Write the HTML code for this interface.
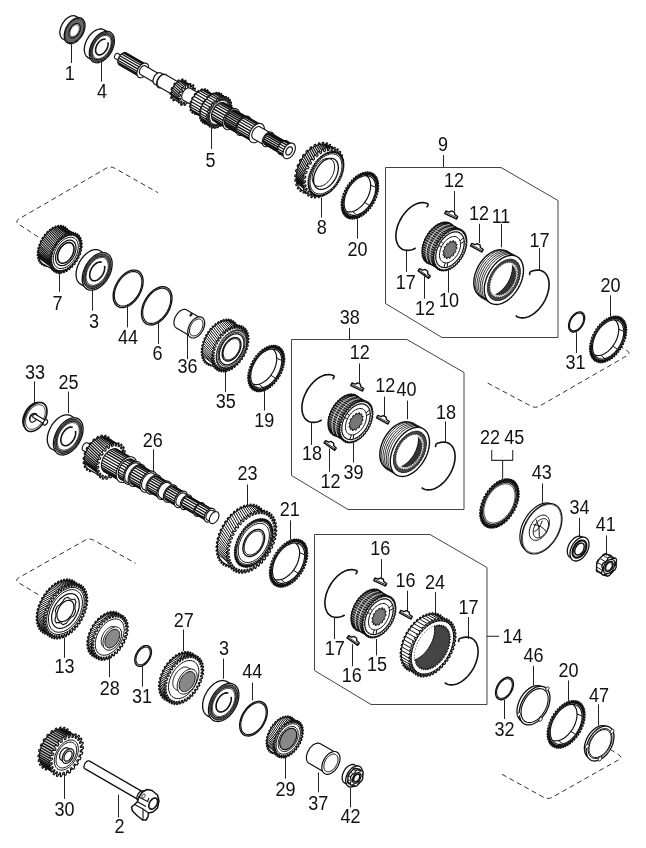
<!DOCTYPE html>
<html><head><meta charset="utf-8"><style>
html,body{margin:0;padding:0;background:#fff;}
svg{display:block;filter:grayscale(1);}
text{font-family:"Liberation Sans",sans-serif;fill:#111;}
</style></head><body>
<svg width="646" height="848" viewBox="0 0 646 848">
<rect width="646" height="848" fill="#fff"/>
<path d="M38.2 237.0L18.7 224.2Q14.5 221.5 18.8 219.0L106.1 168.3Q110.4 165.8 114.8 168.3L157.9 192.6" fill="none" stroke="#333" stroke-width="1.0" stroke-linejoin="round" stroke-dasharray="5 3.5"/>
<path d="M487.7 383.1L531.0 406.1Q535.4 408.5 539.7 406.0L627.0 355.7Q631.3 353.2 627.0 350.7L608.0 339.5" fill="none" stroke="#333" stroke-width="1.0" stroke-linejoin="round" stroke-dasharray="5 3.5"/>
<path d="M38.3 594.6L18.7 582.8Q14.4 580.2 18.8 577.7L84.9 540.3Q89.3 537.8 93.7 540.2L135.7 563.3" fill="none" stroke="#333" stroke-width="1.0" stroke-linejoin="round" stroke-dasharray="5 3.5"/>
<path d="M502.0 774.3L543.6 797.3Q548.0 799.7 552.4 797.2L618.5 759.9Q622.9 757.4 618.7 754.7L600.0 743.0" fill="none" stroke="#333" stroke-width="1.0" stroke-linejoin="round" stroke-dasharray="5 3.5"/>
<path d="M385.5 167.5 L501.0 167.5 L558.0 200.5 L558.0 337.5 L442.0 337.5 L385.5 303.5Z" fill="none" stroke="#444" stroke-width="1.0" stroke-linejoin="round" />
<path d="M415.7 248.1 L414.4 248.7 L413.2 249.3 L411.9 249.7 L410.7 250.0 L409.5 250.3 L408.3 250.4 L407.1 250.4 L406.0 250.3 L404.9 250.1 L403.8 249.8 L402.8 249.5 L401.9 249.0 L401.0 248.4 L400.2 247.7 L399.4 246.9 L398.7 246.0 L398.1 245.1 L397.6 244.0 L397.1 242.9 L396.7 241.8 L396.4 240.5 L396.1 239.2 L396.0 237.8 L395.9 236.4 L395.9 235.0 L396.0 233.5 L396.2 231.9 L396.5 230.4 L396.8 228.8 L397.2 227.3 L397.7 225.7 L398.3 224.1 L399.0 222.5 L399.7 221.0 L400.5 219.5 L401.3 218.0 L402.2 216.5 L403.2 215.1 L404.2 213.7 L405.3 212.4 L406.4 211.2 L407.5 210.0 L408.7 208.9 L409.9 207.9 L411.1 206.9 L412.3 206.1 L413.6 205.3 L414.9 204.6 L416.1 204.0 L417.4 203.5 L418.6 203.1 L419.8 202.9 L421.0 202.7 L422.2 202.6 L423.4 202.6 L424.5 202.7 L425.6 203.0 L426.6 203.3 L427.6 203.7 L428.5 204.3" fill="none" stroke="#111" stroke-width="1.6" stroke-linejoin="round" />
<path d="M529.7 272.2 L530.9 271.6 L532.2 271.1 L533.5 270.7 L534.7 270.4 L535.9 270.2 L537.1 270.1 L538.3 270.1 L539.4 270.2 L540.5 270.5 L541.6 270.8 L542.5 271.2 L543.5 271.8 L544.4 272.4 L545.2 273.2 L545.9 274.0 L546.6 274.9 L547.2 275.9 L547.7 277.0 L548.1 278.2 L548.5 279.4 L548.8 280.7 L548.9 282.1 L549.1 283.5 L549.1 284.9 L549.0 286.4 L548.9 288.0 L548.6 289.5 L548.3 291.1 L547.9 292.7 L547.4 294.3 L546.9 295.9 L546.2 297.5 L545.5 299.1 L544.8 300.6 L543.9 302.1 L543.0 303.6 L542.1 305.1 L541.0 306.4 L540.0 307.8 L538.9 309.1 L537.7 310.3 L536.5 311.4 L535.3 312.5 L534.1 313.4 L532.8 314.3 L531.6 315.1 L530.3 315.8 L529.0 316.4 L527.7 316.9 L526.5 317.3 L525.2 317.6 L524.0 317.8 L522.8 317.9 L521.6 317.9 L520.5 317.8 L519.4 317.5 L518.4 317.2 L517.4 316.7 L516.5 316.2 L515.6 315.6" fill="none" stroke="#111" stroke-width="1.6" stroke-linejoin="round" />
<path d="M428.5 204.3L426.7 207.3" fill="none" stroke="#111" stroke-width="1.6" stroke-linejoin="round" />
<path d="M529.7 272.2L529.7 275.1" fill="none" stroke="#111" stroke-width="1.6" stroke-linejoin="round" />
<g transform="translate(451.5 214.5) rotate(25) scale(1.0)"><path d="M-6.5 -0.8 L-3 -1.3 L-1.6 -3.3 L1.6 -3.3 L3 -1.3 L6.5 -0.8 L6.5 2 L-6.5 2Z" fill="#fff" stroke="#111" stroke-width="1.4" stroke-linejoin="round"/><path d="M-6.5 0.6L6.5 0.6" stroke="#111" stroke-width="0.8"/></g>
<g transform="translate(477.2 247.2) rotate(28) scale(1.0)"><path d="M-6.5 -0.8 L-3 -1.3 L-1.6 -3.3 L1.6 -3.3 L3 -1.3 L6.5 -0.8 L6.5 2 L-6.5 2Z" fill="#fff" stroke="#111" stroke-width="1.4" stroke-linejoin="round"/><path d="M-6.5 0.6L6.5 0.6" stroke="#111" stroke-width="0.8"/></g>
<g transform="translate(424.5 273.0) rotate(35) scale(1.0)"><path d="M-6.5 -0.8 L-3 -1.3 L-1.6 -3.3 L1.6 -3.3 L3 -1.3 L6.5 -0.8 L6.5 2 L-6.5 2Z" fill="#fff" stroke="#111" stroke-width="1.4" stroke-linejoin="round"/><path d="M-6.5 0.6L6.5 0.6" stroke="#111" stroke-width="0.8"/></g>
<path d="M449.6 224.4 L450.7 223.4 L451.2 223.7 L450.7 225.1 L451.1 225.5 L452.2 224.6 L452.6 225.0 L452.0 226.4 L452.4 226.9 L453.5 226.2 L453.8 226.7 L453.1 228.1 L453.4 228.6 L454.5 228.1 L454.8 228.7 L453.9 230.0 L454.1 230.6 L455.2 230.3 L455.4 231.0 L454.5 232.2 L454.6 232.8 L455.6 232.7 L455.7 233.5 L454.7 234.5 L454.7 235.3 L455.7 235.3 L455.7 236.1 L454.6 237.1 L454.6 237.9 L455.5 238.1 L455.4 238.9 L454.3 239.7 L454.1 240.5 L455.0 240.9 L454.8 241.8 L453.7 242.4 L453.4 243.3 L454.2 243.8 L453.9 244.7 L452.7 245.2 L452.4 246.0 L453.0 246.7 L452.6 247.6 L451.6 247.9 L451.2 248.6 L451.7 249.6 L451.2 250.4 L450.1 250.5 L449.7 251.2 L450.0 252.3 L449.5 253.0 L448.5 252.9 L448.0 253.6 L448.2 254.8 L447.6 255.5 L446.7 255.2 L446.1 255.9 L446.2 257.1 L445.5 257.8 L444.7 257.3 L444.1 257.9 L444.0 259.2 L443.4 259.8 L442.7 259.1 L442.0 259.6 L441.8 261.0 L441.1 261.4 L440.5 260.6 L439.9 261.0 L439.5 262.4 L438.8 262.8 L438.3 261.8 L437.7 262.1 L437.2 263.5 L436.5 263.7 L436.2 262.6 L435.5 262.8 L434.9 264.2 L434.2 264.3 L434.1 263.1 L433.4 263.2 L432.7 264.5 L432.0 264.5 L432.0 263.2 L431.4 263.2 L430.6 264.4 L430.0 264.3 L430.1 262.9 L429.6 262.8 L428.6 263.9 L428.1 263.7 L428.4 262.3 L427.9 262.0 L426.8 263.1 L426.4 262.7 L426.8 261.3 L426.4 260.9 L425.3 261.8 L424.9 261.4 L425.5 260.0 L425.1 259.5 L424.0 260.2 L423.7 259.7 L424.4 258.3 L424.1 257.8 L423.0 258.3 L422.8 257.7 L423.6 256.4 L423.4 255.8 L422.3 256.2 L422.1 255.4 L423.1 254.3 L423.0 253.6 L421.9 253.7 L421.8 253.0 L422.8 251.9 L422.8 251.1 L421.8 251.1 L421.8 250.3 L422.9 249.3 L422.9 248.6 L422.0 248.3 L422.1 247.5 L423.2 246.7 L423.4 245.9 L422.5 245.5 L422.7 244.6 L423.9 244.0 L424.1 243.2 L423.4 242.6 L423.7 241.7 L424.8 241.2 L425.1 240.4 L424.5 239.7 L424.9 238.8 L426.0 238.6 L426.4 237.8 L425.9 236.9 L426.3 236.0 L427.4 236.0 L427.8 235.2 L427.5 234.1 L428.0 233.4 L429.0 233.5 L429.5 232.8 L429.3 231.6 L429.9 230.9 L430.8 231.2 L431.4 230.5 L431.3 229.3 L432.0 228.6 L432.8 229.1 L433.4 228.6 L433.5 227.2 L434.2 226.7 L434.9 227.3 L435.5 226.8 L435.7 225.5 L436.4 225.0 L437.0 225.8 L437.6 225.4 L438.0 224.0 L438.7 223.7 L439.2 224.6 L439.8 224.3 L440.4 222.9 L441.0 222.7 L441.3 223.8 L442.0 223.6 L442.6 222.2 L443.3 222.1 L443.5 223.3 L444.1 223.2 L444.9 221.9 L445.5 221.9 L445.5 223.2 L446.1 223.2 L447.0 222.0 L447.6 222.1 L447.4 223.5 L447.9 223.6 L448.9 222.5 L449.5 222.7 L449.1 224.1Z" fill="#fff" stroke="#111" stroke-width="1.1" stroke-linejoin="round" />
<path d="M450.0 223.8 L448.9 223.2 L447.7 222.8 L446.5 222.6 L445.2 222.6 L443.8 222.6 L442.5 222.9 L441.0 223.3 L439.6 223.8 L438.2 224.5 L436.7 225.4 L435.3 226.4 L433.9 227.5 L432.6 228.7 L431.3 230.0 L430.0 231.4 L428.8 233.0 L427.7 234.6 L426.7 236.2 L425.8 238.0 L424.9 239.7 L424.2 241.5 L423.6 243.3 L423.1 245.1 L422.7 246.9 L422.4 248.7 L422.3 250.4 L422.3 252.0 L422.4 253.6 L422.6 255.1 L423.0 256.6 L423.5 257.9 L424.1 259.1 L424.8 260.2 L425.6 261.1 L426.5 262.0 L427.5 262.6 L438.8 269.1 L439.9 269.7 L441.1 270.1 L442.3 270.3 L443.6 270.4 L444.9 270.3 L446.3 270.0 L447.7 269.6 L449.2 269.1 L450.6 268.4 L452.0 267.5 L453.5 266.6 L454.8 265.5 L456.2 264.2 L457.5 262.9 L458.8 261.5 L459.9 259.9 L461.0 258.3 L462.1 256.7 L463.0 254.9 L463.8 253.2 L464.6 251.4 L465.2 249.6 L465.7 247.8 L466.1 246.0 L466.3 244.3 L466.5 242.5 L466.5 240.9 L466.4 239.3 L466.1 237.8 L465.8 236.3 L465.3 235.0 L464.7 233.8 L464.0 232.7 L463.2 231.8 L462.2 230.9 L461.2 230.3Z" fill="#999" stroke="#111" stroke-width="1.1" stroke-linejoin="round" />
<path d="M436.9 267.6L425.6 261.1M435.8 266.4L424.6 259.9M435.0 264.9L423.7 258.4M434.3 263.3L423.1 256.8M433.9 261.4L422.6 254.9M433.6 259.5L422.3 253.0M433.5 257.4L422.3 250.9M433.7 255.2L422.4 248.7M434.0 253.0L422.8 246.5M434.6 250.7L423.3 244.2M435.3 248.4L424.1 241.9M436.3 246.1L425.0 239.6M437.4 243.8L426.1 237.3M438.6 241.7L427.3 235.2M440.0 239.6L428.7 233.1M441.5 237.7L430.3 231.2M443.1 235.9L431.9 229.4M444.9 234.2L433.6 227.7M446.6 232.8L435.4 226.3M448.4 231.6L437.2 225.1M450.3 230.6L439.0 224.1M452.1 229.8L440.9 223.3M453.9 229.3L442.7 222.8M455.7 229.1L444.4 222.6M457.4 229.1L446.1 222.6M459.0 229.3L447.7 222.8" fill="none" stroke="#111" stroke-width="1.1" stroke-linejoin="round" />
<path d="M460.9 230.9 L461.9 229.9 L462.4 230.2 L462.0 231.6 L462.4 232.0 L463.5 231.1 L463.9 231.5 L463.3 232.9 L463.6 233.4 L464.8 232.7 L465.1 233.2 L464.4 234.6 L464.6 235.1 L465.8 234.6 L466.0 235.2 L465.2 236.5 L465.4 237.1 L466.5 236.8 L466.6 237.5 L465.7 238.7 L465.8 239.3 L466.9 239.2 L467.0 240.0 L466.0 241.0 L466.0 241.8 L467.0 241.8 L467.0 242.6 L465.9 243.6 L465.8 244.4 L466.8 244.6 L466.7 245.4 L465.6 246.2 L465.4 247.0 L466.2 247.4 L466.0 248.3 L464.9 248.9 L464.7 249.8 L465.4 250.3 L465.1 251.2 L464.0 251.7 L463.7 252.5 L464.3 253.2 L463.9 254.1 L462.8 254.4 L462.4 255.1 L462.9 256.1 L462.4 256.9 L461.4 257.0 L460.9 257.7 L461.3 258.8 L460.8 259.5 L459.8 259.4 L459.2 260.1 L459.4 261.3 L458.9 262.0 L458.0 261.7 L457.4 262.4 L457.4 263.6 L456.8 264.3 L456.0 263.8 L455.4 264.4 L455.3 265.7 L454.6 266.3 L453.9 265.6 L453.3 266.1 L453.0 267.5 L452.4 267.9 L451.8 267.1 L451.1 267.5 L450.7 268.9 L450.0 269.3 L449.6 268.3 L449.0 268.6 L448.4 270.0 L447.7 270.2 L447.4 269.1 L446.8 269.3 L446.1 270.7 L445.5 270.8 L445.3 269.6 L444.7 269.7 L443.9 271.0 L443.3 271.0 L443.3 269.7 L442.7 269.7 L441.8 270.9 L441.2 270.8 L441.4 269.4 L440.8 269.3 L439.9 270.4 L439.3 270.2 L439.6 268.8 L439.1 268.5 L438.1 269.6 L437.6 269.2 L438.1 267.8 L437.7 267.4 L436.6 268.3 L436.2 267.9 L436.7 266.5 L436.4 266.0 L435.3 266.7 L434.9 266.2 L435.7 264.8 L435.4 264.3 L434.3 264.8 L434.0 264.2 L434.8 262.9 L434.7 262.3 L433.5 262.7 L433.4 261.9 L434.3 260.8 L434.2 260.1 L433.1 260.2 L433.1 259.5 L434.1 258.4 L434.1 257.6 L433.0 257.6 L433.1 256.8 L434.1 255.8 L434.2 255.1 L433.3 254.8 L433.4 254.0 L434.5 253.2 L434.6 252.4 L433.8 252.0 L434.0 251.1 L435.1 250.5 L435.4 249.7 L434.6 249.1 L434.9 248.2 L436.0 247.7 L436.4 246.9 L435.7 246.2 L436.1 245.3 L437.2 245.1 L437.6 244.3 L437.1 243.4 L437.6 242.5 L438.6 242.5 L439.1 241.7 L438.7 240.6 L439.3 239.9 L440.3 240.0 L440.8 239.3 L440.6 238.1 L441.2 237.4 L442.1 237.7 L442.7 237.0 L442.6 235.8 L443.2 235.1 L444.0 235.6 L444.6 235.1 L444.7 233.7 L445.4 233.2 L446.1 233.8 L446.7 233.3 L447.0 232.0 L447.7 231.5 L448.3 232.3 L448.9 231.9 L449.3 230.5 L450.0 230.2 L450.4 231.1 L451.1 230.8 L451.6 229.4 L452.3 229.2 L452.6 230.3 L453.2 230.1 L453.9 228.7 L454.6 228.6 L454.7 229.8 L455.3 229.7 L456.1 228.4 L456.8 228.4 L456.8 229.7 L457.3 229.7 L458.2 228.5 L458.8 228.6 L458.7 230.0 L459.2 230.1 L460.2 229.0 L460.7 229.2 L460.4 230.6Z" fill="#fff" stroke="#111" stroke-width="1.1" stroke-linejoin="round" />
<path d="M459.7 232.9 L461.0 233.8 L462.1 235.0 L463.0 236.5 L463.7 238.1 L464.1 240.0 L464.3 242.1 L464.2 244.2 L463.9 246.5 L463.4 248.8 L462.6 251.2 L461.6 253.5 L460.5 255.7 L459.1 257.9 L457.6 259.9 L455.9 261.7 L454.2 263.3 L452.4 264.7 L450.5 265.9 L448.7 266.7 L446.8 267.3 L445.0 267.6 L443.3 267.5 L441.7 267.2 L440.3 266.5 L439.0 265.6 L437.9 264.4 L437.0 263.0 L436.4 261.3 L435.9 259.4 L435.8 257.4 L435.8 255.2 L436.1 252.9 L436.6 250.6 L437.4 248.2 L438.4 245.9 L439.6 243.7 L440.9 241.5 L442.4 239.5 L444.1 237.7 L445.8 236.1 L447.7 234.7 L449.5 233.5 L451.4 232.7 L453.2 232.1 L455.0 231.8 L456.7 231.9 L458.3 232.2 L459.7 232.9Z" fill="#fff" stroke="#111" stroke-width="1.2" stroke-linejoin="round" />
<path d="M457.2 237.3 L458.1 238.0 L458.9 238.8 L459.6 239.9 L460.1 241.2 L460.4 242.6 L460.5 244.1 L460.5 245.7 L460.3 247.3 L459.9 249.1 L459.3 250.8 L458.6 252.5 L457.7 254.2 L456.7 255.7 L455.6 257.2 L454.4 258.6 L453.1 259.8 L451.8 260.8 L450.4 261.6 L449.0 262.3 L447.7 262.7 L446.3 262.9 L445.1 262.9 L443.9 262.6 L442.8 262.1 L441.9 261.4 L441.1 260.6 L440.4 259.5 L439.9 258.2 L439.6 256.9 L439.5 255.3 L439.5 253.7 L439.8 252.1 L440.1 250.4 L440.7 248.6 L441.4 246.9 L442.3 245.3 L443.3 243.7 L444.4 242.2 L445.6 240.8 L446.9 239.6 L448.3 238.6 L449.6 237.8 L451.0 237.1 L452.4 236.7 L453.7 236.5 L455.0 236.5 L456.1 236.8 L457.2 237.3Z" fill="none" stroke="#111" stroke-width="1.0" stroke-linejoin="round" />
<path d="M454.1 242.6 L455.3 241.6 L455.9 242.2 L455.3 243.7 L455.6 244.4 L456.9 244.0 L457.1 245.0 L456.0 246.3 L456.0 247.3 L457.1 247.6 L456.8 248.8 L455.6 249.6 L455.2 250.6 L455.8 251.6 L455.2 252.7 L454.0 252.9 L453.4 253.8 L453.5 255.2 L452.6 256.1 L451.7 255.5 L450.9 256.1 L450.4 257.7 L449.5 258.2 L449.0 257.1 L448.2 257.2 L447.3 258.6 L446.4 258.6 L446.5 257.1 L445.9 256.8 L444.7 257.8 L444.1 257.2 L444.7 255.7 L444.4 255.0 L443.2 255.4 L443.0 254.4 L444.0 253.1 L444.0 252.2 L443.0 251.8 L443.2 250.6 L444.4 249.8 L444.8 248.8 L444.2 247.8 L444.8 246.7 L446.0 246.5 L446.6 245.6 L446.6 244.2 L447.4 243.3 L448.3 243.9 L449.1 243.3 L449.6 241.7 L450.6 241.2 L451.0 242.4 L451.8 242.2 L452.7 240.8 L453.6 240.8 L453.5 242.3Z" fill="#777" stroke="#111" stroke-width="1.0" stroke-linejoin="round" />
<path d="M432.0 264.1 L431.6 263.4 L431.2 262.7 L430.9 261.9 L430.6 261.1 L430.4 260.3 L430.2 259.4 L430.0 258.5 L429.9 257.5 L429.8 256.6 L429.8 255.6 L429.9 254.5 L429.9 253.5 L430.1 252.4 L430.2 251.4 L430.4 250.3 L430.7 249.2 L431.0 248.1 L431.3 247.0 L431.7 245.9 L432.2 244.8 L432.6 243.8 L433.1 242.7 L433.7 241.6 L434.2 240.6 L434.9 239.6 L435.5 238.6 L436.2 237.6 L436.9 236.7 L437.6 235.8 L438.4 234.9 L439.1 234.0 L439.9 233.2 L440.7 232.5 L441.6 231.7 L442.4 231.1 L443.3 230.4 L444.1 229.8 L445.0 229.3 L445.9 228.8 L446.7 228.4 L447.6 228.0 L448.5 227.7 L449.3 227.4 L450.2 227.2 L451.0 227.0 L451.9 226.9 L452.7 226.9 L453.5 226.9" fill="none" stroke="#fff" stroke-width="0.8" stroke-linejoin="round" />
<path d="M428.3 261.9 L427.9 261.3 L427.5 260.5 L427.2 259.8 L426.9 259.0 L426.7 258.1 L426.5 257.2 L426.3 256.3 L426.2 255.4 L426.1 254.4 L426.1 253.4 L426.1 252.4 L426.2 251.4 L426.3 250.3 L426.5 249.2 L426.7 248.1 L427.0 247.1 L427.3 246.0 L427.6 244.9 L428.0 243.8 L428.4 242.7 L428.9 241.6 L429.4 240.5 L430.0 239.5 L430.5 238.5 L431.1 237.4 L431.8 236.4 L432.5 235.5 L433.2 234.5 L433.9 233.6 L434.6 232.7 L435.4 231.9 L436.2 231.1 L437.0 230.3 L437.9 229.6 L438.7 228.9 L439.5 228.3 L440.4 227.7 L441.3 227.2 L442.1 226.7 L443.0 226.2 L443.9 225.9 L444.8 225.5 L445.6 225.3 L446.5 225.1 L447.3 224.9 L448.1 224.8 L449.0 224.8 L449.7 224.8" fill="none" stroke="#fff" stroke-width="0.8" stroke-linejoin="round" />
<path d="M463.6 237.8L460.0 240.9M464.2 241.5L460.5 243.6M447.1 267.2L447.8 262.7M443.7 267.6L445.4 262.9M438.5 245.6L441.6 246.7M441.0 241.4L443.4 243.6" fill="none" stroke="#111" stroke-width="1.0" stroke-linejoin="round" />
<path d="M505.4 251.2 L504.2 250.6 L502.9 250.1 L501.4 249.9 L500.0 249.8 L498.4 249.9 L496.8 250.2 L495.2 250.6 L493.6 251.3 L491.9 252.1 L490.3 253.0 L488.7 254.1 L487.1 255.4 L485.5 256.8 L484.1 258.3 L482.6 260.0 L481.3 261.7 L480.0 263.5 L478.8 265.4 L477.8 267.4 L476.8 269.4 L476.0 271.5 L475.3 273.5 L474.7 275.6 L474.3 277.6 L474.0 279.6 L473.8 281.6 L473.8 283.5 L473.9 285.3 L474.2 287.0 L474.6 288.7 L475.2 290.2 L475.8 291.5 L476.7 292.8 L477.6 293.9 L478.6 294.8 L479.8 295.6 L491.0 302.1 L492.3 302.7 L493.6 303.2 L495.0 303.4 L496.5 303.5 L498.1 303.4 L499.6 303.1 L501.3 302.7 L502.9 302.0 L504.5 301.2 L506.2 300.3 L507.8 299.1 L509.4 297.9 L510.9 296.5 L512.4 295.0 L513.9 293.3 L515.2 291.6 L516.5 289.7 L517.6 287.8 L518.7 285.9 L519.7 283.9 L520.5 281.8 L521.2 279.8 L521.8 277.7 L522.2 275.7 L522.5 273.7 L522.7 271.7 L522.7 269.8 L522.6 268.0 L522.3 266.2 L521.9 264.6 L521.3 263.1 L520.6 261.7 L519.8 260.5 L518.9 259.4 L517.9 258.4 L516.7 257.7Z" fill="#fff" stroke="#111" stroke-width="1.4" stroke-linejoin="round" />
<path d="M517.2 256.7 L519.0 258.0 L520.5 259.7 L521.7 261.7 L522.6 264.0 L523.2 266.6 L523.5 269.4 L523.4 272.4 L523.0 275.5 L522.3 278.7 L521.2 281.9 L519.9 285.1 L518.2 288.2 L516.4 291.1 L514.3 293.9 L512.0 296.4 L509.6 298.7 L507.1 300.6 L504.6 302.1 L502.0 303.3 L499.5 304.1 L497.0 304.5 L494.7 304.4 L492.5 303.9 L490.5 303.1 L488.7 301.8 L487.2 300.1 L486.0 298.1 L485.1 295.8 L484.5 293.2 L484.3 290.4 L484.3 287.4 L484.7 284.3 L485.5 281.1 L486.5 277.9 L487.9 274.7 L489.5 271.6 L491.4 268.6 L493.5 265.9 L495.7 263.4 L498.1 261.1 L500.6 259.2 L503.2 257.6 L505.7 256.5 L508.3 255.7 L510.7 255.3 L513.1 255.4 L515.3 255.8 L517.2 256.7Z" fill="#fff" stroke="#111" stroke-width="1.4" stroke-linejoin="round" />
<path d="M488.2 301.8 L487.3 301.2 L486.5 300.5 L485.7 299.7 L485.0 298.8 L484.3 297.9 L483.8 296.8 L483.3 295.7 L482.8 294.5 L482.5 293.2 L482.3 291.9 L482.1 290.5 L482.0 289.1 L482.0 287.6 L482.1 286.1 L482.2 284.6 L482.5 283.0 L482.8 281.4 L483.2 279.8 L483.7 278.2 L484.3 276.6 L484.9 275.0 L485.6 273.4 L486.4 271.8 L487.3 270.3 L488.2 268.8 L489.1 267.3 L490.1 265.9 L491.2 264.6 L492.3 263.3 L493.5 262.1 L494.7 260.9 L495.9 259.8 L497.1 258.8 L498.4 257.9 L499.6 257.1 L500.9 256.3 L502.2 255.7 L503.5 255.2 L504.8 254.7 L506.0 254.4 L507.3 254.1 L508.5 254.0 L509.7 254.0 L510.8 254.1 L511.9 254.2 L513.0 254.5 L514.0 254.9 L515.0 255.4" fill="none" stroke="#111" stroke-width="0.9" stroke-linejoin="round" />
<path d="M486.6 300.8 L485.6 300.2 L484.8 299.5 L484.0 298.7 L483.3 297.8 L482.6 296.9 L482.1 295.8 L481.6 294.7 L481.2 293.5 L480.8 292.3 L480.6 290.9 L480.4 289.6 L480.3 288.1 L480.3 286.7 L480.4 285.1 L480.6 283.6 L480.8 282.0 L481.1 280.4 L481.5 278.8 L482.0 277.2 L482.6 275.6 L483.2 274.0 L483.9 272.4 L484.7 270.9 L485.6 269.3 L486.5 267.8 L487.4 266.4 L488.4 265.0 L489.5 263.6 L490.6 262.3 L491.8 261.1 L493.0 259.9 L494.2 258.8 L495.4 257.8 L496.7 256.9 L497.9 256.1 L499.2 255.4 L500.5 254.7 L501.8 254.2 L503.1 253.7 L504.3 253.4 L505.6 253.2 L506.8 253.0 L508.0 253.0 L509.1 253.1 L510.2 253.3 L511.3 253.6 L512.3 253.9 L513.3 254.4" fill="none" stroke="#111" stroke-width="0.9" stroke-linejoin="round" />
<path d="M484.9 299.8 L484.0 299.2 L483.1 298.5 L482.3 297.7 L481.6 296.9 L481.0 295.9 L480.4 294.9 L479.9 293.8 L479.5 292.6 L479.1 291.3 L478.9 290.0 L478.7 288.6 L478.6 287.2 L478.6 285.7 L478.7 284.2 L478.9 282.6 L479.1 281.0 L479.4 279.4 L479.8 277.8 L480.3 276.2 L480.9 274.6 L481.5 273.0 L482.3 271.4 L483.0 269.9 L483.9 268.3 L484.8 266.8 L485.7 265.4 L486.8 264.0 L487.8 262.6 L488.9 261.3 L490.1 260.1 L491.3 258.9 L492.5 257.9 L493.7 256.9 L495.0 256.0 L496.3 255.1 L497.5 254.4 L498.8 253.7 L500.1 253.2 L501.4 252.8 L502.6 252.4 L503.9 252.2 L505.1 252.1 L506.3 252.0 L507.4 252.1 L508.6 252.3 L509.6 252.6 L510.7 253.0 L511.6 253.5" fill="none" stroke="#111" stroke-width="0.9" stroke-linejoin="round" />
<path d="M483.2 298.8 L482.3 298.2 L481.4 297.6 L480.6 296.8 L479.9 295.9 L479.3 294.9 L478.7 293.9 L478.2 292.8 L477.8 291.6 L477.4 290.3 L477.2 289.0 L477.0 287.6 L476.9 286.2 L476.9 284.7 L477.0 283.2 L477.2 281.6 L477.4 280.1 L477.7 278.5 L478.2 276.9 L478.6 275.3 L479.2 273.6 L479.9 272.0 L480.6 270.5 L481.3 268.9 L482.2 267.4 L483.1 265.9 L484.1 264.4 L485.1 263.0 L486.1 261.7 L487.2 260.4 L488.4 259.1 L489.6 258.0 L490.8 256.9 L492.0 255.9 L493.3 255.0 L494.6 254.1 L495.9 253.4 L497.1 252.8 L498.4 252.2 L499.7 251.8 L501.0 251.4 L502.2 251.2 L503.4 251.1 L504.6 251.1 L505.8 251.1 L506.9 251.3 L507.9 251.6 L509.0 252.0 L509.9 252.5" fill="none" stroke="#111" stroke-width="0.9" stroke-linejoin="round" />
<path d="M481.5 297.9 L480.6 297.3 L479.7 296.6 L478.9 295.8 L478.2 294.9 L477.6 294.0 L477.0 292.9 L476.5 291.8 L476.1 290.6 L475.8 289.3 L475.5 288.0 L475.3 286.6 L475.2 285.2 L475.2 283.7 L475.3 282.2 L475.5 280.7 L475.7 279.1 L476.1 277.5 L476.5 275.9 L477.0 274.3 L477.5 272.7 L478.2 271.1 L478.9 269.5 L479.7 267.9 L480.5 266.4 L481.4 264.9 L482.4 263.4 L483.4 262.0 L484.4 260.7 L485.6 259.4 L486.7 258.2 L487.9 257.0 L489.1 255.9 L490.4 254.9 L491.6 254.0 L492.9 253.2 L494.2 252.4 L495.4 251.8 L496.7 251.3 L498.0 250.8 L499.3 250.5 L500.5 250.2 L501.7 250.1 L502.9 250.1 L504.1 250.2 L505.2 250.3 L506.3 250.6 L507.3 251.0 L508.2 251.5" fill="none" stroke="#111" stroke-width="0.9" stroke-linejoin="round" />
<clipPath id="c1"><path d="M515.1 260.4 L516.6 261.5 L517.8 262.9 L518.9 264.6 L519.6 266.5 L520.1 268.7 L520.4 271.1 L520.3 273.6 L519.9 276.2 L519.3 278.9 L518.4 281.6 L517.3 284.3 L515.9 286.9 L514.4 289.3 L512.6 291.7 L510.7 293.8 L508.7 295.7 L506.6 297.3 L504.5 298.6 L502.3 299.6 L500.2 300.2 L498.1 300.5 L496.1 300.5 L494.3 300.1 L492.6 299.4 L491.2 298.3 L489.9 296.9 L488.9 295.2 L488.1 293.3 L487.6 291.1 L487.4 288.7 L487.5 286.2 L487.8 283.6 L488.4 280.9 L489.3 278.2 L490.4 275.5 L491.8 272.9 L493.4 270.4 L495.1 268.1 L497.0 266.0 L499.0 264.1 L501.1 262.5 L503.3 261.2 L505.4 260.2 L507.6 259.5 L509.6 259.2 L511.6 259.3 L513.4 259.7 L515.1 260.4Z"/></clipPath>
<path d="M514.2 262.0 L515.4 260.6 L515.9 261.0 L515.3 262.7 L515.7 263.1 L517.0 261.9 L517.4 262.3 L516.6 264.0 L516.9 264.5 L518.3 263.5 L518.6 264.1 L517.6 265.7 L517.9 266.3 L519.3 265.5 L519.5 266.1 L518.4 267.7 L518.6 268.3 L520.0 267.8 L520.1 268.5 L518.9 269.9 L519.0 270.6 L520.3 270.3 L520.4 271.1 L519.0 272.3 L519.0 273.0 L520.3 273.0 L520.3 273.8 L518.9 274.8 L518.8 275.6 L520.0 275.8 L519.8 276.7 L518.5 277.5 L518.3 278.3 L519.4 278.7 L519.1 279.6 L517.7 280.2 L517.4 281.0 L518.4 281.7 L518.1 282.6 L516.7 282.9 L516.3 283.7 L517.1 284.6 L516.7 285.4 L515.4 285.5 L515.0 286.3 L515.6 287.4 L515.1 288.2 L513.9 288.1 L513.4 288.8 L513.8 290.1 L513.3 290.8 L512.2 290.4 L511.6 291.1 L511.9 292.5 L511.3 293.2 L510.3 292.6 L509.7 293.2 L509.7 294.7 L509.1 295.3 L508.2 294.5 L507.6 295.0 L507.5 296.6 L506.8 297.1 L506.1 296.0 L505.5 296.5 L505.2 298.2 L504.5 298.6 L504.0 297.3 L503.3 297.6 L502.8 299.4 L502.1 299.6 L501.8 298.2 L501.2 298.4 L500.5 300.2 L499.8 300.3 L499.7 298.8 L499.1 298.8 L498.2 300.5 L497.6 300.6 L497.7 298.9 L497.1 298.9 L496.1 300.5 L495.5 300.4 L495.8 298.7 L495.2 298.5 L494.1 300.0 L493.5 299.8 L494.0 298.1 L493.5 297.8 L492.3 299.1 L491.8 298.8 L492.5 297.1 L492.1 296.7 L490.7 297.9 L490.3 297.4 L491.2 295.7 L490.8 295.3 L489.5 296.2 L489.1 295.7 L490.1 294.1 L489.9 293.5 L488.5 294.3 L488.2 293.6 L489.3 292.1 L489.2 291.5 L487.8 292.0 L487.6 291.3 L488.9 289.9 L488.8 289.2 L487.4 289.5 L487.4 288.7 L488.7 287.5 L488.7 286.8 L487.4 286.8 L487.5 286.0 L488.8 285.0 L488.9 284.2 L487.7 284.0 L487.9 283.1 L489.3 282.3 L489.5 281.5 L488.4 281.0 L488.6 280.2 L490.0 279.6 L490.3 278.8 L489.3 278.1 L489.7 277.2 L491.1 276.9 L491.4 276.1 L490.6 275.2 L491.0 274.3 L492.3 274.3 L492.8 273.5 L492.1 272.4 L492.6 271.5 L493.9 271.7 L494.4 271.0 L493.9 269.7 L494.5 268.9 L495.6 269.4 L496.1 268.7 L495.9 267.2 L496.5 266.6 L497.5 267.2 L498.1 266.6 L498.0 265.0 L498.7 264.4 L499.5 265.3 L500.1 264.8 L500.3 263.1 L500.9 262.6 L501.6 263.7 L502.3 263.3 L502.6 261.6 L503.3 261.2 L503.8 262.5 L504.4 262.2 L504.9 260.4 L505.6 260.1 L505.9 261.6 L506.6 261.4 L507.3 259.6 L508.0 259.5 L508.0 261.0 L508.7 260.9 L509.5 259.2 L510.2 259.2 L510.1 260.9 L510.7 260.9 L511.7 259.3 L512.3 259.4 L512.0 261.1 L512.5 261.3 L513.7 259.8 L514.2 260.0 L513.7 261.7Z" fill="#333" stroke="#111" stroke-width="1.0" stroke-linejoin="round" />
<g clip-path="url(#c1)">
<path d="M507.2 255.9 L508.7 256.9 L510.0 258.3 L511.0 260.0 L511.8 262.0 L512.3 264.1 L512.5 266.5 L512.4 269.0 L512.1 271.6 L511.4 274.3 L510.6 277.0 L509.4 279.7 L508.1 282.3 L506.5 284.8 L504.7 287.1 L502.8 289.2 L500.8 291.1 L498.7 292.7 L496.6 294.0 L494.4 295.0 L492.3 295.7 L490.2 296.0 L488.3 295.9 L486.4 295.5 L484.8 294.8 L483.3 293.7 L482.0 292.3 L481.0 290.7 L480.2 288.7 L479.7 286.5 L479.5 284.2 L479.6 281.7 L479.9 279.0 L480.5 276.3 L481.4 273.6 L482.6 271.0 L483.9 268.4 L485.5 265.9 L487.2 263.6 L489.1 261.5 L491.2 259.6 L493.3 258.0 L495.4 256.6 L497.6 255.7 L499.7 255.0 L501.8 254.7 L503.7 254.7 L505.6 255.1 L507.2 255.9Z" fill="#fff" stroke="#111" stroke-width="1.0" stroke-linejoin="round" />
</g>
<path d="M515.1 260.4 L516.6 261.5 L517.8 262.9 L518.9 264.6 L519.6 266.5 L520.1 268.7 L520.4 271.1 L520.3 273.6 L519.9 276.2 L519.3 278.9 L518.4 281.6 L517.3 284.3 L515.9 286.9 L514.4 289.3 L512.6 291.7 L510.7 293.8 L508.7 295.7 L506.6 297.3 L504.5 298.6 L502.3 299.6 L500.2 300.2 L498.1 300.5 L496.1 300.5 L494.3 300.1 L492.6 299.4 L491.2 298.3 L489.9 296.9 L488.9 295.2 L488.1 293.3 L487.6 291.1 L487.4 288.7 L487.5 286.2 L487.8 283.6 L488.4 280.9 L489.3 278.2 L490.4 275.5 L491.8 272.9 L493.4 270.4 L495.1 268.1 L497.0 266.0 L499.0 264.1 L501.1 262.5 L503.3 261.2 L505.4 260.2 L507.6 259.5 L509.6 259.2 L511.6 259.3 L513.4 259.7 L515.1 260.4ZM513.2 263.7 L514.5 264.6 L515.5 265.7 L516.4 267.1 L517.0 268.7 L517.4 270.6 L517.6 272.5 L517.6 274.6 L517.3 276.8 L516.7 279.0 L516.0 281.3 L515.1 283.5 L513.9 285.7 L512.6 287.8 L511.2 289.7 L509.6 291.5 L507.9 293.0 L506.1 294.4 L504.4 295.5 L502.6 296.3 L500.8 296.8 L499.1 297.1 L497.4 297.1 L495.9 296.7 L494.5 296.1 L493.3 295.2 L492.2 294.1 L491.4 292.7 L490.7 291.0 L490.3 289.2 L490.1 287.3 L490.2 285.2 L490.5 283.0 L491.0 280.7 L491.7 278.5 L492.7 276.2 L493.8 274.1 L495.1 272.0 L496.6 270.1 L498.2 268.3 L499.8 266.7 L501.6 265.4 L503.4 264.3 L505.2 263.5 L507.0 262.9 L508.7 262.7 L510.3 262.7 L511.8 263.0 L513.2 263.7Z" fill="#444" stroke="#111" stroke-width="0.6" stroke-linejoin="round" fill-rule="evenodd"/>
<path d="M512.3 265.2 L513.5 263.9 L514.0 264.2 L513.3 265.9 L513.7 266.2 L515.0 265.0 L515.3 265.5 L514.4 267.1 L514.7 267.6 L516.1 266.6 L516.4 267.1 L515.3 268.7 L515.5 269.2 L516.9 268.5 L517.1 269.1 L515.9 270.5 L516.1 271.1 L517.4 270.6 L517.5 271.3 L516.2 272.6 L516.3 273.2 L517.6 273.0 L517.6 273.8 L516.3 274.8 L516.2 275.5 L517.5 275.6 L517.3 276.4 L516.0 277.2 L515.8 277.9 L517.0 278.2 L516.7 279.0 L515.4 279.6 L515.1 280.3 L516.1 280.9 L515.8 281.7 L514.5 282.1 L514.2 282.8 L515.0 283.6 L514.6 284.4 L513.3 284.4 L513.0 285.1 L513.6 286.2 L513.2 286.9 L512.0 286.7 L511.5 287.4 L512.0 288.6 L511.5 289.3 L510.4 288.8 L509.9 289.4 L510.2 290.8 L509.6 291.5 L508.7 290.7 L508.1 291.2 L508.2 292.8 L507.6 293.3 L506.8 292.3 L506.2 292.8 L506.1 294.4 L505.4 294.8 L504.9 293.6 L504.3 294.0 L503.9 295.7 L503.3 296.0 L502.9 294.6 L502.4 294.8 L501.8 296.6 L501.1 296.8 L501.0 295.2 L500.5 295.3 L499.7 297.0 L499.1 297.1 L499.2 295.5 L498.6 295.5 L497.7 297.1 L497.1 297.0 L497.4 295.3 L496.9 295.2 L495.8 296.7 L495.3 296.5 L495.8 294.8 L495.4 294.6 L494.2 295.9 L493.7 295.6 L494.5 293.9 L494.1 293.5 L492.8 294.7 L492.4 294.3 L493.3 292.6 L493.0 292.2 L491.7 293.2 L491.4 292.7 L492.4 291.1 L492.2 290.6 L490.8 291.3 L490.6 290.7 L491.8 289.3 L491.7 288.7 L490.3 289.1 L490.2 288.5 L491.5 287.2 L491.5 286.5 L490.1 286.8 L490.1 286.0 L491.5 285.0 L491.5 284.3 L490.3 284.2 L490.4 283.4 L491.8 282.6 L491.9 281.9 L490.8 281.5 L491.0 280.7 L492.4 280.2 L492.6 279.4 L491.6 278.8 L491.9 278.0 L493.3 277.7 L493.6 277.0 L492.7 276.2 L493.1 275.4 L494.4 275.3 L494.8 274.6 L494.1 273.6 L494.6 272.8 L495.8 273.1 L496.2 272.4 L495.7 271.1 L496.3 270.5 L497.3 271.0 L497.8 270.4 L497.6 268.9 L498.2 268.3 L499.1 269.1 L499.6 268.6 L499.6 267.0 L500.2 266.5 L500.9 267.5 L501.5 267.0 L501.7 265.4 L502.3 264.9 L502.8 266.1 L503.4 265.8 L503.8 264.1 L504.5 263.8 L504.8 265.2 L505.4 264.9 L506.0 263.2 L506.6 263.0 L506.7 264.6 L507.3 264.4 L508.1 262.7 L508.7 262.7 L508.6 264.3 L509.1 264.3 L510.1 262.7 L510.6 262.8 L510.3 264.5 L510.8 264.6 L511.9 263.1 L512.4 263.3 L511.9 265.0Z" fill="none" stroke="#fff" stroke-width="0.9" stroke-linejoin="round" />
<path d="M291.5 339.5 L407.0 339.5 L464.0 372.5 L464.0 509.5 L348.0 509.5 L291.5 475.5Z" fill="none" stroke="#444" stroke-width="1.0" stroke-linejoin="round" />
<path d="M321.7 420.1 L320.4 420.7 L319.2 421.3 L317.9 421.7 L316.7 422.0 L315.5 422.3 L314.3 422.4 L313.1 422.4 L312.0 422.3 L310.9 422.1 L309.8 421.8 L308.8 421.5 L307.9 421.0 L307.0 420.4 L306.2 419.7 L305.4 418.9 L304.7 418.0 L304.1 417.1 L303.6 416.0 L303.1 414.9 L302.7 413.8 L302.4 412.5 L302.1 411.2 L302.0 409.8 L301.9 408.4 L301.9 407.0 L302.0 405.5 L302.2 403.9 L302.5 402.4 L302.8 400.8 L303.2 399.3 L303.7 397.7 L304.3 396.1 L305.0 394.5 L305.7 393.0 L306.5 391.5 L307.3 390.0 L308.2 388.5 L309.2 387.1 L310.2 385.7 L311.3 384.4 L312.4 383.2 L313.5 382.0 L314.7 380.9 L315.9 379.9 L317.1 378.9 L318.3 378.1 L319.6 377.3 L320.9 376.6 L322.1 376.0 L323.4 375.5 L324.6 375.1 L325.8 374.9 L327.0 374.7 L328.2 374.6 L329.4 374.6 L330.5 374.7 L331.6 375.0 L332.6 375.3 L333.6 375.7 L334.5 376.3" fill="none" stroke="#111" stroke-width="1.6" stroke-linejoin="round" />
<path d="M435.7 444.2 L436.9 443.6 L438.2 443.1 L439.5 442.7 L440.7 442.4 L441.9 442.2 L443.1 442.1 L444.3 442.1 L445.4 442.2 L446.5 442.5 L447.6 442.8 L448.5 443.2 L449.5 443.8 L450.4 444.4 L451.2 445.2 L451.9 446.0 L452.6 446.9 L453.2 447.9 L453.7 449.0 L454.1 450.2 L454.5 451.4 L454.8 452.7 L454.9 454.1 L455.1 455.5 L455.1 456.9 L455.0 458.4 L454.9 460.0 L454.6 461.5 L454.3 463.1 L453.9 464.7 L453.4 466.3 L452.9 467.9 L452.2 469.5 L451.5 471.1 L450.8 472.6 L449.9 474.1 L449.0 475.6 L448.1 477.1 L447.0 478.4 L446.0 479.8 L444.9 481.1 L443.7 482.3 L442.5 483.4 L441.3 484.5 L440.1 485.4 L438.8 486.3 L437.6 487.1 L436.3 487.8 L435.0 488.4 L433.7 488.9 L432.5 489.3 L431.2 489.6 L430.0 489.8 L428.8 489.9 L427.6 489.9 L426.5 489.8 L425.4 489.5 L424.4 489.2 L423.4 488.7 L422.5 488.2 L421.6 487.6" fill="none" stroke="#111" stroke-width="1.6" stroke-linejoin="round" />
<path d="M334.5 376.3L332.7 379.3" fill="none" stroke="#111" stroke-width="1.6" stroke-linejoin="round" />
<path d="M435.7 444.2L435.7 447.1" fill="none" stroke="#111" stroke-width="1.6" stroke-linejoin="round" />
<g transform="translate(357.5 386.5) rotate(25) scale(1.0)"><path d="M-6.5 -0.8 L-3 -1.3 L-1.6 -3.3 L1.6 -3.3 L3 -1.3 L6.5 -0.8 L6.5 2 L-6.5 2Z" fill="#fff" stroke="#111" stroke-width="1.4" stroke-linejoin="round"/><path d="M-6.5 0.6L6.5 0.6" stroke="#111" stroke-width="0.8"/></g>
<g transform="translate(383.2 419.2) rotate(28) scale(1.0)"><path d="M-6.5 -0.8 L-3 -1.3 L-1.6 -3.3 L1.6 -3.3 L3 -1.3 L6.5 -0.8 L6.5 2 L-6.5 2Z" fill="#fff" stroke="#111" stroke-width="1.4" stroke-linejoin="round"/><path d="M-6.5 0.6L6.5 0.6" stroke="#111" stroke-width="0.8"/></g>
<g transform="translate(330.5 445.0) rotate(35) scale(1.0)"><path d="M-6.5 -0.8 L-3 -1.3 L-1.6 -3.3 L1.6 -3.3 L3 -1.3 L6.5 -0.8 L6.5 2 L-6.5 2Z" fill="#fff" stroke="#111" stroke-width="1.4" stroke-linejoin="round"/><path d="M-6.5 0.6L6.5 0.6" stroke="#111" stroke-width="0.8"/></g>
<path d="M355.6 396.4 L356.7 395.4 L357.2 395.7 L356.7 397.1 L357.1 397.5 L358.2 396.6 L358.6 397.0 L358.0 398.4 L358.4 398.9 L359.5 398.2 L359.8 398.7 L359.1 400.1 L359.4 400.6 L360.5 400.1 L360.8 400.7 L359.9 402.0 L360.1 402.6 L361.2 402.3 L361.4 403.0 L360.5 404.2 L360.6 404.8 L361.6 404.7 L361.7 405.5 L360.7 406.5 L360.7 407.3 L361.7 407.3 L361.7 408.1 L360.6 409.1 L360.6 409.9 L361.5 410.1 L361.4 410.9 L360.3 411.7 L360.1 412.5 L361.0 412.9 L360.8 413.8 L359.7 414.4 L359.4 415.3 L360.2 415.8 L359.9 416.7 L358.7 417.2 L358.4 418.0 L359.0 418.7 L358.6 419.6 L357.6 419.9 L357.2 420.6 L357.7 421.6 L357.2 422.4 L356.1 422.5 L355.7 423.2 L356.0 424.3 L355.5 425.0 L354.5 424.9 L354.0 425.6 L354.2 426.8 L353.6 427.5 L352.7 427.2 L352.1 427.9 L352.2 429.1 L351.5 429.8 L350.7 429.3 L350.1 429.9 L350.0 431.2 L349.4 431.8 L348.7 431.1 L348.0 431.6 L347.8 433.0 L347.1 433.4 L346.5 432.6 L345.9 433.0 L345.5 434.4 L344.8 434.8 L344.3 433.8 L343.7 434.1 L343.2 435.5 L342.5 435.7 L342.2 434.6 L341.5 434.8 L340.9 436.2 L340.2 436.3 L340.1 435.1 L339.4 435.2 L338.7 436.5 L338.0 436.5 L338.0 435.2 L337.4 435.2 L336.6 436.4 L336.0 436.3 L336.1 434.9 L335.6 434.8 L334.6 435.9 L334.1 435.7 L334.4 434.3 L333.9 434.0 L332.8 435.1 L332.4 434.7 L332.8 433.3 L332.4 432.9 L331.3 433.8 L330.9 433.4 L331.5 432.0 L331.1 431.5 L330.0 432.2 L329.7 431.7 L330.4 430.3 L330.1 429.8 L329.0 430.3 L328.8 429.7 L329.6 428.4 L329.4 427.8 L328.3 428.2 L328.1 427.4 L329.1 426.3 L329.0 425.6 L327.9 425.7 L327.8 425.0 L328.8 423.9 L328.8 423.1 L327.8 423.1 L327.8 422.3 L328.9 421.3 L328.9 420.6 L328.0 420.3 L328.1 419.5 L329.2 418.7 L329.4 417.9 L328.5 417.5 L328.7 416.6 L329.9 416.0 L330.1 415.2 L329.4 414.6 L329.7 413.7 L330.8 413.2 L331.1 412.4 L330.5 411.7 L330.9 410.8 L332.0 410.6 L332.4 409.8 L331.9 408.9 L332.3 408.0 L333.4 408.0 L333.8 407.2 L333.5 406.1 L334.0 405.4 L335.0 405.5 L335.5 404.8 L335.3 403.6 L335.9 402.9 L336.8 403.2 L337.4 402.5 L337.3 401.3 L338.0 400.6 L338.8 401.1 L339.4 400.6 L339.5 399.2 L340.2 398.7 L340.9 399.3 L341.5 398.8 L341.7 397.5 L342.4 397.0 L343.0 397.8 L343.6 397.4 L344.0 396.0 L344.7 395.7 L345.2 396.6 L345.8 396.3 L346.4 394.9 L347.0 394.7 L347.3 395.8 L348.0 395.6 L348.6 394.2 L349.3 394.1 L349.5 395.3 L350.1 395.2 L350.9 393.9 L351.5 393.9 L351.5 395.2 L352.1 395.2 L353.0 394.0 L353.6 394.1 L353.4 395.5 L353.9 395.6 L354.9 394.5 L355.5 394.7 L355.1 396.1Z" fill="#fff" stroke="#111" stroke-width="1.1" stroke-linejoin="round" />
<path d="M356.0 395.8 L354.9 395.2 L353.7 394.8 L352.5 394.6 L351.2 394.6 L349.8 394.6 L348.5 394.9 L347.0 395.3 L345.6 395.8 L344.2 396.5 L342.7 397.4 L341.3 398.4 L339.9 399.5 L338.6 400.7 L337.3 402.0 L336.0 403.4 L334.8 405.0 L333.7 406.6 L332.7 408.2 L331.8 410.0 L330.9 411.7 L330.2 413.5 L329.6 415.3 L329.1 417.1 L328.7 418.9 L328.4 420.7 L328.3 422.4 L328.3 424.0 L328.4 425.6 L328.6 427.1 L329.0 428.6 L329.5 429.9 L330.1 431.1 L330.8 432.2 L331.6 433.1 L332.5 434.0 L333.5 434.6 L344.8 441.1 L345.9 441.7 L347.1 442.1 L348.3 442.3 L349.6 442.4 L350.9 442.3 L352.3 442.0 L353.7 441.6 L355.2 441.1 L356.6 440.4 L358.0 439.5 L359.5 438.6 L360.8 437.5 L362.2 436.2 L363.5 434.9 L364.8 433.5 L365.9 431.9 L367.0 430.3 L368.1 428.7 L369.0 426.9 L369.8 425.2 L370.6 423.4 L371.2 421.6 L371.7 419.8 L372.1 418.0 L372.3 416.3 L372.5 414.5 L372.5 412.9 L372.4 411.3 L372.1 409.8 L371.8 408.3 L371.3 407.0 L370.7 405.8 L370.0 404.7 L369.2 403.8 L368.2 402.9 L367.2 402.3Z" fill="#999" stroke="#111" stroke-width="1.1" stroke-linejoin="round" />
<path d="M342.9 439.6L331.6 433.1M341.8 438.4L330.6 431.9M341.0 436.9L329.7 430.4M340.3 435.3L329.1 428.8M339.9 433.4L328.6 426.9M339.6 431.5L328.3 425.0M339.5 429.4L328.3 422.9M339.7 427.2L328.4 420.7M340.0 425.0L328.8 418.5M340.6 422.7L329.3 416.2M341.3 420.4L330.1 413.9M342.3 418.1L331.0 411.6M343.4 415.8L332.1 409.3M344.6 413.7L333.3 407.2M346.0 411.6L334.7 405.1M347.5 409.7L336.3 403.2M349.1 407.9L337.9 401.4M350.9 406.2L339.6 399.7M352.6 404.8L341.4 398.3M354.4 403.6L343.2 397.1M356.3 402.6L345.0 396.1M358.1 401.8L346.9 395.3M359.9 401.3L348.7 394.8M361.7 401.1L350.4 394.6M363.4 401.1L352.1 394.6M365.0 401.3L353.7 394.8" fill="none" stroke="#111" stroke-width="1.1" stroke-linejoin="round" />
<path d="M366.9 402.9 L367.9 401.9 L368.4 402.2 L368.0 403.6 L368.4 404.0 L369.5 403.1 L369.9 403.5 L369.3 404.9 L369.6 405.4 L370.8 404.7 L371.1 405.2 L370.4 406.6 L370.6 407.1 L371.8 406.6 L372.0 407.2 L371.2 408.5 L371.4 409.1 L372.5 408.8 L372.6 409.5 L371.7 410.7 L371.8 411.3 L372.9 411.2 L373.0 412.0 L372.0 413.0 L372.0 413.8 L373.0 413.8 L373.0 414.6 L371.9 415.6 L371.8 416.4 L372.8 416.6 L372.7 417.4 L371.6 418.2 L371.4 419.0 L372.2 419.4 L372.0 420.3 L370.9 420.9 L370.7 421.8 L371.4 422.3 L371.1 423.2 L370.0 423.7 L369.7 424.5 L370.3 425.2 L369.9 426.1 L368.8 426.4 L368.4 427.1 L368.9 428.1 L368.4 428.9 L367.4 429.0 L366.9 429.7 L367.3 430.8 L366.8 431.5 L365.8 431.4 L365.2 432.1 L365.4 433.3 L364.9 434.0 L364.0 433.7 L363.4 434.4 L363.4 435.6 L362.8 436.3 L362.0 435.8 L361.4 436.4 L361.3 437.7 L360.6 438.3 L359.9 437.6 L359.3 438.1 L359.0 439.5 L358.4 439.9 L357.8 439.1 L357.1 439.5 L356.7 440.9 L356.0 441.3 L355.6 440.3 L355.0 440.6 L354.4 442.0 L353.7 442.2 L353.4 441.1 L352.8 441.3 L352.1 442.7 L351.5 442.8 L351.3 441.6 L350.7 441.7 L349.9 443.0 L349.3 443.0 L349.3 441.7 L348.7 441.7 L347.8 442.9 L347.2 442.8 L347.4 441.4 L346.8 441.3 L345.9 442.4 L345.3 442.2 L345.6 440.8 L345.1 440.5 L344.1 441.6 L343.6 441.2 L344.1 439.8 L343.7 439.4 L342.6 440.3 L342.2 439.9 L342.7 438.5 L342.4 438.0 L341.3 438.7 L340.9 438.2 L341.7 436.8 L341.4 436.3 L340.3 436.8 L340.0 436.2 L340.8 434.9 L340.7 434.3 L339.5 434.7 L339.4 433.9 L340.3 432.8 L340.2 432.1 L339.1 432.2 L339.1 431.5 L340.1 430.4 L340.1 429.6 L339.0 429.6 L339.1 428.8 L340.1 427.8 L340.2 427.1 L339.3 426.8 L339.4 426.0 L340.5 425.2 L340.6 424.4 L339.8 424.0 L340.0 423.1 L341.1 422.5 L341.4 421.7 L340.6 421.1 L340.9 420.2 L342.0 419.7 L342.4 418.9 L341.7 418.2 L342.1 417.3 L343.2 417.1 L343.6 416.3 L343.1 415.4 L343.6 414.5 L344.6 414.5 L345.1 413.7 L344.7 412.6 L345.3 411.9 L346.3 412.0 L346.8 411.3 L346.6 410.1 L347.2 409.4 L348.1 409.7 L348.7 409.0 L348.6 407.8 L349.2 407.1 L350.0 407.6 L350.6 407.1 L350.7 405.7 L351.4 405.2 L352.1 405.8 L352.7 405.3 L353.0 404.0 L353.7 403.5 L354.3 404.3 L354.9 403.9 L355.3 402.5 L356.0 402.2 L356.4 403.1 L357.1 402.8 L357.6 401.4 L358.3 401.2 L358.6 402.3 L359.2 402.1 L359.9 400.7 L360.6 400.6 L360.7 401.8 L361.3 401.7 L362.1 400.4 L362.8 400.4 L362.8 401.7 L363.3 401.7 L364.2 400.5 L364.8 400.6 L364.7 402.0 L365.2 402.1 L366.2 401.0 L366.7 401.2 L366.4 402.6Z" fill="#fff" stroke="#111" stroke-width="1.1" stroke-linejoin="round" />
<path d="M365.7 404.9 L367.0 405.8 L368.1 407.0 L369.0 408.5 L369.7 410.1 L370.1 412.0 L370.3 414.1 L370.2 416.2 L369.9 418.5 L369.4 420.8 L368.6 423.2 L367.6 425.5 L366.5 427.7 L365.1 429.9 L363.6 431.9 L361.9 433.7 L360.2 435.3 L358.4 436.7 L356.5 437.9 L354.7 438.7 L352.8 439.3 L351.0 439.6 L349.3 439.5 L347.7 439.2 L346.3 438.5 L345.0 437.6 L343.9 436.4 L343.0 435.0 L342.4 433.3 L341.9 431.4 L341.8 429.4 L341.8 427.2 L342.1 424.9 L342.6 422.6 L343.4 420.2 L344.4 417.9 L345.6 415.7 L346.9 413.5 L348.4 411.5 L350.1 409.7 L351.8 408.1 L353.7 406.7 L355.5 405.5 L357.4 404.7 L359.2 404.1 L361.0 403.8 L362.7 403.9 L364.3 404.2 L365.7 404.9Z" fill="#fff" stroke="#111" stroke-width="1.2" stroke-linejoin="round" />
<path d="M363.2 409.3 L364.1 410.0 L364.9 410.8 L365.6 411.9 L366.1 413.2 L366.4 414.6 L366.5 416.1 L366.5 417.7 L366.3 419.3 L365.9 421.1 L365.3 422.8 L364.6 424.5 L363.7 426.2 L362.7 427.7 L361.6 429.2 L360.4 430.6 L359.1 431.8 L357.8 432.8 L356.4 433.6 L355.0 434.3 L353.7 434.7 L352.3 434.9 L351.1 434.9 L349.9 434.6 L348.8 434.1 L347.9 433.4 L347.1 432.6 L346.4 431.5 L345.9 430.2 L345.6 428.9 L345.5 427.3 L345.5 425.7 L345.8 424.1 L346.1 422.4 L346.7 420.6 L347.4 418.9 L348.3 417.3 L349.3 415.7 L350.4 414.2 L351.6 412.8 L352.9 411.6 L354.3 410.6 L355.6 409.8 L357.0 409.1 L358.4 408.7 L359.7 408.5 L361.0 408.5 L362.1 408.8 L363.2 409.3Z" fill="none" stroke="#111" stroke-width="1.0" stroke-linejoin="round" />
<path d="M360.1 414.6 L361.3 413.6 L361.9 414.2 L361.3 415.7 L361.6 416.4 L362.9 416.0 L363.1 417.0 L362.0 418.3 L362.0 419.3 L363.1 419.6 L362.8 420.8 L361.6 421.6 L361.2 422.6 L361.8 423.6 L361.2 424.7 L360.0 424.9 L359.4 425.8 L359.5 427.2 L358.6 428.1 L357.7 427.5 L356.9 428.1 L356.4 429.7 L355.5 430.2 L355.0 429.1 L354.2 429.2 L353.3 430.6 L352.4 430.6 L352.5 429.1 L351.9 428.8 L350.7 429.8 L350.1 429.2 L350.7 427.7 L350.4 427.0 L349.2 427.4 L349.0 426.4 L350.0 425.1 L350.0 424.2 L349.0 423.8 L349.2 422.6 L350.4 421.8 L350.8 420.8 L350.2 419.8 L350.8 418.7 L352.0 418.5 L352.6 417.6 L352.6 416.2 L353.4 415.3 L354.3 415.9 L355.1 415.3 L355.6 413.7 L356.6 413.2 L357.0 414.4 L357.8 414.2 L358.7 412.8 L359.6 412.8 L359.5 414.3Z" fill="#777" stroke="#111" stroke-width="1.0" stroke-linejoin="round" />
<path d="M338.0 436.1 L337.6 435.4 L337.2 434.7 L336.9 433.9 L336.6 433.1 L336.4 432.3 L336.2 431.4 L336.0 430.5 L335.9 429.5 L335.8 428.6 L335.8 427.6 L335.9 426.5 L335.9 425.5 L336.1 424.4 L336.2 423.4 L336.4 422.3 L336.7 421.2 L337.0 420.1 L337.3 419.0 L337.7 417.9 L338.2 416.8 L338.6 415.8 L339.1 414.7 L339.7 413.6 L340.2 412.6 L340.9 411.6 L341.5 410.6 L342.2 409.6 L342.9 408.7 L343.6 407.8 L344.4 406.9 L345.1 406.0 L345.9 405.2 L346.7 404.5 L347.6 403.7 L348.4 403.1 L349.3 402.4 L350.1 401.8 L351.0 401.3 L351.9 400.8 L352.7 400.4 L353.6 400.0 L354.5 399.7 L355.3 399.4 L356.2 399.2 L357.0 399.0 L357.9 398.9 L358.7 398.9 L359.5 398.9" fill="none" stroke="#fff" stroke-width="0.8" stroke-linejoin="round" />
<path d="M334.3 433.9 L333.9 433.3 L333.5 432.5 L333.2 431.8 L332.9 431.0 L332.7 430.1 L332.5 429.2 L332.3 428.3 L332.2 427.4 L332.1 426.4 L332.1 425.4 L332.1 424.4 L332.2 423.4 L332.3 422.3 L332.5 421.2 L332.7 420.1 L333.0 419.1 L333.3 418.0 L333.6 416.9 L334.0 415.8 L334.4 414.7 L334.9 413.6 L335.4 412.5 L336.0 411.5 L336.5 410.5 L337.1 409.4 L337.8 408.4 L338.5 407.5 L339.2 406.5 L339.9 405.6 L340.6 404.7 L341.4 403.9 L342.2 403.1 L343.0 402.3 L343.9 401.6 L344.7 400.9 L345.5 400.3 L346.4 399.7 L347.3 399.2 L348.1 398.7 L349.0 398.2 L349.9 397.9 L350.8 397.5 L351.6 397.3 L352.5 397.1 L353.3 396.9 L354.1 396.8 L355.0 396.8 L355.7 396.8" fill="none" stroke="#fff" stroke-width="0.8" stroke-linejoin="round" />
<path d="M369.6 409.8L366.0 412.9M370.2 413.5L366.5 415.6M353.1 439.2L353.8 434.7M349.7 439.6L351.4 434.9M344.5 417.6L347.6 418.7M347.0 413.4L349.4 415.6" fill="none" stroke="#111" stroke-width="1.0" stroke-linejoin="round" />
<path d="M411.4 423.2 L410.2 422.6 L408.9 422.1 L407.4 421.9 L406.0 421.8 L404.4 421.9 L402.8 422.2 L401.2 422.6 L399.6 423.3 L397.9 424.1 L396.3 425.0 L394.7 426.1 L393.1 427.4 L391.5 428.8 L390.1 430.3 L388.6 432.0 L387.3 433.7 L386.0 435.5 L384.8 437.4 L383.8 439.4 L382.8 441.4 L382.0 443.5 L381.3 445.5 L380.7 447.6 L380.3 449.6 L380.0 451.6 L379.8 453.6 L379.8 455.5 L379.9 457.3 L380.2 459.0 L380.6 460.7 L381.2 462.2 L381.8 463.5 L382.7 464.8 L383.6 465.9 L384.6 466.8 L385.8 467.6 L397.0 474.1 L398.3 474.7 L399.6 475.2 L401.0 475.4 L402.5 475.5 L404.1 475.4 L405.6 475.1 L407.3 474.7 L408.9 474.0 L410.5 473.2 L412.2 472.3 L413.8 471.1 L415.4 469.9 L416.9 468.5 L418.4 467.0 L419.9 465.3 L421.2 463.6 L422.5 461.7 L423.6 459.8 L424.7 457.9 L425.7 455.9 L426.5 453.8 L427.2 451.8 L427.8 449.7 L428.2 447.7 L428.5 445.7 L428.7 443.7 L428.7 441.8 L428.6 440.0 L428.3 438.2 L427.9 436.6 L427.3 435.1 L426.6 433.7 L425.8 432.5 L424.9 431.4 L423.9 430.4 L422.7 429.7Z" fill="#fff" stroke="#111" stroke-width="1.4" stroke-linejoin="round" />
<path d="M423.2 428.7 L425.0 430.0 L426.5 431.7 L427.7 433.7 L428.6 436.0 L429.2 438.6 L429.5 441.4 L429.4 444.4 L429.0 447.5 L428.3 450.7 L427.2 453.9 L425.9 457.1 L424.2 460.2 L422.4 463.1 L420.3 465.9 L418.0 468.4 L415.6 470.7 L413.1 472.6 L410.6 474.1 L408.0 475.3 L405.5 476.1 L403.0 476.5 L400.7 476.4 L398.5 475.9 L396.5 475.1 L394.7 473.8 L393.2 472.1 L392.0 470.1 L391.1 467.8 L390.5 465.2 L390.3 462.4 L390.3 459.4 L390.7 456.3 L391.5 453.1 L392.5 449.9 L393.9 446.7 L395.5 443.6 L397.4 440.6 L399.5 437.9 L401.7 435.4 L404.1 433.1 L406.6 431.2 L409.2 429.6 L411.7 428.5 L414.3 427.7 L416.7 427.3 L419.1 427.4 L421.3 427.8 L423.2 428.7Z" fill="#fff" stroke="#111" stroke-width="1.4" stroke-linejoin="round" />
<path d="M394.2 473.8 L393.3 473.2 L392.5 472.5 L391.7 471.7 L391.0 470.8 L390.3 469.9 L389.8 468.8 L389.3 467.7 L388.8 466.5 L388.5 465.2 L388.3 463.9 L388.1 462.5 L388.0 461.1 L388.0 459.6 L388.1 458.1 L388.2 456.6 L388.5 455.0 L388.8 453.4 L389.2 451.8 L389.7 450.2 L390.3 448.6 L390.9 447.0 L391.6 445.4 L392.4 443.8 L393.3 442.3 L394.2 440.8 L395.1 439.3 L396.1 437.9 L397.2 436.6 L398.3 435.3 L399.5 434.1 L400.7 432.9 L401.9 431.8 L403.1 430.8 L404.4 429.9 L405.6 429.1 L406.9 428.3 L408.2 427.7 L409.5 427.2 L410.8 426.7 L412.0 426.4 L413.3 426.1 L414.5 426.0 L415.7 426.0 L416.8 426.1 L417.9 426.2 L419.0 426.5 L420.0 426.9 L421.0 427.4" fill="none" stroke="#111" stroke-width="0.9" stroke-linejoin="round" />
<path d="M392.6 472.8 L391.6 472.2 L390.8 471.5 L390.0 470.7 L389.3 469.8 L388.6 468.9 L388.1 467.8 L387.6 466.7 L387.2 465.5 L386.8 464.3 L386.6 462.9 L386.4 461.6 L386.3 460.1 L386.3 458.7 L386.4 457.1 L386.6 455.6 L386.8 454.0 L387.1 452.4 L387.5 450.8 L388.0 449.2 L388.6 447.6 L389.2 446.0 L389.9 444.4 L390.7 442.9 L391.6 441.3 L392.5 439.8 L393.4 438.4 L394.4 437.0 L395.5 435.6 L396.6 434.3 L397.8 433.1 L399.0 431.9 L400.2 430.8 L401.4 429.8 L402.7 428.9 L403.9 428.1 L405.2 427.4 L406.5 426.7 L407.8 426.2 L409.1 425.7 L410.3 425.4 L411.6 425.2 L412.8 425.0 L414.0 425.0 L415.1 425.1 L416.2 425.3 L417.3 425.6 L418.3 425.9 L419.3 426.4" fill="none" stroke="#111" stroke-width="0.9" stroke-linejoin="round" />
<path d="M390.9 471.8 L390.0 471.2 L389.1 470.5 L388.3 469.7 L387.6 468.9 L387.0 467.9 L386.4 466.9 L385.9 465.8 L385.5 464.6 L385.1 463.3 L384.9 462.0 L384.7 460.6 L384.6 459.2 L384.6 457.7 L384.7 456.2 L384.9 454.6 L385.1 453.0 L385.4 451.4 L385.8 449.8 L386.3 448.2 L386.9 446.6 L387.5 445.0 L388.3 443.4 L389.0 441.9 L389.9 440.3 L390.8 438.8 L391.7 437.4 L392.8 436.0 L393.8 434.6 L394.9 433.3 L396.1 432.1 L397.3 430.9 L398.5 429.9 L399.7 428.9 L401.0 428.0 L402.3 427.1 L403.5 426.4 L404.8 425.7 L406.1 425.2 L407.4 424.8 L408.6 424.4 L409.9 424.2 L411.1 424.1 L412.3 424.0 L413.4 424.1 L414.6 424.3 L415.6 424.6 L416.7 425.0 L417.6 425.5" fill="none" stroke="#111" stroke-width="0.9" stroke-linejoin="round" />
<path d="M389.2 470.8 L388.3 470.2 L387.4 469.6 L386.6 468.8 L385.9 467.9 L385.3 466.9 L384.7 465.9 L384.2 464.8 L383.8 463.6 L383.4 462.3 L383.2 461.0 L383.0 459.6 L382.9 458.2 L382.9 456.7 L383.0 455.2 L383.2 453.6 L383.4 452.1 L383.7 450.5 L384.2 448.9 L384.6 447.3 L385.2 445.6 L385.9 444.0 L386.6 442.5 L387.3 440.9 L388.2 439.4 L389.1 437.9 L390.1 436.4 L391.1 435.0 L392.1 433.7 L393.2 432.4 L394.4 431.1 L395.6 430.0 L396.8 428.9 L398.0 427.9 L399.3 427.0 L400.6 426.1 L401.9 425.4 L403.1 424.8 L404.4 424.2 L405.7 423.8 L407.0 423.4 L408.2 423.2 L409.4 423.1 L410.6 423.1 L411.8 423.1 L412.9 423.3 L413.9 423.6 L415.0 424.0 L415.9 424.5" fill="none" stroke="#111" stroke-width="0.9" stroke-linejoin="round" />
<path d="M387.5 469.9 L386.6 469.3 L385.7 468.6 L384.9 467.8 L384.2 466.9 L383.6 466.0 L383.0 464.9 L382.5 463.8 L382.1 462.6 L381.8 461.3 L381.5 460.0 L381.3 458.6 L381.2 457.2 L381.2 455.7 L381.3 454.2 L381.5 452.7 L381.7 451.1 L382.1 449.5 L382.5 447.9 L383.0 446.3 L383.5 444.7 L384.2 443.1 L384.9 441.5 L385.7 439.9 L386.5 438.4 L387.4 436.9 L388.4 435.4 L389.4 434.0 L390.4 432.7 L391.6 431.4 L392.7 430.2 L393.9 429.0 L395.1 427.9 L396.4 426.9 L397.6 426.0 L398.9 425.2 L400.2 424.4 L401.4 423.8 L402.7 423.3 L404.0 422.8 L405.3 422.5 L406.5 422.2 L407.7 422.1 L408.9 422.1 L410.1 422.2 L411.2 422.3 L412.3 422.6 L413.3 423.0 L414.2 423.5" fill="none" stroke="#111" stroke-width="0.9" stroke-linejoin="round" />
<clipPath id="c2"><path d="M421.1 432.4 L422.6 433.5 L423.8 434.9 L424.9 436.6 L425.6 438.5 L426.1 440.7 L426.4 443.1 L426.3 445.6 L425.9 448.2 L425.3 450.9 L424.4 453.6 L423.3 456.3 L421.9 458.9 L420.4 461.3 L418.6 463.7 L416.7 465.8 L414.7 467.7 L412.6 469.3 L410.5 470.6 L408.3 471.6 L406.2 472.2 L404.1 472.5 L402.1 472.5 L400.3 472.1 L398.6 471.4 L397.2 470.3 L395.9 468.9 L394.9 467.2 L394.1 465.3 L393.6 463.1 L393.4 460.7 L393.5 458.2 L393.8 455.6 L394.4 452.9 L395.3 450.2 L396.4 447.5 L397.8 444.9 L399.4 442.4 L401.1 440.1 L403.0 438.0 L405.0 436.1 L407.1 434.5 L409.3 433.2 L411.4 432.2 L413.6 431.5 L415.6 431.2 L417.6 431.3 L419.4 431.7 L421.1 432.4Z"/></clipPath>
<path d="M420.2 434.0 L421.4 432.6 L421.9 433.0 L421.3 434.7 L421.7 435.1 L423.0 433.9 L423.4 434.3 L422.6 436.0 L422.9 436.5 L424.3 435.5 L424.6 436.1 L423.6 437.7 L423.9 438.3 L425.3 437.5 L425.5 438.1 L424.4 439.7 L424.6 440.3 L426.0 439.8 L426.1 440.5 L424.9 441.9 L425.0 442.6 L426.3 442.3 L426.4 443.1 L425.0 444.3 L425.0 445.0 L426.3 445.0 L426.3 445.8 L424.9 446.8 L424.8 447.6 L426.0 447.8 L425.8 448.7 L424.5 449.5 L424.3 450.3 L425.4 450.7 L425.1 451.6 L423.7 452.2 L423.4 453.0 L424.4 453.7 L424.1 454.6 L422.7 454.9 L422.3 455.7 L423.1 456.6 L422.7 457.4 L421.4 457.5 L421.0 458.3 L421.6 459.4 L421.1 460.2 L419.9 460.1 L419.4 460.8 L419.8 462.1 L419.3 462.8 L418.2 462.4 L417.6 463.1 L417.9 464.5 L417.3 465.2 L416.3 464.6 L415.7 465.2 L415.7 466.7 L415.1 467.3 L414.2 466.5 L413.6 467.0 L413.5 468.6 L412.8 469.1 L412.1 468.0 L411.5 468.5 L411.2 470.2 L410.5 470.6 L410.0 469.3 L409.3 469.6 L408.8 471.4 L408.1 471.6 L407.8 470.2 L407.2 470.4 L406.5 472.2 L405.8 472.3 L405.7 470.8 L405.1 470.8 L404.2 472.5 L403.6 472.6 L403.7 470.9 L403.1 470.9 L402.1 472.5 L401.5 472.4 L401.8 470.7 L401.2 470.5 L400.1 472.0 L399.5 471.8 L400.0 470.1 L399.5 469.8 L398.3 471.1 L397.8 470.8 L398.5 469.1 L398.1 468.7 L396.7 469.9 L396.3 469.4 L397.2 467.7 L396.8 467.3 L395.5 468.2 L395.1 467.7 L396.1 466.1 L395.9 465.5 L394.5 466.3 L394.2 465.6 L395.3 464.1 L395.2 463.5 L393.8 464.0 L393.6 463.3 L394.9 461.9 L394.8 461.2 L393.4 461.5 L393.4 460.7 L394.7 459.5 L394.7 458.8 L393.4 458.8 L393.5 458.0 L394.8 457.0 L394.9 456.2 L393.7 456.0 L393.9 455.1 L395.3 454.3 L395.5 453.5 L394.4 453.0 L394.6 452.2 L396.0 451.6 L396.3 450.8 L395.3 450.1 L395.7 449.2 L397.1 448.9 L397.4 448.1 L396.6 447.2 L397.0 446.3 L398.3 446.3 L398.8 445.5 L398.1 444.4 L398.6 443.5 L399.9 443.7 L400.4 443.0 L399.9 441.7 L400.5 440.9 L401.6 441.4 L402.1 440.7 L401.9 439.2 L402.5 438.6 L403.5 439.2 L404.1 438.6 L404.0 437.0 L404.7 436.4 L405.5 437.3 L406.1 436.8 L406.3 435.1 L406.9 434.6 L407.6 435.7 L408.3 435.3 L408.6 433.6 L409.3 433.2 L409.8 434.5 L410.4 434.2 L410.9 432.4 L411.6 432.1 L411.9 433.6 L412.6 433.4 L413.3 431.6 L414.0 431.5 L414.0 433.0 L414.7 432.9 L415.5 431.2 L416.2 431.2 L416.1 432.9 L416.7 432.9 L417.7 431.3 L418.3 431.4 L418.0 433.1 L418.5 433.3 L419.7 431.8 L420.2 432.0 L419.7 433.7Z" fill="#333" stroke="#111" stroke-width="1.0" stroke-linejoin="round" />
<g clip-path="url(#c2)">
<path d="M413.2 427.9 L414.7 428.9 L416.0 430.3 L417.0 432.0 L417.8 434.0 L418.3 436.1 L418.5 438.5 L418.4 441.0 L418.1 443.6 L417.4 446.3 L416.6 449.0 L415.4 451.7 L414.1 454.3 L412.5 456.8 L410.7 459.1 L408.8 461.2 L406.8 463.1 L404.7 464.7 L402.6 466.0 L400.4 467.0 L398.3 467.7 L396.2 468.0 L394.3 467.9 L392.4 467.5 L390.8 466.8 L389.3 465.7 L388.0 464.3 L387.0 462.7 L386.2 460.7 L385.7 458.5 L385.5 456.2 L385.6 453.7 L385.9 451.0 L386.5 448.3 L387.4 445.6 L388.6 443.0 L389.9 440.4 L391.5 437.9 L393.2 435.6 L395.1 433.5 L397.2 431.6 L399.3 430.0 L401.4 428.6 L403.6 427.7 L405.7 427.0 L407.8 426.7 L409.7 426.7 L411.6 427.1 L413.2 427.9Z" fill="#fff" stroke="#111" stroke-width="1.0" stroke-linejoin="round" />
</g>
<path d="M421.1 432.4 L422.6 433.5 L423.8 434.9 L424.9 436.6 L425.6 438.5 L426.1 440.7 L426.4 443.1 L426.3 445.6 L425.9 448.2 L425.3 450.9 L424.4 453.6 L423.3 456.3 L421.9 458.9 L420.4 461.3 L418.6 463.7 L416.7 465.8 L414.7 467.7 L412.6 469.3 L410.5 470.6 L408.3 471.6 L406.2 472.2 L404.1 472.5 L402.1 472.5 L400.3 472.1 L398.6 471.4 L397.2 470.3 L395.9 468.9 L394.9 467.2 L394.1 465.3 L393.6 463.1 L393.4 460.7 L393.5 458.2 L393.8 455.6 L394.4 452.9 L395.3 450.2 L396.4 447.5 L397.8 444.9 L399.4 442.4 L401.1 440.1 L403.0 438.0 L405.0 436.1 L407.1 434.5 L409.3 433.2 L411.4 432.2 L413.6 431.5 L415.6 431.2 L417.6 431.3 L419.4 431.7 L421.1 432.4ZM419.2 435.7 L420.5 436.6 L421.5 437.7 L422.4 439.1 L423.0 440.7 L423.4 442.6 L423.6 444.5 L423.6 446.6 L423.3 448.8 L422.7 451.0 L422.0 453.3 L421.1 455.5 L419.9 457.7 L418.6 459.8 L417.2 461.7 L415.6 463.5 L413.9 465.0 L412.1 466.4 L410.4 467.5 L408.6 468.3 L406.8 468.8 L405.1 469.1 L403.4 469.1 L401.9 468.7 L400.5 468.1 L399.3 467.2 L398.2 466.1 L397.4 464.7 L396.7 463.0 L396.3 461.2 L396.1 459.3 L396.2 457.2 L396.5 455.0 L397.0 452.7 L397.7 450.5 L398.7 448.2 L399.8 446.1 L401.1 444.0 L402.6 442.1 L404.2 440.3 L405.8 438.7 L407.6 437.4 L409.4 436.3 L411.2 435.5 L413.0 434.9 L414.7 434.7 L416.3 434.7 L417.8 435.0 L419.2 435.7Z" fill="#444" stroke="#111" stroke-width="0.6" stroke-linejoin="round" fill-rule="evenodd"/>
<path d="M418.3 437.2 L419.5 435.9 L420.0 436.2 L419.3 437.9 L419.7 438.2 L421.0 437.0 L421.3 437.5 L420.4 439.1 L420.7 439.6 L422.1 438.6 L422.4 439.1 L421.3 440.7 L421.5 441.2 L422.9 440.5 L423.1 441.1 L421.9 442.5 L422.1 443.1 L423.4 442.6 L423.5 443.3 L422.2 444.6 L422.3 445.2 L423.6 445.0 L423.6 445.8 L422.3 446.8 L422.2 447.5 L423.5 447.6 L423.3 448.4 L422.0 449.2 L421.8 449.9 L423.0 450.2 L422.7 451.0 L421.4 451.6 L421.1 452.3 L422.1 452.9 L421.8 453.7 L420.5 454.1 L420.2 454.8 L421.0 455.6 L420.6 456.4 L419.3 456.4 L419.0 457.1 L419.6 458.2 L419.2 458.9 L418.0 458.7 L417.5 459.4 L418.0 460.6 L417.5 461.3 L416.4 460.8 L415.9 461.4 L416.2 462.8 L415.6 463.5 L414.7 462.7 L414.1 463.2 L414.2 464.8 L413.6 465.3 L412.8 464.3 L412.2 464.8 L412.1 466.4 L411.4 466.8 L410.9 465.6 L410.3 466.0 L409.9 467.7 L409.3 468.0 L408.9 466.6 L408.4 466.8 L407.8 468.6 L407.1 468.8 L407.0 467.2 L406.5 467.3 L405.7 469.0 L405.1 469.1 L405.2 467.5 L404.6 467.5 L403.7 469.1 L403.1 469.0 L403.4 467.3 L402.9 467.2 L401.8 468.7 L401.3 468.5 L401.8 466.8 L401.4 466.6 L400.2 467.9 L399.7 467.6 L400.5 465.9 L400.1 465.5 L398.8 466.7 L398.4 466.3 L399.3 464.6 L399.0 464.2 L397.7 465.2 L397.4 464.7 L398.4 463.1 L398.2 462.6 L396.8 463.3 L396.6 462.7 L397.8 461.3 L397.7 460.7 L396.3 461.1 L396.2 460.5 L397.5 459.2 L397.5 458.5 L396.1 458.8 L396.1 458.0 L397.5 457.0 L397.5 456.3 L396.3 456.2 L396.4 455.4 L397.8 454.6 L397.9 453.9 L396.8 453.5 L397.0 452.7 L398.4 452.2 L398.6 451.4 L397.6 450.8 L397.9 450.0 L399.3 449.7 L399.6 449.0 L398.7 448.2 L399.1 447.4 L400.4 447.3 L400.8 446.6 L400.1 445.6 L400.6 444.8 L401.8 445.1 L402.2 444.4 L401.7 443.1 L402.3 442.5 L403.3 443.0 L403.8 442.4 L403.6 440.9 L404.2 440.3 L405.1 441.1 L405.6 440.6 L405.6 439.0 L406.2 438.5 L406.9 439.5 L407.5 439.0 L407.7 437.4 L408.3 436.9 L408.8 438.1 L409.4 437.8 L409.8 436.1 L410.5 435.8 L410.8 437.2 L411.4 436.9 L412.0 435.2 L412.6 435.0 L412.7 436.6 L413.3 436.4 L414.1 434.7 L414.7 434.7 L414.6 436.3 L415.1 436.3 L416.1 434.7 L416.6 434.8 L416.3 436.5 L416.8 436.6 L417.9 435.1 L418.4 435.3 L417.9 437.0Z" fill="none" stroke="#fff" stroke-width="0.9" stroke-linejoin="round" />
<path d="M314.5 534.5 L430.0 534.5 L487.0 567.5 L487.0 704.5 L371.0 704.5 L314.5 670.5Z" fill="none" stroke="#444" stroke-width="1.0" stroke-linejoin="round" />
<path d="M344.7 615.1 L343.4 615.7 L342.2 616.3 L340.9 616.7 L339.7 617.0 L338.5 617.3 L337.3 617.4 L336.1 617.4 L335.0 617.3 L333.9 617.1 L332.8 616.8 L331.8 616.5 L330.9 616.0 L330.0 615.4 L329.2 614.7 L328.4 613.9 L327.7 613.0 L327.1 612.1 L326.6 611.0 L326.1 609.9 L325.7 608.8 L325.4 607.5 L325.1 606.2 L325.0 604.8 L324.9 603.4 L324.9 602.0 L325.0 600.5 L325.2 598.9 L325.5 597.4 L325.8 595.8 L326.2 594.3 L326.7 592.7 L327.3 591.1 L328.0 589.5 L328.7 588.0 L329.5 586.5 L330.3 585.0 L331.2 583.5 L332.2 582.1 L333.2 580.7 L334.3 579.4 L335.4 578.2 L336.5 577.0 L337.7 575.9 L338.9 574.9 L340.1 573.9 L341.3 573.1 L342.6 572.3 L343.9 571.6 L345.1 571.0 L346.4 570.5 L347.6 570.1 L348.8 569.9 L350.0 569.7 L351.2 569.6 L352.4 569.6 L353.5 569.7 L354.6 570.0 L355.6 570.3 L356.6 570.7 L357.5 571.3" fill="none" stroke="#111" stroke-width="1.6" stroke-linejoin="round" />
<path d="M458.7 639.2 L459.9 638.6 L461.2 638.1 L462.5 637.7 L463.7 637.4 L464.9 637.2 L466.1 637.1 L467.3 637.1 L468.4 637.2 L469.5 637.5 L470.6 637.8 L471.5 638.2 L472.5 638.8 L473.4 639.4 L474.2 640.2 L474.9 641.0 L475.6 641.9 L476.2 642.9 L476.7 644.0 L477.1 645.2 L477.5 646.4 L477.8 647.7 L477.9 649.1 L478.1 650.5 L478.1 651.9 L478.0 653.4 L477.9 655.0 L477.6 656.5 L477.3 658.1 L476.9 659.7 L476.4 661.3 L475.9 662.9 L475.2 664.5 L474.5 666.1 L473.8 667.6 L472.9 669.1 L472.0 670.6 L471.1 672.1 L470.0 673.4 L469.0 674.8 L467.9 676.1 L466.7 677.3 L465.5 678.4 L464.3 679.5 L463.1 680.4 L461.8 681.3 L460.6 682.1 L459.3 682.8 L458.0 683.4 L456.7 683.9 L455.5 684.3 L454.2 684.6 L453.0 684.8 L451.8 684.9 L450.6 684.9 L449.5 684.8 L448.4 684.5 L447.4 684.2 L446.4 683.7 L445.5 683.2 L444.6 682.6" fill="none" stroke="#111" stroke-width="1.6" stroke-linejoin="round" />
<path d="M357.5 571.3L355.7 574.3" fill="none" stroke="#111" stroke-width="1.6" stroke-linejoin="round" />
<path d="M458.7 639.2L458.7 642.1" fill="none" stroke="#111" stroke-width="1.6" stroke-linejoin="round" />
<g transform="translate(380.5 581.5) rotate(25) scale(1.0)"><path d="M-6.5 -0.8 L-3 -1.3 L-1.6 -3.3 L1.6 -3.3 L3 -1.3 L6.5 -0.8 L6.5 2 L-6.5 2Z" fill="#fff" stroke="#111" stroke-width="1.4" stroke-linejoin="round"/><path d="M-6.5 0.6L6.5 0.6" stroke="#111" stroke-width="0.8"/></g>
<g transform="translate(406.2 614.2) rotate(28) scale(1.0)"><path d="M-6.5 -0.8 L-3 -1.3 L-1.6 -3.3 L1.6 -3.3 L3 -1.3 L6.5 -0.8 L6.5 2 L-6.5 2Z" fill="#fff" stroke="#111" stroke-width="1.4" stroke-linejoin="round"/><path d="M-6.5 0.6L6.5 0.6" stroke="#111" stroke-width="0.8"/></g>
<g transform="translate(353.5 640.0) rotate(35) scale(1.0)"><path d="M-6.5 -0.8 L-3 -1.3 L-1.6 -3.3 L1.6 -3.3 L3 -1.3 L6.5 -0.8 L6.5 2 L-6.5 2Z" fill="#fff" stroke="#111" stroke-width="1.4" stroke-linejoin="round"/><path d="M-6.5 0.6L6.5 0.6" stroke="#111" stroke-width="0.8"/></g>
<path d="M378.6 591.4 L379.7 590.4 L380.2 590.7 L379.7 592.1 L380.1 592.5 L381.2 591.6 L381.6 592.0 L381.0 593.4 L381.4 593.9 L382.5 593.2 L382.8 593.7 L382.1 595.1 L382.4 595.6 L383.5 595.1 L383.8 595.7 L382.9 597.0 L383.1 597.6 L384.2 597.3 L384.4 598.0 L383.5 599.2 L383.6 599.8 L384.6 599.7 L384.7 600.5 L383.7 601.5 L383.7 602.3 L384.7 602.3 L384.7 603.1 L383.6 604.1 L383.6 604.9 L384.5 605.1 L384.4 605.9 L383.3 606.7 L383.1 607.5 L384.0 607.9 L383.8 608.8 L382.7 609.4 L382.4 610.3 L383.2 610.8 L382.9 611.7 L381.7 612.2 L381.4 613.0 L382.0 613.7 L381.6 614.6 L380.6 614.9 L380.2 615.6 L380.7 616.6 L380.2 617.4 L379.1 617.5 L378.7 618.2 L379.0 619.3 L378.5 620.0 L377.5 619.9 L377.0 620.6 L377.2 621.8 L376.6 622.5 L375.7 622.2 L375.1 622.9 L375.2 624.1 L374.5 624.8 L373.7 624.3 L373.1 624.9 L373.0 626.2 L372.4 626.8 L371.7 626.1 L371.0 626.6 L370.8 628.0 L370.1 628.4 L369.5 627.6 L368.9 628.0 L368.5 629.4 L367.8 629.8 L367.3 628.8 L366.7 629.1 L366.2 630.5 L365.5 630.7 L365.2 629.6 L364.5 629.8 L363.9 631.2 L363.2 631.3 L363.1 630.1 L362.4 630.2 L361.7 631.5 L361.0 631.5 L361.0 630.2 L360.4 630.2 L359.6 631.4 L359.0 631.3 L359.1 629.9 L358.6 629.8 L357.6 630.9 L357.1 630.7 L357.4 629.3 L356.9 629.0 L355.8 630.1 L355.4 629.7 L355.8 628.3 L355.4 627.9 L354.3 628.8 L353.9 628.4 L354.5 627.0 L354.1 626.5 L353.0 627.2 L352.7 626.7 L353.4 625.3 L353.1 624.8 L352.0 625.3 L351.8 624.7 L352.6 623.4 L352.4 622.8 L351.3 623.2 L351.1 622.4 L352.1 621.3 L352.0 620.6 L350.9 620.7 L350.8 620.0 L351.8 618.9 L351.8 618.1 L350.8 618.1 L350.8 617.3 L351.9 616.3 L351.9 615.6 L351.0 615.3 L351.1 614.5 L352.2 613.7 L352.4 612.9 L351.5 612.5 L351.7 611.6 L352.9 611.0 L353.1 610.2 L352.4 609.6 L352.7 608.7 L353.8 608.2 L354.1 607.4 L353.5 606.7 L353.9 605.8 L355.0 605.6 L355.4 604.8 L354.9 603.9 L355.3 603.0 L356.4 603.0 L356.8 602.2 L356.5 601.1 L357.0 600.4 L358.0 600.5 L358.5 599.8 L358.3 598.6 L358.9 597.9 L359.8 598.2 L360.4 597.5 L360.3 596.3 L361.0 595.6 L361.8 596.1 L362.4 595.6 L362.5 594.2 L363.2 593.7 L363.9 594.3 L364.5 593.8 L364.7 592.5 L365.4 592.0 L366.0 592.8 L366.6 592.4 L367.0 591.0 L367.7 590.7 L368.2 591.6 L368.8 591.3 L369.4 589.9 L370.0 589.7 L370.3 590.8 L371.0 590.6 L371.6 589.2 L372.3 589.1 L372.5 590.3 L373.1 590.2 L373.9 588.9 L374.5 588.9 L374.5 590.2 L375.1 590.2 L376.0 589.0 L376.6 589.1 L376.4 590.5 L376.9 590.6 L377.9 589.5 L378.5 589.7 L378.1 591.1Z" fill="#fff" stroke="#111" stroke-width="1.1" stroke-linejoin="round" />
<path d="M379.0 590.8 L377.9 590.2 L376.7 589.8 L375.5 589.6 L374.2 589.6 L372.8 589.6 L371.5 589.9 L370.0 590.3 L368.6 590.8 L367.2 591.5 L365.7 592.4 L364.3 593.4 L362.9 594.5 L361.6 595.7 L360.3 597.0 L359.0 598.4 L357.8 600.0 L356.7 601.6 L355.7 603.2 L354.8 605.0 L353.9 606.7 L353.2 608.5 L352.6 610.3 L352.1 612.1 L351.7 613.9 L351.4 615.7 L351.3 617.4 L351.3 619.0 L351.4 620.6 L351.6 622.1 L352.0 623.6 L352.5 624.9 L353.1 626.1 L353.8 627.2 L354.6 628.1 L355.5 629.0 L356.5 629.6 L367.8 636.1 L368.9 636.7 L370.1 637.1 L371.3 637.3 L372.6 637.4 L373.9 637.3 L375.3 637.0 L376.7 636.6 L378.2 636.1 L379.6 635.4 L381.0 634.5 L382.5 633.6 L383.8 632.5 L385.2 631.2 L386.5 629.9 L387.8 628.5 L388.9 626.9 L390.0 625.3 L391.1 623.7 L392.0 621.9 L392.8 620.2 L393.6 618.4 L394.2 616.6 L394.7 614.8 L395.1 613.0 L395.3 611.3 L395.5 609.5 L395.5 607.9 L395.4 606.3 L395.1 604.8 L394.8 603.3 L394.3 602.0 L393.7 600.8 L393.0 599.7 L392.2 598.8 L391.2 597.9 L390.2 597.3Z" fill="#999" stroke="#111" stroke-width="1.1" stroke-linejoin="round" />
<path d="M365.9 634.6L354.6 628.1M364.8 633.4L353.6 626.9M364.0 631.9L352.7 625.4M363.3 630.3L352.1 623.8M362.9 628.4L351.6 621.9M362.6 626.5L351.3 620.0M362.5 624.4L351.3 617.9M362.7 622.2L351.4 615.7M363.0 620.0L351.8 613.5M363.6 617.7L352.3 611.2M364.3 615.4L353.1 608.9M365.3 613.1L354.0 606.6M366.4 610.8L355.1 604.3M367.6 608.7L356.3 602.2M369.0 606.6L357.7 600.1M370.5 604.7L359.3 598.2M372.1 602.9L360.9 596.4M373.9 601.2L362.6 594.7M375.6 599.8L364.4 593.3M377.4 598.6L366.2 592.1M379.3 597.6L368.0 591.1M381.1 596.8L369.9 590.3M382.9 596.3L371.7 589.8M384.7 596.1L373.4 589.6M386.4 596.1L375.1 589.6M388.0 596.3L376.7 589.8" fill="none" stroke="#111" stroke-width="1.1" stroke-linejoin="round" />
<path d="M389.9 597.9 L390.9 596.9 L391.4 597.2 L391.0 598.6 L391.4 599.0 L392.5 598.1 L392.9 598.5 L392.3 599.9 L392.6 600.4 L393.8 599.7 L394.1 600.2 L393.4 601.6 L393.6 602.1 L394.8 601.6 L395.0 602.2 L394.2 603.5 L394.4 604.1 L395.5 603.8 L395.6 604.5 L394.7 605.7 L394.8 606.3 L395.9 606.2 L396.0 607.0 L395.0 608.0 L395.0 608.8 L396.0 608.8 L396.0 609.6 L394.9 610.6 L394.8 611.4 L395.8 611.6 L395.7 612.4 L394.6 613.2 L394.4 614.0 L395.2 614.4 L395.0 615.3 L393.9 615.9 L393.7 616.8 L394.4 617.3 L394.1 618.2 L393.0 618.7 L392.7 619.5 L393.3 620.2 L392.9 621.1 L391.8 621.4 L391.4 622.1 L391.9 623.1 L391.4 623.9 L390.4 624.0 L389.9 624.7 L390.3 625.8 L389.8 626.5 L388.8 626.4 L388.2 627.1 L388.4 628.3 L387.9 629.0 L387.0 628.7 L386.4 629.4 L386.4 630.6 L385.8 631.3 L385.0 630.8 L384.4 631.4 L384.3 632.7 L383.6 633.3 L382.9 632.6 L382.3 633.1 L382.0 634.5 L381.4 634.9 L380.8 634.1 L380.1 634.5 L379.7 635.9 L379.0 636.3 L378.6 635.3 L378.0 635.6 L377.4 637.0 L376.7 637.2 L376.4 636.1 L375.8 636.3 L375.1 637.7 L374.5 637.8 L374.3 636.6 L373.7 636.7 L372.9 638.0 L372.3 638.0 L372.3 636.7 L371.7 636.7 L370.8 637.9 L370.2 637.8 L370.4 636.4 L369.8 636.3 L368.9 637.4 L368.3 637.2 L368.6 635.8 L368.1 635.5 L367.1 636.6 L366.6 636.2 L367.1 634.8 L366.7 634.4 L365.6 635.3 L365.2 634.9 L365.7 633.5 L365.4 633.0 L364.3 633.7 L363.9 633.2 L364.7 631.8 L364.4 631.3 L363.3 631.8 L363.0 631.2 L363.8 629.9 L363.7 629.3 L362.5 629.7 L362.4 628.9 L363.3 627.8 L363.2 627.1 L362.1 627.2 L362.1 626.5 L363.1 625.4 L363.1 624.6 L362.0 624.6 L362.1 623.8 L363.1 622.8 L363.2 622.1 L362.3 621.8 L362.4 621.0 L363.5 620.2 L363.6 619.4 L362.8 619.0 L363.0 618.1 L364.1 617.5 L364.4 616.7 L363.6 616.1 L363.9 615.2 L365.0 614.7 L365.4 613.9 L364.7 613.2 L365.1 612.3 L366.2 612.1 L366.6 611.3 L366.1 610.4 L366.6 609.5 L367.6 609.5 L368.1 608.7 L367.7 607.6 L368.3 606.9 L369.3 607.0 L369.8 606.3 L369.6 605.1 L370.2 604.4 L371.1 604.7 L371.7 604.0 L371.6 602.8 L372.2 602.1 L373.0 602.6 L373.6 602.1 L373.7 600.7 L374.4 600.2 L375.1 600.8 L375.7 600.3 L376.0 599.0 L376.7 598.5 L377.3 599.3 L377.9 598.9 L378.3 597.5 L379.0 597.2 L379.4 598.1 L380.1 597.8 L380.6 596.4 L381.3 596.2 L381.6 597.3 L382.2 597.1 L382.9 595.7 L383.6 595.6 L383.7 596.8 L384.3 596.7 L385.1 595.4 L385.8 595.4 L385.8 596.7 L386.3 596.7 L387.2 595.5 L387.8 595.6 L387.7 597.0 L388.2 597.1 L389.2 596.0 L389.7 596.2 L389.4 597.6Z" fill="#fff" stroke="#111" stroke-width="1.1" stroke-linejoin="round" />
<path d="M388.7 599.9 L390.0 600.8 L391.1 602.0 L392.0 603.5 L392.7 605.1 L393.1 607.0 L393.3 609.1 L393.2 611.2 L392.9 613.5 L392.4 615.8 L391.6 618.2 L390.6 620.5 L389.5 622.7 L388.1 624.9 L386.6 626.9 L384.9 628.7 L383.2 630.3 L381.4 631.7 L379.5 632.9 L377.7 633.7 L375.8 634.3 L374.0 634.6 L372.3 634.5 L370.7 634.2 L369.3 633.5 L368.0 632.6 L366.9 631.4 L366.0 630.0 L365.4 628.3 L364.9 626.4 L364.8 624.4 L364.8 622.2 L365.1 619.9 L365.6 617.6 L366.4 615.2 L367.4 612.9 L368.6 610.7 L369.9 608.5 L371.4 606.5 L373.1 604.7 L374.8 603.1 L376.7 601.7 L378.5 600.5 L380.4 599.7 L382.2 599.1 L384.0 598.8 L385.7 598.9 L387.3 599.2 L388.7 599.9Z" fill="#fff" stroke="#111" stroke-width="1.2" stroke-linejoin="round" />
<path d="M386.2 604.3 L387.1 605.0 L387.9 605.8 L388.6 606.9 L389.1 608.2 L389.4 609.6 L389.5 611.1 L389.5 612.7 L389.3 614.3 L388.9 616.1 L388.3 617.8 L387.6 619.5 L386.7 621.2 L385.7 622.7 L384.6 624.2 L383.4 625.6 L382.1 626.8 L380.8 627.8 L379.4 628.6 L378.0 629.3 L376.7 629.7 L375.3 629.9 L374.1 629.9 L372.9 629.6 L371.8 629.1 L370.9 628.4 L370.1 627.6 L369.4 626.5 L368.9 625.2 L368.6 623.9 L368.5 622.3 L368.5 620.7 L368.8 619.1 L369.1 617.4 L369.7 615.6 L370.4 613.9 L371.3 612.3 L372.3 610.7 L373.4 609.2 L374.6 607.8 L375.9 606.6 L377.3 605.6 L378.6 604.8 L380.0 604.1 L381.4 603.7 L382.7 603.5 L384.0 603.5 L385.1 603.8 L386.2 604.3Z" fill="none" stroke="#111" stroke-width="1.0" stroke-linejoin="round" />
<path d="M383.1 609.6 L384.3 608.6 L384.9 609.2 L384.3 610.7 L384.6 611.4 L385.9 611.0 L386.1 612.0 L385.0 613.3 L385.0 614.3 L386.1 614.6 L385.8 615.8 L384.6 616.6 L384.2 617.6 L384.8 618.6 L384.2 619.7 L383.0 619.9 L382.4 620.8 L382.5 622.2 L381.6 623.1 L380.7 622.5 L379.9 623.1 L379.4 624.7 L378.5 625.2 L378.0 624.1 L377.2 624.2 L376.3 625.6 L375.4 625.6 L375.5 624.1 L374.9 623.8 L373.7 624.8 L373.1 624.2 L373.7 622.7 L373.4 622.0 L372.2 622.4 L372.0 621.4 L373.0 620.1 L373.0 619.2 L372.0 618.8 L372.2 617.6 L373.4 616.8 L373.8 615.8 L373.2 614.8 L373.8 613.7 L375.0 613.5 L375.6 612.6 L375.6 611.2 L376.4 610.3 L377.3 610.9 L378.1 610.3 L378.6 608.7 L379.6 608.2 L380.0 609.4 L380.8 609.2 L381.7 607.8 L382.6 607.8 L382.5 609.3Z" fill="#777" stroke="#111" stroke-width="1.0" stroke-linejoin="round" />
<path d="M361.0 631.1 L360.6 630.4 L360.2 629.7 L359.9 628.9 L359.6 628.1 L359.4 627.3 L359.2 626.4 L359.0 625.5 L358.9 624.5 L358.8 623.6 L358.8 622.6 L358.9 621.5 L358.9 620.5 L359.1 619.4 L359.2 618.4 L359.4 617.3 L359.7 616.2 L360.0 615.1 L360.3 614.0 L360.7 612.9 L361.2 611.8 L361.6 610.8 L362.1 609.7 L362.7 608.6 L363.2 607.6 L363.9 606.6 L364.5 605.6 L365.2 604.6 L365.9 603.7 L366.6 602.8 L367.4 601.9 L368.1 601.0 L368.9 600.2 L369.7 599.5 L370.6 598.7 L371.4 598.1 L372.3 597.4 L373.1 596.8 L374.0 596.3 L374.9 595.8 L375.7 595.4 L376.6 595.0 L377.5 594.7 L378.3 594.4 L379.2 594.2 L380.0 594.0 L380.9 593.9 L381.7 593.9 L382.5 593.9" fill="none" stroke="#fff" stroke-width="0.8" stroke-linejoin="round" />
<path d="M357.3 628.9 L356.9 628.3 L356.5 627.5 L356.2 626.8 L355.9 626.0 L355.7 625.1 L355.5 624.2 L355.3 623.3 L355.2 622.4 L355.1 621.4 L355.1 620.4 L355.1 619.4 L355.2 618.4 L355.3 617.3 L355.5 616.2 L355.7 615.1 L356.0 614.1 L356.3 613.0 L356.6 611.9 L357.0 610.8 L357.4 609.7 L357.9 608.6 L358.4 607.5 L359.0 606.5 L359.5 605.5 L360.1 604.4 L360.8 603.4 L361.5 602.5 L362.2 601.5 L362.9 600.6 L363.6 599.7 L364.4 598.9 L365.2 598.1 L366.0 597.3 L366.9 596.6 L367.7 595.9 L368.5 595.3 L369.4 594.7 L370.3 594.2 L371.1 593.7 L372.0 593.2 L372.9 592.9 L373.8 592.5 L374.6 592.3 L375.5 592.1 L376.3 591.9 L377.1 591.8 L378.0 591.8 L378.7 591.8" fill="none" stroke="#fff" stroke-width="0.8" stroke-linejoin="round" />
<path d="M392.6 604.8L389.0 607.9M393.2 608.5L389.5 610.6M376.1 634.2L376.8 629.7M372.7 634.6L374.4 629.9M367.5 612.6L370.6 613.7M370.0 608.4L372.4 610.6" fill="none" stroke="#111" stroke-width="1.0" stroke-linejoin="round" />
<path d="M438.3 617.2 L440.3 614.8 L441.0 615.3 L439.8 618.1 L440.3 618.6 L442.4 616.6 L443.0 617.2 L441.5 619.9 L442.0 620.5 L444.2 618.8 L444.7 619.5 L443.0 622.1 L443.4 622.8 L445.6 621.4 L446.0 622.3 L444.1 624.7 L444.3 625.5 L446.6 624.4 L446.8 625.4 L444.8 627.6 L444.9 628.5 L447.2 627.8 L447.3 628.9 L445.1 630.8 L445.1 631.8 L447.3 631.4 L447.3 632.6 L445.0 634.2 L444.9 635.2 L447.0 635.3 L446.9 636.5 L444.6 637.7 L444.4 638.8 L446.3 639.3 L446.0 640.5 L443.7 641.4 L443.4 642.5 L445.1 643.3 L444.7 644.5 L442.5 645.0 L442.0 646.1 L443.6 647.3 L443.0 648.5 L440.9 648.6 L440.4 649.7 L441.7 651.2 L441.0 652.4 L439.0 652.1 L438.4 653.2 L439.4 655.0 L438.7 656.1 L436.8 655.5 L436.1 656.4 L436.8 658.5 L436.0 659.5 L434.4 658.5 L433.6 659.4 L434.1 661.8 L433.2 662.7 L431.8 661.3 L430.9 662.1 L431.1 664.6 L430.1 665.4 L429.0 663.7 L428.1 664.4 L427.9 667.1 L427.0 667.7 L426.1 665.7 L425.2 666.3 L424.7 669.1 L423.8 669.6 L423.2 667.3 L422.3 667.7 L421.5 670.6 L420.6 670.9 L420.3 668.4 L419.4 668.7 L418.3 671.5 L417.4 671.7 L417.4 669.1 L416.6 669.2 L415.3 672.0 L414.4 672.0 L414.7 669.2 L413.9 669.2 L412.3 671.9 L411.5 671.7 L412.2 668.9 L411.4 668.7 L409.6 671.2 L408.9 670.9 L409.8 668.0 L409.2 667.7 L407.2 670.0 L406.5 669.5 L407.7 666.7 L407.2 666.2 L405.1 668.3 L404.5 667.7 L405.9 664.9 L405.5 664.3 L403.3 666.1 L402.8 665.3 L404.5 662.7 L404.1 662.0 L401.9 663.4 L401.5 662.6 L403.4 660.1 L403.1 659.3 L400.9 660.4 L400.6 659.4 L402.7 657.2 L402.5 656.3 L400.3 657.0 L400.2 656.0 L402.4 654.0 L402.3 653.0 L400.1 653.4 L400.2 652.3 L402.4 650.6 L402.5 649.6 L400.5 649.5 L400.6 648.4 L402.9 647.1 L403.1 646.0 L401.2 645.6 L401.5 644.4 L403.8 643.5 L404.1 642.4 L402.3 641.5 L402.8 640.3 L405.0 639.8 L405.4 638.7 L403.9 637.5 L404.4 636.3 L406.6 636.2 L407.1 635.1 L405.8 633.6 L406.5 632.4 L408.5 632.7 L409.1 631.7 L408.1 629.8 L408.8 628.7 L410.7 629.4 L411.4 628.4 L410.6 626.3 L411.4 625.3 L413.1 626.3 L413.9 625.4 L413.4 623.1 L414.3 622.2 L415.7 623.5 L416.5 622.8 L416.4 620.2 L417.3 619.4 L418.5 621.1 L419.4 620.5 L419.5 617.7 L420.5 617.1 L421.4 619.1 L422.3 618.6 L422.7 615.7 L423.7 615.2 L424.3 617.5 L425.2 617.1 L426.0 614.3 L426.9 613.9 L427.2 616.4 L428.1 616.1 L429.1 613.3 L430.1 613.1 L430.0 615.7 L430.9 615.6 L432.2 612.8 L433.1 612.8 L432.8 615.6 L433.6 615.6 L435.1 613.0 L436.0 613.1 L435.3 616.0 L436.1 616.2 L437.8 613.6 L438.6 613.9 L437.7 616.8Z" fill="#fff" stroke="#111" stroke-width="1.1" stroke-linejoin="round" />
<path d="M439.1 615.9 L437.6 615.1 L436.0 614.6 L434.3 614.3 L432.5 614.2 L430.7 614.3 L428.8 614.7 L426.9 615.2 L424.9 616.0 L422.9 616.9 L421.0 618.1 L419.0 619.4 L417.1 620.9 L415.3 622.6 L413.5 624.4 L411.8 626.4 L410.2 628.4 L408.7 630.6 L407.3 632.9 L406.0 635.3 L404.9 637.7 L403.9 640.1 L403.0 642.6 L402.3 645.0 L401.8 647.5 L401.5 649.9 L401.3 652.2 L401.3 654.5 L401.4 656.6 L401.7 658.7 L402.2 660.7 L402.9 662.5 L403.7 664.1 L404.7 665.6 L405.8 666.9 L407.0 668.0 L408.4 669.0 L417.1 674.0 L418.6 674.7 L420.2 675.2 L421.9 675.5 L423.6 675.6 L425.5 675.5 L427.4 675.2 L429.3 674.6 L431.2 673.9 L433.2 672.9 L435.2 671.8 L437.1 670.4 L439.0 668.9 L440.8 667.3 L442.6 665.4 L444.3 663.5 L446.0 661.4 L447.5 659.2 L448.9 656.9 L450.1 654.6 L451.3 652.2 L452.3 649.7 L453.1 647.3 L453.8 644.8 L454.3 642.4 L454.7 640.0 L454.9 637.6 L454.9 635.4 L454.7 633.2 L454.4 631.1 L453.9 629.2 L453.3 627.4 L452.4 625.7 L451.5 624.2 L450.4 622.9 L449.1 621.8 L447.7 620.9Z" fill="#fff" stroke="#111" stroke-width="1.1" stroke-linejoin="round" />
<path d="M414.3 671.8L405.7 666.8M412.8 669.8L404.1 664.8M411.6 667.5L402.9 662.5M410.7 664.8L402.0 659.8M410.1 661.9L401.4 656.9M409.9 658.7L401.2 653.7M410.1 655.4L401.4 650.4M410.6 651.9L401.9 646.9M411.4 648.4L402.8 643.4M412.6 644.8L404.0 639.8M414.1 641.3L405.5 636.3M415.9 637.9L407.3 632.9M418.0 634.6L409.3 629.6M420.3 631.6L411.6 626.6M422.8 628.8L414.1 623.8M425.4 626.2L416.7 621.2M428.1 624.1L419.5 619.1M431.0 622.3L422.3 617.3M433.8 620.9L425.1 615.9M436.6 619.9L428.0 614.9M439.4 619.3L430.7 614.3M442.0 619.2L433.3 614.2M444.5 619.6L435.8 614.6" fill="none" stroke="#111" stroke-width="1.0" stroke-linejoin="round" />
<path d="M447.0 622.2 L449.0 619.8 L449.6 620.3 L448.4 623.1 L449.0 623.6 L451.1 621.6 L451.7 622.2 L450.2 624.9 L450.7 625.5 L452.9 623.8 L453.3 624.5 L451.7 627.1 L452.0 627.8 L454.3 626.4 L454.6 627.3 L452.7 629.7 L453.0 630.5 L455.3 629.4 L455.5 630.4 L453.5 632.6 L453.6 633.5 L455.9 632.8 L455.9 633.9 L453.8 635.8 L453.8 636.8 L456.0 636.4 L456.0 637.6 L453.7 639.2 L453.6 640.2 L455.7 640.3 L455.5 641.5 L453.2 642.7 L453.0 643.8 L455.0 644.3 L454.7 645.5 L452.4 646.4 L452.0 647.5 L453.8 648.3 L453.4 649.5 L451.1 650.0 L450.7 651.1 L452.2 652.3 L451.7 653.5 L449.6 653.6 L449.0 654.7 L450.3 656.2 L449.7 657.4 L447.7 657.1 L447.0 658.2 L448.1 660.0 L447.3 661.1 L445.5 660.5 L444.8 661.4 L445.5 663.5 L444.7 664.5 L443.0 663.5 L442.3 664.4 L442.7 666.8 L441.8 667.7 L440.4 666.3 L439.6 667.1 L439.7 669.6 L438.8 670.4 L437.6 668.7 L436.8 669.4 L436.6 672.1 L435.6 672.7 L434.8 670.7 L433.9 671.3 L433.4 674.1 L432.4 674.6 L431.8 672.3 L431.0 672.7 L430.2 675.6 L429.2 675.9 L428.9 673.4 L428.1 673.7 L427.0 676.5 L426.1 676.7 L426.1 674.1 L425.3 674.2 L423.9 677.0 L423.0 677.0 L423.4 674.2 L422.6 674.2 L421.0 676.9 L420.2 676.7 L420.8 673.9 L420.1 673.7 L418.3 676.2 L417.5 675.9 L418.5 673.0 L417.8 672.7 L415.9 675.0 L415.2 674.5 L416.4 671.7 L415.8 671.2 L413.7 673.3 L413.1 672.7 L414.6 669.9 L414.1 669.3 L411.9 671.1 L411.5 670.3 L413.2 667.7 L412.8 667.0 L410.5 668.4 L410.2 667.6 L412.1 665.1 L411.8 664.3 L409.5 665.4 L409.3 664.4 L411.3 662.2 L411.2 661.3 L408.9 662.0 L408.9 661.0 L411.0 659.0 L411.0 658.0 L408.8 658.4 L408.9 657.3 L411.1 655.6 L411.2 654.6 L409.1 654.5 L409.3 653.4 L411.6 652.1 L411.8 651.0 L409.8 650.6 L410.2 649.4 L412.4 648.5 L412.8 647.4 L411.0 646.5 L411.4 645.3 L413.7 644.8 L414.1 643.7 L412.6 642.5 L413.1 641.3 L415.2 641.2 L415.8 640.1 L414.5 638.6 L415.1 637.4 L417.1 637.7 L417.8 636.7 L416.7 634.8 L417.5 633.7 L419.3 634.4 L420.0 633.4 L419.3 631.3 L420.1 630.3 L421.8 631.3 L422.5 630.4 L422.1 628.1 L423.0 627.2 L424.4 628.5 L425.2 627.8 L425.1 625.2 L426.0 624.4 L427.2 626.1 L428.0 625.5 L428.2 622.7 L429.2 622.1 L430.0 624.1 L430.9 623.6 L431.4 620.7 L432.4 620.2 L433.0 622.5 L433.8 622.1 L434.6 619.3 L435.6 618.9 L435.9 621.4 L436.7 621.1 L437.8 618.3 L438.7 618.1 L438.7 620.7 L439.5 620.6 L440.9 617.8 L441.8 617.8 L441.4 620.6 L442.2 620.6 L443.8 618.0 L444.6 618.1 L444.0 621.0 L444.7 621.2 L446.5 618.6 L447.3 618.9 L446.3 621.8Z" fill="#fff" stroke="#111" stroke-width="1.1" stroke-linejoin="round" />
<path d="M446.9 622.3 L448.8 623.7 L450.4 625.5 L451.7 627.7 L452.7 630.2 L453.3 633.0 L453.6 636.0 L453.5 639.3 L453.1 642.6 L452.3 646.1 L451.2 649.6 L449.7 653.0 L447.9 656.4 L445.9 659.6 L443.7 662.6 L441.2 665.3 L438.6 667.7 L435.9 669.8 L433.2 671.5 L430.4 672.8 L427.6 673.6 L425.0 674.0 L422.4 674.0 L420.1 673.4 L417.9 672.5 L416.0 671.1 L414.4 669.3 L413.1 667.1 L412.1 664.6 L411.5 661.8 L411.2 658.8 L411.3 655.6 L411.7 652.2 L412.5 648.7 L413.6 645.2 L415.1 641.8 L416.9 638.4 L418.9 635.2 L421.1 632.3 L423.6 629.5 L426.2 627.1 L428.9 625.0 L431.6 623.3 L434.4 622.1 L437.2 621.2 L439.8 620.8 L442.4 620.9 L444.7 621.4 L446.9 622.3Z" fill="none" stroke="#111" stroke-width="1.0" stroke-linejoin="round" />
<clipPath id="c3"><path d="M444.6 626.2 L446.2 627.4 L447.6 628.9 L448.7 630.8 L449.6 632.9 L450.1 635.2 L450.3 637.8 L450.3 640.5 L449.9 643.4 L449.2 646.3 L448.2 649.3 L447.0 652.2 L445.5 655.0 L443.8 657.7 L441.9 660.2 L439.9 662.5 L437.7 664.6 L435.4 666.3 L433.0 667.7 L430.7 668.8 L428.4 669.5 L426.1 669.9 L424.0 669.8 L422.0 669.4 L420.2 668.6 L418.6 667.4 L417.2 665.9 L416.1 664.1 L415.3 662.0 L414.7 659.6 L414.5 657.0 L414.5 654.3 L414.9 651.4 L415.6 648.5 L416.6 645.6 L417.8 642.7 L419.3 639.8 L421.0 637.1 L422.9 634.6 L425.0 632.3 L427.1 630.3 L429.4 628.5 L431.8 627.1 L434.1 626.0 L436.4 625.3 L438.7 625.0 L440.8 625.0 L442.8 625.4 L444.6 626.2Z"/></clipPath>
<path d="M443.8 627.6 L445.0 626.5 L445.5 626.8 L444.9 628.4 L445.4 628.8 L446.6 627.8 L447.0 628.2 L446.3 629.8 L446.7 630.3 L448.0 629.4 L448.3 630.0 L447.5 631.5 L447.8 632.1 L449.0 631.4 L449.3 632.1 L448.3 633.5 L448.5 634.2 L449.8 633.7 L450.0 634.5 L448.9 635.8 L449.0 636.5 L450.2 636.3 L450.3 637.1 L449.1 638.3 L449.2 639.1 L450.3 639.1 L450.3 639.9 L449.1 641.0 L449.0 641.8 L450.1 642.0 L450.0 642.9 L448.7 643.7 L448.5 644.6 L449.5 645.0 L449.3 645.9 L448.0 646.6 L447.8 647.5 L448.7 648.1 L448.3 649.0 L447.1 649.5 L446.7 650.3 L447.5 651.1 L447.1 652.0 L445.8 652.3 L445.4 653.1 L446.0 654.1 L445.5 655.0 L444.4 655.0 L443.9 655.8 L444.3 657.0 L443.7 657.8 L442.6 657.6 L442.1 658.4 L442.4 659.7 L441.7 660.4 L440.7 660.0 L440.1 660.7 L440.2 662.1 L439.6 662.8 L438.7 662.2 L438.0 662.8 L438.0 664.3 L437.3 664.9 L436.5 664.1 L435.8 664.6 L435.6 666.2 L434.9 666.7 L434.3 665.7 L433.6 666.1 L433.2 667.7 L432.4 668.1 L432.0 666.9 L431.3 667.2 L430.7 668.8 L430.0 669.1 L429.7 667.8 L429.0 668.0 L428.3 669.6 L427.6 669.7 L427.5 668.3 L426.8 668.4 L426.0 669.9 L425.3 669.9 L425.3 668.4 L424.7 668.4 L423.7 669.8 L423.1 669.7 L423.3 668.1 L422.8 668.0 L421.7 669.3 L421.1 669.1 L421.5 667.5 L421.0 667.2 L419.8 668.4 L419.3 668.0 L419.9 666.4 L419.4 666.0 L418.2 667.1 L417.8 666.6 L418.5 665.0 L418.1 664.6 L416.8 665.4 L416.5 664.8 L417.3 663.3 L417.0 662.7 L415.8 663.4 L415.5 662.7 L416.5 661.3 L416.3 660.6 L415.0 661.1 L414.8 660.3 L415.9 659.0 L415.8 658.3 L414.6 658.5 L414.5 657.7 L415.7 656.5 L415.6 655.7 L414.5 655.8 L414.5 654.9 L415.7 653.9 L415.8 653.0 L414.7 652.8 L414.8 651.9 L416.1 651.1 L416.3 650.2 L415.3 649.8 L415.5 648.9 L416.8 648.2 L417.0 647.4 L416.1 646.7 L416.5 645.8 L417.7 645.4 L418.1 644.5 L417.3 643.7 L417.7 642.8 L419.0 642.5 L419.4 641.7 L418.8 640.7 L419.3 639.8 L420.5 639.8 L420.9 639.0 L420.5 637.8 L421.1 637.0 L422.2 637.2 L422.7 636.5 L422.4 635.2 L423.1 634.4 L424.1 634.8 L424.7 634.1 L424.6 632.7 L425.2 632.0 L426.1 632.6 L426.8 632.0 L426.8 630.5 L427.5 629.9 L428.3 630.7 L429.0 630.2 L429.2 628.7 L429.9 628.2 L430.5 629.1 L431.2 628.7 L431.6 627.1 L432.4 626.8 L432.8 627.9 L433.5 627.6 L434.1 626.0 L434.8 625.7 L435.1 627.0 L435.8 626.8 L436.5 625.3 L437.2 625.1 L437.3 626.5 L438.0 626.4 L438.8 624.9 L439.5 624.9 L439.5 626.4 L440.1 626.4 L441.1 625.0 L441.7 625.1 L441.5 626.7 L442.0 626.8 L443.1 625.5 L443.7 625.8 L443.3 627.4Z" fill="#444" stroke="#111" stroke-width="1.0" stroke-linejoin="round" />
<g clip-path="url(#c3)">
<path d="M429.0 617.2 L430.6 618.4 L432.0 619.9 L433.1 621.8 L434.0 623.9 L434.5 626.2 L434.7 628.8 L434.7 631.5 L434.3 634.4 L433.6 637.3 L432.7 640.3 L431.4 643.2 L429.9 646.0 L428.2 648.7 L426.3 651.2 L424.3 653.5 L422.1 655.6 L419.8 657.3 L417.5 658.7 L415.1 659.8 L412.8 660.5 L410.5 660.9 L408.4 660.8 L406.4 660.4 L404.6 659.6 L403.0 658.4 L401.6 656.9 L400.5 655.1 L399.7 653.0 L399.1 650.6 L398.9 648.0 L399.0 645.3 L399.3 642.4 L400.0 639.5 L401.0 636.6 L402.2 633.7 L403.7 630.8 L405.4 628.1 L407.3 625.6 L409.4 623.3 L411.6 621.3 L413.8 619.5 L416.2 618.1 L418.5 617.0 L420.8 616.3 L423.1 616.0 L425.2 616.0 L427.2 616.4 L429.0 617.2Z" fill="#fff" stroke="#111" stroke-width="1.0" stroke-linejoin="round" />
</g>
<path d="M76.0 16.4 L75.4 16.1 L74.7 15.9 L74.0 15.7 L73.2 15.7 L72.5 15.8 L71.6 15.9 L70.8 16.1 L70.0 16.5 L69.2 16.9 L68.3 17.3 L67.5 17.9 L66.7 18.6 L65.9 19.3 L65.1 20.0 L64.4 20.9 L63.7 21.8 L63.1 22.7 L62.5 23.7 L61.9 24.7 L61.5 25.7 L61.0 26.7 L60.7 27.8 L60.4 28.8 L60.2 29.9 L60.0 30.9 L59.9 31.9 L59.9 32.9 L60.0 33.8 L60.1 34.7 L60.3 35.5 L60.6 36.3 L61.0 37.0 L61.4 37.6 L61.8 38.2 L62.4 38.6 L63.0 39.0 L68.1 42.0 L68.7 42.3 L69.4 42.5 L70.1 42.6 L70.9 42.7 L71.7 42.6 L72.5 42.5 L73.3 42.3 L74.1 41.9 L74.9 41.5 L75.8 41.0 L76.6 40.5 L77.4 39.8 L78.2 39.1 L79.0 38.3 L79.7 37.5 L80.4 36.6 L81.0 35.7 L81.6 34.7 L82.2 33.7 L82.7 32.7 L83.1 31.7 L83.4 30.6 L83.7 29.6 L84.0 28.5 L84.1 27.5 L84.2 26.5 L84.2 25.5 L84.1 24.6 L84.0 23.7 L83.8 22.9 L83.5 22.1 L83.1 21.4 L82.7 20.8 L82.3 20.2 L81.7 19.8 L81.1 19.4Z" fill="#fff" stroke="#111" stroke-width="1.3" stroke-linejoin="round" />
<path d="M81.7 18.4 L82.6 19.1 L83.4 20.0 L84.1 21.0 L84.5 22.2 L84.9 23.6 L85.0 25.1 L85.0 26.7 L84.7 28.3 L84.3 30.0 L83.8 31.7 L83.1 33.4 L82.2 35.1 L81.2 36.6 L80.1 38.1 L78.9 39.4 L77.7 40.6 L76.3 41.6 L75.0 42.5 L73.6 43.1 L72.3 43.5 L71.0 43.7 L69.7 43.7 L68.6 43.4 L67.5 42.9 L66.6 42.3 L65.8 41.4 L65.2 40.3 L64.7 39.1 L64.4 37.7 L64.2 36.2 L64.3 34.7 L64.5 33.0 L64.9 31.3 L65.4 29.6 L66.1 27.9 L67.0 26.3 L68.0 24.7 L69.1 23.3 L70.3 21.9 L71.6 20.7 L72.9 19.7 L74.2 18.9 L75.6 18.3 L76.9 17.9 L78.2 17.7 L79.5 17.7 L80.6 17.9 L81.7 18.4Z" fill="#fff" stroke="#111" stroke-width="1.3" stroke-linejoin="round" />
<path d="M81.1 19.4 L82.0 20.0 L82.7 20.8 L83.3 21.8 L83.8 22.9 L84.0 24.2 L84.2 25.5 L84.1 27.0 L83.9 28.5 L83.6 30.1 L83.1 31.7 L82.4 33.2 L81.6 34.7 L80.7 36.1 L79.7 37.5 L78.6 38.7 L77.4 39.8 L76.2 40.7 L74.9 41.5 L73.7 42.1 L72.5 42.5 L71.3 42.6 L70.1 42.6 L69.1 42.4 L68.1 42.0 L67.2 41.3 L66.5 40.5 L65.9 39.6 L65.5 38.4 L65.2 37.2 L65.1 35.8 L65.1 34.3 L65.3 32.8 L65.7 31.3 L66.2 29.7 L66.8 28.1 L67.6 26.6 L68.5 25.2 L69.5 23.8 L70.6 22.6 L71.8 21.5 L73.0 20.6 L74.3 19.8 L75.5 19.3 L76.8 18.9 L78.0 18.7 L79.1 18.7 L80.2 19.0 L81.1 19.4Z" fill="#666" stroke="#111" stroke-width="1.0" stroke-linejoin="round" />
<path d="M78.5 23.9 L79.0 24.3 L79.5 24.8 L79.8 25.4 L80.1 26.0 L80.2 26.8 L80.3 27.6 L80.3 28.5 L80.2 29.4 L80.0 30.3 L79.7 31.3 L79.3 32.2 L78.8 33.1 L78.2 33.9 L77.6 34.8 L77.0 35.5 L76.3 36.1 L75.6 36.7 L74.8 37.1 L74.1 37.5 L73.3 37.7 L72.6 37.8 L71.9 37.8 L71.3 37.7 L70.7 37.4 L70.2 37.0 L69.8 36.6 L69.4 36.0 L69.1 35.3 L69.0 34.6 L68.9 33.7 L68.9 32.9 L69.0 32.0 L69.3 31.0 L69.6 30.1 L70.0 29.2 L70.4 28.3 L71.0 27.4 L71.6 26.6 L72.2 25.9 L72.9 25.2 L73.7 24.6 L74.4 24.2 L75.2 23.8 L75.9 23.6 L76.6 23.5 L77.3 23.5 L77.9 23.7 L78.5 23.9Z" fill="#fff" stroke="#111" stroke-width="1.2" stroke-linejoin="round" />
<path d="M77.8 25.2 L78.2 25.5 L78.6 25.9 L78.9 26.3 L79.1 26.9 L79.2 27.5 L79.3 28.2 L79.3 28.9 L79.2 29.6 L79.0 30.4 L78.7 31.2 L78.4 31.9 L78.0 32.6 L77.6 33.4 L77.1 34.0 L76.6 34.6 L76.0 35.1 L75.4 35.6 L74.8 36.0 L74.2 36.3 L73.6 36.4 L73.0 36.5 L72.4 36.5 L71.9 36.4 L71.4 36.2 L71.0 35.9 L70.6 35.5 L70.4 35.0 L70.1 34.5 L70.0 33.8 L69.9 33.2 L70.0 32.5 L70.1 31.7 L70.2 31.0 L70.5 30.2 L70.8 29.4 L71.2 28.7 L71.6 28.0 L72.1 27.3 L72.7 26.7 L73.2 26.2 L73.8 25.7 L74.4 25.4 L75.1 25.1 L75.7 24.9 L76.2 24.8 L76.8 24.8 L77.3 24.9 L77.8 25.2Z" fill="none" stroke="#111" stroke-width="0.8" stroke-linejoin="round" />
<path d="M104.1 29.9 L103.3 29.5 L102.4 29.2 L101.6 29.0 L100.6 29.0 L99.7 29.1 L98.7 29.2 L97.7 29.5 L96.7 29.9 L95.6 30.4 L94.6 31.0 L93.6 31.7 L92.6 32.5 L91.6 33.4 L90.7 34.3 L89.8 35.3 L89.0 36.4 L88.2 37.6 L87.5 38.8 L86.8 40.0 L86.2 41.2 L85.7 42.5 L85.2 43.8 L84.9 45.1 L84.6 46.3 L84.4 47.6 L84.3 48.8 L84.3 50.0 L84.4 51.1 L84.6 52.2 L84.8 53.2 L85.2 54.2 L85.6 55.0 L86.1 55.8 L86.7 56.5 L87.3 57.1 L88.0 57.6 L93.8 60.9 L94.6 61.3 L95.5 61.6 L96.3 61.7 L97.3 61.8 L98.2 61.7 L99.2 61.6 L100.2 61.3 L101.2 60.9 L102.3 60.4 L103.3 59.8 L104.3 59.1 L105.3 58.3 L106.3 57.4 L107.2 56.5 L108.1 55.4 L108.9 54.4 L109.7 53.2 L110.4 52.0 L111.1 50.8 L111.7 49.5 L112.2 48.3 L112.7 47.0 L113.0 45.7 L113.3 44.4 L113.5 43.2 L113.6 42.0 L113.6 40.8 L113.5 39.6 L113.3 38.6 L113.1 37.5 L112.7 36.6 L112.3 35.7 L111.8 35.0 L111.2 34.3 L110.6 33.7 L109.9 33.2Z" fill="#fff" stroke="#111" stroke-width="1.3" stroke-linejoin="round" />
<path d="M110.4 32.2 L111.5 33.1 L112.5 34.1 L113.3 35.4 L113.9 36.9 L114.2 38.5 L114.4 40.3 L114.3 42.3 L114.1 44.3 L113.6 46.3 L112.9 48.4 L112.1 50.4 L111.0 52.4 L109.8 54.3 L108.5 56.0 L107.1 57.6 L105.5 59.1 L103.9 60.3 L102.3 61.3 L100.7 62.0 L99.0 62.5 L97.5 62.8 L96.0 62.7 L94.6 62.4 L93.3 61.9 L92.2 61.1 L91.2 60.0 L90.4 58.7 L89.8 57.2 L89.5 55.6 L89.3 53.8 L89.4 51.9 L89.6 49.9 L90.1 47.8 L90.8 45.8 L91.6 43.7 L92.7 41.8 L93.9 39.9 L95.2 38.1 L96.6 36.5 L98.2 35.1 L99.8 33.8 L101.4 32.8 L103.0 32.1 L104.7 31.6 L106.2 31.3 L107.7 31.4 L109.1 31.7 L110.4 32.2Z" fill="#fff" stroke="#111" stroke-width="1.3" stroke-linejoin="round" />
<path d="M109.7 33.4 L110.8 34.2 L111.6 35.2 L112.4 36.3 L112.9 37.7 L113.2 39.2 L113.4 40.9 L113.3 42.6 L113.1 44.5 L112.7 46.4 L112.0 48.2 L111.3 50.1 L110.3 51.9 L109.2 53.7 L108.0 55.3 L106.6 56.8 L105.2 58.1 L103.8 59.2 L102.3 60.2 L100.8 60.8 L99.3 61.3 L97.8 61.5 L96.4 61.5 L95.2 61.2 L94.0 60.7 L92.9 59.9 L92.1 59.0 L91.3 57.8 L90.8 56.4 L90.5 54.9 L90.3 53.3 L90.4 51.5 L90.6 49.7 L91.0 47.8 L91.7 45.9 L92.4 44.0 L93.4 42.2 L94.5 40.4 L95.7 38.8 L97.1 37.3 L98.5 36.0 L99.9 34.9 L101.4 34.0 L102.9 33.3 L104.4 32.8 L105.9 32.6 L107.3 32.6 L108.5 32.9 L109.7 33.4ZM108.7 35.2 L109.6 35.9 L110.4 36.7 L111.0 37.7 L111.5 38.9 L111.8 40.2 L111.9 41.7 L111.8 43.2 L111.6 44.8 L111.3 46.4 L110.7 48.1 L110.0 49.7 L109.2 51.3 L108.2 52.8 L107.2 54.2 L106.0 55.5 L104.8 56.7 L103.5 57.6 L102.2 58.4 L100.9 59.1 L99.6 59.5 L98.3 59.6 L97.1 59.6 L96.0 59.4 L95.0 58.9 L94.1 58.3 L93.3 57.4 L92.7 56.4 L92.3 55.2 L91.9 53.9 L91.8 52.4 L91.9 50.9 L92.1 49.3 L92.4 47.7 L93.0 46.0 L93.7 44.4 L94.5 42.8 L95.5 41.3 L96.5 39.9 L97.7 38.6 L98.9 37.5 L100.2 36.5 L101.5 35.7 L102.8 35.1 L104.1 34.7 L105.4 34.5 L106.6 34.5 L107.7 34.8 L108.7 35.2Z" fill="#555" stroke="#111" stroke-width="1.0" stroke-linejoin="round" fill-rule="evenodd"/>
<path d="M108.2 36.1 L109.0 36.7 L109.7 37.5 L110.3 38.4 L110.7 39.5 L111.0 40.8 L111.1 42.1 L111.1 43.5 L110.9 45.0 L110.6 46.5 L110.1 48.0 L109.4 49.5 L108.6 51.0 L107.8 52.4 L106.8 53.7 L105.7 54.9 L104.6 55.9 L103.4 56.9 L102.2 57.6 L101.0 58.2 L99.8 58.5 L98.6 58.7 L97.5 58.7 L96.5 58.4 L95.5 58.0 L94.7 57.4 L94.0 56.6 L93.4 55.7 L93.0 54.6 L92.7 53.4 L92.6 52.0 L92.6 50.6 L92.8 49.1 L93.1 47.6 L93.6 46.1 L94.3 44.6 L95.1 43.1 L95.9 41.7 L96.9 40.4 L98.0 39.2 L99.1 38.2 L100.3 37.3 L101.5 36.5 L102.7 36.0 L103.9 35.6 L105.1 35.4 L106.2 35.5 L107.2 35.7 L108.2 36.1Z" fill="none" stroke="#111" stroke-width="0.8" stroke-linejoin="round" />
<path d="M108.0 42.4 L108.1 43.2 L108.1 44.0 L108.1 44.9 L107.9 45.8 L107.7 46.7 L107.4 47.6 L107.1 48.5 L106.6 49.4 L106.1 50.3 L105.5 51.1 L104.9 51.8 L104.3 52.5 L103.6 53.2 L102.9 53.7 L102.1 54.1 L101.4 54.5 L100.7 54.7 L100.0 54.9 L99.3 54.9 L98.7 54.9 L98.0 54.7 L97.5 54.4 L97.0 54.1 L96.6 53.6 L96.2 53.0 L95.9 52.4 L95.7 51.7 L95.6 50.9 L95.6 50.1 L95.6 49.2 L95.8 48.3 L96.0 47.4 L96.3 46.5 L96.6 45.6 L97.1 44.7 L97.6 43.9 L98.2 43.1 L98.8 42.3 L99.4 41.6 L100.1 41.0 L100.8 40.4 L101.5 40.0 L102.3 39.6 L103.0 39.4 L103.7 39.2 L104.4 39.2 L105.0 39.3 L105.6 39.4" fill="none" stroke="#111" stroke-width="1.6" stroke-linejoin="round" />
<path d="M118.0 53.4 L117.9 53.3 L117.7 53.2 L117.6 53.2 L117.4 53.2 L117.2 53.2 L117.0 53.2 L116.9 53.3 L116.7 53.4 L116.5 53.5 L116.3 53.6 L116.1 53.7 L115.9 53.8 L115.8 54.0 L115.6 54.2 L115.4 54.4 L115.3 54.6 L115.1 54.8 L115.0 55.0 L114.9 55.2 L114.8 55.4 L114.7 55.7 L114.6 55.9 L114.5 56.1 L114.5 56.3 L114.5 56.6 L114.4 56.8 L114.4 57.0 L114.5 57.2 L114.5 57.4 L114.5 57.6 L114.6 57.8 L114.7 57.9 L114.8 58.1 L114.9 58.2 L115.0 58.3 L115.1 58.4 L121.2 61.9 L121.3 62.0 L121.5 62.0 L121.6 62.0 L121.8 62.0 L122.0 62.0 L122.2 62.0 L122.3 61.9 L122.5 61.9 L122.7 61.8 L122.9 61.7 L123.1 61.5 L123.3 61.4 L123.4 61.2 L123.6 61.1 L123.8 60.9 L123.9 60.7 L124.1 60.5 L124.2 60.3 L124.3 60.0 L124.4 59.8 L124.5 59.6 L124.6 59.4 L124.7 59.1 L124.7 58.9 L124.7 58.7 L124.8 58.4 L124.8 58.2 L124.7 58.0 L124.7 57.8 L124.7 57.6 L124.6 57.5 L124.5 57.3 L124.4 57.2 L124.3 57.1 L124.2 56.9 L124.1 56.9Z" fill="#fff" stroke="#111" stroke-width="1.1" stroke-linejoin="round" />
<path d="M124.6 55.9 L124.9 56.1 L125.1 56.3 L125.3 56.6 L125.4 57.0 L125.5 57.4 L125.6 57.8 L125.6 58.2 L125.5 58.7 L125.4 59.2 L125.2 59.7 L125.0 60.1 L124.8 60.6 L124.5 61.1 L124.2 61.5 L123.9 61.8 L123.5 62.2 L123.1 62.5 L122.7 62.7 L122.4 62.9 L122.0 63.0 L121.6 63.0 L121.3 63.0 L120.9 63.0 L120.6 62.8 L120.4 62.6 L120.1 62.4 L120.0 62.1 L119.8 61.8 L119.7 61.4 L119.7 60.9 L119.7 60.5 L119.8 60.0 L119.9 59.6 L120.0 59.1 L120.2 58.6 L120.5 58.1 L120.8 57.7 L121.1 57.3 L121.4 56.9 L121.8 56.6 L122.1 56.3 L122.5 56.0 L122.9 55.9 L123.3 55.8 L123.7 55.7 L124.0 55.7 L124.3 55.8 L124.6 55.9Z" fill="#fff" stroke="#111" stroke-width="1.1" stroke-linejoin="round" />
<path d="M126.3 53.0 L126.0 52.8 L125.6 52.7 L125.2 52.6 L124.8 52.6 L124.4 52.6 L124.0 52.7 L123.6 52.8 L123.1 53.0 L122.7 53.2 L122.3 53.5 L121.8 53.8 L121.4 54.1 L121.0 54.5 L120.6 54.9 L120.2 55.3 L119.8 55.8 L119.5 56.3 L119.2 56.8 L118.9 57.3 L118.6 57.9 L118.4 58.4 L118.2 59.0 L118.1 59.5 L117.9 60.1 L117.9 60.6 L117.8 61.2 L117.8 61.7 L117.8 62.2 L117.9 62.6 L118.0 63.1 L118.2 63.5 L118.4 63.8 L118.6 64.2 L118.8 64.5 L119.1 64.7 L119.4 64.9 L139.3 76.4 L139.7 76.6 L140.0 76.7 L140.4 76.8 L140.8 76.8 L141.2 76.8 L141.7 76.7 L142.1 76.6 L142.5 76.4 L143.0 76.2 L143.4 75.9 L143.8 75.6 L144.3 75.3 L144.7 74.9 L145.1 74.5 L145.5 74.1 L145.8 73.6 L146.2 73.1 L146.5 72.6 L146.8 72.1 L147.0 71.5 L147.3 71.0 L147.5 70.4 L147.6 69.9 L147.7 69.3 L147.8 68.8 L147.8 68.3 L147.8 67.7 L147.8 67.2 L147.7 66.8 L147.6 66.3 L147.5 65.9 L147.3 65.6 L147.1 65.2 L146.8 64.9 L146.5 64.7 L146.2 64.5Z" fill="#fff" stroke="#111" stroke-width="1.1" stroke-linejoin="round" />
<path d="M138.4 75.5L118.5 64.0M137.8 73.8L117.9 62.3M137.8 71.7L117.9 60.2M138.5 69.4L118.6 57.9M139.8 67.3L119.8 55.8M141.4 65.5L121.5 54.0M143.2 64.4L123.3 52.9M145.0 64.1L125.1 52.6" fill="none" stroke="#111" stroke-width="1.3" stroke-linejoin="round" />
<path d="M146.8 63.5 L147.3 63.9 L147.8 64.4 L148.1 65.0 L148.4 65.7 L148.6 66.5 L148.7 67.3 L148.6 68.2 L148.5 69.1 L148.3 70.1 L148.0 71.1 L147.6 72.0 L147.1 72.9 L146.5 73.8 L145.9 74.6 L145.2 75.4 L144.5 76.1 L143.8 76.6 L143.0 77.1 L142.2 77.5 L141.5 77.7 L140.7 77.8 L140.0 77.8 L139.4 77.6 L138.8 77.4 L138.3 77.0 L137.8 76.5 L137.4 75.9 L137.2 75.2 L137.0 74.4 L136.9 73.6 L136.9 72.7 L137.1 71.8 L137.3 70.8 L137.6 69.9 L138.0 68.9 L138.5 68.0 L139.1 67.1 L139.7 66.3 L140.4 65.5 L141.1 64.8 L141.8 64.3 L142.6 63.8 L143.3 63.4 L144.1 63.2 L144.8 63.1 L145.5 63.1 L146.2 63.3 L146.8 63.5Z" fill="#fff" stroke="#111" stroke-width="1.1" stroke-linejoin="round" />
<path d="M145.4 65.9 L145.2 65.8 L144.9 65.7 L144.6 65.7 L144.4 65.6 L144.1 65.7 L143.8 65.7 L143.5 65.8 L143.1 65.9 L142.8 66.1 L142.5 66.3 L142.2 66.5 L141.9 66.7 L141.6 67.0 L141.3 67.3 L141.1 67.6 L140.8 67.9 L140.6 68.3 L140.3 68.6 L140.1 69.0 L139.9 69.4 L139.8 69.8 L139.7 70.2 L139.5 70.6 L139.5 70.9 L139.4 71.3 L139.4 71.7 L139.4 72.1 L139.4 72.4 L139.4 72.7 L139.5 73.1 L139.6 73.3 L139.8 73.6 L139.9 73.8 L140.1 74.1 L140.3 74.2 L140.5 74.4 L155.2 82.9 L155.5 83.0 L155.7 83.1 L156.0 83.1 L156.3 83.1 L156.6 83.1 L156.9 83.1 L157.2 83.0 L157.5 82.9 L157.8 82.7 L158.1 82.5 L158.4 82.3 L158.7 82.1 L159.0 81.8 L159.3 81.5 L159.6 81.2 L159.9 80.9 L160.1 80.5 L160.3 80.2 L160.5 79.8 L160.7 79.4 L160.9 79.0 L161.0 78.6 L161.1 78.2 L161.2 77.8 L161.2 77.5 L161.3 77.1 L161.3 76.7 L161.3 76.4 L161.2 76.0 L161.1 75.7 L161.0 75.4 L160.9 75.2 L160.7 74.9 L160.6 74.7 L160.4 74.5 L160.1 74.4Z" fill="#fff" stroke="#111" stroke-width="1.1" stroke-linejoin="round" />
<path d="M160.7 73.4 L161.1 73.7 L161.4 74.1 L161.7 74.6 L161.9 75.1 L162.0 75.7 L162.1 76.3 L162.1 77.0 L162.0 77.7 L161.8 78.4 L161.6 79.1 L161.3 79.8 L160.9 80.5 L160.5 81.2 L160.0 81.8 L159.5 82.3 L159.0 82.9 L158.4 83.3 L157.8 83.6 L157.3 83.9 L156.7 84.1 L156.1 84.2 L155.6 84.1 L155.1 84.0 L154.7 83.8 L154.3 83.6 L154.0 83.2 L153.7 82.7 L153.5 82.2 L153.3 81.6 L153.3 81.0 L153.3 80.3 L153.4 79.6 L153.6 78.9 L153.8 78.2 L154.1 77.5 L154.5 76.8 L154.9 76.1 L155.4 75.5 L155.9 74.9 L156.4 74.4 L157.0 74.0 L157.5 73.7 L158.1 73.4 L158.7 73.2 L159.2 73.1 L159.8 73.1 L160.2 73.2 L160.7 73.4Z" fill="#fff" stroke="#111" stroke-width="1.1" stroke-linejoin="round" />
<path d="M160.9 73.0 L160.6 72.9 L160.3 72.7 L159.9 72.7 L159.6 72.7 L159.2 72.7 L158.8 72.8 L158.4 72.9 L158.0 73.0 L157.6 73.2 L157.2 73.5 L156.8 73.7 L156.4 74.1 L156.0 74.4 L155.6 74.8 L155.2 75.2 L154.9 75.6 L154.6 76.1 L154.3 76.6 L154.0 77.1 L153.8 77.6 L153.6 78.1 L153.4 78.6 L153.3 79.1 L153.2 79.6 L153.1 80.1 L153.0 80.6 L153.0 81.1 L153.1 81.5 L153.1 82.0 L153.2 82.4 L153.4 82.7 L153.6 83.1 L153.8 83.4 L154.0 83.7 L154.3 83.9 L154.5 84.1 L158.9 86.6 L159.2 86.7 L159.5 86.9 L159.9 86.9 L160.2 86.9 L160.6 86.9 L161.0 86.8 L161.4 86.7 L161.8 86.6 L162.2 86.4 L162.6 86.1 L163.0 85.9 L163.4 85.5 L163.8 85.2 L164.2 84.8 L164.6 84.4 L164.9 84.0 L165.2 83.5 L165.5 83.0 L165.8 82.5 L166.0 82.0 L166.2 81.5 L166.4 81.0 L166.5 80.5 L166.6 80.0 L166.7 79.5 L166.8 79.0 L166.8 78.5 L166.7 78.1 L166.7 77.6 L166.6 77.2 L166.4 76.9 L166.3 76.5 L166.0 76.2 L165.8 75.9 L165.6 75.7 L165.3 75.5Z" fill="#fff" stroke="#111" stroke-width="1.1" stroke-linejoin="round" />
<path d="M165.8 74.6 L166.3 74.9 L166.7 75.4 L167.1 75.9 L167.3 76.6 L167.5 77.3 L167.6 78.1 L167.5 78.9 L167.4 79.8 L167.2 80.7 L166.9 81.6 L166.5 82.5 L166.1 83.4 L165.6 84.2 L165.0 85.0 L164.4 85.7 L163.7 86.3 L163.0 86.8 L162.3 87.3 L161.5 87.6 L160.8 87.8 L160.1 87.9 L159.5 87.9 L158.9 87.8 L158.3 87.5 L157.8 87.2 L157.4 86.7 L157.1 86.2 L156.8 85.5 L156.6 84.8 L156.6 84.0 L156.6 83.2 L156.7 82.3 L156.9 81.4 L157.2 80.5 L157.6 79.6 L158.0 78.7 L158.6 77.9 L159.1 77.1 L159.8 76.4 L160.5 75.8 L161.2 75.3 L161.9 74.8 L162.6 74.5 L163.3 74.3 L164.0 74.2 L164.6 74.2 L165.3 74.3 L165.8 74.6Z" fill="#fff" stroke="#111" stroke-width="1.1" stroke-linejoin="round" />
<path d="M165.7 74.7 L165.4 74.6 L165.0 74.4 L164.6 74.4 L164.2 74.4 L163.8 74.4 L163.4 74.5 L163.0 74.6 L162.5 74.8 L162.1 75.0 L161.6 75.2 L161.2 75.5 L160.8 75.9 L160.4 76.2 L160.0 76.7 L159.6 77.1 L159.2 77.6 L158.9 78.1 L158.6 78.6 L158.3 79.1 L158.0 79.6 L157.8 80.2 L157.6 80.7 L157.4 81.3 L157.3 81.8 L157.2 82.4 L157.2 82.9 L157.2 83.4 L157.2 83.9 L157.3 84.4 L157.4 84.8 L157.6 85.2 L157.8 85.6 L158.0 85.9 L158.2 86.2 L158.5 86.5 L158.8 86.7 L175.3 96.2 L175.6 96.3 L176.0 96.5 L176.3 96.5 L176.7 96.6 L177.2 96.5 L177.6 96.4 L178.0 96.3 L178.5 96.2 L178.9 95.9 L179.3 95.7 L179.8 95.4 L180.2 95.0 L180.6 94.7 L181.0 94.3 L181.4 93.8 L181.8 93.3 L182.1 92.9 L182.4 92.3 L182.7 91.8 L183.0 91.3 L183.2 90.7 L183.4 90.2 L183.5 89.6 L183.7 89.1 L183.7 88.5 L183.8 88.0 L183.8 87.5 L183.7 87.0 L183.7 86.5 L183.6 86.1 L183.4 85.7 L183.2 85.3 L183.0 85.0 L182.8 84.7 L182.5 84.4 L182.2 84.2Z" fill="#fff" stroke="#111" stroke-width="1.1" stroke-linejoin="round" />
<path d="M182.7 83.3 L183.2 83.7 L183.7 84.2 L184.1 84.8 L184.3 85.4 L184.5 86.2 L184.6 87.1 L184.6 88.0 L184.4 88.9 L184.2 89.8 L183.9 90.8 L183.5 91.8 L183.0 92.7 L182.5 93.6 L181.8 94.4 L181.2 95.1 L180.4 95.8 L179.7 96.4 L178.9 96.9 L178.2 97.2 L177.4 97.4 L176.7 97.6 L176.0 97.5 L175.3 97.4 L174.7 97.1 L174.2 96.7 L173.7 96.3 L173.4 95.7 L173.1 95.0 L172.9 94.2 L172.9 93.3 L172.9 92.5 L173.0 91.5 L173.2 90.6 L173.5 89.6 L173.9 88.7 L174.4 87.7 L175.0 86.8 L175.6 86.0 L176.3 85.3 L177.0 84.6 L177.7 84.0 L178.5 83.6 L179.3 83.2 L180.0 83.0 L180.8 82.9 L181.5 82.9 L182.1 83.0 L182.7 83.3Z" fill="#fff" stroke="#111" stroke-width="1.1" stroke-linejoin="round" />
<path d="M183.0 82.8 L185.4 80.1 L186.2 80.8 L184.3 84.0 L184.6 84.8 L187.4 83.4 L187.6 84.7 L185.0 87.0 L184.9 88.1 L187.4 88.2 L187.0 89.8 L184.3 90.6 L183.8 91.7 L185.4 93.5 L184.5 95.0 L182.3 94.2 L181.5 95.1 L181.9 98.0 L180.7 99.0 L179.5 96.7 L178.7 97.2 L177.7 100.6 L176.5 101.0 L176.6 97.8 L175.8 97.7 L173.8 100.9 L172.8 100.4 L174.2 97.0 L173.7 96.5 L171.0 98.6 L170.5 97.5 L172.8 94.7 L172.7 93.8 L170.0 94.4 L170.1 92.9 L172.8 91.3 L173.1 90.2 L171.0 89.2 L171.7 87.6 L174.2 87.6 L174.8 86.6 L173.8 84.2 L174.9 82.9 L176.6 84.5 L177.5 83.8 L177.8 80.5 L179.0 79.8 L179.6 82.6 L180.4 82.4 L181.9 79.0 L183.1 79.1 L182.3 82.5Z" fill="#fff" stroke="#111" stroke-width="1.1" stroke-linejoin="round" />
<path d="M183.9 81.2 L183.4 81.0 L182.9 80.8 L182.3 80.7 L181.7 80.7 L181.1 80.7 L180.5 80.8 L179.8 81.0 L179.2 81.2 L178.5 81.6 L177.9 81.9 L177.2 82.4 L176.6 82.9 L176.0 83.4 L175.4 84.0 L174.8 84.7 L174.3 85.4 L173.8 86.1 L173.3 86.9 L172.9 87.7 L172.5 88.5 L172.2 89.3 L171.9 90.1 L171.7 90.9 L171.5 91.7 L171.4 92.5 L171.3 93.3 L171.3 94.1 L171.4 94.8 L171.5 95.5 L171.7 96.1 L171.9 96.7 L172.1 97.3 L172.5 97.8 L172.8 98.2 L173.3 98.6 L173.7 98.9 L181.5 103.4 L182.0 103.6 L182.5 103.8 L183.1 103.9 L183.7 103.9 L184.3 103.9 L184.9 103.8 L185.6 103.6 L186.2 103.3 L186.9 103.0 L187.5 102.6 L188.2 102.2 L188.8 101.7 L189.4 101.1 L190.0 100.5 L190.6 99.9 L191.1 99.2 L191.6 98.5 L192.1 97.7 L192.5 96.9 L192.9 96.1 L193.2 95.3 L193.5 94.5 L193.7 93.7 L193.9 92.9 L194.0 92.1 L194.1 91.3 L194.1 90.5 L194.0 89.8 L193.9 89.1 L193.8 88.5 L193.5 87.9 L193.3 87.3 L192.9 86.8 L192.6 86.4 L192.2 86.0 L191.7 85.7Z" fill="#fff" stroke="#111" stroke-width="1.1" stroke-linejoin="round" />
<path d="M179.7 101.3L171.5 95.4M179.3 99.8L171.3 93.7M179.1 98.1L171.5 91.8M179.3 96.2L172.0 89.8M179.8 94.3L172.8 87.9M180.6 92.3L173.8 86.1M181.7 90.5L175.1 84.4M182.9 88.9L176.5 83.0M184.4 87.4L178.0 81.9M185.9 86.3L179.6 81.1M187.4 85.6L181.1 80.7M188.9 85.2L182.5 80.7M190.4 85.2L183.8 81.1" fill="none" stroke="#111" stroke-width="1.2" stroke-linejoin="round" />
<path d="M190.8 87.3 L193.2 84.6 L194.0 85.3 L192.1 88.5 L192.4 89.3 L195.2 87.9 L195.4 89.2 L192.8 91.5 L192.7 92.6 L195.2 92.7 L194.8 94.3 L192.1 95.1 L191.6 96.2 L193.2 98.0 L192.3 99.5 L190.1 98.7 L189.3 99.6 L189.7 102.5 L188.5 103.5 L187.3 101.2 L186.5 101.7 L185.5 105.1 L184.3 105.5 L184.4 102.3 L183.6 102.2 L181.6 105.4 L180.6 104.9 L182.0 101.5 L181.4 101.0 L178.8 103.1 L178.3 102.0 L180.6 99.2 L180.5 98.3 L177.8 98.9 L177.9 97.4 L180.6 95.8 L180.9 94.7 L178.8 93.7 L179.5 92.1 L182.0 92.1 L182.6 91.1 L181.6 88.7 L182.7 87.4 L184.4 89.0 L185.3 88.3 L185.5 85.0 L186.8 84.3 L187.4 87.1 L188.2 86.9 L189.7 83.5 L190.9 83.6 L190.1 87.0Z" fill="#fff" stroke="#111" stroke-width="1.1" stroke-linejoin="round" />
<path d="M190.2 88.3 L189.9 88.1 L189.5 88.0 L189.1 87.9 L188.7 87.9 L188.3 87.9 L187.9 88.0 L187.5 88.1 L187.0 88.3 L186.6 88.5 L186.1 88.8 L185.7 89.1 L185.3 89.4 L184.9 89.8 L184.5 90.2 L184.1 90.7 L183.7 91.1 L183.4 91.6 L183.1 92.1 L182.8 92.7 L182.5 93.2 L182.3 93.7 L182.1 94.3 L181.9 94.9 L181.8 95.4 L181.7 95.9 L181.7 96.5 L181.7 97.0 L181.7 97.5 L181.8 97.9 L181.9 98.4 L182.1 98.8 L182.2 99.2 L182.5 99.5 L182.7 99.8 L183.0 100.0 L183.3 100.2 L196.3 107.7 L196.6 107.9 L197.0 108.0 L197.4 108.1 L197.8 108.1 L198.2 108.1 L198.6 108.0 L199.0 107.9 L199.5 107.7 L199.9 107.5 L200.4 107.2 L200.8 106.9 L201.2 106.6 L201.6 106.2 L202.1 105.8 L202.4 105.4 L202.8 104.9 L203.1 104.4 L203.5 103.9 L203.7 103.4 L204.0 102.8 L204.2 102.3 L204.4 101.7 L204.6 101.2 L204.7 100.6 L204.8 100.1 L204.8 99.6 L204.8 99.1 L204.8 98.6 L204.7 98.1 L204.6 97.7 L204.4 97.3 L204.3 96.9 L204.0 96.5 L203.8 96.3 L203.5 96.0 L203.2 95.8Z" fill="#fff" stroke="#111" stroke-width="1.1" stroke-linejoin="round" />
<path d="M203.7 94.8 L204.3 95.2 L204.7 95.7 L205.1 96.3 L205.4 97.0 L205.5 97.8 L205.6 98.6 L205.6 99.5 L205.5 100.5 L205.2 101.4 L204.9 102.4 L204.5 103.3 L204.0 104.2 L203.5 105.1 L202.9 106.0 L202.2 106.7 L201.5 107.4 L200.7 108.0 L200.0 108.4 L199.2 108.8 L198.4 109.0 L197.7 109.1 L197.0 109.1 L196.3 109.0 L195.7 108.7 L195.2 108.3 L194.8 107.8 L194.4 107.2 L194.1 106.5 L194.0 105.8 L193.9 104.9 L193.9 104.0 L194.0 103.1 L194.2 102.1 L194.6 101.2 L195.0 100.2 L195.5 99.3 L196.0 98.4 L196.6 97.6 L197.3 96.8 L198.0 96.2 L198.8 95.6 L199.5 95.1 L200.3 94.8 L201.1 94.5 L201.8 94.4 L202.5 94.4 L203.2 94.6 L203.7 94.8Z" fill="#fff" stroke="#111" stroke-width="1.1" stroke-linejoin="round" />
<path d="M205.5 91.8 L207.4 89.7 L208.1 90.3 L206.8 92.9 L207.2 93.6 L209.3 92.2 L209.7 93.2 L207.9 95.4 L208.0 96.3 L210.2 95.8 L210.2 97.0 L208.0 98.6 L207.9 99.7 L209.7 100.1 L209.4 101.4 L207.2 102.2 L206.8 103.2 L208.1 104.6 L207.4 105.9 L205.5 105.7 L204.8 106.6 L205.5 108.7 L204.6 109.7 L203.1 108.6 L202.3 109.4 L202.2 111.9 L201.2 112.6 L200.3 110.7 L199.5 111.2 L198.6 113.9 L197.6 114.2 L197.5 111.8 L196.7 111.8 L195.2 114.4 L194.3 114.2 L195.0 111.5 L194.3 111.2 L192.4 113.3 L191.7 112.7 L193.0 110.1 L192.6 109.4 L190.4 110.8 L190.1 109.8 L191.9 107.6 L191.7 106.7 L189.6 107.2 L189.6 106.0 L191.7 104.4 L191.9 103.4 L190.1 102.9 L190.4 101.6 L192.6 100.8 L193.0 99.8 L191.7 98.5 L192.4 97.2 L194.3 97.4 L194.9 96.4 L194.3 94.4 L195.2 93.3 L196.7 94.4 L197.5 93.7 L197.6 91.1 L198.6 90.4 L199.5 92.3 L200.3 91.8 L201.1 89.2 L202.2 88.8 L202.3 91.3 L203.1 91.2 L204.5 88.7 L205.5 88.8 L204.8 91.5Z" fill="#fff" stroke="#111" stroke-width="1.1" stroke-linejoin="round" />
<path d="M206.2 90.6 L205.6 90.3 L204.9 90.1 L204.2 90.0 L203.5 89.9 L202.7 90.0 L202.0 90.1 L201.2 90.3 L200.4 90.6 L199.6 91.0 L198.8 91.5 L198.0 92.1 L197.2 92.7 L196.4 93.4 L195.7 94.1 L195.0 94.9 L194.3 95.8 L193.7 96.7 L193.1 97.6 L192.6 98.6 L192.1 99.6 L191.7 100.6 L191.4 101.6 L191.1 102.6 L190.9 103.6 L190.7 104.6 L190.7 105.5 L190.7 106.5 L190.7 107.4 L190.9 108.2 L191.1 109.0 L191.3 109.7 L191.7 110.4 L192.1 111.0 L192.5 111.6 L193.0 112.0 L193.6 112.4 L205.7 119.4 L206.3 119.7 L207.0 119.9 L207.7 120.1 L208.4 120.1 L209.2 120.1 L209.9 119.9 L210.7 119.7 L211.5 119.4 L212.3 119.0 L213.2 118.5 L213.9 118.0 L214.7 117.3 L215.5 116.7 L216.2 115.9 L216.9 115.1 L217.6 114.3 L218.2 113.4 L218.8 112.4 L219.3 111.5 L219.8 110.5 L220.2 109.5 L220.5 108.4 L220.8 107.4 L221.0 106.4 L221.2 105.5 L221.2 104.5 L221.3 103.6 L221.2 102.7 L221.1 101.8 L220.9 101.0 L220.6 100.3 L220.3 99.6 L219.9 99.0 L219.4 98.4 L218.9 98.0 L218.3 97.6Z" fill="#fff" stroke="#111" stroke-width="1.1" stroke-linejoin="round" />
<path d="M204.3 118.2L192.2 111.2M203.3 116.4L191.2 109.4M202.8 114.1L190.7 107.1M202.9 111.5L190.7 104.5M203.5 108.7L191.3 101.7M204.5 105.9L192.4 98.9M206.1 103.3L193.9 96.3M207.9 101.0L195.8 94.0M210.0 99.1L197.9 92.1M212.3 97.8L200.1 90.8M214.5 97.0L202.3 90.0M216.5 97.0L204.4 90.0" fill="none" stroke="#111" stroke-width="1.1" stroke-linejoin="round" />
<path d="M217.6 98.8 L219.5 96.7 L220.2 97.3 L218.9 99.9 L219.3 100.6 L221.5 99.2 L221.8 100.2 L220.0 102.4 L220.2 103.3 L222.3 102.8 L222.3 104.0 L220.2 105.6 L220.0 106.7 L221.8 107.1 L221.5 108.4 L219.3 109.2 L218.9 110.2 L220.2 111.6 L219.5 112.9 L217.6 112.7 L217.0 113.6 L217.6 115.7 L216.7 116.7 L215.2 115.6 L214.4 116.4 L214.3 118.9 L213.3 119.6 L212.5 117.7 L211.6 118.2 L210.8 120.9 L209.7 121.2 L209.6 118.8 L208.8 118.8 L207.4 121.4 L206.4 121.2 L207.1 118.5 L206.4 118.2 L204.5 120.3 L203.8 119.7 L205.1 117.1 L204.7 116.4 L202.6 117.8 L202.2 116.8 L204.0 114.6 L203.9 113.7 L201.8 114.2 L201.8 113.0 L203.9 111.4 L204.0 110.4 L202.2 109.9 L202.6 108.6 L204.7 107.8 L205.1 106.8 L203.8 105.5 L204.5 104.2 L206.4 104.4 L207.1 103.4 L206.4 101.4 L207.3 100.3 L208.8 101.4 L209.6 100.7 L209.7 98.1 L210.8 97.4 L211.6 99.3 L212.4 98.8 L213.3 96.2 L214.3 95.8 L214.4 98.3 L215.2 98.2 L216.7 95.7 L217.6 95.8 L217.0 98.5Z" fill="#fff" stroke="#111" stroke-width="1.1" stroke-linejoin="round" />
<path d="M219.6 95.3 L221.3 93.5 L221.9 94.0 L220.9 96.3 L221.4 96.8 L223.2 95.4 L223.6 96.1 L222.3 98.2 L222.6 99.0 L224.4 98.1 L224.6 99.0 L223.0 100.8 L223.1 101.7 L224.9 101.3 L224.9 102.4 L223.1 103.8 L223.1 104.8 L224.7 105.0 L224.5 106.1 L222.6 107.1 L222.4 108.1 L223.7 108.8 L223.3 110.0 L221.5 110.4 L221.1 111.4 L222.1 112.7 L221.5 113.8 L219.8 113.7 L219.2 114.6 L219.9 116.3 L219.1 117.3 L217.7 116.6 L217.0 117.4 L217.2 119.4 L216.4 120.2 L215.3 119.0 L214.5 119.6 L214.3 121.9 L213.3 122.5 L212.6 120.8 L211.8 121.3 L211.2 123.6 L210.2 123.9 L210.0 121.9 L209.2 122.1 L208.1 124.4 L207.3 124.5 L207.4 122.2 L206.7 122.2 L205.3 124.3 L204.5 124.1 L205.2 121.7 L204.5 121.4 L202.9 123.2 L202.3 122.8 L203.3 120.5 L202.8 119.9 L201.0 121.3 L200.6 120.6 L201.9 118.5 L201.6 117.8 L199.8 118.7 L199.6 117.8 L201.2 115.9 L201.1 115.0 L199.3 115.4 L199.3 114.4 L201.1 112.9 L201.1 111.9 L199.5 111.8 L199.7 110.6 L201.6 109.6 L201.8 108.6 L200.5 107.9 L200.9 106.7 L202.7 106.3 L203.1 105.3 L202.1 104.1 L202.7 102.9 L204.4 103.1 L205.0 102.1 L204.3 100.5 L205.1 99.5 L206.5 100.1 L207.2 99.4 L207.0 97.3 L207.8 96.5 L208.9 97.7 L209.7 97.1 L209.9 94.9 L210.9 94.3 L211.6 95.9 L212.4 95.5 L213.0 93.2 L214.0 92.8 L214.2 94.8 L215.0 94.6 L216.1 92.3 L216.9 92.3 L216.8 94.5 L217.5 94.5 L218.9 92.4 L219.7 92.7 L219.0 95.0Z" fill="#fff" stroke="#111" stroke-width="1.1" stroke-linejoin="round" />
<path d="M220.2 94.2 L219.5 93.9 L218.6 93.6 L217.7 93.4 L216.8 93.4 L215.8 93.4 L214.8 93.6 L213.8 93.9 L212.7 94.3 L211.7 94.8 L210.6 95.4 L209.6 96.1 L208.6 96.9 L207.6 97.8 L206.7 98.8 L205.8 99.8 L204.9 100.9 L204.1 102.1 L203.3 103.3 L202.7 104.6 L202.1 105.8 L201.5 107.1 L201.1 108.4 L200.7 109.8 L200.4 111.0 L200.3 112.3 L200.2 113.6 L200.1 114.8 L200.2 115.9 L200.4 117.0 L200.7 118.1 L201.0 119.0 L201.4 119.9 L202.0 120.7 L202.6 121.4 L203.2 122.0 L203.9 122.5 L210.9 126.5 L211.7 126.9 L212.5 127.1 L213.4 127.3 L214.4 127.4 L215.3 127.3 L216.3 127.1 L217.4 126.8 L218.4 126.4 L219.5 125.9 L220.5 125.3 L221.5 124.6 L222.5 123.8 L223.5 122.9 L224.5 121.9 L225.4 120.9 L226.2 119.8 L227.0 118.6 L227.8 117.4 L228.5 116.2 L229.1 114.9 L229.6 113.6 L230.0 112.3 L230.4 111.0 L230.7 109.7 L230.9 108.4 L231.0 107.2 L231.0 106.0 L230.9 104.8 L230.7 103.7 L230.5 102.7 L230.1 101.7 L229.7 100.8 L229.2 100.0 L228.6 99.3 L227.9 98.7 L227.2 98.2Z" fill="#fff" stroke="#111" stroke-width="1.1" stroke-linejoin="round" />
<path d="M209.3 125.2L202.3 121.2M208.2 123.6L201.3 119.6M207.5 121.8L200.6 117.8M207.1 119.7L200.2 115.7M207.1 117.4L200.2 113.4M207.4 114.9L200.5 110.9M208.1 112.3L201.1 108.3M209.0 109.8L202.1 105.8M210.3 107.3L203.3 103.3M211.8 105.0L204.9 101.0M213.5 102.9L206.6 98.9M215.4 101.0L208.5 97.0M217.4 99.5L210.5 95.5M219.4 98.4L212.5 94.4M221.4 97.7L214.5 93.7M223.4 97.4L216.5 93.4M225.2 97.5L218.3 93.5" fill="none" stroke="#111" stroke-width="1.1" stroke-linejoin="round" />
<path d="M226.6 99.3 L228.2 97.5 L228.8 98.0 L227.8 100.3 L228.3 100.8 L230.1 99.4 L230.5 100.1 L229.2 102.2 L229.5 103.0 L231.3 102.1 L231.6 103.0 L229.9 104.8 L230.1 105.7 L231.9 105.3 L231.9 106.4 L230.1 107.8 L230.0 108.8 L231.6 109.0 L231.4 110.1 L229.6 111.1 L229.3 112.1 L230.7 112.8 L230.2 114.0 L228.4 114.4 L228.0 115.4 L229.0 116.7 L228.4 117.8 L226.8 117.7 L226.2 118.6 L226.8 120.3 L226.1 121.3 L224.6 120.6 L223.9 121.4 L224.1 123.4 L223.3 124.2 L222.2 123.0 L221.4 123.6 L221.2 125.9 L220.3 126.5 L219.6 124.8 L218.8 125.3 L218.1 127.6 L217.2 127.9 L216.9 125.9 L216.1 126.1 L215.1 128.4 L214.2 128.5 L214.4 126.2 L213.6 126.2 L212.2 128.3 L211.5 128.1 L212.1 125.7 L211.5 125.4 L209.8 127.2 L209.2 126.8 L210.2 124.5 L209.8 123.9 L208.0 125.3 L207.5 124.6 L208.9 122.5 L208.6 121.8 L206.7 122.7 L206.5 121.8 L208.1 119.9 L208.0 119.0 L206.2 119.4 L206.2 118.4 L208.0 116.9 L208.1 115.9 L206.4 115.8 L206.6 114.6 L208.5 113.6 L208.8 112.6 L207.4 111.9 L207.8 110.7 L209.6 110.3 L210.1 109.3 L209.0 108.1 L209.6 106.9 L211.3 107.1 L211.9 106.1 L211.2 104.5 L212.0 103.5 L213.4 104.1 L214.1 103.4 L213.9 101.3 L214.8 100.5 L215.9 101.7 L216.6 101.1 L216.9 98.9 L217.8 98.3 L218.5 99.9 L219.3 99.5 L220.0 97.2 L220.9 96.8 L221.2 98.8 L221.9 98.6 L223.0 96.3 L223.9 96.3 L223.7 98.5 L224.4 98.5 L225.8 96.4 L226.6 96.7 L226.0 99.0Z" fill="#fff" stroke="#111" stroke-width="1.1" stroke-linejoin="round" />
<path d="M225.8 100.7 L226.8 99.5 L227.1 99.7 L226.4 101.2 L226.7 101.4 L227.8 100.3 L228.1 100.6 L227.3 102.1 L227.5 102.4 L228.7 101.4 L228.9 101.8 L228.0 103.1 L228.1 103.5 L229.3 102.7 L229.5 103.2 L228.5 104.4 L228.6 104.8 L229.8 104.2 L229.9 104.7 L228.8 105.8 L228.8 106.3 L230.0 105.9 L230.1 106.4 L228.9 107.4 L228.9 107.9 L230.0 107.7 L230.0 108.3 L228.8 109.1 L228.7 109.6 L229.8 109.6 L229.7 110.2 L228.5 110.8 L228.4 111.3 L229.4 111.6 L229.2 112.2 L228.0 112.6 L227.9 113.1 L228.8 113.6 L228.5 114.2 L227.4 114.3 L227.1 114.8 L227.9 115.5 L227.6 116.1 L226.5 116.0 L226.2 116.5 L226.9 117.4 L226.6 117.9 L225.5 117.7 L225.2 118.1 L225.7 119.2 L225.3 119.7 L224.4 119.2 L224.1 119.6 L224.4 120.8 L224.0 121.3 L223.2 120.6 L222.8 121.0 L223.0 122.3 L222.5 122.7 L221.9 121.8 L221.5 122.2 L221.5 123.6 L221.0 123.9 L220.5 122.9 L220.1 123.1 L219.9 124.6 L219.4 124.9 L219.1 123.7 L218.7 123.9 L218.3 125.4 L217.8 125.6 L217.7 124.3 L217.3 124.4 L216.8 125.9 L216.3 126.0 L216.3 124.6 L215.9 124.7 L215.2 126.2 L214.8 126.2 L215.0 124.7 L214.6 124.7 L213.8 126.2 L213.4 126.1 L213.8 124.6 L213.4 124.5 L212.5 125.8 L212.1 125.7 L212.6 124.2 L212.3 124.0 L211.3 125.3 L210.9 125.0 L211.6 123.5 L211.3 123.3 L210.2 124.4 L210.0 124.1 L210.8 122.7 L210.5 122.4 L209.4 123.3 L209.2 122.9 L210.1 121.6 L209.9 121.2 L208.7 122.0 L208.6 121.6 L209.6 120.3 L209.5 119.9 L208.3 120.5 L208.2 120.0 L209.3 118.9 L209.2 118.4 L208.0 118.8 L208.0 118.3 L209.2 117.3 L209.2 116.8 L208.0 117.0 L208.0 116.4 L209.3 115.7 L209.3 115.2 L208.2 115.1 L208.3 114.5 L209.5 113.9 L209.7 113.4 L208.7 113.1 L208.8 112.5 L210.0 112.2 L210.2 111.6 L209.3 111.2 L209.5 110.6 L210.7 110.4 L210.9 109.9 L210.1 109.2 L210.4 108.6 L211.5 108.7 L211.8 108.2 L211.2 107.3 L211.5 106.8 L212.5 107.1 L212.8 106.6 L212.3 105.5 L212.7 105.0 L213.6 105.5 L214.0 105.1 L213.7 103.9 L214.1 103.4 L214.9 104.1 L215.3 103.7 L215.1 102.4 L215.5 102.0 L216.2 102.9 L216.6 102.6 L216.6 101.2 L217.1 100.8 L217.6 101.9 L218.0 101.6 L218.2 100.1 L218.6 99.8 L219.0 101.0 L219.4 100.8 L219.7 99.3 L220.2 99.1 L220.4 100.4 L220.8 100.3 L221.3 98.8 L221.8 98.7 L221.7 100.1 L222.1 100.0 L222.8 98.5 L223.3 98.5 L223.1 100.0 L223.4 100.0 L224.3 98.6 L224.7 98.6 L224.3 100.1 L224.7 100.2 L225.6 98.9 L226.0 99.0 L225.4 100.5Z" fill="#fff" stroke="#111" stroke-width="1.0" stroke-linejoin="round" />
<path d="M225.5 101.2 L226.4 101.8 L227.1 102.6 L227.7 103.5 L228.1 104.7 L228.4 105.9 L228.5 107.3 L228.5 108.7 L228.3 110.2 L227.9 111.8 L227.4 113.3 L226.8 114.9 L226.0 116.4 L225.1 117.8 L224.1 119.1 L223.0 120.4 L221.8 121.4 L220.6 122.4 L219.4 123.1 L218.1 123.7 L216.9 124.1 L215.7 124.3 L214.6 124.2 L213.5 124.0 L212.6 123.6 L211.7 123.0 L211.0 122.2 L210.4 121.2 L209.9 120.1 L209.7 118.8 L209.5 117.5 L209.6 116.0 L209.8 114.5 L210.1 112.9 L210.6 111.4 L211.3 109.8 L212.1 108.4 L213.0 106.9 L214.0 105.6 L215.1 104.4 L216.2 103.3 L217.5 102.4 L218.7 101.6 L219.9 101.0 L221.2 100.6 L222.3 100.5 L223.5 100.5 L224.5 100.7 L225.5 101.2Z" fill="#fff" stroke="#111" stroke-width="1.0" stroke-linejoin="round" />
<path d="M224.4 103.1 L223.9 102.9 L223.3 102.7 L222.7 102.6 L222.1 102.5 L221.5 102.6 L220.9 102.7 L220.2 102.9 L219.6 103.1 L218.9 103.5 L218.2 103.9 L217.6 104.3 L216.9 104.8 L216.3 105.4 L215.7 106.0 L215.1 106.7 L214.6 107.4 L214.1 108.1 L213.6 108.9 L213.2 109.7 L212.8 110.5 L212.4 111.3 L212.1 112.2 L211.9 113.0 L211.7 113.8 L211.6 114.6 L211.6 115.4 L211.5 116.2 L211.6 116.9 L211.7 117.6 L211.9 118.3 L212.1 118.9 L212.4 119.5 L212.7 120.0 L213.1 120.4 L213.5 120.8 L214.0 121.1 L226.1 128.1 L226.6 128.4 L227.1 128.5 L227.7 128.6 L228.3 128.7 L228.9 128.6 L229.6 128.5 L230.2 128.3 L230.9 128.1 L231.6 127.8 L232.2 127.4 L232.9 126.9 L233.5 126.4 L234.2 125.8 L234.8 125.2 L235.3 124.6 L235.9 123.8 L236.4 123.1 L236.9 122.3 L237.3 121.5 L237.7 120.7 L238.0 119.9 L238.3 119.1 L238.6 118.2 L238.7 117.4 L238.9 116.6 L238.9 115.8 L238.9 115.0 L238.9 114.3 L238.8 113.6 L238.6 112.9 L238.4 112.3 L238.1 111.7 L237.8 111.2 L237.4 110.8 L237.0 110.4 L236.5 110.1Z" fill="#fff" stroke="#111" stroke-width="1.1" stroke-linejoin="round" />
<path d="M224.9 127.0L212.7 120.0M224.0 125.4L211.9 118.4M223.7 123.3L211.5 116.3M223.9 120.9L211.7 113.9M224.5 118.3L212.4 111.3M225.7 115.9L213.6 108.9M227.3 113.6L215.1 106.6M229.1 111.8L217.0 104.8M231.1 110.4L218.9 103.4M233.1 109.7L220.9 102.7M234.9 109.6L222.8 102.6" fill="none" stroke="#111" stroke-width="1.3" stroke-linejoin="round" />
<path d="M237.0 109.2 L237.8 109.7 L238.4 110.4 L239.0 111.3 L239.4 112.3 L239.6 113.4 L239.7 114.6 L239.7 115.9 L239.5 117.2 L239.2 118.6 L238.7 120.0 L238.2 121.3 L237.5 122.7 L236.7 123.9 L235.8 125.1 L234.8 126.2 L233.8 127.2 L232.7 128.0 L231.6 128.7 L230.5 129.2 L229.4 129.5 L228.3 129.7 L227.3 129.7 L226.4 129.4 L225.5 129.1 L224.8 128.5 L224.1 127.8 L223.6 126.9 L223.2 126.0 L223.0 124.8 L222.9 123.6 L222.9 122.3 L223.1 121.0 L223.4 119.6 L223.8 118.2 L224.4 116.9 L225.1 115.5 L225.9 114.3 L226.8 113.1 L227.8 112.0 L228.8 111.0 L229.9 110.2 L231.0 109.5 L232.1 109.0 L233.2 108.7 L234.2 108.5 L235.3 108.6 L236.2 108.8 L237.0 109.2Z" fill="#fff" stroke="#111" stroke-width="1.1" stroke-linejoin="round" />
<path d="M236.1 110.7 L235.7 110.5 L235.2 110.3 L234.7 110.2 L234.1 110.2 L233.6 110.2 L233.0 110.3 L232.4 110.5 L231.8 110.7 L231.2 111.0 L230.6 111.4 L230.0 111.8 L229.4 112.3 L228.9 112.8 L228.3 113.3 L227.8 113.9 L227.3 114.6 L226.8 115.2 L226.4 115.9 L226.0 116.7 L225.7 117.4 L225.3 118.1 L225.1 118.9 L224.9 119.7 L224.7 120.4 L224.6 121.1 L224.6 121.9 L224.5 122.6 L224.6 123.2 L224.7 123.9 L224.8 124.4 L225.0 125.0 L225.3 125.5 L225.6 126.0 L225.9 126.4 L226.3 126.7 L226.7 127.0 L238.9 134.0 L239.3 134.2 L239.8 134.4 L240.3 134.5 L240.9 134.5 L241.4 134.5 L242.0 134.4 L242.6 134.2 L243.2 134.0 L243.8 133.7 L244.4 133.3 L245.0 132.9 L245.6 132.4 L246.2 131.9 L246.7 131.4 L247.2 130.8 L247.7 130.1 L248.2 129.5 L248.6 128.8 L249.0 128.0 L249.4 127.3 L249.7 126.6 L249.9 125.8 L250.1 125.1 L250.3 124.3 L250.4 123.6 L250.5 122.9 L250.5 122.2 L250.4 121.5 L250.3 120.9 L250.2 120.3 L250.0 119.7 L249.7 119.2 L249.4 118.7 L249.1 118.3 L248.7 118.0 L248.3 117.7Z" fill="#fff" stroke="#111" stroke-width="1.2" stroke-linejoin="round" />
<path d="M237.8 133.1L225.7 126.1M237.1 131.9L225.0 124.9M236.7 130.4L224.6 123.4M236.7 128.6L224.6 121.6M237.0 126.7L224.9 119.7M237.6 124.8L225.5 117.8M238.5 122.9L226.4 115.9M239.7 121.2L227.6 114.2M241.0 119.7L228.9 112.7M242.5 118.5L230.4 111.5M244.1 117.7L231.9 110.7M245.6 117.3L233.4 110.3M247.0 117.3L234.9 110.3" fill="none" stroke="#111" stroke-width="1.4" stroke-linejoin="round" />
<path d="M248.8 116.8 L249.5 117.3 L250.1 117.9 L250.6 118.7 L250.9 119.6 L251.2 120.6 L251.3 121.7 L251.2 122.9 L251.1 124.1 L250.8 125.4 L250.4 126.6 L249.8 127.9 L249.2 129.1 L248.5 130.3 L247.7 131.4 L246.8 132.3 L245.8 133.2 L244.8 134.0 L243.8 134.6 L242.8 135.0 L241.8 135.4 L240.9 135.5 L240.0 135.5 L239.1 135.3 L238.3 134.9 L237.6 134.4 L237.0 133.8 L236.6 133.0 L236.2 132.1 L236.0 131.1 L235.9 130.0 L235.9 128.8 L236.1 127.6 L236.3 126.3 L236.8 125.1 L237.3 123.8 L237.9 122.6 L238.7 121.4 L239.5 120.4 L240.4 119.4 L241.3 118.5 L242.3 117.7 L243.3 117.1 L244.3 116.7 L245.3 116.4 L246.3 116.2 L247.2 116.2 L248.0 116.4 L248.8 116.8Z" fill="#fff" stroke="#111" stroke-width="1.2" stroke-linejoin="round" />
<path d="M248.4 117.4 L248.0 117.2 L247.5 117.1 L247.0 117.0 L246.4 116.9 L245.8 117.0 L245.3 117.1 L244.7 117.2 L244.1 117.5 L243.5 117.8 L242.9 118.1 L242.3 118.5 L241.7 119.0 L241.1 119.5 L240.6 120.1 L240.1 120.7 L239.6 121.3 L239.1 122.0 L238.7 122.7 L238.3 123.4 L237.9 124.1 L237.6 124.9 L237.4 125.6 L237.2 126.4 L237.0 127.1 L236.9 127.9 L236.8 128.6 L236.8 129.3 L236.9 129.9 L237.0 130.6 L237.1 131.2 L237.3 131.7 L237.6 132.2 L237.9 132.7 L238.2 133.1 L238.6 133.4 L239.0 133.7 L252.0 141.2 L252.5 141.4 L253.0 141.6 L253.5 141.7 L254.0 141.7 L254.6 141.7 L255.2 141.6 L255.8 141.4 L256.4 141.2 L257.0 140.9 L257.6 140.5 L258.1 140.1 L258.7 139.7 L259.3 139.2 L259.8 138.6 L260.4 138.0 L260.9 137.4 L261.3 136.7 L261.8 136.0 L262.1 135.3 L262.5 134.5 L262.8 133.8 L263.1 133.0 L263.3 132.3 L263.4 131.5 L263.5 130.8 L263.6 130.1 L263.6 129.4 L263.6 128.7 L263.5 128.1 L263.3 127.5 L263.1 126.9 L262.9 126.4 L262.6 126.0 L262.2 125.6 L261.8 125.2 L261.4 124.9Z" fill="#fff" stroke="#111" stroke-width="1.1" stroke-linejoin="round" />
<path d="M250.9 140.2L237.9 132.7M250.1 138.5L237.1 131.0M249.8 136.3L236.8 128.8M250.2 133.9L237.2 126.4M251.0 131.4L238.0 123.9M252.4 129.0L239.4 121.5M254.1 127.0L241.1 119.5M256.1 125.5L243.1 118.0M258.0 124.6L245.1 117.1M259.9 124.5L246.9 117.0" fill="none" stroke="#111" stroke-width="1.3" stroke-linejoin="round" />
<path d="M262.0 124.0 L262.7 124.5 L263.2 125.1 L263.7 125.9 L264.1 126.8 L264.3 127.8 L264.4 129.0 L264.4 130.1 L264.2 131.4 L263.9 132.6 L263.5 133.9 L263.0 135.1 L262.3 136.3 L261.6 137.5 L260.8 138.6 L259.9 139.6 L259.0 140.4 L258.0 141.2 L257.0 141.8 L256.0 142.3 L255.0 142.6 L254.0 142.7 L253.1 142.7 L252.2 142.5 L251.5 142.2 L250.8 141.7 L250.2 141.0 L249.7 140.2 L249.3 139.3 L249.1 138.3 L249.0 137.2 L249.0 136.0 L249.2 134.8 L249.5 133.6 L249.9 132.3 L250.4 131.0 L251.1 129.8 L251.8 128.7 L252.6 127.6 L253.5 126.6 L254.5 125.7 L255.4 125.0 L256.4 124.3 L257.4 123.9 L258.4 123.6 L259.4 123.4 L260.3 123.5 L261.2 123.6 L262.0 124.0Z" fill="#fff" stroke="#111" stroke-width="1.1" stroke-linejoin="round" />
<path d="M260.3 126.9 L260.0 126.7 L259.6 126.6 L259.2 126.5 L258.8 126.5 L258.4 126.5 L258.0 126.6 L257.5 126.7 L257.1 126.9 L256.7 127.1 L256.2 127.4 L255.8 127.7 L255.4 128.0 L254.9 128.4 L254.5 128.8 L254.2 129.2 L253.8 129.7 L253.5 130.2 L253.1 130.7 L252.9 131.2 L252.6 131.8 L252.4 132.3 L252.2 132.9 L252.0 133.4 L251.9 134.0 L251.8 134.5 L251.8 135.0 L251.8 135.6 L251.8 136.0 L251.9 136.5 L252.0 136.9 L252.2 137.4 L252.3 137.7 L252.6 138.1 L252.8 138.4 L253.1 138.6 L253.4 138.8 L264.7 145.3 L265.0 145.5 L265.3 145.6 L265.7 145.7 L266.1 145.7 L266.5 145.7 L267.0 145.6 L267.4 145.5 L267.8 145.3 L268.3 145.1 L268.7 144.8 L269.2 144.5 L269.6 144.2 L270.0 143.8 L270.4 143.4 L270.8 143.0 L271.2 142.5 L271.5 142.0 L271.8 141.5 L272.1 141.0 L272.3 140.4 L272.6 139.9 L272.8 139.3 L272.9 138.8 L273.0 138.2 L273.1 137.7 L273.2 137.1 L273.2 136.6 L273.1 136.1 L273.1 135.7 L272.9 135.2 L272.8 134.8 L272.6 134.5 L272.4 134.1 L272.1 133.8 L271.9 133.6 L271.6 133.4Z" fill="#fff" stroke="#111" stroke-width="1.1" stroke-linejoin="round" />
<path d="M272.1 132.4 L272.6 132.8 L273.1 133.3 L273.4 133.9 L273.7 134.6 L273.9 135.4 L274.0 136.2 L273.9 137.1 L273.8 138.0 L273.6 139.0 L273.3 139.9 L272.9 140.9 L272.4 141.8 L271.8 142.7 L271.2 143.5 L270.5 144.3 L269.8 145.0 L269.1 145.5 L268.3 146.0 L267.5 146.3 L266.8 146.6 L266.0 146.7 L265.3 146.7 L264.7 146.5 L264.1 146.3 L263.6 145.9 L263.1 145.4 L262.8 144.8 L262.5 144.1 L262.3 143.3 L262.2 142.5 L262.3 141.6 L262.4 140.7 L262.6 139.7 L262.9 138.7 L263.3 137.8 L263.8 136.9 L264.4 136.0 L265.0 135.2 L265.7 134.4 L266.4 133.7 L267.1 133.2 L267.9 132.7 L268.7 132.3 L269.4 132.1 L270.2 132.0 L270.9 132.0 L271.5 132.2 L272.1 132.4Z" fill="#fff" stroke="#111" stroke-width="1.1" stroke-linejoin="round" />
<path d="M271.5 133.5 L271.2 133.3 L270.8 133.2 L270.5 133.2 L270.1 133.1 L269.7 133.2 L269.3 133.2 L268.9 133.4 L268.5 133.5 L268.1 133.7 L267.7 134.0 L267.3 134.2 L266.9 134.5 L266.5 134.9 L266.1 135.3 L265.8 135.7 L265.4 136.1 L265.1 136.6 L264.8 137.0 L264.6 137.5 L264.3 138.0 L264.1 138.6 L264.0 139.1 L263.8 139.6 L263.7 140.1 L263.6 140.6 L263.6 141.1 L263.6 141.5 L263.6 142.0 L263.7 142.4 L263.8 142.8 L263.9 143.2 L264.1 143.6 L264.3 143.9 L264.5 144.1 L264.8 144.4 L265.1 144.6 L279.8 153.1 L280.1 153.2 L280.4 153.3 L280.8 153.4 L281.2 153.4 L281.6 153.4 L281.9 153.3 L282.3 153.2 L282.8 153.1 L283.2 152.9 L283.6 152.6 L284.0 152.3 L284.4 152.0 L284.8 151.7 L285.1 151.3 L285.5 150.9 L285.8 150.4 L286.1 150.0 L286.4 149.5 L286.7 149.0 L286.9 148.5 L287.1 148.0 L287.3 147.5 L287.5 147.0 L287.6 146.5 L287.6 146.0 L287.7 145.5 L287.7 145.0 L287.7 144.6 L287.6 144.1 L287.5 143.7 L287.4 143.3 L287.2 143.0 L287.0 142.7 L286.7 142.4 L286.5 142.2 L286.2 142.0Z" fill="#fff" stroke="#111" stroke-width="1.2" stroke-linejoin="round" />
<path d="M279.0 152.3L264.2 143.8M278.4 151.0L263.7 142.5M278.3 149.3L263.6 140.8M278.7 147.4L264.0 138.9M279.6 145.5L264.8 137.0M280.8 143.9L266.0 135.4M282.2 142.6L267.5 134.1M283.7 141.8L269.0 133.3M285.1 141.7L270.4 133.2" fill="none" stroke="#111" stroke-width="1.4" stroke-linejoin="round" />
<path d="M286.7 141.0 L287.2 141.4 L287.7 141.9 L288.0 142.4 L288.3 143.1 L288.4 143.8 L288.5 144.6 L288.5 145.4 L288.4 146.3 L288.2 147.2 L287.9 148.1 L287.5 149.0 L287.0 149.9 L286.5 150.7 L285.9 151.5 L285.3 152.2 L284.6 152.8 L283.9 153.3 L283.2 153.8 L282.5 154.1 L281.8 154.3 L281.1 154.4 L280.4 154.4 L279.8 154.3 L279.2 154.0 L278.8 153.7 L278.3 153.2 L278.0 152.6 L277.7 152.0 L277.6 151.3 L277.5 150.5 L277.5 149.6 L277.6 148.8 L277.8 147.9 L278.1 147.0 L278.5 146.1 L279.0 145.2 L279.5 144.4 L280.1 143.6 L280.7 142.9 L281.4 142.3 L282.1 141.7 L282.8 141.3 L283.5 141.0 L284.2 140.7 L284.9 140.6 L285.6 140.7 L286.2 140.8 L286.7 141.0Z" fill="#fff" stroke="#111" stroke-width="1.2" stroke-linejoin="round" />
<path d="M286.8 141.0 L286.4 140.8 L286.0 140.7 L285.6 140.6 L285.2 140.6 L284.7 140.6 L284.3 140.7 L283.8 140.8 L283.4 141.0 L282.9 141.3 L282.4 141.5 L281.9 141.9 L281.5 142.2 L281.0 142.6 L280.6 143.1 L280.2 143.5 L279.8 144.0 L279.4 144.6 L279.1 145.1 L278.8 145.7 L278.5 146.3 L278.3 146.8 L278.1 147.4 L277.9 148.0 L277.8 148.6 L277.7 149.2 L277.6 149.8 L277.6 150.3 L277.7 150.8 L277.8 151.3 L277.9 151.8 L278.0 152.2 L278.2 152.6 L278.5 153.0 L278.7 153.3 L279.0 153.6 L279.4 153.8 L285.4 157.3 L285.8 157.5 L286.2 157.6 L286.6 157.7 L287.0 157.7 L287.5 157.7 L287.9 157.6 L288.4 157.5 L288.9 157.3 L289.3 157.1 L289.8 156.8 L290.3 156.5 L290.7 156.1 L291.2 155.7 L291.6 155.3 L292.0 154.8 L292.4 154.3 L292.8 153.7 L293.1 153.2 L293.4 152.6 L293.7 152.1 L293.9 151.5 L294.1 150.9 L294.3 150.3 L294.4 149.7 L294.5 149.1 L294.6 148.5 L294.6 148.0 L294.5 147.5 L294.4 147.0 L294.3 146.5 L294.2 146.1 L294.0 145.7 L293.7 145.3 L293.5 145.0 L293.2 144.7 L292.8 144.5Z" fill="#fff" stroke="#111" stroke-width="1.1" stroke-linejoin="round" />
<path d="M284.4 156.3L278.4 152.8M283.8 154.5L277.7 151.0M283.8 152.3L277.8 148.8M284.6 149.8L278.5 146.3M285.9 147.5L279.8 144.0M287.6 145.6L281.6 142.1M289.6 144.4L283.5 140.9M291.5 144.1L285.4 140.6" fill="none" stroke="#111" stroke-width="1.3" stroke-linejoin="round" />
<path d="M293.4 143.5 L293.9 144.0 L294.4 144.5 L294.8 145.1 L295.1 145.8 L295.3 146.7 L295.4 147.6 L295.3 148.5 L295.2 149.5 L295.0 150.5 L294.6 151.5 L294.2 152.6 L293.7 153.5 L293.1 154.5 L292.4 155.4 L291.7 156.2 L291.0 156.9 L290.2 157.5 L289.4 158.0 L288.5 158.3 L287.7 158.6 L287.0 158.7 L286.2 158.7 L285.5 158.5 L284.9 158.3 L284.3 157.9 L283.8 157.3 L283.5 156.7 L283.2 156.0 L283.0 155.1 L282.9 154.2 L282.9 153.3 L283.1 152.3 L283.3 151.3 L283.6 150.3 L284.1 149.3 L284.6 148.3 L285.2 147.3 L285.8 146.5 L286.5 145.7 L287.3 144.9 L288.1 144.3 L288.9 143.8 L289.7 143.5 L290.5 143.2 L291.3 143.1 L292.1 143.1 L292.8 143.3 L293.4 143.5Z" fill="#fff" stroke="#111" stroke-width="1.1" stroke-linejoin="round" />
<path d="M291.4 147.0 L291.7 147.2 L291.9 147.5 L292.1 147.8 L292.3 148.2 L292.4 148.7 L292.4 149.1 L292.4 149.6 L292.3 150.2 L292.2 150.7 L292.0 151.2 L291.8 151.8 L291.5 152.3 L291.2 152.8 L290.9 153.3 L290.5 153.7 L290.1 154.1 L289.7 154.4 L289.2 154.6 L288.8 154.8 L288.4 155.0 L288.0 155.0 L287.6 155.0 L287.2 155.0 L286.9 154.8 L286.6 154.6 L286.3 154.3 L286.1 154.0 L286.0 153.6 L285.9 153.1 L285.8 152.7 L285.8 152.2 L285.9 151.6 L286.0 151.1 L286.2 150.6 L286.4 150.0 L286.7 149.5 L287.0 149.0 L287.4 148.5 L287.8 148.1 L288.2 147.7 L288.6 147.4 L289.0 147.2 L289.4 147.0 L289.9 146.8 L290.3 146.8 L290.7 146.8 L291.0 146.9 L291.4 147.0Z" fill="none" stroke="#111" stroke-width="1.2" stroke-linejoin="round" />
<path d="M327.1 147.3 L329.7 144.2 L330.6 144.8 L328.8 148.6 L329.5 149.2 L332.4 146.7 L333.0 147.6 L330.8 151.1 L331.3 152.0 L334.3 150.1 L334.7 151.3 L332.1 154.4 L332.4 155.5 L335.4 154.4 L335.5 155.8 L332.7 158.3 L332.7 159.6 L335.6 159.2 L335.5 160.7 L332.4 162.6 L332.2 164.0 L334.9 164.4 L334.5 166.0 L331.5 167.2 L331.0 168.5 L333.3 169.7 L332.7 171.3 L329.8 171.7 L329.2 173.1 L331.0 175.0 L330.1 176.5 L327.5 176.1 L326.7 177.4 L327.9 180.0 L326.9 181.4 L324.6 180.2 L323.7 181.3 L324.3 184.4 L323.2 185.6 L321.3 183.7 L320.3 184.6 L320.3 188.1 L319.1 189.0 L317.8 186.5 L316.7 187.2 L316.1 190.9 L314.8 191.6 L314.2 188.5 L313.1 188.9 L311.9 192.8 L310.6 193.1 L310.6 189.6 L309.5 189.8 L307.7 193.5 L306.6 193.5 L307.1 189.8 L306.2 189.6 L304.0 193.1 L302.9 192.8 L304.1 189.0 L303.3 188.5 L300.7 191.6 L299.8 191.0 L301.5 187.2 L300.9 186.6 L298.0 189.1 L297.3 188.2 L299.6 184.7 L299.1 183.8 L296.1 185.7 L295.7 184.5 L298.3 181.4 L298.0 180.3 L295.0 181.4 L294.8 180.0 L297.7 177.5 L297.7 176.2 L294.8 176.6 L294.9 175.1 L297.9 173.2 L298.1 171.8 L295.5 171.4 L295.9 169.8 L298.9 168.6 L299.3 167.2 L297.0 166.1 L297.7 164.5 L300.6 164.1 L301.2 162.7 L299.4 160.8 L300.2 159.3 L302.9 159.6 L303.7 158.4 L302.4 155.8 L303.5 154.4 L305.8 155.6 L306.7 154.5 L306.0 151.4 L307.2 150.2 L309.0 152.1 L310.1 151.2 L310.0 147.7 L311.3 146.7 L312.6 149.3 L313.6 148.6 L314.2 144.9 L315.5 144.2 L316.2 147.3 L317.3 146.9 L318.5 143.0 L319.8 142.7 L319.8 146.2 L320.9 146.0 L322.6 142.3 L323.8 142.3 L323.2 146.0 L324.2 146.2 L326.4 142.7 L327.5 143.0 L326.3 146.8Z" fill="#fff" stroke="#111" stroke-width="1.1" stroke-linejoin="round" />
<path d="M328.1 145.5 L326.8 144.9 L325.5 144.5 L324.1 144.2 L322.6 144.1 L321.0 144.2 L319.4 144.5 L317.8 145.0 L316.2 145.6 L314.5 146.4 L312.9 147.4 L311.2 148.5 L309.6 149.8 L308.1 151.2 L306.6 152.7 L305.1 154.4 L303.8 156.1 L302.5 158.0 L301.3 159.9 L300.2 161.9 L299.3 163.9 L298.4 166.0 L297.7 168.0 L297.2 170.1 L296.7 172.1 L296.4 174.2 L296.3 176.1 L296.2 178.1 L296.4 179.9 L296.6 181.6 L297.1 183.3 L297.6 184.8 L298.3 186.2 L299.1 187.4 L300.1 188.5 L301.1 189.5 L302.3 190.3 L310.1 194.8 L311.3 195.4 L312.7 195.8 L314.1 196.1 L315.6 196.2 L317.1 196.1 L318.7 195.8 L320.4 195.3 L322.0 194.7 L323.7 193.9 L325.3 192.9 L326.9 191.8 L328.5 190.5 L330.1 189.1 L331.6 187.6 L333.0 185.9 L334.4 184.2 L335.7 182.3 L336.9 180.4 L337.9 178.4 L338.9 176.4 L339.7 174.3 L340.4 172.3 L341.0 170.2 L341.5 168.1 L341.8 166.1 L341.9 164.1 L341.9 162.2 L341.8 160.4 L341.5 158.7 L341.1 157.0 L340.6 155.5 L339.9 154.1 L339.0 152.9 L338.1 151.8 L337.1 150.8 L335.9 150.0Z" fill="#fff" stroke="#111" stroke-width="1.1" stroke-linejoin="round" />
<path d="M306.0 190.4L296.8 182.5M305.3 189.0L296.5 180.8M304.7 187.4L296.3 178.9M304.3 185.7L296.2 177.0M304.1 183.8L296.3 175.0M304.0 181.9L296.6 172.9M304.1 179.9L297.0 170.8M304.3 177.9L297.5 168.6M304.7 175.8L298.2 166.5M305.2 173.6L299.1 164.4M305.9 171.5L300.0 162.3M306.7 169.3L301.1 160.2M307.6 167.2L302.3 158.2M308.7 165.2L303.6 156.3M309.8 163.2L305.0 154.5M311.1 161.2L306.5 152.8M312.5 159.4L308.0 151.2M314.0 157.7L309.7 149.7M315.5 156.0L311.3 148.4M317.1 154.6L313.0 147.3M318.7 153.2L314.7 146.3M320.4 152.0L316.4 145.5M322.1 151.0L318.1 144.9M323.8 150.2L319.8 144.4M325.5 149.5L321.4 144.2M327.2 149.0L323.0 144.1M328.8 148.7L324.5 144.3M330.4 148.6L326.0 144.6M332.0 148.7L327.3 145.1M333.4 149.0L328.6 145.8" fill="none" stroke="#111" stroke-width="1.2" stroke-linejoin="round" />
<path d="M334.9 151.8 L337.5 148.7 L338.4 149.3 L336.6 153.1 L337.3 153.7 L340.2 151.2 L340.8 152.1 L338.6 155.6 L339.1 156.5 L342.1 154.6 L342.5 155.8 L339.9 158.9 L340.1 160.0 L343.2 158.9 L343.3 160.3 L340.4 162.8 L340.5 164.1 L343.4 163.7 L343.3 165.2 L340.2 167.1 L340.0 168.5 L342.7 168.9 L342.3 170.5 L339.3 171.7 L338.8 173.0 L341.1 174.2 L340.5 175.8 L337.6 176.2 L337.0 177.6 L338.8 179.5 L337.9 181.0 L335.3 180.6 L334.5 181.9 L335.7 184.5 L334.7 185.9 L332.4 184.7 L331.5 185.8 L332.1 188.9 L331.0 190.1 L329.1 188.2 L328.1 189.1 L328.1 192.6 L326.9 193.5 L325.6 191.0 L324.5 191.7 L323.9 195.4 L322.6 196.1 L322.0 193.0 L320.9 193.4 L319.7 197.3 L318.4 197.6 L318.3 194.1 L317.3 194.3 L315.5 198.0 L314.4 198.0 L314.9 194.3 L314.0 194.1 L311.7 197.6 L310.7 197.3 L311.9 193.5 L311.1 193.0 L308.4 196.1 L307.6 195.5 L309.3 191.7 L308.7 191.1 L305.8 193.6 L305.1 192.7 L307.3 189.2 L306.9 188.3 L303.9 190.2 L303.5 189.0 L306.1 185.9 L305.8 184.8 L302.8 185.9 L302.6 184.5 L305.5 182.0 L305.5 180.7 L302.6 181.1 L302.7 179.6 L305.7 177.7 L305.9 176.3 L303.3 175.9 L303.7 174.3 L306.7 173.1 L307.1 171.7 L304.8 170.6 L305.5 169.0 L308.4 168.6 L309.0 167.2 L307.2 165.3 L308.0 163.8 L310.7 164.1 L311.5 162.9 L310.2 160.3 L311.3 158.9 L313.5 160.1 L314.5 159.0 L313.8 155.9 L315.0 154.7 L316.8 156.6 L317.9 155.7 L317.8 152.2 L319.1 151.2 L320.4 153.8 L321.4 153.1 L322.0 149.4 L323.3 148.7 L324.0 151.8 L325.1 151.4 L326.3 147.5 L327.6 147.2 L327.6 150.7 L328.7 150.5 L330.4 146.8 L331.6 146.8 L331.0 150.5 L332.0 150.7 L334.2 147.2 L335.3 147.5 L334.1 151.3Z" fill="#fff" stroke="#111" stroke-width="1.1" stroke-linejoin="round" />
<path d="M337.6 153.8 L338.5 152.8 L338.9 153.0 L338.4 154.4 L338.7 154.6 L339.7 153.7 L340.1 154.0 L339.5 155.3 L339.8 155.6 L340.8 154.8 L341.1 155.1 L340.4 156.4 L340.7 156.8 L341.7 156.0 L342.0 156.4 L341.2 157.7 L341.4 158.1 L342.5 157.5 L342.7 157.9 L341.9 159.1 L342.1 159.6 L343.1 159.1 L343.3 159.6 L342.4 160.7 L342.5 161.2 L343.6 160.8 L343.7 161.3 L342.7 162.4 L342.8 162.9 L343.9 162.7 L343.9 163.2 L342.9 164.2 L343.0 164.8 L344.0 164.6 L344.0 165.3 L343.0 166.1 L342.9 166.7 L343.9 166.7 L343.9 167.3 L342.8 168.1 L342.8 168.7 L343.7 168.8 L343.6 169.5 L342.5 170.2 L342.4 170.8 L343.3 171.0 L343.2 171.7 L342.1 172.2 L341.9 172.9 L342.7 173.2 L342.5 173.9 L341.5 174.3 L341.2 174.9 L342.0 175.5 L341.8 176.1 L340.7 176.4 L340.4 177.0 L341.1 177.7 L340.8 178.3 L339.8 178.5 L339.5 179.1 L340.1 179.8 L339.8 180.5 L338.8 180.5 L338.4 181.1 L338.9 181.9 L338.5 182.5 L337.6 182.4 L337.2 183.0 L337.6 184.0 L337.2 184.5 L336.3 184.3 L335.9 184.9 L336.2 185.9 L335.8 186.5 L334.9 186.1 L334.5 186.6 L334.7 187.7 L334.3 188.2 L333.5 187.7 L333.0 188.2 L333.1 189.4 L332.6 189.9 L332.0 189.3 L331.5 189.7 L331.5 190.9 L331.0 191.4 L330.4 190.6 L329.9 191.0 L329.8 192.3 L329.3 192.7 L328.7 191.8 L328.2 192.2 L328.0 193.5 L327.5 193.8 L327.1 192.9 L326.6 193.2 L326.3 194.5 L325.7 194.8 L325.4 193.7 L324.9 194.0 L324.5 195.3 L324.0 195.5 L323.8 194.4 L323.3 194.6 L322.7 195.9 L322.2 196.1 L322.1 194.9 L321.6 195.0 L321.0 196.3 L320.5 196.4 L320.5 195.1 L320.0 195.2 L319.3 196.5 L318.9 196.5 L319.0 195.2 L318.5 195.2 L317.7 196.4 L317.3 196.4 L317.5 195.1 L317.0 195.0 L316.2 196.2 L315.8 196.1 L316.1 194.7 L315.7 194.6 L314.8 195.7 L314.4 195.5 L314.8 194.2 L314.4 194.0 L313.4 195.0 L313.1 194.8 L313.6 193.4 L313.2 193.2 L312.2 194.1 L311.9 193.8 L312.5 192.5 L312.2 192.2 L311.2 193.0 L310.9 192.7 L311.5 191.4 L311.3 191.0 L310.2 191.8 L310.0 191.4 L310.7 190.1 L310.5 189.7 L309.4 190.3 L309.2 189.9 L310.1 188.7 L309.9 188.2 L308.8 188.7 L308.7 188.2 L309.6 187.1 L309.4 186.6 L308.4 187.0 L308.3 186.4 L309.2 185.4 L309.1 184.8 L308.1 185.1 L308.0 184.5 L309.0 183.6 L309.0 183.0 L308.0 183.2 L308.0 182.5 L309.0 181.7 L309.0 181.1 L308.0 181.1 L308.1 180.5 L309.1 179.7 L309.2 179.1 L308.2 179.0 L308.4 178.3 L309.4 177.6 L309.6 177.0 L308.7 176.8 L308.8 176.1 L309.9 175.6 L310.1 174.9 L309.2 174.6 L309.4 173.9 L310.5 173.5 L310.7 172.8 L310.0 172.3 L310.2 171.7 L311.3 171.4 L311.5 170.8 L310.8 170.1 L311.1 169.5 L312.2 169.3 L312.5 168.7 L311.9 168.0 L312.2 167.3 L313.2 167.3 L313.5 166.7 L313.0 165.9 L313.4 165.2 L314.4 165.4 L314.7 164.8 L314.3 163.8 L314.7 163.2 L315.6 163.5 L316.0 162.9 L315.7 161.9 L316.2 161.3 L317.0 161.7 L317.4 161.2 L317.2 160.1 L317.7 159.6 L318.5 160.1 L318.9 159.6 L318.8 158.4 L319.3 157.9 L320.0 158.5 L320.5 158.1 L320.5 156.9 L321.0 156.4 L321.6 157.2 L322.1 156.8 L322.2 155.5 L322.7 155.1 L323.2 156.0 L323.7 155.6 L323.9 154.3 L324.5 154.0 L324.9 154.9 L325.4 154.6 L325.7 153.3 L326.2 153.0 L326.5 154.1 L327.0 153.8 L327.5 152.5 L328.0 152.3 L328.2 153.4 L328.7 153.2 L329.2 151.9 L329.7 151.7 L329.8 152.9 L330.3 152.8 L330.9 151.5 L331.4 151.4 L331.4 152.7 L331.9 152.6 L332.6 151.3 L333.1 151.3 L333.0 152.6 L333.5 152.6 L334.2 151.4 L334.7 151.4 L334.5 152.7 L334.9 152.8 L335.8 151.6 L336.2 151.7 L335.9 153.1 L336.3 153.2 L337.2 152.1 L337.6 152.3 L337.2 153.6Z" fill="#fff" stroke="#111" stroke-width="1.1" stroke-linejoin="round" />
<path d="M336.9 155.0 L338.3 156.0 L339.6 157.4 L340.6 159.0 L341.3 160.9 L341.8 163.0 L342.0 165.3 L341.9 167.8 L341.6 170.3 L341.0 172.9 L340.1 175.5 L339.0 178.1 L337.7 180.7 L336.2 183.1 L334.5 185.3 L332.6 187.4 L330.7 189.2 L328.6 190.8 L326.5 192.1 L324.5 193.0 L322.4 193.7 L320.4 194.0 L318.5 193.9 L316.7 193.5 L315.1 192.8 L313.6 191.8 L312.4 190.4 L311.4 188.8 L310.7 186.9 L310.2 184.8 L310.0 182.5 L310.0 180.0 L310.4 177.5 L311.0 174.9 L311.8 172.3 L312.9 169.7 L314.3 167.1 L315.8 164.7 L317.5 162.5 L319.3 160.4 L321.3 158.6 L323.3 157.0 L325.4 155.7 L327.5 154.8 L329.6 154.1 L331.6 153.8 L333.5 153.9 L335.3 154.3 L336.9 155.0Z" fill="none" stroke="#111" stroke-width="1.0" stroke-linejoin="round" />
<path d="M334.4 159.2 L335.6 160.1 L336.5 161.1 L337.3 162.4 L337.8 163.8 L338.2 165.5 L338.4 167.2 L338.3 169.1 L338.1 171.1 L337.6 173.1 L336.9 175.2 L336.1 177.2 L335.1 179.1 L333.9 181.0 L332.6 182.8 L331.1 184.4 L329.6 185.8 L328.0 187.0 L326.4 188.0 L324.8 188.7 L323.2 189.2 L321.6 189.4 L320.2 189.4 L318.8 189.1 L317.5 188.6 L316.4 187.7 L315.5 186.7 L314.7 185.4 L314.1 184.0 L313.7 182.3 L313.6 180.5 L313.6 178.7 L313.9 176.7 L314.3 174.7 L315.0 172.6 L315.9 170.6 L316.9 168.7 L318.1 166.8 L319.4 165.0 L320.8 163.4 L322.3 162.0 L323.9 160.8 L325.5 159.8 L327.2 159.1 L328.8 158.6 L330.3 158.4 L331.8 158.4 L333.2 158.7 L334.4 159.2Z" fill="none" stroke="#111" stroke-width="1.3" stroke-linejoin="round" />
<path d="M331.0 159.2 L332.0 159.9 L332.9 160.8 L333.6 162.0 L334.1 163.3 L334.4 164.8 L334.6 166.4 L334.5 168.1 L334.3 169.9 L333.9 171.7 L333.3 173.5 L332.5 175.4 L331.6 177.1 L330.5 178.8 L329.3 180.4 L328.0 181.8 L326.7 183.1 L325.2 184.2 L323.8 185.1 L322.3 185.8 L320.9 186.2 L319.5 186.4 L318.1 186.4 L316.9 186.1 L315.7 185.6 L314.7 184.9 L313.9 184.0 L313.2 182.8 L312.7 181.5 L312.3 180.0 L312.2 178.4 L312.2 176.7 L312.5 174.9 L312.9 173.1 L313.5 171.2 L314.2 169.4 L315.2 167.7 L316.2 166.0 L317.4 164.4 L318.7 163.0 L320.1 161.7 L321.5 160.6 L323.0 159.7 L324.4 159.0 L325.9 158.6 L327.3 158.4 L328.6 158.4 L329.9 158.7 L331.0 159.2Z" fill="none" stroke="#111" stroke-width="1.0" stroke-linejoin="round" />
<path d="M371.4 175.6 L373.1 173.5 L373.6 173.8 L372.5 176.3 L372.9 176.7 L374.7 174.7 L375.1 175.2 L373.8 177.6 L374.1 178.0 L376.1 176.3 L376.4 176.8 L374.9 179.1 L375.2 179.6 L377.2 178.2 L377.4 178.8 L375.7 180.9 L376.0 181.5 L378.0 180.3 L378.2 181.0 L376.4 183.0 L376.5 183.6 L378.5 182.7 L378.6 183.5 L376.7 185.2 L376.8 185.9 L378.8 185.3 L378.8 186.1 L376.8 187.6 L376.8 188.3 L378.7 188.0 L378.6 188.9 L376.6 190.1 L376.5 190.9 L378.4 190.9 L378.2 191.8 L376.2 192.7 L376.0 193.5 L377.7 193.8 L377.5 194.7 L375.5 195.3 L375.2 196.1 L376.8 196.8 L376.5 197.7 L374.5 198.0 L374.2 198.8 L375.6 199.7 L375.2 200.6 L373.4 200.6 L373.0 201.4 L374.2 202.6 L373.7 203.5 L372.0 203.1 L371.5 203.9 L372.5 205.4 L372.0 206.2 L370.4 205.5 L369.9 206.2 L370.7 208.0 L370.1 208.7 L368.7 207.8 L368.1 208.4 L368.7 210.4 L368.0 211.1 L366.8 209.8 L366.2 210.4 L366.5 212.6 L365.8 213.2 L364.8 211.7 L364.2 212.2 L364.2 214.5 L363.6 215.0 L362.8 213.3 L362.1 213.7 L361.9 216.1 L361.2 216.5 L360.7 214.6 L360.0 214.9 L359.6 217.4 L358.8 217.7 L358.5 215.6 L357.9 215.8 L357.2 218.3 L356.5 218.5 L356.4 216.2 L355.8 216.4 L354.9 218.9 L354.2 219.0 L354.4 216.6 L353.8 216.6 L352.6 219.1 L352.0 219.1 L352.5 216.6 L351.9 216.6 L350.5 219.0 L349.9 218.8 L350.6 216.3 L350.1 216.1 L348.6 218.4 L348.0 218.2 L348.9 215.7 L348.5 215.4 L346.8 217.5 L346.3 217.2 L347.4 214.7 L347.0 214.4 L345.2 216.3 L344.8 215.9 L346.1 213.4 L345.8 213.0 L343.8 214.7 L343.5 214.2 L345.0 211.9 L344.7 211.4 L342.7 212.9 L342.5 212.2 L344.1 210.1 L343.9 209.5 L341.9 210.7 L341.7 210.0 L343.5 208.1 L343.4 207.4 L341.4 208.3 L341.3 207.6 L343.2 205.8 L343.1 205.1 L341.1 205.7 L341.1 204.9 L343.1 203.4 L343.1 202.7 L341.2 203.0 L341.2 202.1 L343.3 200.9 L343.4 200.2 L341.5 200.1 L341.7 199.2 L343.7 198.3 L343.9 197.5 L342.2 197.2 L342.4 196.3 L344.4 195.7 L344.7 194.9 L343.1 194.2 L343.4 193.3 L345.3 193.0 L345.7 192.2 L344.3 191.3 L344.7 190.4 L346.5 190.4 L346.9 189.7 L345.7 188.4 L346.2 187.6 L347.9 187.9 L348.4 187.2 L347.3 185.6 L347.9 184.8 L349.5 185.5 L350.0 184.8 L349.2 183.0 L349.8 182.3 L351.2 183.2 L351.8 182.6 L351.2 180.6 L351.9 179.9 L353.1 181.2 L353.7 180.6 L353.4 178.4 L354.1 177.8 L355.1 179.3 L355.7 178.8 L355.6 176.5 L356.3 176.0 L357.1 177.8 L357.8 177.3 L358.0 174.9 L358.7 174.5 L359.2 176.5 L359.9 176.1 L360.3 173.6 L361.0 173.3 L361.4 175.5 L362.0 175.2 L362.7 172.7 L363.4 172.5 L363.5 174.8 L364.1 174.6 L365.0 172.1 L365.7 172.0 L365.5 174.4 L366.1 174.4 L367.2 171.9 L367.9 171.9 L367.4 174.4 L368.0 174.5 L369.4 172.1 L370.0 172.2 L369.3 174.7 L369.8 174.9 L371.3 172.6 L371.9 172.8 L371.0 175.4Z" fill="#fff" stroke="#111" stroke-width="1.2" stroke-linejoin="round" />
<path d="M371.5 175.5 L373.0 176.6 L374.3 178.0 L375.4 179.8 L376.2 181.8 L376.7 184.0 L376.9 186.4 L376.8 189.0 L376.5 191.7 L375.8 194.5 L374.9 197.2 L373.8 200.0 L372.4 202.7 L370.7 205.2 L368.9 207.6 L367.0 209.8 L364.9 211.7 L362.8 213.4 L360.5 214.7 L358.3 215.7 L356.1 216.4 L354.0 216.7 L352.0 216.7 L350.1 216.3 L348.4 215.5 L346.9 214.4 L345.6 213.0 L344.5 211.3 L343.7 209.3 L343.2 207.0 L343.0 204.6 L343.1 202.0 L343.4 199.3 L344.1 196.5 L345.0 193.8 L346.1 191.0 L347.5 188.3 L349.2 185.8 L351.0 183.4 L352.9 181.2 L355.0 179.3 L357.1 177.6 L359.3 176.3 L361.6 175.3 L363.7 174.6 L365.9 174.3 L367.9 174.3 L369.8 174.7 L371.5 175.5Z" fill="none" stroke="#111" stroke-width="1.0" stroke-linejoin="round" />
<clipPath id="c4"><path d="M370.7 176.8 L372.1 177.9 L373.4 179.2 L374.3 180.8 L375.1 182.7 L375.5 184.8 L375.8 187.0 L375.7 189.4 L375.4 192.0 L374.8 194.5 L373.9 197.1 L372.8 199.7 L371.5 202.2 L370.0 204.6 L368.3 206.8 L366.5 208.8 L364.6 210.6 L362.6 212.2 L360.5 213.4 L358.4 214.4 L356.4 215.0 L354.4 215.3 L352.5 215.3 L350.8 214.9 L349.2 214.2 L347.7 213.2 L346.5 211.8 L345.6 210.2 L344.8 208.3 L344.3 206.3 L344.1 204.0 L344.2 201.6 L344.5 199.1 L345.1 196.5 L346.0 193.9 L347.1 191.3 L348.4 188.8 L349.9 186.4 L351.6 184.2 L353.4 182.2 L355.3 180.4 L357.3 178.8 L359.4 177.6 L361.5 176.6 L363.5 176.0 L365.5 175.7 L367.4 175.7 L369.1 176.1 L370.7 176.8Z"/></clipPath>
<path d="M370.7 176.8 L372.1 177.9 L373.4 179.2 L374.3 180.8 L375.1 182.7 L375.5 184.8 L375.8 187.0 L375.7 189.4 L375.4 192.0 L374.8 194.5 L373.9 197.1 L372.8 199.7 L371.5 202.2 L370.0 204.6 L368.3 206.8 L366.5 208.8 L364.6 210.6 L362.6 212.2 L360.5 213.4 L358.4 214.4 L356.4 215.0 L354.4 215.3 L352.5 215.3 L350.8 214.9 L349.2 214.2 L347.7 213.2 L346.5 211.8 L345.6 210.2 L344.8 208.3 L344.3 206.3 L344.1 204.0 L344.2 201.6 L344.5 199.1 L345.1 196.5 L346.0 193.9 L347.1 191.3 L348.4 188.8 L349.9 186.4 L351.6 184.2 L353.4 182.2 L355.3 180.4 L357.3 178.8 L359.4 177.6 L361.5 176.6 L363.5 176.0 L365.5 175.7 L367.4 175.7 L369.1 176.1 L370.7 176.8Z" fill="none" stroke="#111" stroke-width="1.2" stroke-linejoin="round" />
<g clip-path="url(#c4)">
<path d="M365.9 175.2 L367.2 176.2 L368.4 177.5 L369.3 179.0 L370.0 180.8 L370.5 182.8 L370.7 184.9 L370.6 187.2 L370.3 189.6 L369.7 192.1 L368.9 194.6 L367.9 197.0 L366.6 199.4 L365.2 201.6 L363.6 203.8 L361.9 205.7 L360.0 207.4 L358.1 208.9 L356.2 210.1 L354.2 211.0 L352.2 211.6 L350.3 211.9 L348.6 211.8 L346.9 211.5 L345.3 210.8 L344.0 209.8 L342.8 208.5 L341.9 207.0 L341.2 205.2 L340.8 203.2 L340.6 201.1 L340.6 198.8 L340.9 196.4 L341.5 193.9 L342.3 191.5 L343.3 189.0 L344.6 186.6 L346.0 184.4 L347.6 182.3 L349.4 180.3 L351.2 178.6 L353.1 177.1 L355.1 175.9 L357.0 175.0 L359.0 174.4 L360.9 174.1 L362.7 174.2 L364.4 174.5 L365.9 175.2Z" fill="none" stroke="#111" stroke-width="1.2" stroke-linejoin="round" />
<path d="M375.8 187.3L370.7 185.2M369.4 205.4L364.6 202.4M356.7 215.0L352.5 211.5" fill="none" stroke="#111" stroke-width="1.0" stroke-linejoin="round" />
</g>
<path d="M582.0 312.5 L582.8 313.0 L583.4 313.7 L583.9 314.5 L584.2 315.5 L584.5 316.5 L584.6 317.7 L584.6 318.9 L584.4 320.2 L584.1 321.5 L583.7 322.8 L583.1 324.1 L582.5 325.3 L581.7 326.5 L580.8 327.7 L579.9 328.7 L578.9 329.6 L577.9 330.4 L576.9 331.0 L575.8 331.5 L574.8 331.8 L573.8 332.0 L572.8 332.0 L571.9 331.8 L571.1 331.4 L570.4 330.9 L569.8 330.2 L569.3 329.4 L568.9 328.5 L568.7 327.4 L568.6 326.2 L568.6 325.0 L568.8 323.8 L569.1 322.4 L569.5 321.1 L570.1 319.8 L570.7 318.6 L571.5 317.4 L572.3 316.2 L573.3 315.2 L574.2 314.3 L575.3 313.5 L576.3 312.9 L577.4 312.4 L578.4 312.1 L579.4 311.9 L580.3 311.9 L581.2 312.1 L582.0 312.5Z" fill="none" stroke="#111" stroke-width="1.4" stroke-linejoin="round" />
<path d="M581.4 313.6 L582.0 314.1 L582.6 314.7 L583.0 315.4 L583.3 316.2 L583.5 317.2 L583.6 318.2 L583.6 319.3 L583.5 320.4 L583.2 321.5 L582.8 322.7 L582.3 323.8 L581.7 324.9 L581.1 326.0 L580.3 327.0 L579.5 327.9 L578.7 328.7 L577.8 329.4 L576.8 329.9 L575.9 330.4 L575.0 330.7 L574.1 330.8 L573.3 330.8 L572.5 330.6 L571.8 330.3 L571.2 329.8 L570.6 329.2 L570.2 328.5 L569.8 327.7 L569.6 326.7 L569.5 325.7 L569.6 324.7 L569.7 323.5 L570.0 322.4 L570.4 321.2 L570.8 320.1 L571.4 319.0 L572.1 317.9 L572.8 316.9 L573.7 316.0 L574.5 315.2 L575.4 314.5 L576.3 314.0 L577.3 313.5 L578.2 313.3 L579.1 313.1 L579.9 313.1 L580.7 313.3 L581.4 313.6Z" fill="none" stroke="#111" stroke-width="1.1199999999999999" stroke-linejoin="round" />
<path d="M619.5 319.7 L621.2 317.6 L621.7 317.9 L620.5 320.4 L620.9 320.8 L622.8 318.8 L623.2 319.3 L621.8 321.7 L622.2 322.1 L624.1 320.4 L624.4 320.9 L622.9 323.2 L623.2 323.7 L625.2 322.2 L625.4 322.9 L623.8 325.0 L624.0 325.6 L626.0 324.4 L626.2 325.0 L624.4 327.0 L624.5 327.6 L626.5 326.7 L626.6 327.5 L624.7 329.2 L624.8 329.9 L626.8 329.3 L626.8 330.1 L624.8 331.6 L624.8 332.3 L626.7 332.0 L626.6 332.8 L624.6 334.0 L624.5 334.8 L626.4 334.8 L626.2 335.7 L624.2 336.6 L624.0 337.4 L625.7 337.7 L625.5 338.6 L623.5 339.2 L623.2 340.0 L624.8 340.7 L624.5 341.5 L622.6 341.8 L622.2 342.6 L623.7 343.6 L623.3 344.4 L621.4 344.4 L621.0 345.2 L622.3 346.4 L621.8 347.3 L620.1 346.9 L619.6 347.6 L620.6 349.2 L620.1 349.9 L618.5 349.3 L618.0 350.0 L618.8 351.7 L618.2 352.5 L616.8 351.5 L616.2 352.1 L616.8 354.1 L616.2 354.8 L614.9 353.5 L614.4 354.1 L614.7 356.3 L614.0 356.9 L613.0 355.3 L612.4 355.8 L612.4 358.2 L611.7 358.7 L610.9 356.9 L610.3 357.3 L610.1 359.7 L609.4 360.2 L608.9 358.2 L608.2 358.5 L607.8 361.0 L607.1 361.3 L606.8 359.2 L606.1 359.4 L605.4 361.9 L604.8 362.2 L604.7 359.8 L604.1 360.0 L603.2 362.5 L602.5 362.6 L602.7 360.2 L602.1 360.2 L601.0 362.7 L600.3 362.7 L600.8 360.2 L600.2 360.2 L598.9 362.6 L598.3 362.4 L599.0 359.9 L598.4 359.7 L596.9 362.0 L596.4 361.8 L597.3 359.3 L596.8 359.0 L595.1 361.2 L594.6 360.8 L595.8 358.3 L595.4 358.0 L593.6 359.9 L593.2 359.5 L594.5 357.1 L594.2 356.7 L592.2 358.4 L591.9 357.9 L593.4 355.6 L593.1 355.1 L591.2 356.5 L590.9 355.9 L592.6 353.8 L592.4 353.2 L590.3 354.4 L590.2 353.7 L592.0 351.8 L591.8 351.1 L589.8 352.1 L589.7 351.3 L591.6 349.6 L591.6 348.9 L589.6 349.5 L589.5 348.7 L591.5 347.2 L591.6 346.5 L589.6 346.8 L589.7 345.9 L591.7 344.7 L591.8 344.0 L590.0 343.9 L590.1 343.1 L592.1 342.2 L592.3 341.4 L590.6 341.0 L590.8 340.2 L592.8 339.6 L593.1 338.8 L591.5 338.1 L591.8 337.2 L593.8 336.9 L594.1 336.2 L592.7 335.2 L593.1 334.3 L594.9 334.4 L595.3 333.6 L594.1 332.4 L594.5 331.5 L596.3 331.9 L596.7 331.1 L595.7 329.6 L596.2 328.8 L597.8 329.5 L598.3 328.8 L597.5 327.0 L598.1 326.3 L599.5 327.3 L600.1 326.6 L599.5 324.7 L600.2 324.0 L601.4 325.2 L602.0 324.7 L601.7 322.5 L602.3 321.9 L603.4 323.4 L604.0 322.9 L603.9 320.6 L604.6 320.1 L605.4 321.9 L606.0 321.5 L606.2 319.0 L606.9 318.6 L607.5 320.6 L608.1 320.3 L608.6 317.8 L609.3 317.4 L609.6 319.6 L610.2 319.4 L610.9 316.8 L611.6 316.6 L611.6 318.9 L612.2 318.8 L613.2 316.3 L613.8 316.2 L613.6 318.6 L614.2 318.5 L615.4 316.0 L616.0 316.1 L615.6 318.6 L616.1 318.6 L617.5 316.2 L618.1 316.3 L617.4 318.9 L617.9 319.0 L619.4 316.7 L620.0 317.0 L619.0 319.5Z" fill="#fff" stroke="#111" stroke-width="1.2" stroke-linejoin="round" />
<path d="M619.6 319.6 L621.1 320.7 L622.4 322.1 L623.4 323.8 L624.2 325.8 L624.7 328.0 L624.9 330.4 L624.8 333.0 L624.5 335.6 L623.9 338.4 L623.0 341.1 L621.8 343.8 L620.4 346.5 L618.8 349.0 L617.1 351.3 L615.1 353.5 L613.1 355.4 L610.9 357.0 L608.8 358.4 L606.6 359.4 L604.4 360.1 L602.3 360.4 L600.3 360.3 L598.4 359.9 L596.7 359.2 L595.2 358.1 L594.0 356.7 L592.9 354.9 L592.1 353.0 L591.6 350.8 L591.4 348.4 L591.5 345.8 L591.8 343.1 L592.5 340.4 L593.4 337.7 L594.5 334.9 L595.9 332.3 L597.5 329.8 L599.3 327.4 L601.2 325.3 L603.3 323.4 L605.4 321.7 L607.6 320.4 L609.8 319.4 L611.9 318.7 L614.0 318.4 L616.0 318.4 L617.9 318.9 L619.6 319.6Z" fill="none" stroke="#111" stroke-width="1.0" stroke-linejoin="round" />
<clipPath id="c5"><path d="M618.8 320.9 L620.2 321.9 L621.4 323.3 L622.4 324.9 L623.1 326.7 L623.6 328.8 L623.8 331.0 L623.7 333.4 L623.4 335.9 L622.8 338.4 L622.0 341.0 L620.9 343.5 L619.6 346.0 L618.1 348.3 L616.5 350.5 L614.7 352.6 L612.7 354.3 L610.8 355.9 L608.7 357.1 L606.7 358.1 L604.7 358.7 L602.7 359.0 L600.8 358.9 L599.1 358.5 L597.5 357.8 L596.1 356.8 L594.9 355.5 L593.9 353.9 L593.2 352.1 L592.7 350.0 L592.5 347.8 L592.6 345.4 L592.9 342.9 L593.5 340.3 L594.4 337.8 L595.4 335.2 L596.7 332.8 L598.2 330.4 L599.9 328.2 L601.7 326.2 L603.6 324.4 L605.6 322.9 L607.6 321.7 L609.7 320.7 L611.7 320.1 L613.6 319.8 L615.5 319.8 L617.2 320.2 L618.8 320.9Z"/></clipPath>
<path d="M618.8 320.9 L620.2 321.9 L621.4 323.3 L622.4 324.9 L623.1 326.7 L623.6 328.8 L623.8 331.0 L623.7 333.4 L623.4 335.9 L622.8 338.4 L622.0 341.0 L620.9 343.5 L619.6 346.0 L618.1 348.3 L616.5 350.5 L614.7 352.6 L612.7 354.3 L610.8 355.9 L608.7 357.1 L606.7 358.1 L604.7 358.7 L602.7 359.0 L600.8 358.9 L599.1 358.5 L597.5 357.8 L596.1 356.8 L594.9 355.5 L593.9 353.9 L593.2 352.1 L592.7 350.0 L592.5 347.8 L592.6 345.4 L592.9 342.9 L593.5 340.3 L594.4 337.8 L595.4 335.2 L596.7 332.8 L598.2 330.4 L599.9 328.2 L601.7 326.2 L603.6 324.4 L605.6 322.9 L607.6 321.7 L609.7 320.7 L611.7 320.1 L613.6 319.8 L615.5 319.8 L617.2 320.2 L618.8 320.9Z" fill="none" stroke="#111" stroke-width="1.2" stroke-linejoin="round" />
<g clip-path="url(#c5)">
<path d="M614.0 319.3 L615.3 320.3 L616.5 321.5 L617.4 323.1 L618.1 324.8 L618.5 326.8 L618.7 328.9 L618.7 331.2 L618.3 333.5 L617.8 336.0 L617.0 338.4 L616.0 340.8 L614.7 343.2 L613.3 345.4 L611.7 347.5 L610.0 349.4 L608.2 351.1 L606.3 352.6 L604.4 353.8 L602.4 354.7 L600.5 355.3 L598.6 355.5 L596.9 355.5 L595.2 355.1 L593.7 354.5 L592.4 353.5 L591.2 352.2 L590.3 350.7 L589.6 349.0 L589.1 347.0 L589.0 344.9 L589.0 342.6 L589.3 340.2 L589.9 337.8 L590.7 335.4 L591.7 332.9 L592.9 330.6 L594.4 328.4 L595.9 326.3 L597.6 324.3 L599.5 322.6 L601.4 321.2 L603.3 320.0 L605.3 319.1 L607.2 318.5 L609.0 318.2 L610.8 318.3 L612.5 318.6 L614.0 319.3Z" fill="none" stroke="#111" stroke-width="1.2" stroke-linejoin="round" />
<path d="M623.8 331.3L618.7 329.2M617.5 349.2L612.8 346.2M604.9 358.6L600.8 355.2" fill="none" stroke="#111" stroke-width="1.0" stroke-linejoin="round" />
</g>
<path d="M63.3 229.1 L65.3 226.8 L65.8 227.2 L64.5 230.0 L65.0 230.4 L67.1 228.4 L67.6 229.0 L66.0 231.6 L66.3 232.2 L68.5 230.5 L68.9 231.3 L67.0 233.7 L67.3 234.4 L69.5 233.1 L69.7 234.0 L67.7 236.1 L67.8 236.9 L70.0 236.1 L70.1 237.1 L67.9 238.8 L67.9 239.7 L70.0 239.4 L69.9 240.5 L67.7 241.8 L67.5 242.7 L69.5 242.9 L69.3 244.0 L67.0 244.9 L66.7 245.8 L68.5 246.5 L68.2 247.6 L66.0 248.0 L65.6 248.9 L67.1 250.1 L66.6 251.1 L64.6 251.0 L64.1 251.9 L65.3 253.5 L64.6 254.5 L62.8 253.9 L62.2 254.7 L63.1 256.7 L62.4 257.6 L60.8 256.6 L60.1 257.3 L60.6 259.6 L59.8 260.4 L58.5 258.9 L57.8 259.5 L57.9 262.1 L57.1 262.7 L56.1 260.8 L55.4 261.3 L55.1 264.0 L54.2 264.5 L53.7 262.3 L52.9 262.6 L52.2 265.5 L51.4 265.8 L51.2 263.3 L50.5 263.5 L49.4 266.3 L48.6 266.4 L48.8 263.7 L48.1 263.7 L46.7 266.5 L45.9 266.4 L46.5 263.6 L45.9 263.5 L44.2 266.1 L43.5 265.8 L44.5 263.0 L43.9 262.7 L42.0 265.0 L41.4 264.6 L42.8 261.8 L42.3 261.4 L40.2 263.4 L39.7 262.8 L41.3 260.2 L41.0 259.6 L38.8 261.3 L38.4 260.5 L40.3 258.1 L40.0 257.4 L37.8 258.7 L37.6 257.8 L39.6 255.7 L39.5 254.9 L37.3 255.7 L37.2 254.7 L39.4 253.0 L39.4 252.1 L37.3 252.4 L37.4 251.3 L39.6 250.0 L39.8 249.1 L37.8 248.9 L38.0 247.8 L40.3 246.9 L40.5 246.0 L38.8 245.3 L39.1 244.2 L41.3 243.8 L41.7 242.9 L40.2 241.7 L40.7 240.7 L42.7 240.8 L43.2 239.9 L42.0 238.3 L42.6 237.3 L44.5 237.9 L45.1 237.1 L44.2 235.1 L44.9 234.2 L46.5 235.2 L47.2 234.5 L46.7 232.2 L47.5 231.4 L48.8 232.9 L49.5 232.3 L49.4 229.7 L50.2 229.1 L51.2 231.0 L51.9 230.5 L52.2 227.8 L53.1 227.3 L53.6 229.5 L54.4 229.2 L55.1 226.3 L55.9 226.0 L56.1 228.5 L56.8 228.3 L57.9 225.5 L58.7 225.4 L58.5 228.1 L59.2 228.1 L60.6 225.3 L61.4 225.4 L60.8 228.2 L61.4 228.3 L63.1 225.7 L63.8 226.0 L62.8 228.8Z" fill="#fff" stroke="#111" stroke-width="1.1" stroke-linejoin="round" />
<path d="M64.1 227.8 L63.1 227.3 L62.0 227.0 L60.8 226.7 L59.6 226.7 L58.4 226.8 L57.1 227.0 L55.8 227.4 L54.4 227.9 L53.1 228.5 L51.8 229.3 L50.4 230.2 L49.2 231.2 L47.9 232.4 L46.7 233.6 L45.5 235.0 L44.4 236.4 L43.4 237.9 L42.4 239.4 L41.6 241.0 L40.8 242.7 L40.1 244.3 L39.5 246.0 L39.1 247.7 L38.7 249.3 L38.5 251.0 L38.3 252.6 L38.3 254.1 L38.4 255.6 L38.7 257.0 L39.0 258.3 L39.4 259.6 L40.0 260.7 L40.7 261.7 L41.4 262.6 L42.3 263.4 L43.2 264.0 L55.3 271.0 L56.3 271.5 L57.4 271.8 L58.6 272.1 L59.8 272.1 L61.0 272.0 L62.3 271.8 L63.6 271.4 L65.0 270.9 L66.3 270.3 L67.7 269.5 L69.0 268.6 L70.3 267.6 L71.5 266.4 L72.7 265.2 L73.9 263.8 L75.0 262.4 L76.0 260.9 L77.0 259.4 L77.9 257.8 L78.6 256.1 L79.3 254.5 L79.9 252.8 L80.4 251.1 L80.7 249.5 L81.0 247.8 L81.1 246.2 L81.1 244.7 L81.0 243.2 L80.8 241.8 L80.4 240.5 L80.0 239.2 L79.4 238.1 L78.8 237.1 L78.0 236.2 L77.2 235.4 L76.2 234.8Z" fill="#fff" stroke="#111" stroke-width="1.1" stroke-linejoin="round" />
<path d="M52.0 267.5L38.8 257.7M51.5 266.3L38.5 256.3M51.0 265.0L38.4 254.8M50.7 263.6L38.3 253.2M50.5 262.1L38.4 251.6M50.4 260.6L38.6 249.9M50.5 259.0L38.9 248.2M50.7 257.3L39.4 246.5M51.0 255.6L39.9 244.8M51.4 253.9L40.6 243.1M51.9 252.2L41.4 241.4M52.6 250.4L42.3 239.7M53.3 248.7L43.2 238.1M54.2 247.1L44.3 236.5M55.1 245.4L45.4 235.1M56.2 243.9L46.6 233.7M57.3 242.4L47.9 232.4M58.5 241.0L49.2 231.2M59.7 239.7L50.5 230.2M61.0 238.5L51.9 229.2M62.3 237.4L53.3 228.4M63.7 236.4L54.6 227.8M65.1 235.6L56.0 227.3M66.5 234.9L57.4 226.9M67.8 234.4L58.7 226.7M69.2 234.0L60.0 226.7M70.5 233.8L61.2 226.8M71.8 233.7L62.4 227.1M73.0 233.8L63.5 227.5M74.2 234.0L64.5 228.0" fill="none" stroke="#111" stroke-width="1.1" stroke-linejoin="round" />
<path d="M75.5 236.1 L77.4 233.8 L78.0 234.2 L76.7 237.0 L77.1 237.4 L79.2 235.4 L79.7 236.0 L78.1 238.6 L78.4 239.2 L80.7 237.5 L81.0 238.3 L79.1 240.7 L79.4 241.4 L81.6 240.1 L81.8 241.0 L79.8 243.1 L79.9 243.9 L82.1 243.1 L82.2 244.1 L80.0 245.8 L80.0 246.7 L82.1 246.4 L82.0 247.5 L79.8 248.8 L79.6 249.7 L81.6 249.9 L81.4 251.0 L79.1 251.9 L78.9 252.8 L80.7 253.5 L80.3 254.6 L78.1 255.0 L77.7 255.9 L79.2 257.1 L78.7 258.1 L76.7 258.0 L76.2 258.9 L77.4 260.5 L76.8 261.5 L74.9 260.9 L74.3 261.7 L75.2 263.7 L74.5 264.6 L72.9 263.6 L72.2 264.3 L72.7 266.6 L71.9 267.4 L70.6 265.9 L69.9 266.5 L70.0 269.1 L69.2 269.7 L68.3 267.8 L67.5 268.3 L67.2 271.0 L66.4 271.5 L65.8 269.3 L65.0 269.6 L64.4 272.5 L63.5 272.8 L63.3 270.3 L62.6 270.5 L61.5 273.3 L60.7 273.4 L60.9 270.7 L60.2 270.7 L58.8 273.5 L58.1 273.4 L58.7 270.6 L58.0 270.5 L56.4 273.1 L55.7 272.8 L56.6 270.0 L56.1 269.7 L54.2 272.0 L53.6 271.6 L54.9 268.8 L54.4 268.4 L52.3 270.4 L51.8 269.8 L53.5 267.2 L53.1 266.6 L50.9 268.3 L50.5 267.5 L52.4 265.1 L52.2 264.4 L49.9 265.7 L49.7 264.8 L51.8 262.7 L51.6 261.9 L49.4 262.7 L49.4 261.7 L51.5 260.0 L51.6 259.1 L49.4 259.4 L49.5 258.3 L51.8 257.0 L51.9 256.1 L49.9 255.9 L50.1 254.8 L52.4 253.9 L52.7 253.0 L50.9 252.3 L51.3 251.2 L53.4 250.8 L53.8 249.9 L52.3 248.7 L52.8 247.7 L54.9 247.8 L55.4 246.9 L54.1 245.3 L54.8 244.3 L56.6 244.9 L57.2 244.1 L56.3 242.1 L57.1 241.2 L58.6 242.2 L59.3 241.5 L58.8 239.2 L59.6 238.4 L60.9 239.9 L61.6 239.3 L61.5 236.7 L62.3 236.1 L63.3 238.0 L64.0 237.5 L64.3 234.8 L65.2 234.3 L65.8 236.5 L66.5 236.2 L67.2 233.3 L68.0 233.0 L68.2 235.5 L69.0 235.3 L70.0 232.5 L70.8 232.4 L70.6 235.1 L71.3 235.1 L72.7 232.3 L73.5 232.4 L72.9 235.2 L73.5 235.3 L75.2 232.7 L75.9 233.0 L74.9 235.8Z" fill="#fff" stroke="#111" stroke-width="1.1" stroke-linejoin="round" />
<path d="M75.3 236.4 L76.4 235.2 L76.8 235.6 L76.3 237.0 L76.7 237.4 L77.8 236.4 L78.2 236.8 L77.5 238.3 L77.8 238.7 L79.0 237.9 L79.3 238.4 L78.5 239.8 L78.7 240.3 L79.9 239.7 L80.1 240.3 L79.2 241.6 L79.4 242.2 L80.5 241.8 L80.6 242.4 L79.6 243.6 L79.7 244.3 L80.8 244.1 L80.9 244.8 L79.8 245.8 L79.8 246.5 L80.9 246.6 L80.8 247.3 L79.7 248.2 L79.6 248.9 L80.6 249.2 L80.4 250.0 L79.2 250.7 L79.1 251.4 L80.0 251.8 L79.7 252.7 L78.6 253.2 L78.3 253.9 L79.1 254.5 L78.8 255.3 L77.6 255.7 L77.3 256.4 L77.9 257.2 L77.5 258.0 L76.4 258.1 L76.0 258.8 L76.5 259.8 L76.1 260.5 L75.0 260.4 L74.6 261.1 L74.9 262.2 L74.4 262.9 L73.4 262.6 L72.9 263.2 L73.1 264.5 L72.5 265.1 L71.7 264.6 L71.1 265.2 L71.2 266.5 L70.5 267.1 L69.8 266.4 L69.2 266.8 L69.1 268.2 L68.5 268.7 L67.9 267.8 L67.3 268.2 L67.0 269.7 L66.3 270.0 L65.9 269.0 L65.3 269.3 L64.8 270.8 L64.2 271.0 L63.9 269.8 L63.3 270.0 L62.7 271.5 L62.0 271.6 L61.9 270.3 L61.3 270.4 L60.6 271.8 L60.0 271.9 L60.0 270.5 L59.5 270.4 L58.6 271.8 L58.1 271.7 L58.3 270.3 L57.8 270.1 L56.8 271.4 L56.3 271.2 L56.7 269.7 L56.2 269.4 L55.2 270.6 L54.7 270.2 L55.2 268.8 L54.9 268.4 L53.7 269.4 L53.4 269.0 L54.0 267.5 L53.7 267.1 L52.6 267.9 L52.3 267.4 L53.1 266.0 L52.8 265.5 L51.6 266.1 L51.4 265.5 L52.4 264.2 L52.2 263.6 L51.0 264.0 L50.9 263.4 L51.9 262.2 L51.8 261.5 L50.7 261.7 L50.7 261.0 L51.8 260.0 L51.8 259.3 L50.7 259.3 L50.7 258.5 L51.9 257.6 L52.0 256.9 L51.0 256.6 L51.1 255.8 L52.3 255.1 L52.5 254.4 L51.6 254.0 L51.8 253.2 L53.0 252.6 L53.2 251.9 L52.5 251.3 L52.8 250.5 L53.9 250.1 L54.3 249.4 L53.6 248.6 L54.0 247.8 L55.1 247.7 L55.5 247.0 L55.0 246.0 L55.5 245.3 L56.5 245.4 L57.0 244.7 L56.6 243.6 L57.2 242.9 L58.1 243.2 L58.6 242.6 L58.4 241.3 L59.0 240.7 L59.9 241.2 L60.4 240.6 L60.4 239.3 L61.0 238.7 L61.7 239.4 L62.3 239.0 L62.5 237.6 L63.1 237.1 L63.7 238.0 L64.3 237.6 L64.6 236.1 L65.2 235.8 L65.7 236.8 L66.3 236.5 L66.7 235.0 L67.4 234.8 L67.7 236.0 L68.3 235.8 L68.9 234.3 L69.5 234.2 L69.6 235.5 L70.2 235.4 L71.0 234.0 L71.6 234.0 L71.5 235.3 L72.0 235.4 L72.9 234.0 L73.5 234.1 L73.3 235.5 L73.8 235.7 L74.7 234.4 L75.3 234.6 L74.9 236.1Z" fill="none" stroke="#111" stroke-width="1.0" stroke-linejoin="round" />
<path d="M74.3 238.2 L75.4 239.0 L76.4 240.0 L77.1 241.3 L77.7 242.8 L78.1 244.4 L78.3 246.2 L78.2 248.1 L77.9 250.1 L77.5 252.1 L76.8 254.2 L75.9 256.2 L74.9 258.2 L73.7 260.1 L72.4 261.8 L71.0 263.4 L69.4 264.8 L67.8 266.1 L66.2 267.1 L64.6 267.8 L63.0 268.3 L61.4 268.5 L59.9 268.5 L58.5 268.2 L57.3 267.6 L56.1 266.8 L55.2 265.8 L54.4 264.5 L53.8 263.0 L53.5 261.4 L53.3 259.6 L53.3 257.7 L53.6 255.7 L54.1 253.7 L54.7 251.6 L55.6 249.6 L56.6 247.6 L57.8 245.7 L59.1 244.0 L60.6 242.4 L62.1 241.0 L63.7 239.7 L65.3 238.7 L67.0 238.0 L68.6 237.5 L70.1 237.3 L71.6 237.3 L73.0 237.6 L74.3 238.2Z" fill="none" stroke="#111" stroke-width="1.0" stroke-linejoin="round" />
<path d="M72.7 240.9 L73.6 241.5 L74.4 242.4 L75.0 243.4 L75.5 244.6 L75.8 246.0 L76.0 247.4 L75.9 249.0 L75.7 250.6 L75.3 252.3 L74.8 253.9 L74.1 255.6 L73.2 257.2 L72.3 258.7 L71.2 260.2 L70.0 261.5 L68.8 262.6 L67.5 263.6 L66.1 264.4 L64.8 265.1 L63.5 265.5 L62.2 265.7 L61.0 265.6 L59.9 265.4 L58.8 264.9 L57.9 264.3 L57.1 263.4 L56.5 262.4 L56.0 261.2 L55.7 259.8 L55.6 258.4 L55.6 256.8 L55.8 255.2 L56.2 253.5 L56.8 251.9 L57.5 250.2 L58.3 248.6 L59.3 247.1 L60.4 245.6 L61.5 244.3 L62.8 243.2 L64.1 242.2 L65.4 241.4 L66.7 240.7 L68.1 240.3 L69.3 240.1 L70.5 240.2 L71.7 240.4 L72.7 240.9Z" fill="none" stroke="#111" stroke-width="1.2" stroke-linejoin="round" />
<path d="M71.4 243.2 L72.1 243.7 L72.7 244.4 L73.2 245.3 L73.6 246.2 L73.9 247.3 L74.0 248.5 L73.9 249.8 L73.8 251.1 L73.5 252.4 L73.0 253.7 L72.5 255.1 L71.8 256.4 L71.0 257.6 L70.1 258.8 L69.2 259.8 L68.2 260.8 L67.1 261.6 L66.1 262.2 L65.0 262.7 L63.9 263.0 L62.9 263.2 L61.9 263.2 L61.0 263.0 L60.2 262.6 L59.4 262.1 L58.8 261.4 L58.3 260.5 L57.9 259.6 L57.7 258.5 L57.6 257.3 L57.6 256.1 L57.8 254.7 L58.1 253.4 L58.5 252.1 L59.1 250.7 L59.8 249.4 L60.5 248.2 L61.4 247.0 L62.4 246.0 L63.4 245.0 L64.4 244.2 L65.5 243.6 L66.6 243.1 L67.6 242.8 L68.6 242.6 L69.6 242.6 L70.5 242.8 L71.4 243.2Z" fill="#fff" stroke="#111" stroke-width="1.6" stroke-linejoin="round" />
<path d="M99.9 250.7 L99.0 250.2 L98.0 249.9 L96.9 249.7 L95.8 249.6 L94.7 249.7 L93.5 249.9 L92.2 250.2 L91.0 250.7 L89.8 251.3 L88.5 252.0 L87.3 252.9 L86.1 253.8 L85.0 254.9 L83.8 256.0 L82.7 257.3 L81.7 258.6 L80.8 260.0 L79.9 261.4 L79.1 262.9 L78.4 264.4 L77.7 265.9 L77.2 267.5 L76.8 269.0 L76.4 270.6 L76.2 272.1 L76.1 273.6 L76.1 275.0 L76.2 276.4 L76.4 277.7 L76.7 278.9 L77.1 280.0 L77.6 281.1 L78.2 282.0 L79.0 282.9 L79.7 283.6 L80.6 284.1 L87.5 288.1 L88.5 288.6 L89.5 288.9 L90.6 289.1 L91.7 289.2 L92.8 289.1 L94.0 288.9 L95.2 288.6 L96.5 288.1 L97.7 287.5 L98.9 286.8 L100.2 285.9 L101.4 285.0 L102.5 283.9 L103.7 282.8 L104.7 281.5 L105.8 280.2 L106.7 278.8 L107.6 277.4 L108.4 275.9 L109.1 274.4 L109.7 272.9 L110.3 271.3 L110.7 269.8 L111.0 268.2 L111.3 266.7 L111.4 265.2 L111.4 263.8 L111.3 262.4 L111.1 261.1 L110.8 259.9 L110.4 258.8 L109.8 257.7 L109.2 256.8 L108.5 255.9 L107.7 255.2 L106.9 254.7Z" fill="#fff" stroke="#111" stroke-width="1.3" stroke-linejoin="round" />
<path d="M107.4 253.7 L108.8 254.7 L109.9 255.9 L110.8 257.5 L111.5 259.2 L112.0 261.2 L112.2 263.4 L112.1 265.7 L111.8 268.0 L111.3 270.5 L110.5 272.9 L109.4 275.4 L108.2 277.7 L106.8 280.0 L105.2 282.1 L103.4 284.0 L101.6 285.7 L99.7 287.2 L97.7 288.4 L95.8 289.3 L93.8 289.9 L92.0 290.2 L90.2 290.1 L88.5 289.8 L87.0 289.1 L85.6 288.1 L84.5 286.9 L83.6 285.3 L82.9 283.6 L82.4 281.6 L82.2 279.4 L82.3 277.1 L82.6 274.8 L83.2 272.3 L84.0 269.9 L85.0 267.4 L86.2 265.1 L87.7 262.8 L89.2 260.7 L91.0 258.8 L92.8 257.1 L94.7 255.6 L96.7 254.4 L98.6 253.5 L100.6 252.9 L102.4 252.6 L104.2 252.7 L105.9 253.0 L107.4 253.7Z" fill="#fff" stroke="#111" stroke-width="1.3" stroke-linejoin="round" />
<path d="M106.6 255.1 L107.8 256.0 L108.9 257.2 L109.8 258.6 L110.4 260.2 L110.8 262.0 L111.0 264.0 L110.9 266.1 L110.7 268.3 L110.1 270.6 L109.4 272.8 L108.4 275.1 L107.3 277.2 L106.0 279.3 L104.5 281.2 L102.9 283.0 L101.2 284.6 L99.5 285.9 L97.7 287.0 L95.9 287.9 L94.1 288.4 L92.4 288.7 L90.7 288.6 L89.2 288.3 L87.8 287.7 L86.6 286.8 L85.5 285.6 L84.7 284.2 L84.0 282.6 L83.6 280.8 L83.4 278.8 L83.5 276.7 L83.8 274.5 L84.3 272.2 L85.0 270.0 L86.0 267.7 L87.1 265.6 L88.4 263.5 L89.9 261.6 L91.5 259.8 L93.2 258.2 L94.9 256.9 L96.7 255.8 L98.5 254.9 L100.3 254.4 L102.0 254.1 L103.7 254.2 L105.2 254.5 L106.6 255.1ZM105.4 257.2 L106.5 258.0 L107.4 259.0 L108.1 260.3 L108.7 261.7 L109.0 263.3 L109.2 265.0 L109.1 266.8 L108.9 268.7 L108.4 270.7 L107.8 272.6 L107.0 274.6 L106.0 276.5 L104.8 278.3 L103.6 280.0 L102.2 281.5 L100.7 282.9 L99.2 284.0 L97.6 285.0 L96.1 285.7 L94.5 286.2 L93.0 286.4 L91.6 286.4 L90.2 286.1 L89.0 285.6 L88.0 284.8 L87.0 283.8 L86.3 282.5 L85.7 281.1 L85.4 279.5 L85.2 277.8 L85.3 276.0 L85.5 274.1 L86.0 272.1 L86.6 270.2 L87.4 268.2 L88.4 266.3 L89.6 264.5 L90.8 262.8 L92.2 261.3 L93.7 259.9 L95.2 258.8 L96.8 257.8 L98.3 257.1 L99.9 256.6 L101.4 256.4 L102.8 256.4 L104.2 256.7 L105.4 257.2Z" fill="#555" stroke="#111" stroke-width="1.0" stroke-linejoin="round" fill-rule="evenodd"/>
<path d="M104.8 258.3 L105.8 259.0 L106.6 260.0 L107.3 261.1 L107.8 262.4 L108.1 263.9 L108.3 265.5 L108.3 267.1 L108.0 268.9 L107.6 270.7 L107.0 272.5 L106.2 274.3 L105.3 276.1 L104.3 277.8 L103.1 279.3 L101.8 280.7 L100.5 282.0 L99.0 283.1 L97.6 284.0 L96.1 284.6 L94.7 285.1 L93.3 285.3 L92.0 285.3 L90.8 285.0 L89.6 284.5 L88.6 283.8 L87.8 282.8 L87.1 281.7 L86.6 280.4 L86.3 278.9 L86.1 277.3 L86.2 275.7 L86.4 273.9 L86.8 272.1 L87.4 270.3 L88.2 268.5 L89.1 266.7 L90.1 265.0 L91.3 263.5 L92.6 262.1 L94.0 260.8 L95.4 259.7 L96.8 258.8 L98.3 258.2 L99.7 257.7 L101.1 257.5 L102.4 257.5 L103.6 257.8 L104.8 258.3Z" fill="none" stroke="#111" stroke-width="0.8" stroke-linejoin="round" />
<path d="M104.5 265.9 L104.7 266.8 L104.7 267.8 L104.6 268.8 L104.5 269.9 L104.2 271.0 L103.9 272.1 L103.4 273.1 L102.9 274.2 L102.3 275.2 L101.6 276.2 L100.9 277.1 L100.1 277.9 L99.3 278.7 L98.4 279.3 L97.6 279.9 L96.7 280.3 L95.8 280.6 L95.0 280.7 L94.2 280.8 L93.4 280.7 L92.7 280.5 L92.0 280.2 L91.4 279.7 L90.9 279.2 L90.5 278.5 L90.1 277.8 L89.9 276.9 L89.7 276.0 L89.7 275.0 L89.8 274.0 L89.9 272.9 L90.2 271.8 L90.5 270.7 L91.0 269.7 L91.5 268.6 L92.1 267.6 L92.8 266.6 L93.5 265.7 L94.3 264.9 L95.1 264.1 L96.0 263.5 L96.8 263.0 L97.7 262.5 L98.6 262.2 L99.4 262.1 L100.2 262.0 L101.0 262.1 L101.7 262.3" fill="none" stroke="#111" stroke-width="1.6" stroke-linejoin="round" />
<path d="M138.3 271.1 L139.7 272.1 L140.8 273.4 L141.7 274.9 L142.4 276.7 L142.9 278.6 L143.1 280.8 L143.0 283.1 L142.7 285.5 L142.2 287.9 L141.4 290.4 L140.3 292.8 L139.1 295.2 L137.7 297.4 L136.1 299.5 L134.3 301.4 L132.5 303.1 L130.6 304.6 L128.7 305.8 L126.7 306.7 L124.8 307.3 L122.9 307.6 L121.1 307.5 L119.4 307.2 L117.9 306.5 L116.6 305.5 L115.4 304.3 L114.5 302.7 L113.8 301.0 L113.4 299.0 L113.2 296.8 L113.2 294.6 L113.5 292.2 L114.1 289.7 L114.9 287.3 L115.9 284.9 L117.2 282.5 L118.6 280.2 L120.2 278.1 L121.9 276.2 L123.7 274.5 L125.6 273.0 L127.6 271.8 L129.5 270.9 L131.5 270.3 L133.4 270.1 L135.1 270.1 L136.8 270.5 L138.3 271.1Z" fill="none" stroke="#111" stroke-width="1.4" stroke-linejoin="round" />
<path d="M137.5 272.6 L138.8 273.5 L139.8 274.6 L140.7 276.0 L141.3 277.6 L141.7 279.5 L141.9 281.4 L141.8 283.5 L141.6 285.7 L141.0 288.0 L140.3 290.2 L139.3 292.5 L138.2 294.6 L136.9 296.7 L135.4 298.7 L133.8 300.4 L132.2 302.0 L130.4 303.3 L128.6 304.4 L126.8 305.3 L125.0 305.8 L123.3 306.1 L121.7 306.0 L120.1 305.7 L118.7 305.1 L117.5 304.2 L116.4 303.0 L115.6 301.6 L114.9 300.0 L114.5 298.2 L114.4 296.2 L114.4 294.1 L114.7 291.9 L115.2 289.7 L116.0 287.4 L116.9 285.2 L118.0 283.0 L119.4 280.9 L120.8 279.0 L122.4 277.2 L124.1 275.6 L125.8 274.3 L127.6 273.2 L129.4 272.4 L131.2 271.8 L132.9 271.6 L134.6 271.6 L136.1 271.9 L137.5 272.6Z" fill="none" stroke="#111" stroke-width="1.1199999999999999" stroke-linejoin="round" />
<path d="M167.1 287.8 L168.5 288.8 L169.7 290.1 L170.6 291.7 L171.3 293.5 L171.8 295.5 L172.0 297.7 L171.9 300.0 L171.6 302.4 L171.0 304.9 L170.2 307.4 L169.2 309.9 L167.9 312.3 L166.5 314.6 L164.8 316.8 L163.1 318.7 L161.2 320.5 L159.3 321.9 L157.3 323.2 L155.3 324.1 L153.3 324.7 L151.4 325.0 L149.6 324.9 L147.9 324.6 L146.3 323.9 L145.0 322.9 L143.8 321.6 L142.8 320.0 L142.1 318.2 L141.7 316.2 L141.5 314.0 L141.5 311.7 L141.9 309.3 L142.4 306.8 L143.2 304.3 L144.3 301.8 L145.6 299.4 L147.0 297.1 L148.6 295.0 L150.4 293.0 L152.3 291.3 L154.2 289.8 L156.2 288.6 L158.2 287.6 L160.2 287.0 L162.1 286.7 L163.9 286.8 L165.6 287.1 L167.1 287.8Z" fill="none" stroke="#111" stroke-width="1.4" stroke-linejoin="round" />
<path d="M166.3 289.3 L167.6 290.2 L168.6 291.4 L169.5 292.8 L170.2 294.5 L170.6 296.3 L170.8 298.3 L170.7 300.5 L170.4 302.7 L169.9 305.0 L169.1 307.3 L168.2 309.6 L167.0 311.8 L165.7 313.9 L164.2 315.9 L162.6 317.7 L160.8 319.3 L159.1 320.7 L157.2 321.8 L155.4 322.6 L153.6 323.2 L151.8 323.4 L150.1 323.4 L148.6 323.1 L147.2 322.4 L145.9 321.5 L144.8 320.3 L144.0 318.9 L143.3 317.2 L142.9 315.4 L142.7 313.4 L142.7 311.2 L143.0 309.0 L143.6 306.7 L144.3 304.4 L145.3 302.1 L146.5 299.9 L147.8 297.8 L149.3 295.8 L150.9 294.0 L152.6 292.4 L154.4 291.1 L156.2 289.9 L158.1 289.1 L159.9 288.5 L161.6 288.3 L163.3 288.3 L164.9 288.6 L166.3 289.3Z" fill="none" stroke="#111" stroke-width="1.1199999999999999" stroke-linejoin="round" />
<path d="M186.7 309.9 L186.2 309.7 L185.7 309.5 L185.1 309.4 L184.5 309.4 L183.9 309.4 L183.3 309.5 L182.6 309.7 L181.9 310.0 L181.3 310.3 L180.6 310.7 L180.0 311.1 L179.3 311.6 L178.7 312.2 L178.1 312.8 L177.5 313.5 L177.0 314.2 L176.4 314.9 L176.0 315.7 L175.5 316.5 L175.1 317.3 L174.8 318.1 L174.5 319.0 L174.3 319.8 L174.1 320.6 L174.0 321.5 L173.9 322.2 L173.9 323.0 L174.0 323.8 L174.1 324.5 L174.3 325.1 L174.5 325.7 L174.8 326.3 L175.1 326.8 L175.5 327.2 L175.9 327.6 L176.3 327.9 L191.1 336.4 L191.6 336.7 L192.1 336.9 L192.7 337.0 L193.3 337.0 L193.9 336.9 L194.6 336.8 L195.2 336.6 L195.9 336.4 L196.5 336.1 L197.2 335.7 L197.9 335.2 L198.5 334.7 L199.1 334.2 L199.7 333.5 L200.3 332.9 L200.9 332.2 L201.4 331.4 L201.8 330.6 L202.3 329.9 L202.7 329.0 L203.0 328.2 L203.3 327.4 L203.5 326.5 L203.7 325.7 L203.8 324.9 L203.9 324.1 L203.9 323.3 L203.8 322.6 L203.7 321.9 L203.6 321.2 L203.3 320.6 L203.1 320.1 L202.7 319.6 L202.4 319.1 L201.9 318.7 L201.5 318.4Z" fill="#fff" stroke="#111" stroke-width="1.2" stroke-linejoin="round" />
<path d="M202.0 317.5 L202.8 318.0 L203.4 318.7 L203.9 319.6 L204.3 320.6 L204.6 321.7 L204.7 322.9 L204.7 324.2 L204.5 325.5 L204.2 326.9 L203.7 328.3 L203.1 329.7 L202.4 331.0 L201.6 332.3 L200.7 333.4 L199.8 334.5 L198.7 335.5 L197.7 336.3 L196.6 337.0 L195.5 337.5 L194.4 337.8 L193.3 338.0 L192.3 338.0 L191.4 337.8 L190.5 337.4 L189.8 336.8 L189.1 336.1 L188.6 335.3 L188.2 334.3 L188.0 333.2 L187.8 331.9 L187.9 330.7 L188.0 329.3 L188.4 327.9 L188.8 326.6 L189.4 325.2 L190.1 323.9 L190.9 322.6 L191.8 321.4 L192.8 320.3 L193.8 319.4 L194.9 318.5 L196.0 317.9 L197.1 317.4 L198.2 317.0 L199.2 316.9 L200.2 316.9 L201.2 317.1 L202.0 317.5Z" fill="#fff" stroke="#111" stroke-width="1.2" stroke-linejoin="round" />
<path d="M200.9 319.5 L201.5 319.9 L202.0 320.5 L202.4 321.2 L202.7 322.0 L202.9 322.8 L203.0 323.8 L203.0 324.8 L202.8 325.9 L202.6 327.0 L202.2 328.1 L201.8 329.2 L201.2 330.3 L200.6 331.3 L199.8 332.2 L199.1 333.1 L198.2 333.9 L197.4 334.5 L196.5 335.1 L195.6 335.5 L194.8 335.7 L193.9 335.9 L193.1 335.9 L192.4 335.7 L191.7 335.4 L191.1 335.0 L190.5 334.4 L190.1 333.7 L189.8 332.9 L189.6 332.0 L189.5 331.0 L189.6 330.0 L189.7 328.9 L189.9 327.8 L190.3 326.7 L190.8 325.6 L191.3 324.6 L192.0 323.6 L192.7 322.6 L193.5 321.7 L194.3 321.0 L195.1 320.3 L196.0 319.8 L196.9 319.4 L197.8 319.1 L198.6 319.0 L199.4 319.0 L200.2 319.2 L200.9 319.5Z" fill="none" stroke="#111" stroke-width="1.0" stroke-linejoin="round" />
<path d="M191.8 313.5 L191.8 313.6 L191.9 313.7 L192.0 313.8 L192.1 313.9 L192.1 314.1 L192.1 314.2 L192.1 314.4 L192.1 314.6 L192.0 314.7 L192.0 314.9 L191.9 315.1 L191.8 315.3 L191.7 315.4 L191.6 315.6 L191.5 315.7 L191.3 315.9 L191.2 316.0 L191.0 316.0 L190.9 316.1 L190.8 316.2 L190.6 316.2 L190.5 316.2 L190.4 316.1 L190.2 316.1 L190.2 316.0 L190.1 315.9 L190.0 315.8 L189.9 315.7 L189.9 315.5 L189.9 315.4 L189.9 315.2 L189.9 315.0 L190.0 314.9 L190.0 314.7 L190.1 314.5 L190.2 314.3 L190.3 314.2 L190.4 314.0 L190.5 313.9 L190.7 313.7 L190.8 313.6 L191.0 313.6 L191.1 313.5 L191.2 313.4 L191.4 313.4 L191.5 313.4 L191.6 313.5 L191.8 313.5Z" fill="#222" stroke="#111" stroke-width="1.0" stroke-linejoin="round" />
<path d="M230.9 323.4 L233.1 320.7 L233.6 321.1 L232.1 324.2 L232.6 324.6 L234.9 322.2 L235.4 322.7 L233.6 325.7 L234.0 326.2 L236.4 324.2 L236.8 324.8 L234.7 327.6 L235.0 328.2 L237.5 326.6 L237.8 327.3 L235.5 329.8 L235.7 330.6 L238.3 329.3 L238.4 330.2 L236.0 332.3 L236.1 333.1 L238.6 332.3 L238.6 333.3 L236.1 335.1 L236.1 335.9 L238.5 335.6 L238.4 336.6 L235.8 338.0 L235.7 338.9 L238.0 339.0 L237.8 340.1 L235.2 341.0 L235.0 341.9 L237.1 342.5 L236.7 343.6 L234.3 344.0 L233.9 344.9 L235.8 346.0 L235.3 347.1 L233.0 347.0 L232.6 347.9 L234.1 349.4 L233.6 350.4 L231.4 350.0 L230.9 350.8 L232.2 352.7 L231.5 353.6 L229.6 352.7 L229.0 353.5 L229.9 355.7 L229.2 356.6 L227.6 355.2 L226.9 355.9 L227.5 358.5 L226.7 359.2 L225.3 357.4 L224.6 358.0 L224.8 360.9 L224.0 361.5 L223.0 359.3 L222.3 359.8 L222.1 362.9 L221.3 363.4 L220.6 360.9 L219.9 361.2 L219.3 364.4 L218.5 364.7 L218.2 362.0 L217.4 362.2 L216.5 365.4 L215.7 365.6 L215.8 362.6 L215.1 362.8 L213.8 365.9 L213.0 366.0 L213.5 362.9 L212.8 362.9 L211.2 365.9 L210.5 365.8 L211.3 362.6 L210.7 362.5 L208.9 365.4 L208.2 365.2 L209.4 362.0 L208.8 361.7 L206.7 364.4 L206.1 364.0 L207.6 360.9 L207.2 360.4 L204.9 362.9 L204.4 362.3 L206.2 359.3 L205.8 358.8 L203.4 360.9 L203.0 360.2 L205.0 357.4 L204.8 356.8 L202.2 358.5 L202.0 357.7 L204.2 355.2 L204.1 354.5 L201.5 355.8 L201.4 354.9 L203.8 352.7 L203.7 351.9 L201.2 352.7 L201.2 351.8 L203.7 350.0 L203.7 349.1 L201.3 349.5 L201.4 348.4 L203.9 347.1 L204.1 346.2 L201.8 346.0 L202.0 345.0 L204.5 344.1 L204.8 343.1 L202.7 342.5 L203.0 341.5 L205.5 341.0 L205.8 340.1 L204.0 339.0 L204.4 338.0 L206.8 338.0 L207.2 337.1 L205.6 335.6 L206.2 334.6 L208.3 335.1 L208.9 334.3 L207.6 332.3 L208.2 331.4 L210.2 332.4 L210.8 331.6 L209.8 329.3 L210.6 328.4 L212.2 329.8 L212.9 329.1 L212.3 326.6 L213.1 325.8 L214.4 327.6 L215.1 327.0 L214.9 324.2 L215.8 323.5 L216.8 325.7 L217.5 325.2 L217.7 322.2 L218.5 321.7 L219.2 324.2 L219.9 323.8 L220.5 320.7 L221.3 320.3 L221.6 323.1 L222.3 322.8 L223.3 319.6 L224.1 319.4 L224.0 322.4 L224.7 322.3 L226.0 319.1 L226.8 319.1 L226.3 322.2 L227.0 322.2 L228.5 319.1 L229.3 319.2 L228.4 322.4 L229.1 322.6 L230.9 319.6 L231.6 319.9 L230.4 323.1Z" fill="#fff" stroke="#111" stroke-width="1.1" stroke-linejoin="round" />
<path d="M231.8 321.9 L230.6 321.3 L229.4 320.9 L228.1 320.7 L226.7 320.6 L225.3 320.7 L223.8 321.0 L222.3 321.4 L220.8 322.0 L219.3 322.7 L217.7 323.6 L216.2 324.6 L214.8 325.8 L213.3 327.1 L211.9 328.5 L210.6 330.1 L209.4 331.7 L208.2 333.4 L207.1 335.1 L206.1 337.0 L205.2 338.8 L204.4 340.7 L203.8 342.6 L203.3 344.6 L202.9 346.4 L202.6 348.3 L202.4 350.1 L202.4 351.9 L202.5 353.6 L202.8 355.2 L203.2 356.7 L203.7 358.1 L204.3 359.4 L205.1 360.5 L205.9 361.6 L206.9 362.4 L208.0 363.2 L218.4 369.2 L219.5 369.7 L220.8 370.1 L222.1 370.4 L223.5 370.4 L224.9 370.3 L226.4 370.1 L227.9 369.7 L229.4 369.1 L230.9 368.3 L232.4 367.4 L233.9 366.4 L235.4 365.2 L236.8 363.9 L238.2 362.5 L239.5 361.0 L240.8 359.4 L242.0 357.7 L243.1 355.9 L244.1 354.1 L244.9 352.2 L245.7 350.3 L246.4 348.4 L246.9 346.5 L247.3 344.6 L247.6 342.7 L247.7 340.9 L247.7 339.2 L247.6 337.5 L247.4 335.9 L247.0 334.4 L246.5 332.9 L245.8 331.7 L245.1 330.5 L244.2 329.5 L243.3 328.6 L242.2 327.9Z" fill="#fff" stroke="#111" stroke-width="1.1" stroke-linejoin="round" />
<path d="M214.6 365.2L203.0 356.0M214.0 363.8L202.6 354.4M213.5 362.3L202.5 352.7M213.1 360.8L202.4 350.9M212.9 359.1L202.5 349.0M212.8 357.3L202.7 347.1M212.9 355.5L203.1 345.2M213.1 353.6L203.6 343.2M213.4 351.6L204.3 341.2M213.9 349.7L205.0 339.3M214.5 347.7L205.9 337.3M215.2 345.7L206.9 335.5M216.1 343.8L208.0 333.6M217.1 341.9L209.2 331.9M218.2 340.0L210.5 330.2M219.3 338.2L211.9 328.6M220.6 336.5L213.3 327.1M222.0 334.9L214.8 325.8M223.4 333.4L216.3 324.6M224.8 332.1L217.9 323.5M226.4 330.8L219.4 322.6M227.9 329.8L221.0 321.9M229.5 328.8L222.6 321.3M231.1 328.0L224.1 320.9M232.6 327.4L225.6 320.7M234.2 327.0L227.1 320.6M235.7 326.7L228.5 320.7M237.2 326.6L229.8 321.0M238.6 326.7L231.1 321.5M239.9 327.0L232.2 322.2" fill="none" stroke="#111" stroke-width="1.0" stroke-linejoin="round" />
<path d="M241.3 329.4 L243.4 326.7 L244.0 327.1 L242.5 330.2 L243.0 330.6 L245.3 328.2 L245.8 328.7 L244.0 331.7 L244.3 332.2 L246.8 330.2 L247.2 330.8 L245.1 333.6 L245.4 334.2 L247.9 332.6 L248.2 333.3 L245.9 335.8 L246.1 336.6 L248.7 335.3 L248.8 336.2 L246.4 338.3 L246.5 339.1 L249.0 338.3 L249.0 339.3 L246.5 341.1 L246.5 341.9 L248.9 341.6 L248.8 342.6 L246.2 344.0 L246.1 344.9 L248.4 345.0 L248.2 346.1 L245.6 347.0 L245.4 347.9 L247.5 348.5 L247.1 349.6 L244.7 350.0 L244.3 350.9 L246.2 352.0 L245.7 353.1 L243.4 353.0 L242.9 353.9 L244.5 355.4 L244.0 356.4 L241.8 356.0 L241.3 356.8 L242.6 358.7 L241.9 359.6 L240.0 358.7 L239.4 359.5 L240.3 361.7 L239.6 362.6 L237.9 361.2 L237.3 361.9 L237.9 364.5 L237.1 365.2 L235.7 363.4 L235.0 364.0 L235.2 366.9 L234.4 367.5 L233.4 365.3 L232.7 365.8 L232.5 368.9 L231.6 369.4 L231.0 366.9 L230.2 367.2 L229.7 370.4 L228.8 370.7 L228.6 368.0 L227.8 368.2 L226.9 371.4 L226.1 371.6 L226.2 368.6 L225.5 368.8 L224.2 371.9 L223.4 372.0 L223.9 368.9 L223.2 368.9 L221.6 371.9 L220.9 371.8 L221.7 368.6 L221.1 368.5 L219.2 371.4 L218.6 371.2 L219.8 368.0 L219.2 367.7 L217.1 370.4 L216.5 370.0 L218.0 366.9 L217.6 366.4 L215.3 368.9 L214.8 368.3 L216.6 365.3 L216.2 364.8 L213.8 366.9 L213.4 366.2 L215.4 363.4 L215.2 362.8 L212.6 364.5 L212.4 363.7 L214.6 361.2 L214.4 360.5 L211.9 361.8 L211.8 360.9 L214.2 358.7 L214.1 357.9 L211.6 358.7 L211.6 357.8 L214.1 356.0 L214.1 355.1 L211.7 355.5 L211.8 354.4 L214.3 353.1 L214.5 352.2 L212.2 352.0 L212.4 351.0 L214.9 350.1 L215.2 349.1 L213.1 348.5 L213.4 347.5 L215.9 347.0 L216.2 346.1 L214.4 345.0 L214.8 344.0 L217.2 344.0 L217.6 343.1 L216.0 341.6 L216.6 340.6 L218.7 341.1 L219.3 340.3 L218.0 338.3 L218.6 337.4 L220.6 338.4 L221.2 337.6 L220.2 335.3 L220.9 334.4 L222.6 335.8 L223.3 335.1 L222.7 332.6 L223.5 331.8 L224.8 333.6 L225.5 333.0 L225.3 330.2 L226.1 329.5 L227.2 331.7 L227.9 331.2 L228.1 328.2 L228.9 327.7 L229.6 330.2 L230.3 329.8 L230.9 326.7 L231.7 326.3 L232.0 329.1 L232.7 328.8 L233.7 325.6 L234.5 325.4 L234.4 328.4 L235.1 328.3 L236.4 325.1 L237.1 325.1 L236.7 328.2 L237.3 328.2 L238.9 325.1 L239.7 325.2 L238.8 328.4 L239.4 328.6 L241.3 325.6 L242.0 325.9 L240.8 329.1Z" fill="#fff" stroke="#111" stroke-width="1.1" stroke-linejoin="round" />
<path d="M241.5 332.1 L242.5 330.9 L242.9 331.1 L242.3 332.6 L242.6 332.9 L243.7 331.7 L244.0 332.0 L243.3 333.5 L243.6 333.8 L244.7 332.8 L245.0 333.2 L244.1 334.6 L244.4 335.0 L245.6 334.1 L245.8 334.5 L244.9 335.9 L245.1 336.3 L246.3 335.5 L246.4 336.0 L245.4 337.3 L245.6 337.7 L246.8 337.1 L246.9 337.6 L245.8 338.8 L245.9 339.3 L247.1 338.9 L247.2 339.4 L246.1 340.5 L246.1 341.0 L247.3 340.7 L247.3 341.3 L246.1 342.3 L246.1 342.8 L247.3 342.7 L247.2 343.3 L246.0 344.2 L246.0 344.7 L247.1 344.8 L247.0 345.4 L245.7 346.1 L245.6 346.7 L246.7 346.9 L246.5 347.5 L245.3 348.0 L245.1 348.6 L246.1 349.0 L245.9 349.6 L244.7 350.0 L244.5 350.6 L245.4 351.1 L245.1 351.8 L243.9 352.0 L243.7 352.6 L244.5 353.2 L244.2 353.9 L243.0 353.9 L242.7 354.5 L243.4 355.3 L243.1 355.9 L242.0 355.8 L241.7 356.3 L242.2 357.3 L241.9 357.9 L240.9 357.6 L240.5 358.1 L240.9 359.2 L240.5 359.8 L239.6 359.3 L239.2 359.8 L239.5 361.0 L239.1 361.5 L238.2 360.9 L237.8 361.3 L238.0 362.6 L237.5 363.1 L236.8 362.3 L236.3 362.8 L236.4 364.1 L235.9 364.5 L235.3 363.6 L234.8 364.0 L234.8 365.4 L234.3 365.8 L233.7 364.8 L233.3 365.1 L233.1 366.6 L232.6 366.9 L232.2 365.7 L231.7 366.0 L231.4 367.5 L230.9 367.7 L230.6 366.5 L230.1 366.7 L229.7 368.2 L229.2 368.4 L229.0 367.0 L228.6 367.2 L228.0 368.7 L227.5 368.8 L227.5 367.4 L227.0 367.4 L226.4 368.9 L225.9 369.0 L226.0 367.5 L225.6 367.5 L224.8 369.0 L224.3 368.9 L224.6 367.4 L224.2 367.4 L223.3 368.8 L222.9 368.7 L223.3 367.1 L222.9 367.0 L221.9 368.3 L221.5 368.2 L222.0 366.6 L221.7 366.5 L220.6 367.7 L220.2 367.5 L220.9 365.9 L220.6 365.7 L219.5 366.8 L219.1 366.5 L219.9 365.0 L219.6 364.7 L218.4 365.7 L218.2 365.4 L219.0 364.0 L218.8 363.6 L217.6 364.5 L217.4 364.1 L218.3 362.7 L218.1 362.3 L216.9 363.0 L216.7 362.6 L217.7 361.3 L217.6 360.8 L216.4 361.4 L216.2 360.9 L217.3 359.7 L217.2 359.2 L216.0 359.7 L216.0 359.1 L217.1 358.0 L217.0 357.5 L215.9 357.8 L215.8 357.2 L217.0 356.3 L217.0 355.7 L215.9 355.8 L215.9 355.2 L217.1 354.4 L217.2 353.8 L216.1 353.8 L216.2 353.2 L217.4 352.5 L217.5 351.9 L216.5 351.7 L216.6 351.0 L217.8 350.5 L218.0 349.9 L217.0 349.5 L217.2 348.9 L218.4 348.5 L218.7 347.9 L217.8 347.4 L218.0 346.8 L219.2 346.6 L219.5 346.0 L218.7 345.3 L219.0 344.7 L220.1 344.6 L220.4 344.1 L219.7 343.2 L220.1 342.6 L221.1 342.8 L221.5 342.2 L220.9 341.2 L221.3 340.7 L222.3 340.9 L222.7 340.4 L222.2 339.3 L222.6 338.8 L223.6 339.2 L224.0 338.8 L223.6 337.6 L224.1 337.0 L224.9 337.7 L225.4 337.2 L225.2 335.9 L225.6 335.4 L226.4 336.2 L226.8 335.8 L226.8 334.4 L227.2 334.0 L227.9 334.9 L228.3 334.5 L228.4 333.1 L228.9 332.7 L229.4 333.8 L229.9 333.5 L230.1 332.0 L230.6 331.7 L231.0 332.8 L231.5 332.6 L231.8 331.1 L232.3 330.8 L232.6 332.1 L233.0 331.9 L233.5 330.3 L234.0 330.2 L234.1 331.5 L234.6 331.4 L235.2 329.9 L235.7 329.8 L235.7 331.2 L236.1 331.1 L236.8 329.6 L237.3 329.6 L237.1 331.0 L237.6 331.0 L238.4 329.6 L238.8 329.6 L238.6 331.1 L239.0 331.2 L239.9 329.8 L240.3 329.9 L239.9 331.4 L240.3 331.5 L241.3 330.2 L241.7 330.4 L241.1 331.9Z" fill="#fff" stroke="#111" stroke-width="1.0" stroke-linejoin="round" />
<path d="M240.8 333.4 L242.0 334.2 L243.0 335.4 L243.8 336.8 L244.5 338.3 L244.9 340.1 L245.0 342.1 L245.0 344.1 L244.7 346.3 L244.2 348.4 L243.5 350.7 L242.6 352.8 L241.4 355.0 L240.2 357.0 L238.7 358.9 L237.2 360.6 L235.5 362.2 L233.8 363.5 L232.1 364.6 L230.3 365.4 L228.6 365.9 L226.9 366.2 L225.3 366.1 L223.8 365.8 L222.4 365.2 L221.2 364.3 L220.1 363.2 L219.3 361.8 L218.7 360.2 L218.3 358.4 L218.1 356.5 L218.2 354.4 L218.4 352.3 L218.9 350.1 L219.7 347.9 L220.6 345.7 L221.7 343.6 L223.0 341.6 L224.4 339.7 L226.0 337.9 L227.6 336.4 L229.3 335.1 L231.1 334.0 L232.9 333.2 L234.6 332.6 L236.3 332.4 L237.9 332.4 L239.4 332.8 L240.8 333.4Z" fill="none" stroke="#111" stroke-width="1.0" stroke-linejoin="round" />
<path d="M240.0 334.7 L241.1 335.5 L242.1 336.5 L242.8 337.8 L243.4 339.3 L243.8 340.9 L243.9 342.7 L243.9 344.5 L243.6 346.5 L243.2 348.5 L242.5 350.5 L241.6 352.5 L240.6 354.5 L239.4 356.4 L238.1 358.1 L236.7 359.7 L235.2 361.1 L233.6 362.3 L232.0 363.3 L230.4 364.0 L228.8 364.5 L227.3 364.8 L225.8 364.7 L224.4 364.4 L223.2 363.9 L222.0 363.1 L221.1 362.0 L220.3 360.8 L219.8 359.3 L219.4 357.7 L219.2 355.9 L219.3 354.0 L219.5 352.0 L220.0 350.0 L220.7 348.0 L221.5 346.0 L222.5 344.1 L223.7 342.2 L225.0 340.5 L226.4 338.9 L228.0 337.5 L229.5 336.3 L231.1 335.3 L232.8 334.5 L234.3 334.0 L235.9 333.8 L237.4 333.8 L238.7 334.1 L240.0 334.7Z" fill="none" stroke="#111" stroke-width="1.2" stroke-linejoin="round" />
<path d="M238.0 338.2 L238.8 338.8 L239.5 339.6 L240.1 340.6 L240.5 341.7 L240.8 342.9 L240.9 344.3 L240.9 345.7 L240.7 347.2 L240.3 348.7 L239.8 350.2 L239.2 351.8 L238.4 353.2 L237.5 354.6 L236.5 356.0 L235.5 357.2 L234.3 358.2 L233.1 359.1 L231.9 359.9 L230.7 360.5 L229.5 360.8 L228.3 361.0 L227.2 361.0 L226.1 360.7 L225.2 360.3 L224.4 359.7 L223.6 358.9 L223.1 358.0 L222.6 356.9 L222.3 355.6 L222.2 354.3 L222.3 352.9 L222.5 351.4 L222.8 349.8 L223.3 348.3 L224.0 346.8 L224.7 345.3 L225.6 343.9 L226.6 342.6 L227.7 341.4 L228.8 340.3 L230.0 339.4 L231.2 338.7 L232.5 338.1 L233.7 337.7 L234.8 337.6 L236.0 337.6 L237.0 337.8 L238.0 338.2Z" fill="none" stroke="#111" stroke-width="1.4" stroke-linejoin="round" />
<path d="M237.3 339.3 L238.1 339.9 L238.7 340.6 L239.2 341.4 L239.6 342.4 L239.9 343.6 L240.0 344.8 L240.0 346.0 L239.8 347.4 L239.5 348.8 L239.0 350.1 L238.4 351.5 L237.7 352.8 L236.9 354.1 L236.0 355.3 L235.1 356.4 L234.0 357.3 L233.0 358.2 L231.9 358.8 L230.8 359.3 L229.7 359.7 L228.6 359.8 L227.6 359.8 L226.7 359.6 L225.8 359.2 L225.1 358.7 L224.4 358.0 L223.9 357.1 L223.5 356.1 L223.3 355.0 L223.2 353.8 L223.2 352.5 L223.4 351.2 L223.7 349.8 L224.1 348.4 L224.7 347.0 L225.4 345.7 L226.2 344.4 L227.1 343.3 L228.1 342.2 L229.1 341.2 L230.2 340.4 L231.3 339.7 L232.4 339.2 L233.5 338.9 L234.5 338.7 L235.5 338.7 L236.5 338.9 L237.3 339.3Z" fill="none" stroke="#111" stroke-width="1.0" stroke-linejoin="round" />
<path d="M277.5 349.0 L279.2 346.8 L279.7 347.2 L278.6 349.7 L279.0 350.0 L280.8 348.1 L281.2 348.5 L279.8 350.9 L280.2 351.3 L282.1 349.6 L282.5 350.1 L280.9 352.4 L281.2 352.9 L283.2 351.4 L283.5 352.0 L281.8 354.2 L282.0 354.8 L284.0 353.5 L284.2 354.2 L282.4 356.2 L282.5 356.8 L284.5 355.9 L284.6 356.6 L282.7 358.4 L282.8 359.0 L284.8 358.4 L284.8 359.2 L282.8 360.7 L282.8 361.4 L284.7 361.1 L284.6 362.0 L282.6 363.2 L282.5 363.9 L284.4 364.0 L284.2 364.8 L282.2 365.7 L282.0 366.5 L283.8 366.9 L283.5 367.7 L281.5 368.3 L281.3 369.1 L282.9 369.8 L282.5 370.6 L280.6 370.9 L280.3 371.7 L281.7 372.7 L281.3 373.5 L279.4 373.5 L279.0 374.2 L280.3 375.5 L279.8 376.3 L278.1 376.0 L277.6 376.7 L278.7 378.2 L278.1 379.0 L276.5 378.3 L276.0 379.0 L276.8 380.8 L276.2 381.5 L274.8 380.6 L274.3 381.2 L274.8 383.2 L274.2 383.8 L273.0 382.6 L272.4 383.1 L272.7 385.3 L272.1 385.9 L271.0 384.4 L270.4 384.9 L270.5 387.2 L269.8 387.7 L269.0 385.9 L268.4 386.3 L268.2 388.8 L267.5 389.2 L266.9 387.2 L266.3 387.5 L265.9 390.0 L265.2 390.3 L264.9 388.2 L264.3 388.4 L263.5 390.9 L262.9 391.2 L262.8 388.8 L262.2 389.0 L261.3 391.5 L260.6 391.6 L260.8 389.2 L260.2 389.2 L259.1 391.7 L258.4 391.7 L258.9 389.2 L258.3 389.2 L257.0 391.6 L256.4 391.4 L257.1 388.9 L256.6 388.8 L255.1 391.0 L254.5 390.8 L255.4 388.3 L255.0 388.0 L253.3 390.2 L252.8 389.8 L254.0 387.3 L253.6 387.0 L251.7 388.9 L251.3 388.5 L252.7 386.1 L252.3 385.7 L250.4 387.4 L250.1 386.9 L251.6 384.6 L251.3 384.1 L249.3 385.6 L249.1 385.0 L250.7 382.8 L250.5 382.2 L248.5 383.4 L248.3 382.8 L250.1 380.8 L250.0 380.2 L248.0 381.1 L247.9 380.4 L249.8 378.6 L249.7 377.9 L247.7 378.6 L247.7 377.8 L249.7 376.3 L249.7 375.6 L247.8 375.9 L247.9 375.0 L249.9 373.8 L250.0 373.1 L248.1 373.0 L248.3 372.2 L250.3 371.3 L250.5 370.5 L248.8 370.1 L249.0 369.3 L251.0 368.7 L251.3 367.9 L249.7 367.2 L250.0 366.4 L251.9 366.1 L252.2 365.3 L250.8 364.3 L251.2 363.5 L253.1 363.5 L253.5 362.7 L252.2 361.5 L252.7 360.7 L254.4 361.0 L254.9 360.3 L253.9 358.8 L254.4 358.0 L256.0 358.7 L256.5 358.0 L255.7 356.2 L256.3 355.5 L257.7 356.4 L258.2 355.8 L257.7 353.8 L258.3 353.2 L259.5 354.4 L260.1 353.9 L259.8 351.7 L260.5 351.1 L261.5 352.6 L262.1 352.1 L262.0 349.8 L262.7 349.3 L263.5 351.1 L264.1 350.7 L264.3 348.2 L265.0 347.8 L265.6 349.8 L266.2 349.5 L266.6 347.0 L267.3 346.7 L267.6 348.8 L268.3 348.6 L269.0 346.0 L269.7 345.8 L269.7 348.2 L270.3 348.0 L271.2 345.5 L271.9 345.4 L271.7 347.8 L272.3 347.8 L273.4 345.3 L274.1 345.3 L273.6 347.8 L274.2 347.8 L275.5 345.4 L276.1 345.6 L275.4 348.1 L275.9 348.2 L277.5 346.0 L278.0 346.2 L277.1 348.7Z" fill="#fff" stroke="#111" stroke-width="1.2" stroke-linejoin="round" />
<path d="M277.6 348.8 L279.1 349.9 L280.4 351.3 L281.4 353.0 L282.2 355.0 L282.7 357.2 L282.9 359.6 L282.9 362.1 L282.5 364.8 L281.9 367.5 L281.0 370.2 L279.8 372.9 L278.5 375.5 L276.9 378.1 L275.1 380.4 L273.2 382.5 L271.1 384.4 L269.0 386.1 L266.8 387.4 L264.7 388.4 L262.5 389.1 L260.4 389.4 L258.4 389.3 L256.6 388.9 L254.9 388.2 L253.4 387.1 L252.1 385.7 L251.1 384.0 L250.3 382.0 L249.8 379.8 L249.6 377.4 L249.7 374.9 L250.0 372.2 L250.6 369.5 L251.5 366.8 L252.7 364.1 L254.1 361.5 L255.6 358.9 L257.4 356.6 L259.3 354.5 L261.4 352.6 L263.5 350.9 L265.7 349.6 L267.8 348.6 L270.0 347.9 L272.1 347.6 L274.1 347.7 L275.9 348.1 L277.6 348.8Z" fill="none" stroke="#111" stroke-width="1.0" stroke-linejoin="round" />
<clipPath id="c6"><path d="M276.9 350.1 L278.3 351.1 L279.4 352.5 L280.4 354.0 L281.1 355.9 L281.6 357.9 L281.8 360.2 L281.7 362.5 L281.4 365.0 L280.8 367.5 L280.0 370.1 L278.9 372.6 L277.6 375.1 L276.2 377.4 L274.5 379.6 L272.7 381.6 L270.8 383.4 L268.8 384.9 L266.8 386.1 L264.8 387.1 L262.8 387.7 L260.8 388.0 L259.0 387.9 L257.2 387.6 L255.7 386.9 L254.3 385.9 L253.1 384.5 L252.1 383.0 L251.4 381.1 L250.9 379.1 L250.7 376.8 L250.8 374.5 L251.1 372.0 L251.7 369.5 L252.5 366.9 L253.6 364.4 L254.9 361.9 L256.3 359.6 L258.0 357.4 L259.8 355.4 L261.7 353.6 L263.7 352.1 L265.7 350.9 L267.7 349.9 L269.7 349.3 L271.7 349.0 L273.6 349.1 L275.3 349.4 L276.9 350.1Z"/></clipPath>
<path d="M276.9 350.1 L278.3 351.1 L279.4 352.5 L280.4 354.0 L281.1 355.9 L281.6 357.9 L281.8 360.2 L281.7 362.5 L281.4 365.0 L280.8 367.5 L280.0 370.1 L278.9 372.6 L277.6 375.1 L276.2 377.4 L274.5 379.6 L272.7 381.6 L270.8 383.4 L268.8 384.9 L266.8 386.1 L264.8 387.1 L262.8 387.7 L260.8 388.0 L259.0 387.9 L257.2 387.6 L255.7 386.9 L254.3 385.9 L253.1 384.5 L252.1 383.0 L251.4 381.1 L250.9 379.1 L250.7 376.8 L250.8 374.5 L251.1 372.0 L251.7 369.5 L252.5 366.9 L253.6 364.4 L254.9 361.9 L256.3 359.6 L258.0 357.4 L259.8 355.4 L261.7 353.6 L263.7 352.1 L265.7 350.9 L267.7 349.9 L269.7 349.3 L271.7 349.0 L273.6 349.1 L275.3 349.4 L276.9 350.1Z" fill="none" stroke="#111" stroke-width="1.2" stroke-linejoin="round" />
<g clip-path="url(#c6)">
<path d="M272.0 348.5 L273.4 349.5 L274.5 350.7 L275.4 352.2 L276.1 354.0 L276.5 355.9 L276.7 358.1 L276.7 360.3 L276.4 362.7 L275.8 365.1 L275.0 367.5 L274.0 369.9 L272.8 372.3 L271.4 374.5 L269.8 376.6 L268.1 378.5 L266.3 380.2 L264.4 381.6 L262.5 382.8 L260.5 383.7 L258.6 384.3 L256.7 384.6 L255.0 384.5 L253.3 384.2 L251.8 383.5 L250.5 382.5 L249.4 381.3 L248.4 379.8 L247.8 378.0 L247.3 376.1 L247.1 373.9 L247.2 371.7 L247.5 369.3 L248.0 366.9 L248.8 364.5 L249.9 362.1 L251.1 359.7 L252.5 357.5 L254.1 355.4 L255.8 353.5 L257.6 351.8 L259.5 350.4 L261.4 349.2 L263.3 348.3 L265.2 347.7 L267.1 347.4 L268.9 347.5 L270.5 347.8 L272.0 348.5Z" fill="none" stroke="#111" stroke-width="1.2" stroke-linejoin="round" />
<path d="M281.8 360.4L276.7 358.3M275.6 378.2L270.8 375.3M263.0 387.6L258.9 384.2" fill="none" stroke="#111" stroke-width="1.0" stroke-linejoin="round" />
</g>
<path d="M41.0 403.3 L40.3 402.9 L39.6 402.7 L38.7 402.5 L37.9 402.5 L37.0 402.5 L36.1 402.7 L35.2 403.0 L34.2 403.3 L33.3 403.8 L32.4 404.3 L31.4 405.0 L30.5 405.7 L29.6 406.5 L28.8 407.4 L28.0 408.3 L27.2 409.3 L26.5 410.3 L25.8 411.4 L25.2 412.6 L24.6 413.7 L24.2 414.9 L23.8 416.1 L23.4 417.2 L23.2 418.4 L23.0 419.5 L22.9 420.7 L22.9 421.8 L23.0 422.8 L23.2 423.8 L23.4 424.7 L23.7 425.6 L24.1 426.4 L24.6 427.1 L25.1 427.7 L25.7 428.3 L26.3 428.7 L28.1 429.7 L28.8 430.0 L29.6 430.3 L30.4 430.4 L31.2 430.5 L32.1 430.4 L33.0 430.3 L33.9 430.0 L34.9 429.6 L35.8 429.2 L36.7 428.6 L37.7 428.0 L38.6 427.3 L39.5 426.5 L40.3 425.6 L41.1 424.7 L41.9 423.7 L42.6 422.6 L43.3 421.5 L43.9 420.4 L44.5 419.3 L44.9 418.1 L45.3 416.9 L45.7 415.7 L45.9 414.6 L46.1 413.4 L46.2 412.3 L46.2 411.2 L46.1 410.2 L46.0 409.2 L45.7 408.2 L45.4 407.4 L45.0 406.6 L44.6 405.9 L44.0 405.2 L43.4 404.7 L42.8 404.3Z" fill="#fff" stroke="#111" stroke-width="1.6" stroke-linejoin="round" />
<path d="M43.3 403.3 L44.4 404.1 L45.2 405.0 L46.0 406.2 L46.5 407.6 L46.8 409.1 L47.0 410.8 L46.9 412.5 L46.7 414.4 L46.3 416.3 L45.6 418.2 L44.9 420.0 L43.9 421.9 L42.8 423.6 L41.6 425.2 L40.2 426.7 L38.8 428.1 L37.3 429.2 L35.8 430.1 L34.3 430.8 L32.8 431.3 L31.4 431.5 L30.0 431.5 L28.7 431.2 L27.5 430.7 L26.5 429.9 L25.6 428.9 L24.9 427.7 L24.3 426.4 L24.0 424.8 L23.8 423.2 L23.9 421.4 L24.1 419.6 L24.6 417.7 L25.2 415.8 L26.0 413.9 L26.9 412.1 L28.0 410.3 L29.3 408.7 L30.6 407.2 L32.0 405.9 L33.5 404.8 L35.0 403.9 L36.5 403.2 L38.0 402.7 L39.5 402.5 L40.9 402.5 L42.1 402.8 L43.3 403.3Z" fill="#fff" stroke="#111" stroke-width="1.6" stroke-linejoin="round" />
<path d="M42.1 405.4 L43.0 406.0 L43.8 406.8 L44.4 407.8 L44.8 409.0 L45.1 410.3 L45.3 411.7 L45.2 413.2 L45.0 414.8 L44.6 416.4 L44.1 418.0 L43.4 419.6 L42.6 421.1 L41.7 422.6 L40.6 424.0 L39.5 425.3 L38.3 426.4 L37.1 427.4 L35.8 428.1 L34.5 428.7 L33.2 429.1 L32.0 429.3 L30.8 429.3 L29.7 429.0 L28.7 428.6 L27.8 428.0 L27.1 427.1 L26.5 426.1 L26.0 425.0 L25.7 423.7 L25.6 422.3 L25.6 420.8 L25.8 419.2 L26.2 417.6 L26.7 416.0 L27.4 414.4 L28.2 412.8 L29.2 411.3 L30.2 410.0 L31.3 408.7 L32.5 407.6 L33.8 406.6 L35.1 405.8 L36.4 405.2 L37.6 404.8 L38.9 404.7 L40.0 404.7 L41.1 404.9 L42.1 405.4Z" fill="none" stroke="#111" stroke-width="0.8" stroke-linejoin="round" />
<path d="M34.1 413.8 L33.9 413.8 L33.7 413.7 L33.5 413.7 L33.3 413.6 L33.0 413.7 L32.8 413.7 L32.6 413.8 L32.3 413.9 L32.1 414.0 L31.9 414.1 L31.6 414.3 L31.4 414.5 L31.2 414.7 L31.0 414.9 L30.8 415.1 L30.6 415.4 L30.4 415.6 L30.2 415.9 L30.1 416.2 L29.9 416.5 L29.8 416.8 L29.7 417.1 L29.6 417.4 L29.6 417.7 L29.5 417.9 L29.5 418.2 L29.5 418.5 L29.5 418.8 L29.5 419.0 L29.6 419.3 L29.7 419.5 L29.8 419.7 L29.9 419.8 L30.0 420.0 L30.2 420.1 L30.4 420.3 L31.6 421.0 L31.8 421.1 L32.0 421.2 L32.2 421.2 L32.4 421.2 L32.7 421.2 L32.9 421.1 L33.1 421.1 L33.4 421.0 L33.6 420.9 L33.8 420.7 L34.1 420.6 L34.3 420.4 L34.5 420.2 L34.7 420.0 L34.9 419.7 L35.1 419.5 L35.3 419.2 L35.5 418.9 L35.6 418.7 L35.8 418.4 L35.9 418.1 L36.0 417.8 L36.1 417.5 L36.1 417.2 L36.2 416.9 L36.2 416.6 L36.2 416.3 L36.2 416.1 L36.2 415.8 L36.1 415.6 L36.0 415.4 L35.9 415.2 L35.8 415.0 L35.7 414.8 L35.5 414.7 L35.4 414.6Z" fill="#fff" stroke="#111" stroke-width="1.1" stroke-linejoin="round" />
<path d="M35.9 413.6 L36.2 413.9 L36.5 414.2 L36.7 414.5 L36.9 414.9 L37.0 415.4 L37.0 415.9 L37.0 416.4 L36.9 417.0 L36.8 417.6 L36.6 418.2 L36.4 418.7 L36.1 419.3 L35.7 419.8 L35.4 420.3 L35.0 420.8 L34.5 421.2 L34.1 421.5 L33.6 421.8 L33.2 422.0 L32.7 422.1 L32.3 422.2 L31.8 422.2 L31.5 422.1 L31.1 422.0 L30.8 421.7 L30.5 421.4 L30.3 421.1 L30.1 420.7 L30.0 420.2 L30.0 419.7 L30.0 419.2 L30.1 418.6 L30.2 418.0 L30.4 417.4 L30.6 416.9 L30.9 416.3 L31.3 415.8 L31.6 415.3 L32.0 414.8 L32.5 414.4 L32.9 414.1 L33.4 413.8 L33.8 413.6 L34.3 413.5 L34.7 413.4 L35.2 413.4 L35.5 413.5 L35.9 413.6Z" fill="#fff" stroke="#111" stroke-width="1.1" stroke-linejoin="round" />
<path d="M35.1 414.3 L35.0 414.2 L34.9 414.2 L34.8 414.2 L34.7 414.2 L34.6 414.2 L34.5 414.2 L34.3 414.2 L34.2 414.3 L34.1 414.3 L34.0 414.4 L33.9 414.5 L33.7 414.6 L33.6 414.7 L33.5 414.8 L33.4 414.9 L33.3 415.0 L33.2 415.2 L33.1 415.3 L33.0 415.5 L33.0 415.6 L32.9 415.8 L32.9 415.9 L32.8 416.1 L32.8 416.2 L32.8 416.4 L32.7 416.5 L32.7 416.6 L32.8 416.8 L32.8 416.9 L32.8 417.0 L32.8 417.1 L32.9 417.2 L33.0 417.3 L33.0 417.4 L33.1 417.5 L33.2 417.5 L44.4 424.0 L44.5 424.1 L44.6 424.1 L44.7 424.1 L44.9 424.1 L45.0 424.1 L45.1 424.1 L45.2 424.1 L45.3 424.0 L45.4 424.0 L45.6 423.9 L45.7 423.8 L45.8 423.7 L45.9 423.6 L46.0 423.5 L46.1 423.4 L46.2 423.3 L46.3 423.1 L46.4 423.0 L46.5 422.8 L46.6 422.7 L46.6 422.5 L46.7 422.4 L46.7 422.2 L46.8 422.1 L46.8 421.9 L46.8 421.8 L46.8 421.7 L46.8 421.5 L46.8 421.4 L46.7 421.3 L46.7 421.2 L46.6 421.1 L46.6 421.0 L46.5 420.9 L46.4 420.8 L46.4 420.8Z" fill="#fff" stroke="#111" stroke-width="1.2" stroke-linejoin="round" />
<path d="M46.9 419.8 L47.1 419.9 L47.3 420.1 L47.4 420.4 L47.5 420.6 L47.6 420.9 L47.6 421.2 L47.6 421.6 L47.5 421.9 L47.5 422.3 L47.3 422.6 L47.2 423.0 L47.0 423.3 L46.8 423.7 L46.6 424.0 L46.3 424.3 L46.0 424.5 L45.8 424.7 L45.5 424.9 L45.2 425.0 L44.9 425.1 L44.6 425.2 L44.4 425.2 L44.1 425.1 L43.9 425.0 L43.7 424.9 L43.5 424.7 L43.4 424.4 L43.3 424.2 L43.2 423.9 L43.2 423.6 L43.2 423.2 L43.3 422.9 L43.3 422.5 L43.5 422.2 L43.6 421.8 L43.8 421.5 L44.0 421.1 L44.2 420.8 L44.5 420.5 L44.8 420.3 L45.0 420.1 L45.3 419.9 L45.6 419.8 L45.9 419.7 L46.2 419.6 L46.4 419.6 L46.7 419.7 L46.9 419.8Z" fill="#fff" stroke="#111" stroke-width="1.2" stroke-linejoin="round" />
<path d="M70.9 415.8 L70.0 415.4 L69.0 415.0 L67.9 414.9 L66.8 414.8 L65.7 414.9 L64.5 415.1 L63.3 415.4 L62.1 415.9 L60.8 416.5 L59.6 417.2 L58.4 418.0 L57.2 419.0 L56.1 420.0 L55.0 421.2 L53.9 422.4 L52.9 423.7 L51.9 425.0 L51.1 426.5 L50.3 427.9 L49.6 429.4 L48.9 431.0 L48.4 432.5 L48.0 434.0 L47.7 435.5 L47.4 437.0 L47.3 438.5 L47.3 439.9 L47.4 441.3 L47.6 442.6 L47.9 443.8 L48.3 444.9 L48.8 445.9 L49.4 446.9 L50.1 447.7 L50.9 448.4 L51.8 449.0 L58.7 453.0 L59.6 453.4 L60.6 453.7 L61.7 453.9 L62.8 454.0 L63.9 453.9 L65.1 453.7 L66.3 453.4 L67.5 452.9 L68.8 452.3 L70.0 451.6 L71.2 450.8 L72.4 449.8 L73.5 448.8 L74.6 447.6 L75.7 446.4 L76.7 445.1 L77.7 443.7 L78.5 442.3 L79.3 440.9 L80.0 439.4 L80.7 437.8 L81.2 436.3 L81.6 434.8 L81.9 433.2 L82.2 431.7 L82.3 430.3 L82.3 428.9 L82.2 427.5 L82.0 426.2 L81.7 425.0 L81.3 423.9 L80.8 422.9 L80.2 421.9 L79.5 421.1 L78.7 420.4 L77.8 419.8Z" fill="#fff" stroke="#111" stroke-width="1.3" stroke-linejoin="round" />
<path d="M78.4 418.9 L79.7 419.8 L80.8 421.1 L81.8 422.6 L82.5 424.4 L82.9 426.3 L83.1 428.4 L83.0 430.7 L82.7 433.1 L82.2 435.5 L81.4 437.9 L80.3 440.3 L79.1 442.7 L77.7 444.9 L76.1 447.0 L74.4 448.9 L72.6 450.6 L70.7 452.0 L68.8 453.2 L66.8 454.1 L64.9 454.7 L63.1 455.0 L61.3 454.9 L59.7 454.6 L58.1 453.9 L56.8 452.9 L55.7 451.7 L54.8 450.2 L54.1 448.4 L53.6 446.5 L53.4 444.3 L53.5 442.1 L53.8 439.7 L54.4 437.3 L55.2 434.9 L56.2 432.5 L57.4 430.1 L58.8 427.9 L60.4 425.8 L62.1 423.9 L63.9 422.2 L65.8 420.8 L67.7 419.6 L69.7 418.7 L71.6 418.1 L73.4 417.8 L75.2 417.8 L76.9 418.2 L78.4 418.9Z" fill="#fff" stroke="#111" stroke-width="1.3" stroke-linejoin="round" />
<path d="M77.6 420.3 L78.8 421.2 L79.8 422.3 L80.7 423.7 L81.3 425.3 L81.7 427.1 L81.9 429.1 L81.9 431.2 L81.6 433.3 L81.1 435.6 L80.3 437.8 L79.4 440.0 L78.3 442.2 L77.0 444.2 L75.5 446.1 L73.9 447.9 L72.3 449.4 L70.5 450.8 L68.7 451.9 L67.0 452.7 L65.2 453.2 L63.5 453.5 L61.9 453.5 L60.3 453.1 L59.0 452.5 L57.7 451.6 L56.7 450.5 L55.8 449.1 L55.2 447.5 L54.8 445.7 L54.6 443.7 L54.7 441.6 L55.0 439.5 L55.5 437.2 L56.2 435.0 L57.1 432.8 L58.3 430.6 L59.6 428.6 L61.0 426.6 L62.6 424.9 L64.3 423.3 L66.0 422.0 L67.8 420.9 L69.6 420.1 L71.3 419.6 L73.0 419.3 L74.7 419.3 L76.2 419.7 L77.6 420.3ZM76.4 422.4 L77.4 423.2 L78.3 424.2 L79.1 425.4 L79.6 426.8 L80.0 428.3 L80.1 430.0 L80.1 431.8 L79.8 433.7 L79.4 435.7 L78.7 437.6 L77.9 439.5 L76.9 441.4 L75.8 443.2 L74.6 444.9 L73.2 446.4 L71.7 447.7 L70.2 448.9 L68.7 449.9 L67.1 450.6 L65.6 451.0 L64.1 451.3 L62.7 451.2 L61.4 450.9 L60.2 450.4 L59.1 449.6 L58.2 448.6 L57.5 447.4 L56.9 446.0 L56.6 444.5 L56.4 442.8 L56.4 440.9 L56.7 439.1 L57.1 437.1 L57.8 435.2 L58.6 433.2 L59.6 431.4 L60.7 429.6 L62.0 427.9 L63.3 426.4 L64.8 425.0 L66.3 423.9 L67.8 422.9 L69.4 422.2 L70.9 421.7 L72.4 421.5 L73.8 421.6 L75.1 421.8 L76.4 422.4Z" fill="#555" stroke="#111" stroke-width="1.0" stroke-linejoin="round" fill-rule="evenodd"/>
<path d="M75.7 423.4 L76.7 424.1 L77.6 425.1 L78.3 426.2 L78.8 427.5 L79.1 428.9 L79.2 430.5 L79.2 432.2 L79.0 433.9 L78.6 435.7 L78.0 437.5 L77.2 439.3 L76.3 441.0 L75.3 442.7 L74.1 444.2 L72.8 445.6 L71.5 446.9 L70.1 448.0 L68.7 448.8 L67.2 449.5 L65.8 449.9 L64.4 450.1 L63.1 450.1 L61.9 449.9 L60.8 449.4 L59.8 448.6 L59.0 447.7 L58.3 446.6 L57.8 445.3 L57.4 443.9 L57.3 442.3 L57.3 440.6 L57.6 438.9 L58.0 437.1 L58.6 435.3 L59.3 433.5 L60.2 431.8 L61.3 430.1 L62.4 428.6 L63.7 427.1 L65.0 425.9 L66.4 424.8 L67.9 423.9 L69.3 423.3 L70.7 422.8 L72.1 422.6 L73.4 422.7 L74.6 422.9 L75.7 423.4Z" fill="none" stroke="#111" stroke-width="0.8" stroke-linejoin="round" />
<path d="M75.5 430.9 L75.6 431.8 L75.7 432.8 L75.6 433.8 L75.5 434.9 L75.2 436.0 L74.9 437.1 L74.4 438.1 L73.9 439.2 L73.3 440.2 L72.6 441.1 L71.9 442.0 L71.1 442.9 L70.3 443.6 L69.5 444.2 L68.6 444.8 L67.7 445.2 L66.9 445.5 L66.1 445.6 L65.2 445.7 L64.5 445.6 L63.8 445.4 L63.1 445.1 L62.5 444.7 L62.0 444.1 L61.6 443.4 L61.3 442.7 L61.0 441.9 L60.9 440.9 L60.8 440.0 L60.9 439.0 L61.1 437.9 L61.3 436.8 L61.7 435.7 L62.1 434.7 L62.6 433.6 L63.2 432.6 L63.9 431.6 L64.6 430.8 L65.4 429.9 L66.2 429.2 L67.0 428.6 L67.9 428.0 L68.8 427.6 L69.6 427.3 L70.5 427.1 L71.3 427.1 L72.0 427.2 L72.7 427.4" fill="none" stroke="#111" stroke-width="1.6" stroke-linejoin="round" />
<path d="M87.6 443.0 L87.4 442.8 L87.2 442.8 L86.9 442.7 L86.7 442.7 L86.4 442.7 L86.1 442.8 L85.8 442.9 L85.6 443.0 L85.3 443.1 L85.0 443.3 L84.7 443.5 L84.5 443.7 L84.2 443.9 L83.9 444.2 L83.7 444.5 L83.5 444.8 L83.2 445.1 L83.0 445.4 L82.9 445.7 L82.7 446.1 L82.5 446.4 L82.4 446.8 L82.3 447.1 L82.3 447.5 L82.2 447.8 L82.2 448.2 L82.2 448.5 L82.2 448.8 L82.2 449.1 L82.3 449.4 L82.4 449.6 L82.5 449.9 L82.7 450.1 L82.8 450.3 L83.0 450.4 L83.2 450.6 L95.3 457.6 L95.5 457.7 L95.8 457.8 L96.0 457.8 L96.3 457.8 L96.5 457.8 L96.8 457.7 L97.1 457.7 L97.4 457.6 L97.6 457.4 L97.9 457.3 L98.2 457.1 L98.5 456.8 L98.7 456.6 L99.0 456.3 L99.2 456.1 L99.5 455.8 L99.7 455.5 L99.9 455.1 L100.1 454.8 L100.2 454.4 L100.4 454.1 L100.5 453.7 L100.6 453.4 L100.7 453.0 L100.7 452.7 L100.7 452.4 L100.8 452.0 L100.7 451.7 L100.7 451.4 L100.6 451.1 L100.5 450.9 L100.4 450.6 L100.3 450.4 L100.1 450.2 L99.9 450.1 L99.7 450.0Z" fill="#fff" stroke="#111" stroke-width="1.1" stroke-linejoin="round" />
<path d="M100.3 449.0 L100.6 449.3 L100.9 449.6 L101.2 450.0 L101.4 450.5 L101.5 451.0 L101.6 451.6 L101.5 452.2 L101.5 452.9 L101.3 453.5 L101.1 454.2 L100.8 454.8 L100.5 455.5 L100.1 456.1 L99.7 456.6 L99.2 457.2 L98.7 457.6 L98.2 458.0 L97.7 458.3 L97.1 458.6 L96.6 458.7 L96.1 458.8 L95.6 458.8 L95.2 458.7 L94.8 458.5 L94.4 458.3 L94.1 457.9 L93.9 457.5 L93.7 457.0 L93.5 456.5 L93.5 455.9 L93.5 455.3 L93.6 454.7 L93.7 454.0 L94.0 453.3 L94.2 452.7 L94.6 452.1 L95.0 451.5 L95.4 450.9 L95.8 450.4 L96.3 449.9 L96.9 449.5 L97.4 449.2 L97.9 448.9 L98.4 448.8 L98.9 448.7 L99.4 448.7 L99.9 448.8 L100.3 449.0Z" fill="#fff" stroke="#111" stroke-width="1.1" stroke-linejoin="round" />
<path d="M105.9 439.3 L108.3 436.5 L109.1 437.2 L107.5 440.6 L108.0 441.3 L110.7 439.2 L111.2 440.3 L109.1 443.3 L109.4 444.3 L112.1 443.1 L112.3 444.4 L109.7 446.8 L109.7 448.0 L112.3 447.8 L112.1 449.3 L109.4 450.9 L109.1 452.2 L111.3 453.0 L110.8 454.5 L108.1 455.2 L107.6 456.5 L109.2 458.2 L108.4 459.7 L106.0 459.4 L105.2 460.5 L106.2 463.0 L105.2 464.3 L103.2 463.0 L102.3 464.0 L102.5 467.0 L101.3 468.0 L100.0 465.9 L99.0 466.6 L98.4 470.0 L97.2 470.6 L96.6 467.8 L95.6 468.2 L94.3 471.6 L93.1 471.8 L93.2 468.5 L92.3 468.5 L90.4 471.7 L89.3 471.5 L90.3 468.1 L89.5 467.7 L87.1 470.4 L86.3 469.7 L87.9 466.4 L87.3 465.7 L84.7 467.7 L84.1 466.6 L86.3 463.7 L86.0 462.7 L83.3 463.8 L83.1 462.5 L85.7 460.1 L85.7 458.9 L83.1 459.1 L83.3 457.6 L86.0 456.0 L86.3 454.7 L84.1 454.0 L84.6 452.4 L87.3 451.7 L87.8 450.5 L86.1 448.8 L87.0 447.3 L89.4 447.6 L90.1 446.4 L89.2 443.9 L90.2 442.6 L92.2 443.9 L93.1 442.9 L92.9 439.9 L94.1 438.9 L95.4 441.0 L96.4 440.3 L97.0 436.9 L98.2 436.3 L98.8 439.1 L99.8 438.8 L101.1 435.3 L102.3 435.1 L102.1 438.4 L103.1 438.4 L105.0 435.2 L106.1 435.4 L105.1 438.9Z" fill="#fff" stroke="#111" stroke-width="1.1" stroke-linejoin="round" />
<path d="M106.8 437.7 L105.9 437.3 L105.0 437.0 L104.0 436.8 L102.9 436.7 L101.8 436.8 L100.7 437.0 L99.5 437.3 L98.4 437.8 L97.2 438.3 L96.1 439.0 L94.9 439.8 L93.8 440.7 L92.7 441.7 L91.6 442.8 L90.6 443.9 L89.6 445.2 L88.8 446.5 L87.9 447.8 L87.2 449.2 L86.5 450.6 L85.9 452.1 L85.4 453.6 L85.0 455.0 L84.7 456.5 L84.5 457.9 L84.4 459.3 L84.3 460.6 L84.4 461.9 L84.6 463.1 L84.9 464.3 L85.3 465.4 L85.8 466.3 L86.4 467.2 L87.0 468.0 L87.8 468.7 L88.6 469.2 L101.6 476.7 L102.5 477.2 L103.4 477.5 L104.4 477.7 L105.5 477.7 L106.6 477.6 L107.7 477.4 L108.8 477.1 L110.0 476.7 L111.2 476.1 L112.3 475.4 L113.5 474.6 L114.6 473.7 L115.7 472.7 L116.8 471.7 L117.8 470.5 L118.7 469.3 L119.6 468.0 L120.5 466.6 L121.2 465.2 L121.9 463.8 L122.5 462.3 L123.0 460.9 L123.4 459.4 L123.7 458.0 L123.9 456.5 L124.0 455.2 L124.0 453.8 L123.9 452.5 L123.7 451.3 L123.4 450.1 L123.1 449.1 L122.6 448.1 L122.0 447.2 L121.3 446.4 L120.6 445.8 L119.8 445.2Z" fill="#fff" stroke="#111" stroke-width="1.1" stroke-linejoin="round" />
<path d="M98.6 473.5L84.7 463.5M98.0 472.0L84.4 461.8M97.6 470.4L84.3 460.0M97.4 468.7L84.5 458.0M97.3 466.8L84.8 456.0M97.5 464.8L85.3 454.0M97.9 462.8L86.0 451.9M98.5 460.7L86.8 449.9M99.2 458.7L87.9 447.9M100.2 456.7L89.0 446.0M101.3 454.7L90.3 444.3M102.5 452.9L91.8 442.6M103.9 451.1L93.3 441.1M105.3 449.5L94.9 439.8M106.8 448.1L96.5 438.8M108.4 446.9L98.1 437.9M110.1 445.9L99.7 437.3M111.7 445.1L101.3 436.9M113.3 444.6L102.9 436.7M114.9 444.3L104.4 436.8M116.4 444.2L105.7 437.2M117.9 444.4L107.0 437.8" fill="none" stroke="#111" stroke-width="1.2" stroke-linejoin="round" />
<path d="M118.9 446.8 L121.3 444.0 L122.1 444.7 L120.5 448.1 L121.0 448.8 L123.7 446.7 L124.2 447.8 L122.0 450.8 L122.3 451.8 L125.1 450.6 L125.3 451.9 L122.7 454.3 L122.7 455.5 L125.3 455.3 L125.1 456.8 L122.4 458.4 L122.1 459.7 L124.3 460.5 L123.8 462.0 L121.1 462.7 L120.6 464.0 L122.2 465.7 L121.4 467.2 L119.0 466.9 L118.2 468.0 L119.2 470.5 L118.2 471.8 L116.2 470.5 L115.3 471.5 L115.5 474.5 L114.3 475.5 L113.0 473.4 L112.0 474.1 L111.4 477.5 L110.2 478.1 L109.6 475.3 L108.5 475.7 L107.3 479.1 L106.0 479.3 L106.2 476.0 L105.3 476.0 L103.4 479.2 L102.3 479.0 L103.3 475.6 L102.5 475.2 L100.1 477.9 L99.3 477.2 L100.9 473.9 L100.3 473.2 L97.7 475.2 L97.1 474.1 L99.3 471.2 L99.0 470.2 L96.3 471.3 L96.1 470.0 L98.7 467.6 L98.7 466.4 L96.1 466.6 L96.2 465.1 L99.0 463.5 L99.3 462.2 L97.0 461.5 L97.6 459.9 L100.2 459.2 L100.8 458.0 L99.1 456.3 L99.9 454.8 L102.4 455.1 L103.1 453.9 L102.1 451.4 L103.2 450.1 L105.1 451.4 L106.1 450.4 L105.9 447.4 L107.1 446.4 L108.4 448.5 L109.4 447.8 L110.0 444.4 L111.2 443.8 L111.8 446.6 L112.8 446.3 L114.1 442.8 L115.3 442.6 L115.1 445.9 L116.1 445.9 L118.0 442.7 L119.1 442.9 L118.1 446.4Z" fill="#fff" stroke="#111" stroke-width="1.1" stroke-linejoin="round" />
<path d="M117.3 449.4 L116.7 449.1 L116.0 448.9 L115.3 448.8 L114.6 448.7 L113.8 448.8 L113.0 448.9 L112.2 449.2 L111.4 449.5 L110.5 449.9 L109.7 450.4 L108.9 450.9 L108.1 451.6 L107.3 452.3 L106.6 453.0 L105.9 453.9 L105.2 454.7 L104.5 455.7 L104.0 456.6 L103.4 457.6 L102.9 458.6 L102.5 459.6 L102.2 460.7 L101.9 461.7 L101.7 462.7 L101.5 463.7 L101.4 464.7 L101.4 465.7 L101.5 466.6 L101.6 467.5 L101.8 468.3 L102.1 469.0 L102.5 469.7 L102.9 470.4 L103.3 470.9 L103.9 471.4 L104.4 471.8 L120.0 480.8 L120.6 481.1 L121.3 481.3 L122.0 481.4 L122.8 481.5 L123.6 481.4 L124.3 481.3 L125.2 481.1 L126.0 480.7 L126.8 480.3 L127.6 479.9 L128.4 479.3 L129.2 478.7 L130.0 478.0 L130.8 477.2 L131.5 476.4 L132.2 475.5 L132.8 474.6 L133.4 473.6 L133.9 472.6 L134.4 471.6 L134.8 470.6 L135.2 469.5 L135.5 468.5 L135.7 467.5 L135.8 466.5 L135.9 465.5 L135.9 464.5 L135.9 463.6 L135.7 462.8 L135.5 461.9 L135.2 461.2 L134.9 460.5 L134.5 459.9 L134.0 459.3 L133.5 458.8 L132.9 458.4Z" fill="#fff" stroke="#111" stroke-width="1.1" stroke-linejoin="round" />
<path d="M118.6 479.6L103.1 470.6M117.7 478.1L102.1 469.1M117.2 476.2L101.6 467.2M117.0 474.0L101.4 465.0M117.3 471.7L101.7 462.7M117.9 469.2L102.3 460.2M118.9 466.8L103.3 457.8M120.2 464.5L104.7 455.5M121.9 462.4L106.3 453.4M123.6 460.6L108.1 451.6M125.6 459.2L110.0 450.2M127.5 458.3L111.9 449.3M129.4 457.8L113.9 448.8M131.2 457.8L115.6 448.8" fill="none" stroke="#111" stroke-width="1.3" stroke-linejoin="round" />
<path d="M133.5 457.5 L134.4 458.2 L135.2 459.0 L135.8 460.1 L136.3 461.3 L136.6 462.6 L136.7 464.1 L136.7 465.7 L136.5 467.3 L136.1 469.0 L135.5 470.7 L134.8 472.3 L134.0 474.0 L133.0 475.5 L131.9 476.9 L130.7 478.3 L129.5 479.4 L128.2 480.4 L126.8 481.3 L125.5 481.9 L124.2 482.3 L122.9 482.5 L121.7 482.4 L120.5 482.2 L119.5 481.7 L118.6 481.1 L117.8 480.2 L117.1 479.2 L116.7 477.9 L116.3 476.6 L116.2 475.1 L116.2 473.5 L116.5 471.9 L116.8 470.2 L117.4 468.6 L118.1 466.9 L119.0 465.3 L119.9 463.7 L121.0 462.3 L122.2 461.0 L123.5 459.8 L124.8 458.8 L126.1 458.0 L127.4 457.3 L128.8 456.9 L130.1 456.7 L131.3 456.8 L132.4 457.0 L133.5 457.5Z" fill="#fff" stroke="#111" stroke-width="1.1" stroke-linejoin="round" />
<path d="M132.2 459.6 L131.7 459.3 L131.1 459.1 L130.5 459.0 L129.8 459.0 L129.1 459.0 L128.4 459.2 L127.7 459.4 L127.0 459.6 L126.3 460.0 L125.5 460.4 L124.8 460.9 L124.1 461.5 L123.4 462.1 L122.7 462.8 L122.1 463.5 L121.5 464.3 L120.9 465.1 L120.4 465.9 L120.0 466.8 L119.5 467.7 L119.2 468.6 L118.8 469.5 L118.6 470.4 L118.4 471.3 L118.3 472.2 L118.2 473.1 L118.2 474.0 L118.2 474.8 L118.4 475.5 L118.6 476.3 L118.8 476.9 L119.1 477.5 L119.5 478.1 L119.9 478.6 L120.3 479.0 L120.8 479.3 L126.9 482.8 L127.5 483.1 L128.1 483.3 L128.7 483.4 L129.3 483.5 L130.0 483.4 L130.7 483.3 L131.5 483.1 L132.2 482.8 L132.9 482.5 L133.6 482.0 L134.4 481.5 L135.1 481.0 L135.8 480.3 L136.4 479.7 L137.0 478.9 L137.6 478.2 L138.2 477.4 L138.7 476.5 L139.2 475.6 L139.6 474.7 L140.0 473.8 L140.3 472.9 L140.6 472.0 L140.8 471.1 L140.9 470.2 L141.0 469.3 L141.0 468.5 L140.9 467.7 L140.8 466.9 L140.6 466.2 L140.4 465.5 L140.1 464.9 L139.7 464.4 L139.3 463.9 L138.8 463.4 L138.3 463.1Z" fill="#fff" stroke="#111" stroke-width="1.1" stroke-linejoin="round" />
<path d="M125.6 481.7L119.6 478.2M124.7 480.1L118.7 476.6M124.3 478.0L118.2 474.5M124.3 475.7L118.3 472.2M124.9 473.2L118.8 469.7M125.8 470.7L119.8 467.2M127.2 468.3L121.2 464.8M128.9 466.2L122.8 462.7M130.8 464.5L124.8 461.0M132.8 463.2L126.8 459.7M134.8 462.6L128.8 459.1M136.7 462.5L130.6 459.0" fill="none" stroke="#111" stroke-width="1.3" stroke-linejoin="round" />
<path d="M138.9 462.1 L139.7 462.7 L140.4 463.5 L141.0 464.5 L141.4 465.5 L141.7 466.7 L141.8 468.1 L141.7 469.5 L141.5 470.9 L141.2 472.4 L140.7 473.9 L140.1 475.4 L139.3 476.8 L138.5 478.2 L137.5 479.5 L136.4 480.7 L135.3 481.7 L134.1 482.6 L132.9 483.4 L131.7 483.9 L130.6 484.3 L129.4 484.5 L128.3 484.4 L127.3 484.2 L126.4 483.8 L125.5 483.2 L124.8 482.4 L124.3 481.5 L123.8 480.4 L123.6 479.2 L123.4 477.9 L123.5 476.5 L123.7 475.0 L124.0 473.5 L124.5 472.0 L125.1 470.5 L125.9 469.1 L126.8 467.7 L127.7 466.4 L128.8 465.2 L129.9 464.2 L131.1 463.3 L132.3 462.6 L133.5 462.0 L134.7 461.7 L135.8 461.5 L136.9 461.5 L137.9 461.7 L138.9 462.1Z" fill="#fff" stroke="#111" stroke-width="1.1" stroke-linejoin="round" />
<path d="M138.1 463.4 L137.6 463.2 L137.0 463.0 L136.4 462.9 L135.8 462.8 L135.1 462.9 L134.5 463.0 L133.8 463.2 L133.1 463.5 L132.4 463.8 L131.7 464.2 L131.0 464.7 L130.3 465.2 L129.7 465.8 L129.0 466.5 L128.4 467.2 L127.8 467.9 L127.3 468.7 L126.8 469.5 L126.4 470.3 L126.0 471.2 L125.6 472.1 L125.3 472.9 L125.1 473.8 L124.9 474.7 L124.7 475.5 L124.7 476.4 L124.7 477.2 L124.7 477.9 L124.8 478.7 L125.0 479.4 L125.3 480.0 L125.5 480.6 L125.9 481.1 L126.3 481.6 L126.7 482.0 L127.2 482.3 L131.5 484.8 L132.1 485.1 L132.6 485.3 L133.2 485.4 L133.9 485.4 L134.5 485.4 L135.2 485.2 L135.9 485.0 L136.6 484.8 L137.3 484.4 L138.0 484.0 L138.7 483.6 L139.3 483.0 L140.0 482.4 L140.6 481.8 L141.2 481.1 L141.8 480.3 L142.4 479.6 L142.8 478.8 L143.3 477.9 L143.7 477.1 L144.1 476.2 L144.4 475.3 L144.6 474.4 L144.8 473.6 L144.9 472.7 L145.0 471.9 L145.0 471.1 L144.9 470.3 L144.8 469.6 L144.6 468.9 L144.4 468.2 L144.1 467.7 L143.8 467.1 L143.4 466.7 L142.9 466.3 L142.4 465.9Z" fill="#fff" stroke="#111" stroke-width="1.1" stroke-linejoin="round" />
<path d="M143.0 465.0 L143.8 465.6 L144.5 466.3 L145.0 467.2 L145.4 468.2 L145.7 469.4 L145.8 470.7 L145.8 472.0 L145.6 473.4 L145.2 474.8 L144.8 476.3 L144.2 477.7 L143.4 479.1 L142.6 480.4 L141.7 481.7 L140.7 482.8 L139.6 483.8 L138.5 484.7 L137.3 485.4 L136.2 485.9 L135.0 486.2 L133.9 486.4 L132.9 486.4 L131.9 486.2 L131.0 485.8 L130.2 485.2 L129.5 484.4 L129.0 483.6 L128.6 482.5 L128.3 481.4 L128.2 480.1 L128.2 478.7 L128.4 477.3 L128.7 475.9 L129.2 474.5 L129.8 473.0 L130.6 471.7 L131.4 470.3 L132.3 469.1 L133.3 468.0 L134.4 467.0 L135.5 466.1 L136.7 465.4 L137.8 464.9 L139.0 464.5 L140.1 464.3 L141.1 464.4 L142.1 464.6 L143.0 465.0Z" fill="#fff" stroke="#111" stroke-width="1.1" stroke-linejoin="round" />
<path d="M142.3 466.1 L141.8 465.9 L141.3 465.7 L140.7 465.6 L140.1 465.5 L139.5 465.6 L138.9 465.7 L138.2 465.9 L137.5 466.1 L136.9 466.5 L136.2 466.9 L135.6 467.3 L134.9 467.8 L134.3 468.4 L133.7 469.0 L133.1 469.7 L132.5 470.4 L132.0 471.1 L131.6 471.9 L131.1 472.7 L130.7 473.5 L130.4 474.3 L130.1 475.2 L129.9 476.0 L129.7 476.8 L129.6 477.6 L129.5 478.4 L129.5 479.2 L129.6 479.9 L129.7 480.6 L129.8 481.3 L130.1 481.9 L130.3 482.5 L130.7 483.0 L131.1 483.4 L131.5 483.8 L131.9 484.1 L143.2 490.6 L143.7 490.9 L144.2 491.0 L144.8 491.1 L145.4 491.2 L146.0 491.1 L146.7 491.0 L147.3 490.8 L148.0 490.6 L148.7 490.3 L149.3 489.9 L150.0 489.4 L150.6 488.9 L151.3 488.3 L151.9 487.7 L152.4 487.1 L153.0 486.4 L153.5 485.6 L154.0 484.8 L154.4 484.0 L154.8 483.2 L155.1 482.4 L155.4 481.6 L155.7 480.7 L155.8 479.9 L156.0 479.1 L156.0 478.3 L156.0 477.5 L156.0 476.8 L155.9 476.1 L155.7 475.4 L155.5 474.8 L155.2 474.3 L154.9 473.8 L154.5 473.3 L154.1 472.9 L153.6 472.6Z" fill="#fff" stroke="#111" stroke-width="1.1" stroke-linejoin="round" />
<path d="M142.0 489.5L130.7 483.0M141.1 487.9L129.9 481.4M140.8 485.8L129.5 479.3M141.0 483.4L129.7 476.9M141.7 480.9L130.4 474.4M142.8 478.4L131.6 471.9M144.4 476.2L133.1 469.7M146.2 474.3L134.9 467.8M148.2 472.9L136.9 466.4M150.2 472.2L138.9 465.7M152.0 472.1L140.8 465.6" fill="none" stroke="#111" stroke-width="1.3" stroke-linejoin="round" />
<path d="M154.2 471.7 L154.9 472.2 L155.6 472.9 L156.1 473.8 L156.5 474.8 L156.7 475.9 L156.8 477.1 L156.8 478.4 L156.6 479.7 L156.3 481.1 L155.9 482.5 L155.3 483.9 L154.6 485.2 L153.8 486.5 L152.9 487.6 L151.9 488.7 L150.9 489.7 L149.8 490.5 L148.7 491.2 L147.6 491.7 L146.5 492.0 L145.5 492.2 L144.4 492.2 L143.5 492.0 L142.7 491.6 L141.9 491.0 L141.2 490.3 L140.7 489.5 L140.3 488.5 L140.1 487.3 L140.0 486.1 L140.0 484.9 L140.2 483.5 L140.5 482.1 L140.9 480.7 L141.5 479.4 L142.2 478.1 L143.0 476.8 L143.9 475.6 L144.9 474.5 L145.9 473.5 L147.0 472.7 L148.1 472.1 L149.2 471.5 L150.3 471.2 L151.3 471.1 L152.4 471.1 L153.3 471.3 L154.2 471.7Z" fill="#fff" stroke="#111" stroke-width="1.1" stroke-linejoin="round" />
<path d="M153.2 473.4 L152.7 473.1 L152.2 473.0 L151.7 472.9 L151.2 472.9 L150.6 472.9 L150.0 473.0 L149.4 473.2 L148.8 473.4 L148.2 473.7 L147.6 474.0 L147.0 474.4 L146.4 474.9 L145.9 475.4 L145.3 476.0 L144.8 476.6 L144.3 477.2 L143.8 477.9 L143.4 478.6 L143.0 479.3 L142.7 480.0 L142.4 480.8 L142.1 481.5 L141.9 482.3 L141.7 483.0 L141.6 483.8 L141.6 484.5 L141.6 485.2 L141.6 485.9 L141.7 486.5 L141.9 487.1 L142.1 487.6 L142.3 488.2 L142.6 488.6 L143.0 489.0 L143.3 489.4 L143.8 489.6 L149.0 492.6 L149.4 492.9 L149.9 493.0 L150.4 493.1 L151.0 493.1 L151.5 493.1 L152.1 493.0 L152.7 492.8 L153.3 492.6 L153.9 492.3 L154.5 492.0 L155.1 491.6 L155.7 491.1 L156.3 490.6 L156.8 490.0 L157.3 489.4 L157.8 488.8 L158.3 488.1 L158.7 487.4 L159.1 486.7 L159.4 486.0 L159.8 485.2 L160.0 484.5 L160.2 483.7 L160.4 483.0 L160.5 482.2 L160.6 481.5 L160.6 480.8 L160.5 480.1 L160.4 479.5 L160.3 478.9 L160.1 478.4 L159.8 477.8 L159.5 477.4 L159.2 477.0 L158.8 476.6 L158.4 476.4Z" fill="#fff" stroke="#111" stroke-width="1.1" stroke-linejoin="round" />
<path d="M158.9 475.4 L159.6 475.9 L160.2 476.6 L160.7 477.3 L161.0 478.2 L161.3 479.3 L161.4 480.4 L161.3 481.5 L161.2 482.8 L160.9 484.0 L160.5 485.3 L159.9 486.5 L159.3 487.8 L158.6 488.9 L157.8 490.0 L156.9 491.0 L155.9 491.9 L154.9 492.6 L153.9 493.2 L152.9 493.7 L151.9 494.0 L151.0 494.1 L150.1 494.1 L149.2 493.9 L148.4 493.6 L147.7 493.1 L147.1 492.4 L146.7 491.7 L146.3 490.7 L146.1 489.7 L146.0 488.6 L146.0 487.5 L146.2 486.2 L146.4 485.0 L146.9 483.7 L147.4 482.5 L148.0 481.2 L148.8 480.1 L149.6 479.0 L150.5 478.0 L151.4 477.1 L152.4 476.4 L153.4 475.8 L154.4 475.3 L155.4 475.0 L156.4 474.9 L157.3 474.9 L158.1 475.1 L158.9 475.4Z" fill="#fff" stroke="#111" stroke-width="1.1" stroke-linejoin="round" />
<path d="M158.2 476.6 L157.8 476.3 L157.3 476.2 L156.9 476.1 L156.3 476.1 L155.8 476.1 L155.3 476.2 L154.7 476.4 L154.1 476.6 L153.6 476.9 L153.0 477.2 L152.4 477.6 L151.9 478.0 L151.3 478.5 L150.8 479.0 L150.3 479.6 L149.9 480.2 L149.4 480.8 L149.0 481.5 L148.6 482.2 L148.3 482.9 L148.0 483.6 L147.8 484.3 L147.6 485.0 L147.4 485.7 L147.3 486.4 L147.3 487.1 L147.3 487.8 L147.3 488.4 L147.4 489.0 L147.6 489.6 L147.7 490.1 L148.0 490.6 L148.3 491.0 L148.6 491.4 L148.9 491.7 L149.3 492.0 L159.7 498.0 L160.2 498.2 L160.6 498.3 L161.1 498.4 L161.6 498.4 L162.2 498.4 L162.7 498.3 L163.3 498.2 L163.9 497.9 L164.4 497.7 L165.0 497.3 L165.6 496.9 L166.1 496.5 L166.6 496.0 L167.2 495.5 L167.7 494.9 L168.1 494.3 L168.6 493.7 L169.0 493.0 L169.3 492.3 L169.7 491.6 L170.0 490.9 L170.2 490.2 L170.4 489.5 L170.6 488.8 L170.7 488.1 L170.7 487.4 L170.7 486.8 L170.7 486.1 L170.6 485.5 L170.4 485.0 L170.2 484.4 L170.0 484.0 L169.7 483.5 L169.4 483.1 L169.0 482.8 L168.6 482.6Z" fill="#fff" stroke="#111" stroke-width="1.1" stroke-linejoin="round" />
<path d="M158.6 497.0L148.3 491.0M157.9 495.4L147.5 489.4M157.7 493.3L147.3 487.3M158.0 491.0L147.6 485.0M158.8 488.6L148.4 482.6M160.1 486.4L149.7 480.4M161.7 484.5L151.3 478.5M163.6 483.1L153.2 477.1M165.5 482.3L155.1 476.3M167.2 482.1L156.8 476.1" fill="none" stroke="#111" stroke-width="1.3" stroke-linejoin="round" />
<path d="M169.2 481.6 L169.8 482.1 L170.4 482.7 L170.9 483.4 L171.2 484.3 L171.4 485.3 L171.5 486.3 L171.5 487.4 L171.3 488.6 L171.1 489.8 L170.7 491.0 L170.2 492.2 L169.6 493.4 L168.9 494.5 L168.1 495.5 L167.2 496.4 L166.3 497.3 L165.4 498.0 L164.5 498.6 L163.5 499.0 L162.5 499.3 L161.6 499.4 L160.7 499.4 L159.9 499.3 L159.2 498.9 L158.5 498.4 L158.0 497.8 L157.5 497.1 L157.2 496.2 L157.0 495.2 L156.9 494.2 L156.9 493.1 L157.0 491.9 L157.3 490.7 L157.7 489.5 L158.2 488.3 L158.8 487.2 L159.5 486.1 L160.3 485.0 L161.1 484.1 L162.0 483.2 L163.0 482.5 L163.9 481.9 L164.9 481.5 L165.8 481.2 L166.8 481.1 L167.6 481.1 L168.4 481.3 L169.2 481.6Z" fill="#fff" stroke="#111" stroke-width="1.1" stroke-linejoin="round" />
<path d="M168.5 482.8 L168.1 482.6 L167.6 482.5 L167.2 482.4 L166.7 482.4 L166.2 482.4 L165.6 482.5 L165.1 482.7 L164.6 482.9 L164.0 483.1 L163.5 483.5 L163.0 483.8 L162.5 484.2 L162.0 484.7 L161.5 485.2 L161.0 485.7 L160.6 486.3 L160.1 486.9 L159.8 487.5 L159.4 488.2 L159.1 488.8 L158.8 489.5 L158.6 490.2 L158.4 490.8 L158.3 491.5 L158.2 492.2 L158.1 492.8 L158.1 493.4 L158.2 494.0 L158.2 494.6 L158.4 495.1 L158.6 495.6 L158.8 496.1 L159.0 496.5 L159.3 496.8 L159.7 497.1 L160.1 497.4 L166.1 500.9 L166.5 501.1 L167.0 501.2 L167.4 501.3 L167.9 501.3 L168.4 501.3 L168.9 501.2 L169.5 501.1 L170.0 500.9 L170.5 500.6 L171.1 500.3 L171.6 499.9 L172.1 499.5 L172.6 499.1 L173.1 498.6 L173.6 498.0 L174.0 497.4 L174.5 496.8 L174.8 496.2 L175.2 495.6 L175.5 494.9 L175.8 494.3 L176.0 493.6 L176.2 492.9 L176.3 492.2 L176.4 491.6 L176.5 490.9 L176.5 490.3 L176.4 489.7 L176.4 489.2 L176.2 488.6 L176.0 488.1 L175.8 487.7 L175.6 487.3 L175.2 486.9 L174.9 486.6 L174.5 486.3Z" fill="#fff" stroke="#111" stroke-width="1.1" stroke-linejoin="round" />
<path d="M175.1 485.4 L175.7 485.8 L176.2 486.4 L176.7 487.1 L177.0 488.0 L177.2 488.9 L177.3 489.9 L177.3 490.9 L177.1 492.1 L176.9 493.2 L176.5 494.3 L176.0 495.5 L175.4 496.6 L174.8 497.6 L174.0 498.6 L173.2 499.5 L172.4 500.3 L171.5 501.0 L170.6 501.5 L169.7 501.9 L168.8 502.2 L167.9 502.3 L167.1 502.3 L166.3 502.2 L165.6 501.8 L165.0 501.4 L164.4 500.8 L164.0 500.1 L163.7 499.3 L163.5 498.4 L163.4 497.4 L163.4 496.3 L163.5 495.2 L163.8 494.0 L164.2 492.9 L164.7 491.8 L165.2 490.7 L165.9 489.6 L166.6 488.6 L167.4 487.8 L168.3 487.0 L169.2 486.3 L170.1 485.7 L171.0 485.3 L171.9 485.0 L172.8 484.9 L173.6 484.9 L174.4 485.1 L175.1 485.4Z" fill="#fff" stroke="#111" stroke-width="1.1" stroke-linejoin="round" />
<path d="M174.4 486.5 L174.0 486.4 L173.6 486.2 L173.2 486.1 L172.7 486.1 L172.2 486.1 L171.8 486.2 L171.3 486.4 L170.8 486.6 L170.3 486.8 L169.8 487.1 L169.3 487.5 L168.8 487.8 L168.3 488.3 L167.8 488.7 L167.4 489.2 L167.0 489.8 L166.6 490.3 L166.2 490.9 L165.9 491.5 L165.6 492.2 L165.3 492.8 L165.1 493.4 L164.9 494.1 L164.8 494.7 L164.7 495.3 L164.7 495.9 L164.7 496.5 L164.7 497.1 L164.8 497.6 L164.9 498.1 L165.1 498.5 L165.3 499.0 L165.5 499.4 L165.8 499.7 L166.2 500.0 L166.5 500.2 L176.9 506.2 L177.3 506.4 L177.7 506.5 L178.1 506.6 L178.6 506.7 L179.1 506.6 L179.6 506.5 L180.1 506.4 L180.6 506.2 L181.1 506.0 L181.6 505.7 L182.1 505.3 L182.6 504.9 L183.0 504.5 L183.5 504.0 L183.9 503.5 L184.3 503.0 L184.7 502.4 L185.1 501.8 L185.4 501.2 L185.7 500.6 L186.0 500.0 L186.2 499.3 L186.4 498.7 L186.5 498.1 L186.6 497.5 L186.6 496.9 L186.6 496.3 L186.6 495.7 L186.5 495.2 L186.4 494.7 L186.2 494.2 L186.0 493.8 L185.8 493.4 L185.5 493.1 L185.2 492.8 L184.8 492.5Z" fill="#fff" stroke="#111" stroke-width="1.1" stroke-linejoin="round" />
<path d="M175.9 505.3L165.5 499.3M175.2 503.6L164.8 497.6M175.1 501.5L164.7 495.5M175.6 499.2L165.2 493.2M176.6 496.9L166.2 490.9M178.1 494.9L167.7 488.9M179.8 493.3L169.4 487.3M181.7 492.4L171.3 486.4M183.5 492.1L173.1 486.1" fill="none" stroke="#111" stroke-width="1.3" stroke-linejoin="round" />
<path d="M185.4 491.6 L185.9 492.0 L186.5 492.6 L186.9 493.3 L187.2 494.0 L187.4 494.9 L187.5 495.8 L187.4 496.9 L187.3 497.9 L187.0 499.0 L186.7 500.1 L186.2 501.1 L185.7 502.2 L185.1 503.2 L184.4 504.1 L183.6 504.9 L182.8 505.7 L181.9 506.3 L181.1 506.9 L180.2 507.3 L179.4 507.5 L178.5 507.7 L177.8 507.6 L177.0 507.5 L176.4 507.2 L175.8 506.7 L175.3 506.2 L174.8 505.5 L174.5 504.7 L174.3 503.9 L174.3 502.9 L174.3 501.9 L174.4 500.9 L174.7 499.8 L175.0 498.7 L175.5 497.6 L176.0 496.6 L176.7 495.6 L177.4 494.7 L178.1 493.8 L178.9 493.1 L179.8 492.4 L180.6 491.9 L181.5 491.5 L182.3 491.2 L183.2 491.1 L184.0 491.1 L184.7 491.3 L185.4 491.6Z" fill="#fff" stroke="#111" stroke-width="1.1" stroke-linejoin="round" />
<path d="M184.4 493.3 L184.0 493.1 L183.7 493.0 L183.3 492.9 L182.9 492.9 L182.5 492.9 L182.1 493.0 L181.6 493.1 L181.2 493.3 L180.7 493.5 L180.3 493.8 L179.9 494.1 L179.4 494.4 L179.0 494.8 L178.6 495.2 L178.2 495.7 L177.9 496.1 L177.5 496.6 L177.2 497.1 L176.9 497.7 L176.7 498.2 L176.4 498.7 L176.3 499.3 L176.1 499.9 L176.0 500.4 L175.9 500.9 L175.9 501.5 L175.9 502.0 L175.9 502.5 L176.0 502.9 L176.1 503.4 L176.2 503.8 L176.4 504.1 L176.6 504.5 L176.9 504.8 L177.2 505.0 L177.5 505.2 L182.7 508.2 L183.0 508.4 L183.4 508.5 L183.7 508.6 L184.1 508.6 L184.6 508.6 L185.0 508.5 L185.4 508.4 L185.9 508.2 L186.3 508.0 L186.7 507.7 L187.2 507.4 L187.6 507.1 L188.0 506.7 L188.4 506.3 L188.8 505.9 L189.2 505.4 L189.5 504.9 L189.8 504.4 L190.1 503.9 L190.4 503.3 L190.6 502.8 L190.8 502.2 L190.9 501.7 L191.1 501.1 L191.1 500.6 L191.2 500.1 L191.2 499.6 L191.1 499.1 L191.1 498.6 L191.0 498.2 L190.8 497.8 L190.6 497.4 L190.4 497.0 L190.2 496.8 L189.9 496.5 L189.6 496.3Z" fill="#fff" stroke="#111" stroke-width="1.1" stroke-linejoin="round" />
<path d="M190.1 495.3 L190.6 495.7 L191.1 496.2 L191.5 496.8 L191.7 497.5 L191.9 498.3 L192.0 499.1 L192.0 500.0 L191.8 500.9 L191.6 501.9 L191.3 502.9 L190.9 503.8 L190.4 504.7 L189.9 505.6 L189.2 506.5 L188.6 507.2 L187.8 507.9 L187.1 508.5 L186.3 508.9 L185.6 509.3 L184.8 509.5 L184.1 509.6 L183.4 509.6 L182.7 509.5 L182.1 509.2 L181.6 508.8 L181.1 508.3 L180.8 507.7 L180.5 507.0 L180.3 506.3 L180.3 505.4 L180.3 504.5 L180.4 503.6 L180.6 502.6 L180.9 501.7 L181.3 500.7 L181.8 499.8 L182.4 498.9 L183.0 498.1 L183.7 497.3 L184.4 496.7 L185.1 496.1 L185.9 495.6 L186.7 495.3 L187.4 495.0 L188.2 494.9 L188.9 494.9 L189.5 495.1 L190.1 495.3Z" fill="#fff" stroke="#111" stroke-width="1.1" stroke-linejoin="round" />
<path d="M189.5 496.4 L189.2 496.3 L188.8 496.2 L188.5 496.1 L188.1 496.1 L187.7 496.1 L187.3 496.2 L186.9 496.3 L186.5 496.4 L186.1 496.6 L185.7 496.9 L185.3 497.2 L184.9 497.5 L184.5 497.8 L184.1 498.2 L183.8 498.6 L183.5 499.1 L183.1 499.5 L182.8 500.0 L182.6 500.5 L182.3 501.0 L182.1 501.5 L182.0 502.0 L181.8 502.5 L181.7 503.0 L181.6 503.5 L181.6 504.0 L181.6 504.5 L181.6 504.9 L181.7 505.4 L181.8 505.8 L181.9 506.2 L182.1 506.5 L182.3 506.8 L182.5 507.1 L182.8 507.3 L183.1 507.5 L196.1 515.0 L196.4 515.2 L196.7 515.3 L197.1 515.3 L197.4 515.4 L197.8 515.3 L198.2 515.3 L198.6 515.1 L199.0 515.0 L199.4 514.8 L199.9 514.6 L200.3 514.3 L200.7 514.0 L201.0 513.6 L201.4 513.2 L201.8 512.8 L202.1 512.4 L202.4 511.9 L202.7 511.5 L203.0 511.0 L203.2 510.5 L203.4 510.0 L203.6 509.4 L203.7 508.9 L203.9 508.4 L203.9 507.9 L204.0 507.4 L204.0 507.0 L203.9 506.5 L203.9 506.1 L203.8 505.7 L203.6 505.3 L203.5 504.9 L203.3 504.6 L203.0 504.4 L202.8 504.1 L202.5 503.9Z" fill="#fff" stroke="#111" stroke-width="1.1" stroke-linejoin="round" />
<path d="M195.1 514.1L182.1 506.6M194.6 512.2L181.6 504.7M194.8 509.9L181.9 502.4M195.8 507.5L182.8 500.0M197.4 505.4L184.4 497.9M199.3 504.0L186.3 496.5M201.2 503.6L188.2 496.1" fill="none" stroke="#111" stroke-width="1.3" stroke-linejoin="round" />
<path d="M203.0 503.0 L203.5 503.3 L203.9 503.8 L204.3 504.4 L204.5 505.0 L204.7 505.7 L204.8 506.5 L204.8 507.4 L204.6 508.2 L204.4 509.1 L204.1 510.0 L203.8 510.9 L203.3 511.8 L202.8 512.6 L202.2 513.4 L201.6 514.1 L200.9 514.7 L200.2 515.3 L199.5 515.7 L198.8 516.0 L198.0 516.3 L197.4 516.4 L196.7 516.3 L196.1 516.2 L195.5 516.0 L195.0 515.6 L194.6 515.1 L194.3 514.6 L194.0 513.9 L193.8 513.2 L193.8 512.4 L193.8 511.6 L193.9 510.7 L194.1 509.8 L194.4 508.9 L194.8 508.0 L195.2 507.1 L195.8 506.3 L196.4 505.5 L197.0 504.8 L197.7 504.2 L198.4 503.7 L199.1 503.2 L199.8 502.9 L200.5 502.7 L201.2 502.6 L201.9 502.6 L202.5 502.7 L203.0 503.0Z" fill="#fff" stroke="#111" stroke-width="1.1" stroke-linejoin="round" />
<path d="M202.6 503.7 L202.3 503.5 L202.0 503.4 L201.6 503.4 L201.2 503.3 L200.9 503.4 L200.5 503.4 L200.1 503.6 L199.7 503.7 L199.2 503.9 L198.8 504.1 L198.4 504.4 L198.0 504.7 L197.6 505.1 L197.3 505.5 L196.9 505.9 L196.6 506.3 L196.3 506.8 L196.0 507.2 L195.7 507.7 L195.5 508.2 L195.3 508.7 L195.1 509.3 L194.9 509.8 L194.8 510.3 L194.8 510.8 L194.7 511.3 L194.7 511.7 L194.7 512.2 L194.8 512.6 L194.9 513.0 L195.1 513.4 L195.2 513.8 L195.4 514.1 L195.7 514.3 L195.9 514.6 L196.2 514.8 L206.6 520.8 L206.9 520.9 L207.2 521.0 L207.6 521.1 L208.0 521.1 L208.4 521.1 L208.7 521.0 L209.2 520.9 L209.6 520.8 L210.0 520.6 L210.4 520.3 L210.8 520.0 L211.2 519.7 L211.6 519.4 L211.9 519.0 L212.3 518.6 L212.6 518.1 L212.9 517.7 L213.2 517.2 L213.5 516.7 L213.7 516.2 L213.9 515.7 L214.1 515.2 L214.3 514.7 L214.4 514.2 L214.5 513.7 L214.5 513.2 L214.5 512.7 L214.5 512.3 L214.4 511.8 L214.3 511.4 L214.2 511.0 L214.0 510.7 L213.8 510.4 L213.5 510.1 L213.3 509.9 L213.0 509.7Z" fill="#fff" stroke="#111" stroke-width="1.1" stroke-linejoin="round" />
<path d="M205.7 519.8L195.3 513.8M205.1 518.0L194.7 512.0M205.4 515.6L195.0 509.6M206.4 513.2L196.0 507.2M207.9 511.2L197.6 505.2M209.8 509.8L199.4 503.8M211.7 509.3L201.3 503.3" fill="none" stroke="#111" stroke-width="1.3" stroke-linejoin="round" />
<path d="M213.6 508.7 L214.0 509.1 L214.5 509.6 L214.8 510.1 L215.1 510.8 L215.2 511.5 L215.3 512.3 L215.3 513.1 L215.2 514.0 L215.0 514.9 L214.7 515.8 L214.3 516.7 L213.8 517.6 L213.3 518.4 L212.7 519.2 L212.1 519.9 L211.4 520.5 L210.7 521.0 L210.0 521.5 L209.3 521.8 L208.6 522.0 L207.9 522.1 L207.2 522.1 L206.6 522.0 L206.1 521.7 L205.6 521.4 L205.1 520.9 L204.8 520.3 L204.5 519.7 L204.4 519.0 L204.3 518.2 L204.3 517.3 L204.4 516.5 L204.6 515.6 L204.9 514.7 L205.3 513.8 L205.8 512.9 L206.3 512.1 L206.9 511.3 L207.5 510.6 L208.2 510.0 L208.9 509.4 L209.6 509.0 L210.3 508.7 L211.0 508.4 L211.7 508.3 L212.4 508.4 L213.0 508.5 L213.6 508.7Z" fill="#fff" stroke="#111" stroke-width="1.1" stroke-linejoin="round" />
<path d="M212.6 510.5 L212.3 510.3 L212.0 510.2 L211.7 510.2 L211.4 510.2 L211.1 510.2 L210.7 510.2 L210.4 510.3 L210.1 510.5 L209.7 510.6 L209.4 510.8 L209.0 511.1 L208.7 511.3 L208.4 511.6 L208.1 512.0 L207.8 512.3 L207.5 512.7 L207.2 513.1 L207.0 513.5 L206.7 513.9 L206.5 514.3 L206.4 514.7 L206.2 515.2 L206.1 515.6 L206.0 516.0 L205.9 516.4 L205.9 516.9 L205.9 517.3 L205.9 517.6 L206.0 518.0 L206.1 518.3 L206.2 518.7 L206.3 519.0 L206.5 519.2 L206.7 519.4 L206.9 519.6 L207.2 519.8 L211.5 522.3 L211.7 522.4 L212.0 522.5 L212.3 522.6 L212.6 522.6 L213.0 522.6 L213.3 522.5 L213.6 522.4 L214.0 522.3 L214.3 522.1 L214.7 521.9 L215.0 521.7 L215.3 521.4 L215.7 521.1 L216.0 520.8 L216.3 520.5 L216.6 520.1 L216.8 519.7 L217.1 519.3 L217.3 518.9 L217.5 518.5 L217.7 518.0 L217.8 517.6 L218.0 517.2 L218.0 516.7 L218.1 516.3 L218.1 515.9 L218.1 515.5 L218.1 515.1 L218.1 514.8 L218.0 514.4 L217.9 514.1 L217.7 513.8 L217.5 513.5 L217.3 513.3 L217.1 513.1 L216.9 513.0Z" fill="#fff" stroke="#111" stroke-width="1.1" stroke-linejoin="round" />
<path d="M217.4 512.0 L217.9 512.3 L218.2 512.7 L218.5 513.2 L218.7 513.8 L218.9 514.4 L219.0 515.1 L218.9 515.8 L218.8 516.6 L218.7 517.3 L218.4 518.1 L218.1 518.9 L217.7 519.6 L217.2 520.4 L216.7 521.0 L216.2 521.6 L215.6 522.2 L215.0 522.7 L214.4 523.0 L213.7 523.3 L213.1 523.5 L212.5 523.6 L212.0 523.6 L211.4 523.5 L210.9 523.3 L210.5 523.0 L210.1 522.5 L209.8 522.1 L209.6 521.5 L209.5 520.9 L209.4 520.2 L209.4 519.5 L209.5 518.7 L209.7 517.9 L210.0 517.1 L210.3 516.4 L210.7 515.6 L211.2 514.9 L211.7 514.2 L212.2 513.6 L212.8 513.1 L213.4 512.6 L214.0 512.2 L214.6 511.9 L215.3 511.7 L215.9 511.7 L216.4 511.7 L217.0 511.8 L217.4 512.0Z" fill="#fff" stroke="#111" stroke-width="1.1" stroke-linejoin="round" />
<path d="M256.5 509.3 L258.9 506.3 L259.6 506.8 L258.0 510.3 L258.6 510.8 L261.2 508.1 L261.8 508.8 L259.8 512.2 L260.3 512.8 L263.1 510.5 L263.6 511.3 L261.4 514.5 L261.8 515.2 L264.6 513.3 L264.9 514.2 L262.5 517.2 L262.8 518.0 L265.6 516.5 L265.9 517.6 L263.3 520.2 L263.4 521.2 L266.3 520.1 L266.3 521.2 L263.6 523.5 L263.6 524.6 L266.4 524.0 L266.4 525.2 L263.5 527.1 L263.4 528.2 L266.1 528.1 L265.9 529.4 L263.0 530.8 L262.8 532.0 L265.3 532.3 L265.0 533.6 L262.1 534.6 L261.8 535.8 L264.1 536.6 L263.6 537.9 L260.8 538.5 L260.4 539.6 L262.4 540.9 L261.8 542.2 L259.2 542.2 L258.6 543.4 L260.3 545.1 L259.7 546.4 L257.2 545.9 L256.5 547.0 L257.9 549.1 L257.1 550.3 L254.9 549.4 L254.2 550.4 L255.2 552.9 L254.3 554.0 L252.4 552.6 L251.6 553.5 L252.2 556.4 L251.3 557.3 L249.6 555.5 L248.7 556.3 L249.0 559.4 L248.0 560.3 L246.7 558.0 L245.8 558.7 L245.7 562.0 L244.7 562.7 L243.7 560.1 L242.8 560.7 L242.3 564.2 L241.3 564.7 L240.6 561.8 L239.7 562.2 L238.8 565.8 L237.8 566.1 L237.6 563.0 L236.7 563.2 L235.5 566.8 L234.5 567.0 L234.6 563.6 L233.7 563.7 L232.2 567.3 L231.2 567.3 L231.8 563.8 L230.9 563.7 L229.0 567.2 L228.2 567.0 L229.1 563.4 L228.3 563.2 L226.2 566.4 L225.3 566.1 L226.6 562.5 L225.9 562.2 L223.5 565.2 L222.8 564.7 L224.4 561.1 L223.9 560.6 L221.3 563.3 L220.7 562.7 L222.6 559.3 L222.1 558.6 L219.4 561.0 L218.9 560.2 L221.1 557.0 L220.7 556.2 L217.9 558.2 L217.5 557.2 L219.9 554.3 L219.6 553.4 L216.8 554.9 L216.6 553.9 L219.2 551.2 L219.0 550.3 L216.2 551.3 L216.1 550.2 L218.8 547.9 L218.8 546.8 L216.0 547.4 L216.1 546.2 L218.9 544.3 L219.0 543.2 L216.4 543.3 L216.5 542.1 L219.4 540.6 L219.6 539.5 L217.1 539.1 L217.5 537.8 L220.3 536.8 L220.6 535.6 L218.4 534.8 L218.8 533.5 L221.6 533.0 L222.1 531.8 L220.0 530.5 L220.6 529.2 L223.2 529.2 L223.8 528.1 L222.1 526.3 L222.8 525.1 L225.2 525.5 L225.9 524.5 L224.5 522.3 L225.3 521.1 L227.5 522.1 L228.3 521.1 L227.2 518.5 L228.1 517.4 L230.1 518.8 L230.9 517.9 L230.2 515.1 L231.1 514.1 L232.8 515.9 L233.7 515.1 L233.4 512.0 L234.4 511.2 L235.7 513.4 L236.6 512.7 L236.7 509.4 L237.7 508.7 L238.7 511.3 L239.7 510.7 L240.1 507.2 L241.2 506.7 L241.8 509.6 L242.7 509.2 L243.6 505.6 L244.6 505.3 L244.8 508.4 L245.7 508.2 L247.0 504.6 L248.0 504.4 L247.8 507.8 L248.7 507.7 L250.3 504.1 L251.2 504.1 L250.7 507.6 L251.5 507.7 L253.4 504.3 L254.3 504.4 L253.3 508.0 L254.1 508.2 L256.3 505.0 L257.1 505.3 L255.8 508.9Z" fill="#fff" stroke="#111" stroke-width="1.1" stroke-linejoin="round" />
<path d="M257.4 507.6 L255.9 506.8 L254.2 506.3 L252.4 506.0 L250.5 505.9 L248.6 506.0 L246.6 506.4 L244.5 506.9 L242.4 507.7 L240.4 508.7 L238.3 509.9 L236.2 511.4 L234.2 513.0 L232.3 514.7 L230.4 516.7 L228.6 518.7 L226.9 520.9 L225.3 523.2 L223.8 525.7 L222.4 528.1 L221.2 530.7 L220.2 533.3 L219.3 535.9 L218.6 538.5 L218.0 541.1 L217.6 543.6 L217.4 546.1 L217.4 548.5 L217.6 550.8 L217.9 553.0 L218.5 555.0 L219.2 556.9 L220.0 558.7 L221.0 560.2 L222.2 561.6 L223.5 562.8 L225.0 563.8 L235.4 569.8 L237.0 570.6 L238.7 571.1 L240.4 571.5 L242.3 571.6 L244.3 571.4 L246.3 571.1 L248.3 570.5 L250.4 569.7 L252.5 568.7 L254.5 567.5 L256.6 566.1 L258.6 564.5 L260.5 562.7 L262.4 560.8 L264.2 558.7 L265.9 556.5 L267.5 554.2 L269.0 551.8 L270.4 549.3 L271.6 546.7 L272.6 544.2 L273.5 541.6 L274.2 539.0 L274.8 536.4 L275.2 533.8 L275.4 531.4 L275.4 529.0 L275.2 526.7 L274.9 524.5 L274.4 522.4 L273.7 520.5 L272.8 518.8 L271.8 517.2 L270.6 515.8 L269.3 514.6 L267.8 513.6Z" fill="#fff" stroke="#111" stroke-width="1.1" stroke-linejoin="round" />
<path d="M230.3 564.5L218.2 554.2M229.5 562.9L217.8 552.3M228.9 561.1L217.5 550.2M228.4 559.3L217.4 548.1M228.0 557.3L217.5 545.9M227.9 555.2L217.6 543.7M227.8 553.1L218.0 541.4M227.9 550.8L218.4 539.0M228.2 548.6L219.1 536.7M228.6 546.2L219.8 534.3M229.1 543.9L220.7 531.9M229.8 541.5L221.7 529.6M230.6 539.1L222.9 527.3M231.6 536.8L224.2 525.0M232.7 534.5L225.5 522.9M233.9 532.2L227.0 520.8M235.2 530.0L228.6 518.8M236.6 527.8L230.2 516.9M238.1 525.8L231.9 515.1M239.7 523.8L233.7 513.4M241.4 522.0L235.5 511.9M243.1 520.3L237.3 510.6M244.9 518.7L239.2 509.4M246.8 517.3L241.1 508.4M248.6 516.0L243.0 507.5M250.5 514.9L244.9 506.8M252.4 513.9L246.7 506.3M254.3 513.1L248.6 506.0M256.2 512.5L250.3 505.9M258.0 512.1L252.0 505.9M259.8 511.9L253.7 506.2M261.6 511.9L255.3 506.6M263.2 512.0L256.7 507.2M264.9 512.4L258.1 508.0" fill="none" stroke="#111" stroke-width="1.0" stroke-linejoin="round" />
<path d="M266.9 515.3 L269.3 512.3 L270.0 512.8 L268.4 516.3 L269.0 516.8 L271.6 514.1 L272.2 514.8 L270.2 518.2 L270.7 518.8 L273.5 516.5 L274.0 517.3 L271.8 520.5 L272.1 521.2 L275.0 519.3 L275.3 520.2 L272.9 523.2 L273.2 524.0 L276.0 522.5 L276.3 523.6 L273.7 526.2 L273.8 527.2 L276.6 526.1 L276.7 527.2 L274.0 529.5 L274.0 530.6 L276.8 530.0 L276.7 531.2 L273.9 533.1 L273.8 534.2 L276.5 534.1 L276.3 535.4 L273.4 536.8 L273.2 538.0 L275.7 538.3 L275.4 539.6 L272.5 540.6 L272.2 541.8 L274.4 542.6 L274.0 543.9 L271.2 544.5 L270.8 545.6 L272.8 546.9 L272.2 548.2 L269.6 548.2 L269.0 549.4 L270.7 551.1 L270.0 552.4 L267.6 551.9 L266.9 553.0 L268.3 555.1 L267.5 556.3 L265.3 555.4 L264.6 556.4 L265.6 558.9 L264.7 560.0 L262.8 558.6 L261.9 559.5 L262.6 562.4 L261.7 563.3 L260.0 561.5 L259.1 562.3 L259.4 565.4 L258.4 566.3 L257.1 564.0 L256.2 564.7 L256.1 568.0 L255.1 568.7 L254.1 566.1 L253.2 566.7 L252.7 570.2 L251.6 570.7 L251.0 567.8 L250.1 568.2 L249.2 571.8 L248.2 572.1 L248.0 569.0 L247.1 569.2 L245.8 572.8 L244.8 573.0 L245.0 569.6 L244.1 569.7 L242.6 573.3 L241.6 573.3 L242.2 569.8 L241.3 569.7 L239.4 573.2 L238.5 573.0 L239.5 569.4 L238.7 569.2 L236.5 572.4 L235.7 572.1 L237.0 568.5 L236.3 568.2 L233.9 571.2 L233.2 570.7 L234.8 567.1 L234.2 566.6 L231.7 569.3 L231.0 568.7 L233.0 565.3 L232.5 564.6 L229.7 567.0 L229.3 566.2 L231.5 563.0 L231.1 562.2 L228.2 564.2 L227.9 563.2 L230.3 560.3 L230.0 559.4 L227.2 560.9 L226.9 559.9 L229.6 557.2 L229.4 556.3 L226.6 557.3 L226.5 556.2 L229.2 553.9 L229.2 552.8 L226.4 553.4 L226.5 552.2 L229.3 550.3 L229.4 549.2 L226.7 549.3 L226.9 548.1 L229.8 546.6 L230.0 545.5 L227.5 545.1 L227.9 543.8 L230.7 542.8 L231.0 541.6 L228.8 540.8 L229.2 539.5 L232.0 539.0 L232.4 537.8 L230.4 536.5 L231.0 535.2 L233.6 535.2 L234.2 534.1 L232.5 532.3 L233.2 531.1 L235.6 531.5 L236.3 530.5 L234.9 528.3 L235.7 527.1 L237.9 528.1 L238.7 527.1 L237.6 524.5 L238.5 523.4 L240.5 524.8 L241.3 523.9 L240.6 521.1 L241.5 520.1 L243.2 521.9 L244.1 521.1 L243.8 518.0 L244.8 517.2 L246.1 519.4 L247.0 518.7 L247.1 515.4 L248.1 514.7 L249.1 517.3 L250.0 516.7 L250.5 513.2 L251.6 512.7 L252.2 515.6 L253.1 515.2 L254.0 511.6 L255.0 511.3 L255.2 514.4 L256.1 514.2 L257.4 510.6 L258.4 510.4 L258.2 513.8 L259.1 513.7 L260.7 510.1 L261.6 510.1 L261.1 513.6 L261.9 513.7 L263.8 510.3 L264.7 510.4 L263.7 514.0 L264.5 514.2 L266.7 511.0 L267.5 511.3 L266.2 514.9Z" fill="#fff" stroke="#111" stroke-width="1.1" stroke-linejoin="round" />
<path d="M266.0 521.8 L267.3 520.3 L267.8 520.6 L267.0 522.5 L267.4 522.8 L268.8 521.4 L269.2 521.8 L268.3 523.6 L268.6 524.0 L270.1 522.8 L270.4 523.2 L269.4 525.0 L269.6 525.5 L271.1 524.4 L271.4 524.9 L270.2 526.6 L270.5 527.2 L272.0 526.3 L272.2 526.9 L270.9 528.5 L271.1 529.1 L272.6 528.4 L272.8 529.0 L271.4 530.5 L271.5 531.1 L273.0 530.6 L273.1 531.3 L271.7 532.7 L271.7 533.4 L273.2 533.1 L273.2 533.8 L271.7 535.0 L271.7 535.7 L273.1 535.6 L273.0 536.4 L271.5 537.4 L271.4 538.1 L272.7 538.3 L272.6 539.1 L271.1 539.9 L270.9 540.6 L272.2 541.0 L271.9 541.8 L270.4 542.4 L270.2 543.1 L271.4 543.7 L271.1 544.5 L269.6 544.9 L269.3 545.6 L270.3 546.4 L270.0 547.2 L268.5 547.4 L268.2 548.1 L269.1 549.1 L268.7 549.9 L267.3 549.8 L266.9 550.5 L267.7 551.7 L267.2 552.4 L265.9 552.2 L265.4 552.9 L266.1 554.2 L265.6 554.9 L264.3 554.4 L263.8 555.1 L264.3 556.5 L263.8 557.2 L262.7 556.5 L262.1 557.1 L262.4 558.7 L261.8 559.3 L260.9 558.4 L260.3 559.0 L260.4 560.7 L259.8 561.2 L259.0 560.2 L258.4 560.6 L258.3 562.4 L257.7 562.9 L257.0 561.7 L256.4 562.1 L256.2 563.9 L255.5 564.3 L255.0 563.0 L254.4 563.3 L254.0 565.2 L253.4 565.5 L253.0 564.0 L252.4 564.2 L251.9 566.1 L251.2 566.4 L251.0 564.7 L250.4 564.9 L249.7 566.8 L249.1 567.0 L249.0 565.2 L248.5 565.3 L247.6 567.2 L247.0 567.3 L247.1 565.4 L246.6 565.4 L245.6 567.3 L245.0 567.2 L245.3 565.4 L244.8 565.3 L243.7 567.0 L243.1 566.9 L243.6 565.0 L243.1 564.8 L241.9 566.5 L241.4 566.3 L242.0 564.4 L241.6 564.1 L240.2 565.7 L239.8 565.4 L240.6 563.5 L240.2 563.1 L238.8 564.6 L238.4 564.2 L239.3 562.3 L238.9 561.9 L237.5 563.2 L237.1 562.7 L238.2 560.9 L237.9 560.4 L236.4 561.5 L236.1 561.0 L237.3 559.3 L237.1 558.7 L235.5 559.6 L235.3 559.0 L236.6 557.4 L236.4 556.9 L234.9 557.6 L234.8 556.9 L236.1 555.4 L236.0 554.8 L234.5 555.3 L234.5 554.6 L235.9 553.3 L235.9 552.6 L234.4 552.9 L234.4 552.1 L235.9 550.9 L235.9 550.2 L234.5 550.3 L234.5 549.5 L236.1 548.5 L236.2 547.8 L234.8 547.7 L235.0 546.9 L236.5 546.1 L236.6 545.3 L235.4 545.0 L235.6 544.2 L237.1 543.6 L237.3 542.8 L236.2 542.2 L236.5 541.4 L238.0 541.0 L238.3 540.3 L237.2 539.5 L237.6 538.7 L239.0 538.5 L239.4 537.8 L238.4 536.9 L238.9 536.1 L240.2 536.1 L240.6 535.4 L239.9 534.3 L240.3 533.5 L241.6 533.7 L242.1 533.1 L241.5 531.8 L242.0 531.0 L243.2 531.5 L243.7 530.9 L243.2 529.4 L243.8 528.7 L244.9 529.4 L245.4 528.8 L245.1 527.2 L245.7 526.6 L246.7 527.5 L247.3 527.0 L247.1 525.3 L247.7 524.7 L248.6 525.8 L249.2 525.3 L249.2 523.5 L249.8 523.0 L250.5 524.2 L251.1 523.8 L251.3 522.0 L252.0 521.6 L252.5 523.0 L253.1 522.6 L253.5 520.7 L254.2 520.4 L254.5 521.9 L255.1 521.7 L255.7 519.8 L256.3 519.5 L256.5 521.2 L257.1 521.0 L257.8 519.1 L258.5 519.0 L258.5 520.7 L259.1 520.6 L259.9 518.7 L260.6 518.7 L260.4 520.5 L261.0 520.5 L262.0 518.7 L262.5 518.7 L262.2 520.6 L262.8 520.6 L263.9 518.9 L264.4 519.0 L264.0 520.9 L264.4 521.1 L265.7 519.4 L266.2 519.6 L265.5 521.6Z" fill="#fff" stroke="#111" stroke-width="1.2" stroke-linejoin="round" />
<path d="M265.4 522.7 L267.0 523.9 L268.3 525.3 L269.4 527.0 L270.2 529.1 L270.7 531.3 L270.9 533.8 L270.8 536.4 L270.5 539.1 L269.8 541.9 L268.9 544.7 L267.7 547.5 L266.3 550.2 L264.7 552.8 L262.9 555.2 L260.9 557.4 L258.8 559.3 L256.6 561.0 L254.4 562.4 L252.1 563.4 L249.9 564.1 L247.8 564.4 L245.7 564.4 L243.8 564.0 L242.1 563.2 L240.6 562.1 L239.2 560.6 L238.2 558.9 L237.4 556.9 L236.9 554.6 L236.6 552.1 L236.7 549.5 L237.1 546.8 L237.7 544.0 L238.6 541.2 L239.8 538.4 L241.2 535.7 L242.9 533.1 L244.7 530.7 L246.7 528.5 L248.8 526.6 L250.9 524.9 L253.2 523.5 L255.4 522.5 L257.6 521.8 L259.8 521.5 L261.8 521.6 L263.7 522.0 L265.4 522.7Z" fill="none" stroke="#111" stroke-width="1.0" stroke-linejoin="round" />
<path d="M264.4 524.5 L265.8 525.5 L267.0 526.9 L268.0 528.5 L268.7 530.3 L269.2 532.4 L269.4 534.6 L269.3 537.0 L269.0 539.5 L268.4 542.0 L267.6 544.6 L266.5 547.1 L265.2 549.6 L263.7 551.9 L262.1 554.1 L260.3 556.1 L258.3 557.9 L256.4 559.4 L254.3 560.7 L252.3 561.6 L250.3 562.2 L248.3 562.5 L246.4 562.5 L244.7 562.1 L243.1 561.4 L241.7 560.4 L240.5 559.1 L239.6 557.5 L238.8 555.6 L238.4 553.6 L238.2 551.3 L238.2 549.0 L238.5 546.5 L239.1 543.9 L240.0 541.4 L241.0 538.8 L242.3 536.4 L243.8 534.0 L245.5 531.8 L247.3 529.8 L249.2 528.0 L251.2 526.5 L253.2 525.3 L255.3 524.3 L257.3 523.7 L259.2 523.4 L261.1 523.4 L262.8 523.8 L264.4 524.5Z" fill="none" stroke="#111" stroke-width="1.0" stroke-linejoin="round" />
<path d="M261.2 530.2 L262.1 530.9 L263.0 531.8 L263.6 532.9 L264.1 534.2 L264.5 535.6 L264.6 537.2 L264.6 538.8 L264.3 540.5 L263.9 542.3 L263.3 544.1 L262.6 545.8 L261.7 547.5 L260.7 549.2 L259.5 550.7 L258.3 552.1 L256.9 553.3 L255.6 554.4 L254.2 555.2 L252.7 555.9 L251.3 556.3 L250.0 556.5 L248.7 556.5 L247.5 556.2 L246.4 555.8 L245.4 555.0 L244.6 554.1 L243.9 553.0 L243.4 551.7 L243.1 550.3 L242.9 548.8 L243.0 547.1 L243.2 545.4 L243.6 543.6 L244.2 541.9 L244.9 540.1 L245.8 538.4 L246.9 536.8 L248.0 535.2 L249.3 533.8 L250.6 532.6 L252.0 531.5 L253.4 530.7 L254.8 530.0 L256.2 529.6 L257.6 529.4 L258.9 529.4 L260.1 529.7 L261.2 530.2Z" fill="none" stroke="#111" stroke-width="1.4" stroke-linejoin="round" />
<path d="M260.3 531.7 L261.2 532.3 L261.9 533.1 L262.5 534.1 L262.9 535.2 L263.2 536.5 L263.3 537.8 L263.3 539.3 L263.1 540.8 L262.7 542.4 L262.2 543.9 L261.6 545.5 L260.8 547.0 L259.9 548.4 L258.9 549.8 L257.7 551.0 L256.6 552.1 L255.4 553.1 L254.1 553.8 L252.9 554.4 L251.6 554.8 L250.4 555.0 L249.3 554.9 L248.2 554.7 L247.2 554.3 L246.4 553.6 L245.7 552.8 L245.1 551.9 L244.6 550.7 L244.3 549.5 L244.2 548.1 L244.2 546.6 L244.4 545.1 L244.8 543.6 L245.3 542.0 L246.0 540.4 L246.8 538.9 L247.7 537.5 L248.7 536.1 L249.8 534.9 L251.0 533.8 L252.2 532.9 L253.4 532.1 L254.7 531.5 L255.9 531.2 L257.1 531.0 L258.3 531.0 L259.3 531.2 L260.3 531.7Z" fill="none" stroke="#111" stroke-width="1.0" stroke-linejoin="round" />
<path d="M300.3 542.8 L302.0 540.7 L302.5 541.0 L301.4 543.5 L301.8 543.9 L303.6 541.9 L304.1 542.4 L302.7 544.8 L303.1 545.3 L305.0 543.5 L305.4 544.1 L303.8 546.4 L304.1 546.9 L306.1 545.5 L306.4 546.1 L304.7 548.2 L304.9 548.8 L307.0 547.6 L307.2 548.3 L305.3 550.3 L305.5 551.0 L307.5 550.1 L307.6 550.8 L305.7 552.6 L305.8 553.3 L307.8 552.7 L307.8 553.5 L305.8 555.0 L305.8 555.8 L307.7 555.5 L307.6 556.4 L305.6 557.6 L305.5 558.4 L307.4 558.4 L307.2 559.3 L305.2 560.3 L305.0 561.1 L306.7 561.4 L306.5 562.3 L304.5 563.0 L304.2 563.8 L305.8 564.5 L305.4 565.4 L303.5 565.7 L303.2 566.5 L304.6 567.5 L304.2 568.4 L302.3 568.3 L301.9 569.1 L303.1 570.4 L302.6 571.3 L300.9 570.9 L300.4 571.7 L301.4 573.2 L300.9 574.0 L299.3 573.4 L298.8 574.1 L299.5 575.9 L298.9 576.6 L297.5 575.7 L296.9 576.3 L297.5 578.3 L296.8 579.0 L295.6 577.8 L295.0 578.4 L295.3 580.6 L294.6 581.2 L293.6 579.7 L292.9 580.2 L293.0 582.5 L292.3 583.0 L291.4 581.3 L290.8 581.7 L290.6 584.2 L289.9 584.6 L289.3 582.6 L288.6 582.9 L288.2 585.5 L287.4 585.8 L287.1 583.6 L286.5 583.9 L285.8 586.4 L285.1 586.6 L285.0 584.3 L284.4 584.5 L283.4 587.0 L282.7 587.1 L282.9 584.7 L282.3 584.7 L281.1 587.2 L280.5 587.2 L280.9 584.7 L280.3 584.6 L279.0 587.1 L278.4 586.9 L279.0 584.4 L278.5 584.2 L277.0 586.5 L276.4 586.3 L277.3 583.7 L276.8 583.5 L275.1 585.6 L274.6 585.3 L275.8 582.8 L275.3 582.4 L273.5 584.3 L273.1 583.9 L274.4 581.5 L274.1 581.0 L272.1 582.7 L271.8 582.2 L273.3 579.9 L273.0 579.4 L271.0 580.8 L270.7 580.2 L272.4 578.1 L272.2 577.5 L270.2 578.6 L270.0 577.9 L271.8 576.0 L271.7 575.3 L269.6 576.2 L269.5 575.4 L271.4 573.7 L271.4 573.0 L269.4 573.6 L269.4 572.7 L271.4 571.3 L271.4 570.5 L269.4 570.8 L269.5 569.9 L271.5 568.7 L271.6 567.9 L269.8 567.8 L269.9 567.0 L272.0 566.0 L272.2 565.2 L270.4 564.9 L270.7 563.9 L272.7 563.3 L273.0 562.5 L271.4 561.8 L271.7 560.9 L273.7 560.6 L274.0 559.8 L272.6 558.8 L273.0 557.9 L274.9 557.9 L275.3 557.2 L274.0 555.9 L274.5 555.0 L276.3 555.4 L276.7 554.6 L275.7 553.1 L276.3 552.3 L277.9 552.9 L278.4 552.2 L277.6 550.4 L278.2 549.6 L279.7 550.6 L280.2 549.9 L279.7 547.9 L280.3 547.3 L281.6 548.5 L282.2 547.9 L281.9 545.7 L282.6 545.1 L283.6 546.6 L284.2 546.1 L284.2 543.8 L284.9 543.3 L285.7 545.0 L286.3 544.6 L286.6 542.1 L287.3 541.7 L287.9 543.7 L288.5 543.3 L289.0 540.8 L289.7 540.5 L290.0 542.7 L290.7 542.4 L291.4 539.9 L292.1 539.7 L292.2 542.0 L292.8 541.8 L293.7 539.3 L294.4 539.2 L294.2 541.6 L294.8 541.6 L296.0 539.1 L296.7 539.1 L296.2 541.6 L296.8 541.6 L298.2 539.2 L298.8 539.4 L298.1 541.9 L298.6 542.1 L300.2 539.8 L300.8 540.0 L299.8 542.5Z" fill="#fff" stroke="#111" stroke-width="1.2" stroke-linejoin="round" />
<path d="M300.4 542.7 L301.9 543.9 L303.2 545.3 L304.3 547.1 L305.1 549.1 L305.6 551.4 L305.9 553.9 L305.8 556.5 L305.4 559.3 L304.8 562.1 L303.8 564.9 L302.7 567.7 L301.2 570.4 L299.6 573.0 L297.7 575.5 L295.8 577.7 L293.6 579.7 L291.4 581.4 L289.2 582.7 L286.9 583.8 L284.7 584.5 L282.5 584.8 L280.5 584.7 L278.5 584.3 L276.8 583.5 L275.2 582.4 L273.9 581.0 L272.8 579.2 L272.0 577.2 L271.5 574.9 L271.3 572.4 L271.4 569.8 L271.7 567.0 L272.4 564.2 L273.3 561.4 L274.5 558.6 L275.9 555.8 L277.6 553.2 L279.4 550.8 L281.4 548.6 L283.5 546.6 L285.7 544.9 L288.0 543.6 L290.2 542.5 L292.5 541.8 L294.6 541.5 L296.7 541.5 L298.6 542.0 L300.4 542.7Z" fill="none" stroke="#111" stroke-width="1.0" stroke-linejoin="round" />
<clipPath id="c7"><path d="M299.6 544.1 L301.0 545.2 L302.3 546.5 L303.3 548.2 L304.0 550.1 L304.5 552.2 L304.7 554.5 L304.6 557.0 L304.3 559.5 L303.7 562.2 L302.8 564.8 L301.7 567.4 L300.4 570.0 L298.8 572.4 L297.1 574.7 L295.3 576.7 L293.3 578.6 L291.2 580.1 L289.1 581.4 L287.0 582.4 L285.0 583.0 L282.9 583.3 L281.0 583.3 L279.2 582.9 L277.6 582.2 L276.1 581.1 L274.9 579.8 L273.9 578.1 L273.1 576.2 L272.7 574.1 L272.4 571.8 L272.5 569.3 L272.9 566.8 L273.5 564.1 L274.3 561.5 L275.4 558.9 L276.8 556.3 L278.3 553.9 L280.0 551.6 L281.9 549.6 L283.8 547.7 L285.9 546.1 L288.0 544.9 L290.1 543.9 L292.2 543.2 L294.2 542.9 L296.1 543.0 L297.9 543.4 L299.6 544.1Z"/></clipPath>
<path d="M299.6 544.1 L301.0 545.2 L302.3 546.5 L303.3 548.2 L304.0 550.1 L304.5 552.2 L304.7 554.5 L304.6 557.0 L304.3 559.5 L303.7 562.2 L302.8 564.8 L301.7 567.4 L300.4 570.0 L298.8 572.4 L297.1 574.7 L295.3 576.7 L293.3 578.6 L291.2 580.1 L289.1 581.4 L287.0 582.4 L285.0 583.0 L282.9 583.3 L281.0 583.3 L279.2 582.9 L277.6 582.2 L276.1 581.1 L274.9 579.8 L273.9 578.1 L273.1 576.2 L272.7 574.1 L272.4 571.8 L272.5 569.3 L272.9 566.8 L273.5 564.1 L274.3 561.5 L275.4 558.9 L276.8 556.3 L278.3 553.9 L280.0 551.6 L281.9 549.6 L283.8 547.7 L285.9 546.1 L288.0 544.9 L290.1 543.9 L292.2 543.2 L294.2 542.9 L296.1 543.0 L297.9 543.4 L299.6 544.1Z" fill="none" stroke="#111" stroke-width="1.2" stroke-linejoin="round" />
<g clip-path="url(#c7)">
<path d="M294.7 542.5 L296.1 543.5 L297.3 544.8 L298.2 546.4 L298.9 548.2 L299.4 550.2 L299.6 552.4 L299.5 554.8 L299.2 557.2 L298.6 559.7 L297.8 562.2 L296.8 564.7 L295.5 567.1 L294.0 569.4 L292.4 571.6 L290.6 573.6 L288.7 575.3 L286.8 576.8 L284.8 578.1 L282.8 579.0 L280.8 579.6 L278.9 579.9 L277.0 579.8 L275.3 579.5 L273.8 578.8 L272.4 577.8 L271.2 576.5 L270.3 574.9 L269.6 573.1 L269.1 571.1 L268.9 568.9 L268.9 566.5 L269.3 564.1 L269.8 561.6 L270.7 559.1 L271.7 556.6 L273.0 554.2 L274.5 551.8 L276.1 549.7 L277.9 547.7 L279.7 546.0 L281.7 544.5 L283.7 543.2 L285.7 542.3 L287.7 541.7 L289.6 541.4 L291.4 541.4 L293.2 541.8 L294.7 542.5Z" fill="none" stroke="#111" stroke-width="1.2" stroke-linejoin="round" />
<path d="M304.7 554.8L299.6 552.7M298.2 573.2L293.4 570.3M285.2 583.0L281.1 579.5" fill="none" stroke="#111" stroke-width="1.0" stroke-linejoin="round" />
</g>
<path d="M511.6 482.4 L513.1 480.6 L513.7 480.9 L512.7 483.2 L513.2 483.6 L514.8 481.9 L515.3 482.4 L514.1 484.6 L514.5 485.1 L516.3 483.7 L516.7 484.2 L515.3 486.3 L515.6 486.9 L517.4 485.7 L517.7 486.4 L516.2 488.4 L516.5 489.0 L518.3 488.1 L518.5 488.8 L516.9 490.6 L517.0 491.4 L518.8 490.7 L518.9 491.5 L517.2 493.1 L517.2 493.9 L519.0 493.6 L519.0 494.4 L517.2 495.8 L517.2 496.6 L518.9 496.6 L518.8 497.5 L516.9 498.6 L516.8 499.5 L518.4 499.7 L518.2 500.7 L516.3 501.5 L516.1 502.4 L517.6 502.9 L517.3 503.9 L515.5 504.4 L515.2 505.3 L516.5 506.1 L516.1 507.1 L514.3 507.3 L513.9 508.2 L515.1 509.3 L514.6 510.2 L512.9 510.2 L512.5 511.0 L513.4 512.3 L512.8 513.2 L511.3 512.9 L510.8 513.7 L511.5 515.2 L510.9 516.1 L509.5 515.4 L508.9 516.2 L509.4 518.0 L508.7 518.7 L507.5 517.8 L506.8 518.5 L507.1 520.4 L506.4 521.1 L505.3 519.9 L504.6 520.5 L504.7 522.6 L503.9 523.2 L503.1 521.7 L502.4 522.2 L502.2 524.4 L501.4 524.9 L500.8 523.3 L500.1 523.7 L499.6 525.9 L498.8 526.3 L498.4 524.4 L497.7 524.7 L497.1 527.0 L496.3 527.3 L496.1 525.3 L495.4 525.4 L494.5 527.7 L493.8 527.8 L493.9 525.7 L493.2 525.8 L492.1 528.0 L491.4 528.0 L491.7 525.8 L491.1 525.7 L489.8 527.9 L489.1 527.7 L489.7 525.5 L489.1 525.3 L487.7 527.3 L487.1 527.1 L487.8 524.8 L487.3 524.5 L485.7 526.3 L485.2 526.0 L486.1 523.7 L485.7 523.3 L484.0 525.0 L483.5 524.5 L484.7 522.3 L484.3 521.8 L482.6 523.3 L482.2 522.7 L483.5 520.6 L483.2 520.0 L481.4 521.2 L481.1 520.5 L482.6 518.6 L482.4 517.9 L480.6 518.8 L480.4 518.1 L482.0 516.3 L481.9 515.6 L480.0 516.2 L480.0 515.4 L481.7 513.8 L481.6 513.0 L479.9 513.4 L479.9 512.5 L481.6 511.1 L481.7 510.3 L480.0 510.3 L480.1 509.4 L481.9 508.3 L482.1 507.5 L480.5 507.2 L480.7 506.3 L482.5 505.4 L482.7 504.6 L481.3 504.0 L481.6 503.1 L483.4 502.5 L483.7 501.6 L482.4 500.8 L482.8 499.9 L484.5 499.6 L484.9 498.7 L483.8 497.6 L484.3 496.7 L485.9 496.8 L486.4 495.9 L485.5 494.6 L486.0 493.7 L487.6 494.0 L488.1 493.3 L487.4 491.7 L488.0 490.8 L489.4 491.5 L490.0 490.7 L489.5 489.0 L490.1 488.2 L491.4 489.1 L492.0 488.5 L491.8 486.5 L492.5 485.8 L493.5 487.0 L494.2 486.4 L494.2 484.3 L494.9 483.7 L495.8 485.2 L496.5 484.7 L496.7 482.5 L497.5 482.0 L498.1 483.7 L498.8 483.3 L499.2 481.0 L500.0 480.6 L500.4 482.5 L501.1 482.2 L501.8 479.9 L502.6 479.7 L502.7 481.7 L503.4 481.5 L504.3 479.2 L505.1 479.1 L505.0 481.2 L505.7 481.2 L506.7 478.9 L507.5 478.9 L507.2 481.1 L507.8 481.2 L509.1 479.1 L509.7 479.2 L509.2 481.5 L509.8 481.6 L511.2 479.6 L511.8 479.9 L511.0 482.2Z" fill="none" stroke="#111" stroke-width="1.5" stroke-linejoin="round" />
<path d="M510.9 483.6 L512.4 484.7 L513.7 486.1 L514.7 487.8 L515.5 489.8 L516.0 492.0 L516.3 494.4 L516.2 497.0 L515.8 499.7 L515.2 502.4 L514.3 505.2 L513.1 507.9 L511.7 510.6 L510.1 513.1 L508.4 515.5 L506.4 517.6 L504.4 519.6 L502.2 521.2 L500.0 522.5 L497.8 523.6 L495.7 524.2 L493.5 524.5 L491.5 524.5 L489.7 524.1 L488.0 523.3 L486.4 522.2 L485.2 520.8 L484.1 519.1 L483.3 517.1 L482.8 514.9 L482.6 512.5 L482.7 509.9 L483.0 507.2 L483.7 504.5 L484.6 501.7 L485.7 499.0 L487.1 496.3 L488.7 493.8 L490.5 491.4 L492.4 489.3 L494.5 487.4 L496.6 485.7 L498.8 484.4 L501.0 483.4 L503.2 482.7 L505.3 482.4 L507.3 482.4 L509.2 482.8 L510.9 483.6Z" fill="none" stroke="#111" stroke-width="1.2" stroke-linejoin="round" />
<path d="M510.1 485.0 L511.5 486.0 L512.7 487.3 L513.7 488.9 L514.4 490.8 L514.9 492.8 L515.1 495.1 L515.0 497.5 L514.7 499.9 L514.1 502.5 L513.3 505.1 L512.2 507.6 L510.9 510.1 L509.4 512.4 L507.7 514.6 L505.9 516.6 L504.0 518.4 L502.0 520.0 L500.0 521.2 L497.9 522.2 L495.9 522.8 L494.0 523.1 L492.1 523.0 L490.3 522.6 L488.8 521.9 L487.3 520.9 L486.2 519.6 L485.2 518.0 L484.5 516.2 L484.0 514.1 L483.8 511.9 L483.8 509.5 L484.2 507.0 L484.8 504.4 L485.6 501.9 L486.7 499.3 L488.0 496.8 L489.5 494.5 L491.1 492.3 L492.9 490.3 L494.8 488.5 L496.8 487.0 L498.9 485.7 L500.9 484.8 L502.9 484.1 L504.9 483.8 L506.8 483.9 L508.5 484.3 L510.1 485.0Z" fill="none" stroke="#111" stroke-width="0.8" stroke-linejoin="round" />
<path d="M552.4 504.4 L551.1 503.7 L549.8 503.3 L548.3 503.0 L546.8 502.9 L545.2 503.0 L543.6 503.3 L541.9 503.8 L540.2 504.4 L538.5 505.3 L536.9 506.3 L535.2 507.4 L533.6 508.7 L532.0 510.1 L530.4 511.7 L529.0 513.4 L527.6 515.2 L526.3 517.1 L525.1 519.0 L524.0 521.1 L523.0 523.1 L522.1 525.2 L521.4 527.3 L520.8 529.5 L520.4 531.6 L520.1 533.6 L519.9 535.6 L519.9 537.6 L520.0 539.5 L520.3 541.2 L520.7 542.9 L521.3 544.5 L522.0 545.9 L522.8 547.2 L523.8 548.3 L524.9 549.3 L526.0 550.1 L528.6 551.6 L529.9 552.2 L531.3 552.6 L532.8 552.9 L534.3 553.0 L535.9 552.9 L537.5 552.6 L539.1 552.1 L540.8 551.5 L542.5 550.7 L544.2 549.7 L545.9 548.5 L547.5 547.2 L549.1 545.8 L550.6 544.2 L552.1 542.5 L553.5 540.7 L554.8 538.9 L556.0 536.9 L557.1 534.9 L558.1 532.8 L558.9 530.7 L559.7 528.6 L560.3 526.5 L560.7 524.4 L561.0 522.3 L561.2 520.3 L561.2 518.3 L561.0 516.5 L560.8 514.7 L560.3 513.0 L559.8 511.5 L559.1 510.0 L558.2 508.7 L557.3 507.6 L556.2 506.7 L555.0 505.9Z" fill="#fff" stroke="#111" stroke-width="1.2" stroke-linejoin="round" />
<path d="M555.6 504.9 L557.4 506.2 L558.9 507.9 L560.2 510.0 L561.1 512.4 L561.7 515.0 L562.0 517.9 L561.9 521.0 L561.5 524.2 L560.7 527.5 L559.6 530.8 L558.3 534.1 L556.6 537.2 L554.7 540.3 L552.5 543.1 L550.2 545.7 L547.7 548.0 L545.2 550.0 L542.5 551.6 L539.9 552.8 L537.3 553.6 L534.8 554.0 L532.4 553.9 L530.1 553.4 L528.1 552.5 L526.3 551.2 L524.7 549.5 L523.5 547.4 L522.5 545.1 L521.9 542.4 L521.7 539.5 L521.7 536.4 L522.2 533.2 L522.9 529.9 L524.0 526.6 L525.4 523.4 L527.1 520.2 L529.0 517.2 L531.1 514.3 L533.5 511.7 L535.9 509.4 L538.5 507.5 L541.1 505.8 L543.7 504.6 L546.4 503.8 L548.9 503.5 L551.3 503.5 L553.5 504.0 L555.6 504.9Z" fill="#fff" stroke="#111" stroke-width="1.2" stroke-linejoin="round" />
<path d="M555.0 505.9 L556.8 507.1 L558.2 508.7 L559.4 510.7 L560.3 513.0 L560.9 515.6 L561.2 518.3 L561.1 521.3 L560.7 524.4 L560.0 527.5 L558.9 530.7 L557.6 533.8 L556.0 536.9 L554.2 539.8 L552.1 542.5 L549.9 545.0 L547.5 547.2 L545.0 549.1 L542.5 550.7 L540.0 551.8 L537.5 552.6 L535.1 553.0 L532.8 552.9 L530.6 552.4 L528.6 551.6 L526.9 550.3 L525.4 548.7 L524.2 546.7 L523.3 544.4 L522.7 541.9 L522.5 539.1 L522.6 536.1 L523.0 533.1 L523.7 529.9 L524.7 526.7 L526.1 523.6 L527.7 520.5 L529.5 517.6 L531.6 514.9 L533.8 512.4 L536.2 510.2 L538.6 508.3 L541.1 506.8 L543.7 505.6 L546.2 504.8 L548.6 504.5 L550.9 504.5 L553.1 505.0 L555.0 505.9Z" fill="none" stroke="#111" stroke-width="0.6" stroke-linejoin="round" />
<path d="M546.2 515.8 L547.1 516.5 L547.9 517.3 L548.5 518.3 L549.0 519.5 L549.3 520.9 L549.4 522.3 L549.4 523.8 L549.2 525.4 L548.8 527.1 L548.2 528.7 L547.5 530.4 L546.7 532.0 L545.8 533.5 L544.7 534.9 L543.5 536.2 L542.3 537.4 L541.0 538.3 L539.7 539.1 L538.4 539.8 L537.1 540.2 L535.8 540.3 L534.6 540.3 L533.5 540.1 L532.5 539.6 L531.6 539.0 L530.8 538.1 L530.2 537.1 L529.7 535.9 L529.4 534.6 L529.3 533.1 L529.3 531.6 L529.5 530.0 L529.9 528.3 L530.4 526.7 L531.1 525.0 L531.9 523.4 L532.9 521.9 L534.0 520.5 L535.1 519.2 L536.4 518.1 L537.7 517.1 L539.0 516.3 L540.3 515.7 L541.6 515.3 L542.9 515.1 L544.1 515.1 L545.2 515.4 L546.2 515.8Z" fill="none" stroke="#111" stroke-width="1.0" stroke-linejoin="round" />
<path d="M546.1 519.2 L546.7 519.7 L547.3 520.3 L547.8 521.1 L548.2 522.0 L548.4 523.0 L548.5 524.1 L548.5 525.3 L548.3 526.5 L548.0 527.7 L547.6 529.0 L547.1 530.2 L546.4 531.4 L545.7 532.6 L544.9 533.7 L544.0 534.7 L543.1 535.5 L542.1 536.3 L541.1 536.9 L540.1 537.4 L539.1 537.7 L538.2 537.8 L537.2 537.8 L536.4 537.6 L535.6 537.3 L534.9 536.8 L534.3 536.1 L533.9 535.3 L533.5 534.4 L533.3 533.4 L533.2 532.3 L533.2 531.1 L533.4 529.9 L533.6 528.7 L534.1 527.4 L534.6 526.2 L535.2 525.0 L536.0 523.8 L536.8 522.7 L537.6 521.8 L538.6 520.9 L539.6 520.1 L540.6 519.5 L541.6 519.1 L542.5 518.8 L543.5 518.6 L544.4 518.6 L545.3 518.8 L546.1 519.2Z" fill="none" stroke="#111" stroke-width="1.0" stroke-linejoin="round" />
<path d="M534.3 531.7Q539.3 529.7 542.3 520.7M533.3 524.7Q541.3 524.7 546.3 531.7M539.3 536.7Q540.3 527.7 536.3 519.7" fill="none" stroke="#111" stroke-width="1.0" stroke-linejoin="round" />
<path d="M582.0 536.8 L581.4 536.5 L580.8 536.3 L580.1 536.2 L579.4 536.1 L578.7 536.2 L578.0 536.3 L577.2 536.5 L576.5 536.8 L575.7 537.2 L574.9 537.6 L574.2 538.1 L573.5 538.7 L572.7 539.4 L572.1 540.1 L571.4 540.8 L570.8 541.7 L570.2 542.5 L569.6 543.4 L569.1 544.3 L568.7 545.2 L568.3 546.2 L568.0 547.1 L567.7 548.1 L567.5 549.0 L567.4 549.9 L567.3 550.9 L567.3 551.7 L567.4 552.6 L567.5 553.4 L567.7 554.1 L567.9 554.8 L568.3 555.5 L568.6 556.0 L569.1 556.6 L569.5 557.0 L570.1 557.3 L573.5 559.3 L574.1 559.6 L574.7 559.8 L575.4 560.0 L576.1 560.0 L576.8 559.9 L577.5 559.8 L578.3 559.6 L579.0 559.3 L579.8 558.9 L580.5 558.5 L581.3 558.0 L582.0 557.4 L582.8 556.7 L583.4 556.0 L584.1 555.3 L584.7 554.5 L585.3 553.6 L585.9 552.7 L586.4 551.8 L586.8 550.9 L587.2 550.0 L587.5 549.0 L587.8 548.1 L588.0 547.1 L588.1 546.2 L588.2 545.3 L588.2 544.4 L588.1 543.6 L588.0 542.8 L587.8 542.0 L587.6 541.3 L587.2 540.7 L586.9 540.1 L586.4 539.6 L586.0 539.1 L585.4 538.8Z" fill="#fff" stroke="#111" stroke-width="1.3" stroke-linejoin="round" />
<path d="M586.0 537.8 L586.8 538.4 L587.6 539.3 L588.1 540.2 L588.6 541.3 L588.9 542.6 L589.0 544.0 L589.0 545.4 L588.8 546.9 L588.4 548.5 L587.9 550.0 L587.2 551.6 L586.4 553.1 L585.5 554.5 L584.5 555.9 L583.4 557.1 L582.3 558.2 L581.1 559.1 L579.8 559.9 L578.6 560.4 L577.3 560.8 L576.2 561.0 L575.0 561.0 L574.0 560.7 L573.0 560.3 L572.1 559.7 L571.4 558.9 L570.8 557.9 L570.4 556.8 L570.1 555.5 L570.0 554.2 L570.0 552.7 L570.2 551.2 L570.6 549.6 L571.1 548.1 L571.7 546.5 L572.5 545.0 L573.4 543.6 L574.4 542.3 L575.5 541.0 L576.7 540.0 L577.9 539.0 L579.1 538.3 L580.4 537.7 L581.6 537.3 L582.8 537.1 L583.9 537.2 L585.0 537.4 L586.0 537.8Z" fill="#fff" stroke="#111" stroke-width="1.3" stroke-linejoin="round" />
<path d="M584.2 541.0 L584.8 541.4 L585.3 542.0 L585.7 542.7 L586.0 543.5 L586.2 544.4 L586.3 545.4 L586.3 546.4 L586.2 547.5 L585.9 548.6 L585.5 549.8 L585.1 550.9 L584.5 552.0 L583.8 553.0 L583.1 554.0 L582.3 554.8 L581.5 555.6 L580.6 556.3 L579.7 556.8 L578.8 557.2 L577.9 557.5 L577.1 557.6 L576.3 557.6 L575.5 557.5 L574.8 557.2 L574.2 556.7 L573.7 556.1 L573.2 555.4 L572.9 554.6 L572.7 553.7 L572.6 552.7 L572.7 551.7 L572.8 550.6 L573.1 549.5 L573.4 548.4 L573.9 547.2 L574.5 546.2 L575.1 545.1 L575.8 544.2 L576.6 543.3 L577.5 542.5 L578.3 541.8 L579.2 541.3 L580.1 540.9 L581.0 540.6 L581.9 540.5 L582.7 540.5 L583.5 540.7 L584.2 541.0Z" fill="none" stroke="#111" stroke-width="2.2" stroke-linejoin="round" />
<path d="M582.7 543.4 L583.2 543.8 L583.5 544.2 L583.8 544.6 L584.0 545.2 L584.2 545.8 L584.2 546.5 L584.2 547.2 L584.1 548.0 L583.9 548.8 L583.7 549.6 L583.4 550.3 L583.0 551.1 L582.5 551.8 L582.0 552.5 L581.5 553.1 L580.9 553.6 L580.3 554.1 L579.7 554.5 L579.0 554.7 L578.4 554.9 L577.8 555.0 L577.2 555.0 L576.7 554.9 L576.2 554.7 L575.8 554.4 L575.4 554.0 L575.2 553.5 L574.9 552.9 L574.8 552.3 L574.7 551.6 L574.7 550.9 L574.8 550.1 L575.0 549.4 L575.3 548.6 L575.6 547.8 L576.0 547.1 L576.5 546.3 L577.0 545.7 L577.5 545.1 L578.1 544.5 L578.7 544.0 L579.3 543.7 L579.9 543.4 L580.5 543.2 L581.1 543.1 L581.7 543.1 L582.2 543.2 L582.7 543.4Z" fill="none" stroke="#111" stroke-width="1.4" stroke-linejoin="round" />
<path d="M608.4 555.6 L610.4 555.0 L611.5 557.0 L610.5 559.5 L610.3 562.0 L611.1 563.8 L609.7 566.9 L607.6 567.9 L605.8 569.9 L604.5 572.3 L602.0 573.3 L601.0 571.8 L599.3 571.4 L597.3 572.0 L596.2 570.0 L597.2 567.4 L597.3 565.0 L596.6 563.2 L598.0 560.1 L600.0 559.1 L601.9 557.1 L603.1 554.7 L605.6 553.6 L606.6 555.1Z" fill="#fff" stroke="#111" stroke-width="1.3" stroke-linejoin="round" />
<path d="M608.8 554.8 L608.3 554.6 L607.8 554.4 L607.3 554.3 L606.7 554.3 L606.1 554.3 L605.5 554.4 L604.8 554.6 L604.2 554.9 L603.6 555.2 L602.9 555.5 L602.3 556.0 L601.7 556.5 L601.1 557.0 L600.5 557.6 L599.9 558.3 L599.4 558.9 L598.9 559.6 L598.5 560.4 L598.0 561.2 L597.7 561.9 L597.3 562.7 L597.1 563.5 L596.8 564.3 L596.7 565.1 L596.6 565.9 L596.5 566.7 L596.5 567.4 L596.5 568.1 L596.6 568.8 L596.8 569.4 L597.0 570.0 L597.3 570.6 L597.6 571.0 L598.0 571.5 L598.4 571.8 L598.8 572.1 L604.0 575.1 L604.5 575.4 L605.0 575.5 L605.6 575.6 L606.2 575.7 L606.8 575.6 L607.4 575.5 L608.0 575.3 L608.6 575.1 L609.3 574.8 L609.9 574.4 L610.5 574.0 L611.2 573.5 L611.8 572.9 L612.3 572.4 L612.9 571.7 L613.4 571.0 L613.9 570.3 L614.4 569.6 L614.8 568.8 L615.2 568.0 L615.5 567.2 L615.8 566.4 L616.0 565.6 L616.2 564.8 L616.3 564.1 L616.3 563.3 L616.3 562.6 L616.3 561.8 L616.2 561.2 L616.0 560.5 L615.8 560.0 L615.5 559.4 L615.2 558.9 L614.9 558.5 L614.5 558.1 L614.0 557.8Z" fill="#fff" stroke="#111" stroke-width="1.3" stroke-linejoin="round" />
<path d="M602.4 573.5L597.2 570.5M601.7 569.9L596.5 566.9M602.6 565.5L597.4 562.5M605.0 561.4L599.8 558.4M608.3 558.4L603.1 555.4M611.8 557.3L606.6 554.3" fill="none" stroke="#111" stroke-width="0.9" stroke-linejoin="round" />
<path d="M613.6 558.6 L615.6 558.0 L616.7 560.0 L615.7 562.5 L615.5 565.0 L616.3 566.8 L614.9 569.9 L612.8 570.9 L611.0 572.9 L609.7 575.3 L607.2 576.3 L606.2 574.8 L604.5 574.4 L602.5 575.0 L601.4 573.0 L602.4 570.4 L602.5 568.0 L601.8 566.2 L603.2 563.1 L605.2 562.1 L607.1 560.1 L608.3 557.7 L610.8 556.6 L611.8 558.1Z" fill="#fff" stroke="#111" stroke-width="1.3" stroke-linejoin="round" />
<path d="M612.9 559.7 L613.4 560.1 L613.9 560.6 L614.2 561.1 L614.5 561.8 L614.7 562.6 L614.8 563.4 L614.7 564.3 L614.6 565.2 L614.4 566.1 L614.1 567.1 L613.7 568.0 L613.2 568.9 L612.7 569.8 L612.1 570.6 L611.4 571.3 L610.7 572.0 L610.0 572.5 L609.2 573.0 L608.5 573.4 L607.7 573.6 L607.0 573.7 L606.3 573.7 L605.7 573.5 L605.1 573.3 L604.6 572.9 L604.1 572.4 L603.8 571.8 L603.5 571.1 L603.3 570.4 L603.3 569.6 L603.3 568.7 L603.4 567.8 L603.6 566.8 L603.9 565.9 L604.3 565.0 L604.8 564.1 L605.3 563.2 L606.0 562.4 L606.6 561.6 L607.3 561.0 L608.1 560.4 L608.8 560.0 L609.6 559.6 L610.3 559.4 L611.0 559.3 L611.7 559.3 L612.3 559.4 L612.9 559.7Z" fill="none" stroke="#111" stroke-width="1.2" stroke-linejoin="round" />
<path d="M611.7 561.8 L612.1 562.0 L612.4 562.4 L612.6 562.8 L612.8 563.2 L613.0 563.8 L613.0 564.3 L613.0 565.0 L612.9 565.6 L612.8 566.2 L612.5 566.9 L612.3 567.5 L611.9 568.2 L611.6 568.8 L611.1 569.3 L610.7 569.8 L610.2 570.3 L609.7 570.7 L609.2 571.0 L608.6 571.3 L608.1 571.4 L607.6 571.5 L607.1 571.5 L606.7 571.4 L606.3 571.2 L605.9 570.9 L605.6 570.6 L605.4 570.2 L605.2 569.7 L605.1 569.2 L605.0 568.6 L605.0 568.0 L605.1 567.4 L605.3 566.7 L605.5 566.1 L605.8 565.4 L606.1 564.8 L606.5 564.2 L606.9 563.6 L607.4 563.1 L607.8 562.7 L608.3 562.3 L608.9 562.0 L609.4 561.7 L609.9 561.6 L610.4 561.5 L610.9 561.5 L611.3 561.6 L611.7 561.8Z" fill="none" stroke="#111" stroke-width="1.6" stroke-linejoin="round" />
<path d="M611.1 562.9 L611.4 563.1 L611.6 563.4 L611.8 563.7 L611.9 564.0 L612.0 564.4 L612.0 564.9 L612.0 565.3 L612.0 565.8 L611.9 566.3 L611.7 566.8 L611.5 567.3 L611.2 567.8 L610.9 568.2 L610.6 568.6 L610.3 569.0 L609.9 569.4 L609.5 569.7 L609.1 569.9 L608.7 570.1 L608.3 570.2 L607.9 570.3 L607.6 570.3 L607.2 570.2 L606.9 570.1 L606.7 569.9 L606.4 569.6 L606.2 569.3 L606.1 568.9 L606.0 568.5 L606.0 568.1 L606.0 567.6 L606.1 567.2 L606.2 566.7 L606.3 566.2 L606.5 565.7 L606.8 565.2 L607.1 564.7 L607.4 564.3 L607.7 563.9 L608.1 563.6 L608.5 563.3 L608.9 563.0 L609.3 562.9 L609.7 562.7 L610.1 562.7 L610.4 562.7 L610.8 562.8 L611.1 562.9Z" fill="none" stroke="#111" stroke-width="1.0" stroke-linejoin="round" />
<path d="M72.0 583.7 L74.2 580.8 L74.8 581.3 L73.3 584.6 L73.8 585.0 L76.2 582.5 L76.8 583.0 L74.9 586.2 L75.3 586.8 L77.9 584.5 L78.4 585.3 L76.3 588.3 L76.6 588.9 L79.2 587.1 L79.6 587.9 L77.3 590.6 L77.5 591.4 L80.2 589.9 L80.4 590.9 L77.9 593.3 L78.0 594.2 L80.7 593.1 L80.8 594.1 L78.2 596.2 L78.2 597.2 L80.9 596.6 L80.8 597.6 L78.1 599.4 L78.1 600.3 L80.6 600.2 L80.4 601.3 L77.7 602.7 L77.5 603.7 L79.9 604.0 L79.6 605.1 L76.9 606.0 L76.6 607.0 L78.8 607.8 L78.4 608.9 L75.8 609.4 L75.4 610.4 L77.3 611.6 L76.8 612.7 L74.3 612.7 L73.8 613.7 L75.5 615.3 L74.9 616.4 L72.6 615.9 L72.0 616.9 L73.3 618.9 L72.7 619.9 L70.6 619.0 L69.9 619.9 L70.9 622.2 L70.2 623.2 L68.3 621.8 L67.6 622.6 L68.3 625.3 L67.5 626.1 L65.9 624.4 L65.1 625.1 L65.5 628.0 L64.6 628.8 L63.3 626.6 L62.6 627.2 L62.5 630.3 L61.6 631.0 L60.7 628.5 L59.9 628.9 L59.5 632.2 L58.5 632.7 L58.0 629.9 L57.2 630.3 L56.4 633.6 L55.5 634.0 L55.3 631.0 L54.5 631.2 L53.4 634.6 L52.5 634.7 L52.7 631.5 L51.9 631.6 L50.5 635.0 L49.6 635.0 L50.2 631.7 L49.5 631.6 L47.7 634.9 L46.9 634.7 L47.8 631.3 L47.2 631.2 L45.1 634.2 L44.4 633.9 L45.7 630.6 L45.1 630.2 L42.8 633.1 L42.2 632.7 L43.8 629.3 L43.2 628.9 L40.8 631.5 L40.3 630.9 L42.1 627.7 L41.7 627.1 L39.1 629.4 L38.7 628.7 L40.8 625.7 L40.4 625.0 L37.8 626.9 L37.5 626.1 L39.8 623.3 L39.5 622.5 L36.8 624.0 L36.6 623.1 L39.1 620.6 L39.0 619.8 L36.3 620.8 L36.2 619.8 L38.8 617.7 L38.8 616.8 L36.2 617.4 L36.2 616.3 L38.9 614.6 L39.0 613.6 L36.4 613.7 L36.6 612.6 L39.3 611.3 L39.5 610.3 L37.1 610.0 L37.4 608.8 L40.1 607.9 L40.4 606.9 L38.2 606.1 L38.6 605.0 L41.2 604.5 L41.6 603.5 L39.7 602.3 L40.2 601.2 L42.7 601.2 L43.2 600.2 L41.5 598.6 L42.1 597.5 L44.5 598.0 L45.0 597.1 L43.7 595.0 L44.4 594.0 L46.5 594.9 L47.1 594.1 L46.1 591.7 L46.9 590.7 L48.7 592.1 L49.4 591.3 L48.7 588.6 L49.6 587.8 L51.1 589.6 L51.9 588.9 L51.6 585.9 L52.4 585.2 L53.7 587.3 L54.5 586.7 L54.5 583.6 L55.4 583.0 L56.3 585.5 L57.1 585.0 L57.6 581.7 L58.5 581.2 L59.0 584.0 L59.8 583.7 L60.6 580.3 L61.5 580.0 L61.7 583.0 L62.5 582.7 L63.6 579.4 L64.5 579.2 L64.3 582.4 L65.1 582.3 L66.5 579.0 L67.4 578.9 L66.8 582.3 L67.6 582.3 L69.3 579.1 L70.1 579.2 L69.2 582.6 L69.9 582.8 L71.9 579.7 L72.6 580.0 L71.3 583.4Z" fill="#fff" stroke="#111" stroke-width="1.1" stroke-linejoin="round" />
<path d="M72.9 582.1 L71.5 581.4 L70.0 581.0 L68.4 580.7 L66.7 580.6 L65.0 580.7 L63.2 581.0 L61.4 581.5 L59.6 582.2 L57.8 583.1 L55.9 584.2 L54.1 585.4 L52.3 586.8 L50.6 588.4 L48.9 590.1 L47.3 592.0 L45.8 593.9 L44.4 595.9 L43.1 598.1 L41.9 600.3 L40.9 602.5 L39.9 604.8 L39.1 607.1 L38.5 609.4 L38.0 611.7 L37.7 613.9 L37.5 616.1 L37.5 618.2 L37.6 620.3 L37.9 622.2 L38.4 624.0 L39.0 625.7 L39.8 627.3 L40.7 628.7 L41.7 629.9 L42.9 630.9 L44.2 631.8 L51.1 635.8 L52.5 636.5 L54.0 637.0 L55.6 637.3 L57.2 637.3 L59.0 637.2 L60.7 636.9 L62.5 636.4 L64.4 635.7 L66.2 634.8 L68.0 633.7 L69.8 632.5 L71.6 631.1 L73.3 629.5 L75.0 627.8 L76.6 626.0 L78.1 624.0 L79.5 622.0 L80.8 619.9 L82.0 617.7 L83.1 615.4 L84.0 613.1 L84.8 610.8 L85.5 608.5 L85.9 606.2 L86.3 604.0 L86.5 601.8 L86.5 599.7 L86.3 597.7 L86.0 595.7 L85.6 593.9 L84.9 592.2 L84.2 590.7 L83.3 589.3 L82.2 588.1 L81.1 587.0 L79.8 586.1Z" fill="#fff" stroke="#111" stroke-width="1.1" stroke-linejoin="round" />
<path d="M48.9 634.2L42.0 630.2M48.2 633.3L41.2 629.3M47.4 632.4L40.5 628.4M46.8 631.4L39.9 627.4M46.2 630.3L39.3 626.3M45.7 629.1L38.8 625.1M45.3 627.9L38.4 623.9M44.9 626.6L38.0 622.6M44.7 625.2L37.8 621.2M44.5 623.8L37.6 619.8M44.4 622.3L37.5 618.3M44.4 620.8L37.5 616.8M44.5 619.2L37.6 615.2M44.6 617.6L37.7 613.6M44.9 616.0L37.9 612.0M45.2 614.4L38.3 610.4M45.6 612.7L38.7 608.7M46.1 611.0L39.2 607.0M46.6 609.4L39.7 605.4M47.3 607.7L40.3 603.7M48.0 606.1L41.1 602.1M48.8 604.5L41.8 600.5M49.6 602.9L42.7 598.9M50.5 601.3L43.6 597.3M51.5 599.8L44.5 595.8M52.5 598.3L45.6 594.3M53.6 596.9L46.6 592.9M54.7 595.5L47.7 591.5M55.8 594.2L48.9 590.2M57.0 592.9L50.1 588.9M58.3 591.7L51.3 587.7M59.5 590.6L52.6 586.6M60.8 589.6L53.9 585.6M62.1 588.7L55.2 584.7M63.4 587.8L56.5 583.8M64.8 587.1L57.8 583.1M66.1 586.4L59.2 582.4M67.4 585.9L60.5 581.9M68.7 585.4L61.8 581.4M70.0 585.0L63.1 581.0M71.3 584.8L64.4 580.8M72.6 584.6L65.6 580.6M73.8 584.6L66.9 580.6M75.0 584.6L68.1 580.6M76.2 584.8L69.2 580.8M77.3 585.1L70.4 581.1" fill="none" stroke="#111" stroke-width="1.0" stroke-linejoin="round" />
<path d="M78.9 587.7 L81.1 584.8 L81.8 585.3 L80.2 588.6 L80.7 589.0 L83.1 586.5 L83.7 587.0 L81.8 590.2 L82.3 590.8 L84.8 588.5 L85.3 589.3 L83.2 592.3 L83.5 592.9 L86.2 591.1 L86.5 591.9 L84.2 594.6 L84.4 595.4 L87.1 593.9 L87.3 594.9 L84.8 597.3 L85.0 598.2 L87.7 597.1 L87.7 598.1 L85.1 600.2 L85.2 601.2 L87.8 600.6 L87.8 601.6 L85.1 603.4 L85.0 604.3 L87.5 604.2 L87.3 605.3 L84.6 606.7 L84.4 607.7 L86.8 608.0 L86.5 609.1 L83.8 610.0 L83.5 611.0 L85.7 611.8 L85.3 612.9 L82.7 613.4 L82.3 614.4 L84.2 615.6 L83.7 616.7 L81.3 616.7 L80.8 617.7 L82.4 619.3 L81.8 620.4 L79.5 619.9 L78.9 620.9 L80.3 622.9 L79.6 623.9 L77.5 623.0 L76.8 623.9 L77.9 626.2 L77.1 627.2 L75.2 625.8 L74.5 626.6 L75.2 629.3 L74.4 630.1 L72.8 628.4 L72.1 629.1 L72.4 632.0 L71.5 632.8 L70.3 630.6 L69.5 631.2 L69.4 634.3 L68.5 635.0 L67.6 632.5 L66.8 632.9 L66.4 636.2 L65.5 636.7 L64.9 633.9 L64.1 634.3 L63.3 637.6 L62.4 638.0 L62.3 635.0 L61.5 635.2 L60.3 638.6 L59.4 638.7 L59.6 635.5 L58.9 635.6 L57.4 639.0 L56.6 639.0 L57.1 635.7 L56.4 635.6 L54.6 638.9 L53.8 638.7 L54.8 635.3 L54.1 635.2 L52.1 638.2 L51.4 637.9 L52.6 634.6 L52.0 634.2 L49.8 637.1 L49.1 636.7 L50.7 633.3 L50.2 632.9 L47.7 635.5 L47.2 634.9 L49.0 631.7 L48.6 631.1 L46.0 633.4 L45.6 632.7 L47.7 629.7 L47.4 629.0 L44.7 630.9 L44.4 630.1 L46.7 627.3 L46.5 626.5 L43.8 628.0 L43.6 627.1 L46.0 624.6 L45.9 623.8 L43.2 624.8 L43.1 623.8 L45.7 621.7 L45.7 620.8 L43.1 621.4 L43.1 620.3 L45.8 618.6 L45.9 617.6 L43.4 617.7 L43.5 616.6 L46.2 615.3 L46.4 614.3 L44.1 614.0 L44.4 612.8 L47.0 611.9 L47.3 610.9 L45.2 610.1 L45.6 609.0 L48.2 608.5 L48.6 607.5 L46.6 606.3 L47.2 605.2 L49.6 605.2 L50.1 604.2 L48.5 602.6 L49.1 601.5 L51.4 602.0 L52.0 601.1 L50.6 599.0 L51.3 598.0 L53.4 598.9 L54.0 598.1 L53.0 595.7 L53.8 594.7 L55.6 596.1 L56.3 595.3 L55.7 592.6 L56.5 591.8 L58.1 593.6 L58.8 592.9 L58.5 589.9 L59.4 589.2 L60.6 591.3 L61.4 590.7 L61.5 587.6 L62.4 587.0 L63.3 589.5 L64.1 589.0 L64.5 585.7 L65.4 585.2 L66.0 588.0 L66.8 587.7 L67.5 584.3 L68.5 584.0 L68.6 587.0 L69.4 586.7 L70.6 583.4 L71.4 583.2 L71.3 586.4 L72.0 586.3 L73.5 583.0 L74.3 582.9 L73.8 586.3 L74.5 586.3 L76.2 583.1 L77.0 583.2 L76.1 586.6 L76.8 586.8 L78.8 583.7 L79.5 584.0 L78.3 587.4Z" fill="#fff" stroke="#111" stroke-width="1.1" stroke-linejoin="round" />
<path d="M78.2 588.8 L79.9 590.0 L81.4 591.6 L82.5 593.5 L83.4 595.7 L84.0 598.2 L84.2 600.9 L84.1 603.8 L83.7 606.8 L83.0 609.8 L82.0 612.9 L80.7 615.9 L79.2 618.9 L77.4 621.7 L75.4 624.4 L73.2 626.8 L70.9 628.9 L68.6 630.8 L66.1 632.3 L63.7 633.4 L61.2 634.1 L58.9 634.5 L56.6 634.4 L54.5 634.0 L52.6 633.1 L51.0 631.9 L49.5 630.3 L48.4 628.4 L47.5 626.2 L46.9 623.7 L46.7 621.0 L46.7 618.2 L47.1 615.2 L47.8 612.1 L48.8 609.0 L50.1 606.0 L51.7 603.0 L53.5 600.2 L55.5 597.6 L57.6 595.1 L59.9 593.0 L62.3 591.2 L64.8 589.7 L67.2 588.5 L69.7 587.8 L72.0 587.4 L74.2 587.5 L76.3 587.9 L78.2 588.8Z" fill="none" stroke="#111" stroke-width="1.0" stroke-linejoin="round" />
<path d="M77.0 590.9 L78.5 592.0 L79.8 593.4 L80.9 595.2 L81.7 597.2 L82.2 599.4 L82.4 601.9 L82.4 604.5 L82.0 607.2 L81.4 609.9 L80.5 612.7 L79.3 615.5 L77.9 618.1 L76.3 620.7 L74.5 623.1 L72.5 625.3 L70.4 627.2 L68.3 628.9 L66.0 630.2 L63.8 631.3 L61.6 631.9 L59.5 632.2 L57.5 632.2 L55.6 631.8 L53.9 631.0 L52.3 629.9 L51.0 628.5 L50.0 626.8 L49.2 624.7 L48.7 622.5 L48.5 620.1 L48.5 617.5 L48.9 614.8 L49.5 612.0 L50.4 609.2 L51.6 606.5 L53.0 603.8 L54.6 601.2 L56.4 598.8 L58.4 596.7 L60.5 594.7 L62.6 593.1 L64.8 591.7 L67.1 590.7 L69.3 590.0 L71.4 589.7 L73.4 589.7 L75.3 590.1 L77.0 590.9Z" fill="none" stroke="#111" stroke-width="1.0" stroke-linejoin="round" />
<path d="M74.9 594.6 L76.1 595.5 L77.2 596.7 L78.1 598.1 L78.7 599.7 L79.1 601.5 L79.3 603.5 L79.2 605.7 L79.0 607.9 L78.4 610.1 L77.7 612.4 L76.7 614.6 L75.6 616.8 L74.3 618.9 L72.8 620.9 L71.2 622.6 L69.5 624.2 L67.7 625.6 L65.9 626.7 L64.1 627.5 L62.3 628.1 L60.6 628.3 L58.9 628.3 L57.4 628.0 L56.0 627.3 L54.7 626.4 L53.7 625.3 L52.8 623.8 L52.2 622.2 L51.8 620.4 L51.6 618.4 L51.6 616.3 L51.9 614.1 L52.5 611.8 L53.2 609.5 L54.1 607.3 L55.3 605.1 L56.6 603.0 L58.1 601.1 L59.7 599.3 L61.4 597.7 L63.1 596.4 L64.9 595.3 L66.8 594.4 L68.6 593.9 L70.3 593.6 L71.9 593.6 L73.5 594.0 L74.9 594.6Z" fill="none" stroke="#111" stroke-width="1.2" stroke-linejoin="round" />
<path d="M72.1 599.5 L74.6 599.0 L76.1 601.9 L75.1 605.2 L74.9 608.8 L75.6 611.4 L73.6 615.7 L71.0 617.4 L68.3 620.3 L66.4 623.3 L62.9 624.8 L61.3 623.1 L58.8 622.4 L56.3 622.9 L54.8 620.0 L55.8 616.7 L56.0 613.1 L55.3 610.6 L57.3 606.2 L59.9 604.6 L62.6 601.7 L64.5 598.6 L67.9 597.2 L69.5 598.8Z" fill="none" stroke="#111" stroke-width="1.1" stroke-linejoin="round" />
<path d="M71.2 600.9 L72.0 601.5 L72.6 602.2 L73.2 603.1 L73.6 604.1 L73.8 605.2 L73.9 606.4 L73.9 607.7 L73.7 609.1 L73.4 610.4 L72.9 611.8 L72.4 613.2 L71.7 614.6 L70.9 615.8 L69.9 617.0 L69.0 618.1 L67.9 619.1 L66.8 619.9 L65.7 620.6 L64.6 621.1 L63.5 621.4 L62.5 621.6 L61.5 621.6 L60.5 621.4 L59.6 621.0 L58.9 620.4 L58.2 619.7 L57.7 618.9 L57.3 617.9 L57.1 616.7 L56.9 615.5 L57.0 614.2 L57.2 612.9 L57.5 611.5 L57.9 610.1 L58.5 608.7 L59.2 607.4 L60.0 606.1 L60.9 604.9 L61.9 603.8 L63.0 602.8 L64.0 602.0 L65.1 601.3 L66.2 600.8 L67.3 600.5 L68.4 600.3 L69.4 600.3 L70.4 600.6 L71.2 600.9Z" fill="none" stroke="#111" stroke-width="1.2" stroke-linejoin="round" />
<path d="M116.3 615.6 L118.5 612.9 L119.2 613.4 L117.7 616.6 L118.2 617.1 L120.6 614.7 L121.1 615.4 L119.3 618.4 L119.7 619.1 L122.2 617.2 L122.6 618.0 L120.5 620.7 L120.8 621.5 L123.3 620.1 L123.6 621.1 L121.2 623.5 L121.4 624.4 L123.9 623.5 L124.0 624.6 L121.5 626.6 L121.5 627.6 L123.9 627.3 L123.8 628.4 L121.2 629.9 L121.1 631.0 L123.3 631.2 L123.1 632.4 L120.5 633.4 L120.2 634.5 L122.2 635.3 L121.8 636.5 L119.3 636.9 L118.9 638.0 L120.6 639.3 L120.0 640.5 L117.7 640.4 L117.2 641.4 L118.5 643.2 L117.8 644.3 L115.7 643.7 L115.1 644.6 L116.1 646.8 L115.2 647.9 L113.4 646.6 L112.7 647.5 L113.2 650.1 L112.4 651.0 L110.9 649.3 L110.1 650.0 L110.2 652.9 L109.3 653.6 L108.2 651.5 L107.3 652.0 L107.0 655.1 L106.0 655.7 L105.4 653.1 L104.5 653.5 L103.8 656.7 L102.8 657.1 L102.6 654.2 L101.8 654.4 L100.6 657.7 L99.6 657.8 L99.9 654.7 L99.1 654.8 L97.5 657.9 L96.7 657.8 L97.3 654.6 L96.6 654.5 L94.7 657.4 L93.9 657.1 L95.0 653.9 L94.4 653.6 L92.2 656.2 L91.6 655.8 L93.0 652.6 L92.5 652.1 L90.2 654.4 L89.6 653.8 L91.4 650.8 L91.0 650.1 L88.5 652.0 L88.1 651.2 L90.2 648.4 L90.0 647.6 L87.4 649.0 L87.2 648.1 L89.5 645.7 L89.4 644.8 L86.9 645.6 L86.8 644.6 L89.3 642.6 L89.3 641.6 L86.8 641.9 L87.0 640.7 L89.5 639.2 L89.7 638.2 L87.4 638.0 L87.7 636.7 L90.2 635.8 L90.5 634.7 L88.5 633.9 L89.0 632.7 L91.4 632.2 L91.9 631.2 L90.1 629.9 L90.7 628.7 L93.0 628.8 L93.6 627.8 L92.2 626.0 L92.9 624.8 L95.0 625.5 L95.7 624.6 L94.7 622.3 L95.5 621.3 L97.3 622.5 L98.1 621.7 L97.5 619.1 L98.4 618.2 L99.9 619.9 L100.7 619.2 L100.6 616.3 L101.5 615.6 L102.6 617.7 L103.4 617.2 L103.7 614.1 L104.7 613.5 L105.4 616.0 L106.2 615.7 L107.0 612.5 L108.0 612.1 L108.2 614.9 L109.0 614.7 L110.2 611.5 L111.1 611.4 L110.9 614.4 L111.7 614.4 L113.2 611.3 L114.1 611.4 L113.4 614.5 L114.1 614.7 L116.0 611.8 L116.8 612.0 L115.7 615.3Z" fill="#fff" stroke="#111" stroke-width="1.1" stroke-linejoin="round" />
<path d="M117.2 614.1 L116.0 613.5 L114.8 613.1 L113.5 612.9 L112.1 612.8 L110.7 612.9 L109.3 613.2 L107.8 613.6 L106.3 614.2 L104.8 614.9 L103.2 615.8 L101.8 616.8 L100.3 618.0 L98.9 619.3 L97.5 620.7 L96.2 622.2 L94.9 623.8 L93.8 625.5 L92.7 627.3 L91.7 629.1 L90.8 630.9 L90.1 632.8 L89.4 634.7 L88.9 636.6 L88.5 638.5 L88.2 640.3 L88.1 642.1 L88.0 643.9 L88.2 645.6 L88.4 647.2 L88.8 648.7 L89.3 650.0 L89.9 651.3 L90.7 652.5 L91.5 653.5 L92.5 654.3 L93.6 655.1 L97.9 657.6 L99.0 658.1 L100.3 658.5 L101.6 658.8 L102.9 658.8 L104.4 658.7 L105.8 658.5 L107.3 658.1 L108.8 657.5 L110.3 656.8 L111.8 655.9 L113.3 654.8 L114.8 653.7 L116.2 652.4 L117.6 651.0 L118.9 649.5 L120.2 647.9 L121.3 646.2 L122.4 644.4 L123.4 642.6 L124.3 640.7 L125.0 638.9 L125.7 637.0 L126.2 635.1 L126.6 633.2 L126.9 631.3 L127.0 629.5 L127.0 627.8 L126.9 626.1 L126.7 624.5 L126.3 623.0 L125.8 621.6 L125.2 620.4 L124.4 619.2 L123.6 618.2 L122.6 617.3 L121.5 616.6Z" fill="#fff" stroke="#111" stroke-width="1.1" stroke-linejoin="round" />
<path d="M96.0 656.1L91.7 653.6M95.2 655.2L90.9 652.7M94.5 654.2L90.1 651.7M93.9 653.1L89.5 650.6M93.3 651.8L89.0 649.3M92.9 650.5L88.6 648.0M92.6 649.1L88.3 646.6M92.4 647.6L88.1 645.1M92.4 646.0L88.0 643.5M92.4 644.4L88.1 641.9M92.5 642.7L88.2 640.2M92.8 641.0L88.5 638.5M93.2 639.2L88.8 636.7M93.6 637.5L89.3 635.0M94.2 635.7L89.9 633.2M94.9 634.0L90.6 631.5M95.7 632.3L91.3 629.8M96.5 630.6L92.2 628.1M97.5 628.9L93.2 626.4M98.5 627.3L94.2 624.8M99.6 625.8L95.3 623.3M100.8 624.3L96.5 621.8M102.0 623.0L97.7 620.5M103.3 621.7L99.0 619.2M104.6 620.5L100.3 618.0M106.0 619.4L101.6 616.9M107.4 618.5L103.0 616.0M108.7 617.6L104.4 615.1M110.1 616.9L105.8 614.4M111.5 616.3L107.2 613.8M112.9 615.9L108.6 613.4M114.3 615.5L110.0 613.0M115.6 615.4L111.3 612.9M116.9 615.3L112.6 612.8M118.2 615.5L113.8 613.0M119.4 615.7L115.0 613.2" fill="none" stroke="#111" stroke-width="1.0" stroke-linejoin="round" />
<path d="M120.7 618.1 L122.8 615.4 L123.5 615.9 L122.0 619.1 L122.6 619.6 L124.9 617.2 L125.5 617.9 L123.6 620.9 L124.0 621.6 L126.6 619.7 L126.9 620.5 L124.8 623.2 L125.1 624.0 L127.7 622.6 L127.9 623.6 L125.6 626.0 L125.7 626.9 L128.2 626.0 L128.3 627.1 L125.8 629.1 L125.8 630.1 L128.2 629.8 L128.1 630.9 L125.6 632.4 L125.4 633.5 L127.7 633.7 L127.4 634.9 L124.8 635.9 L124.5 637.0 L126.6 637.8 L126.1 639.0 L123.7 639.4 L123.2 640.5 L124.9 641.8 L124.4 643.0 L122.0 642.9 L121.5 643.9 L122.9 645.7 L122.2 646.8 L120.1 646.2 L119.4 647.1 L120.4 649.3 L119.6 650.4 L117.8 649.1 L117.0 650.0 L117.6 652.6 L116.7 653.5 L115.2 651.8 L114.4 652.5 L114.5 655.4 L113.6 656.1 L112.5 654.0 L111.7 654.5 L111.3 657.6 L110.4 658.2 L109.7 655.6 L108.9 656.0 L108.1 659.2 L107.1 659.6 L106.9 656.7 L106.1 656.9 L104.9 660.2 L104.0 660.3 L104.2 657.2 L103.4 657.3 L101.9 660.4 L101.0 660.3 L101.7 657.1 L100.9 657.0 L99.1 659.9 L98.3 659.6 L99.4 656.4 L98.7 656.1 L96.6 658.7 L95.9 658.3 L97.4 655.1 L96.9 654.6 L94.5 656.9 L93.9 656.3 L95.8 653.3 L95.4 652.6 L92.9 654.5 L92.5 653.7 L94.6 650.9 L94.3 650.1 L91.7 651.5 L91.5 650.6 L93.9 648.2 L93.7 647.3 L91.2 648.1 L91.1 647.1 L93.6 645.1 L93.6 644.1 L91.2 644.4 L91.3 643.2 L93.8 641.7 L94.0 640.7 L91.7 640.5 L92.0 639.2 L94.6 638.3 L94.9 637.2 L92.8 636.4 L93.3 635.2 L95.8 634.7 L96.2 633.7 L94.5 632.4 L95.0 631.2 L97.4 631.3 L97.9 630.3 L96.5 628.5 L97.3 627.3 L99.3 628.0 L100.0 627.1 L99.0 624.8 L99.8 623.8 L101.6 625.0 L102.4 624.2 L101.8 621.6 L102.7 620.7 L104.2 622.4 L105.0 621.7 L104.9 618.8 L105.8 618.1 L106.9 620.2 L107.7 619.7 L108.1 616.6 L109.0 616.0 L109.7 618.5 L110.5 618.2 L111.3 615.0 L112.3 614.6 L112.5 617.4 L113.3 617.2 L114.5 614.0 L115.4 613.9 L115.2 616.9 L116.0 616.9 L117.6 613.8 L118.4 613.9 L117.7 617.0 L118.5 617.2 L120.4 614.3 L121.1 614.5 L120.0 617.8Z" fill="#fff" stroke="#111" stroke-width="1.1" stroke-linejoin="round" />
<path d="M119.6 620.0 L120.9 620.9 L122.0 622.1 L122.9 623.6 L123.6 625.3 L124.0 627.2 L124.2 629.3 L124.1 631.5 L123.8 633.8 L123.3 636.2 L122.5 638.6 L121.5 640.9 L120.3 643.2 L118.9 645.4 L117.4 647.4 L115.7 649.3 L114.0 651.0 L112.1 652.4 L110.2 653.5 L108.3 654.4 L106.5 655.0 L104.6 655.2 L102.9 655.2 L101.3 654.9 L99.8 654.2 L98.5 653.3 L97.4 652.0 L96.5 650.6 L95.8 648.8 L95.4 646.9 L95.2 644.9 L95.3 642.6 L95.6 640.3 L96.1 638.0 L96.9 635.6 L97.9 633.2 L99.1 631.0 L100.5 628.8 L102.0 626.7 L103.7 624.9 L105.5 623.2 L107.3 621.8 L109.2 620.6 L111.1 619.8 L113.0 619.2 L114.8 618.9 L116.5 619.0 L118.1 619.3 L119.6 620.0Z" fill="none" stroke="#111" stroke-width="1.0" stroke-linejoin="round" />
<path d="M115.5 627.1 L114.9 626.8 L114.3 626.6 L113.7 626.5 L113.0 626.4 L112.3 626.5 L111.6 626.6 L110.9 626.8 L110.1 627.1 L109.4 627.5 L108.7 627.9 L107.9 628.4 L107.2 629.0 L106.5 629.6 L105.8 630.3 L105.2 631.0 L104.6 631.8 L104.0 632.6 L103.5 633.5 L103.0 634.4 L102.6 635.3 L102.2 636.2 L101.9 637.1 L101.6 638.1 L101.4 639.0 L101.3 639.9 L101.2 640.8 L101.2 641.6 L101.3 642.5 L101.4 643.2 L101.6 644.0 L101.8 644.7 L102.1 645.3 L102.5 645.8 L102.9 646.3 L103.4 646.8 L103.9 647.1 L106.5 648.6 L107.1 648.9 L107.7 649.1 L108.3 649.2 L109.0 649.2 L109.7 649.2 L110.4 649.1 L111.1 648.9 L111.9 648.6 L112.6 648.2 L113.3 647.8 L114.1 647.3 L114.8 646.7 L115.5 646.1 L116.2 645.4 L116.8 644.6 L117.4 643.9 L118.0 643.0 L118.5 642.2 L119.0 641.3 L119.4 640.4 L119.8 639.5 L120.1 638.5 L120.4 637.6 L120.6 636.7 L120.7 635.8 L120.8 634.9 L120.8 634.0 L120.7 633.2 L120.6 632.4 L120.4 631.7 L120.2 631.0 L119.9 630.4 L119.5 629.8 L119.1 629.3 L118.6 628.9 L118.1 628.6Z" fill="#fff" stroke="#111" stroke-width="1.0" stroke-linejoin="round" />
<path d="M118.6 627.6 L119.5 628.2 L120.2 629.0 L120.8 630.0 L121.2 631.0 L121.5 632.3 L121.6 633.6 L121.6 635.0 L121.4 636.5 L121.0 638.0 L120.5 639.5 L119.9 641.0 L119.1 642.5 L118.2 643.9 L117.2 645.2 L116.2 646.4 L115.0 647.5 L113.8 648.4 L112.6 649.1 L111.4 649.7 L110.2 650.1 L109.1 650.2 L107.9 650.2 L106.9 650.0 L106.0 649.6 L105.1 649.0 L104.4 648.2 L103.8 647.2 L103.4 646.1 L103.1 644.9 L103.0 643.6 L103.0 642.2 L103.2 640.7 L103.6 639.2 L104.1 637.6 L104.7 636.1 L105.5 634.7 L106.4 633.3 L107.4 632.0 L108.4 630.8 L109.6 629.7 L110.8 628.8 L112.0 628.0 L113.2 627.5 L114.4 627.1 L115.6 626.9 L116.7 627.0 L117.7 627.2 L118.6 627.6Z" fill="#fff" stroke="#111" stroke-width="1.0" stroke-linejoin="round" />
<path d="M117.4 629.8 L118.0 630.3 L118.6 630.9 L119.1 631.7 L119.4 632.6 L119.6 633.5 L119.7 634.6 L119.7 635.7 L119.6 636.9 L119.3 638.1 L118.9 639.3 L118.4 640.6 L117.7 641.7 L117.0 642.8 L116.3 643.9 L115.4 644.9 L114.5 645.7 L113.5 646.4 L112.6 647.0 L111.6 647.5 L110.6 647.8 L109.7 647.9 L108.8 647.9 L108.0 647.7 L107.2 647.4 L106.6 646.9 L106.0 646.3 L105.5 645.5 L105.2 644.6 L105.0 643.6 L104.9 642.6 L104.9 641.4 L105.1 640.3 L105.3 639.0 L105.7 637.8 L106.2 636.6 L106.9 635.4 L107.6 634.3 L108.4 633.3 L109.2 632.3 L110.1 631.5 L111.1 630.7 L112.0 630.2 L113.0 629.7 L114.0 629.4 L114.9 629.3 L115.8 629.3 L116.6 629.5 L117.4 629.8Z" fill="#888" stroke="#111" stroke-width="1.0" stroke-linejoin="round" />
<path d="M148.8 646.2 L149.5 646.7 L150.1 647.4 L150.6 648.3 L151.0 649.2 L151.3 650.3 L151.4 651.5 L151.4 652.8 L151.2 654.1 L150.9 655.5 L150.4 656.8 L149.9 658.2 L149.2 659.5 L148.4 660.7 L147.5 661.9 L146.5 663.0 L145.5 663.9 L144.5 664.7 L143.4 665.4 L142.3 665.9 L141.2 666.2 L140.2 666.4 L139.2 666.4 L138.3 666.2 L137.4 665.8 L136.7 665.2 L136.0 664.5 L135.5 663.7 L135.1 662.7 L134.9 661.6 L134.8 660.4 L134.8 659.2 L135.0 657.8 L135.3 656.5 L135.7 655.1 L136.3 653.8 L137.0 652.5 L137.8 651.2 L138.7 650.0 L139.6 649.0 L140.6 648.0 L141.7 647.2 L142.8 646.5 L143.9 646.0 L145.0 645.7 L146.0 645.6 L147.0 645.6 L147.9 645.8 L148.8 646.2Z" fill="none" stroke="#111" stroke-width="1.4" stroke-linejoin="round" />
<path d="M148.0 647.5 L148.6 648.0 L149.1 648.6 L149.6 649.3 L149.9 650.2 L150.1 651.1 L150.2 652.1 L150.2 653.2 L150.1 654.4 L149.8 655.5 L149.4 656.7 L148.9 657.9 L148.3 659.0 L147.6 660.1 L146.9 661.1 L146.1 662.0 L145.2 662.8 L144.3 663.5 L143.3 664.1 L142.4 664.5 L141.5 664.8 L140.6 664.9 L139.7 664.9 L138.9 664.7 L138.2 664.4 L137.6 663.9 L137.0 663.3 L136.6 662.6 L136.2 661.8 L136.0 660.8 L135.9 659.8 L136.0 658.7 L136.1 657.6 L136.4 656.4 L136.8 655.2 L137.3 654.1 L137.9 653.0 L138.5 651.9 L139.3 650.9 L140.1 650.0 L141.0 649.1 L141.9 648.4 L142.8 647.9 L143.8 647.4 L144.7 647.2 L145.6 647.0 L146.4 647.0 L147.2 647.2 L148.0 647.5Z" fill="none" stroke="#111" stroke-width="1.1199999999999999" stroke-linejoin="round" />
<path d="M190.4 655.9 L192.6 653.2 L193.2 653.7 L191.8 656.8 L192.3 657.3 L194.6 655.0 L195.2 655.6 L193.4 658.6 L193.8 659.2 L196.3 657.2 L196.7 658.0 L194.7 660.8 L195.0 661.5 L197.5 659.9 L197.8 660.8 L195.5 663.4 L195.7 664.2 L198.2 663.1 L198.4 664.1 L196.0 666.3 L196.0 667.2 L198.5 666.6 L198.5 667.7 L196.0 669.4 L195.9 670.4 L198.3 670.3 L198.1 671.4 L195.5 672.7 L195.3 673.8 L197.6 674.1 L197.2 675.3 L194.7 676.2 L194.4 677.2 L196.4 678.1 L195.9 679.3 L193.5 679.6 L193.0 680.6 L194.7 682.0 L194.2 683.1 L191.9 683.0 L191.3 683.9 L192.7 685.7 L192.0 686.8 L189.9 686.2 L189.3 687.1 L190.3 689.3 L189.6 690.3 L187.7 689.1 L187.0 690.0 L187.7 692.5 L186.8 693.4 L185.3 691.8 L184.5 692.5 L184.8 695.3 L183.9 696.1 L182.7 694.1 L181.9 694.7 L181.7 697.7 L180.8 698.3 L180.0 695.9 L179.1 696.4 L178.6 699.5 L177.7 700.0 L177.2 697.3 L176.4 697.6 L175.5 700.8 L174.6 701.1 L174.5 698.1 L173.7 698.3 L172.4 701.5 L171.5 701.6 L171.9 698.5 L171.1 698.5 L169.5 701.6 L168.7 701.5 L169.4 698.3 L168.8 698.1 L166.8 701.0 L166.1 700.7 L167.2 697.5 L166.6 697.2 L164.5 699.9 L163.8 699.4 L165.3 696.3 L164.8 695.8 L162.4 698.1 L161.9 697.5 L163.7 694.5 L163.2 693.9 L160.8 695.9 L160.3 695.1 L162.4 692.3 L162.1 691.6 L159.5 693.2 L159.3 692.2 L161.5 689.7 L161.4 688.9 L158.8 690.0 L158.7 689.0 L161.1 686.8 L161.0 685.9 L158.5 686.5 L158.6 685.4 L161.1 683.7 L161.2 682.7 L158.8 682.8 L158.9 681.7 L161.5 680.4 L161.7 679.3 L159.5 679.0 L159.8 677.8 L162.3 676.9 L162.7 675.9 L160.7 675.0 L161.1 673.8 L163.6 673.5 L164.0 672.5 L162.3 671.1 L162.9 670.0 L165.2 670.1 L165.7 669.2 L164.3 667.4 L165.0 666.3 L167.1 666.9 L167.7 666.0 L166.7 663.8 L167.5 662.8 L169.3 664.0 L170.0 663.1 L169.4 660.6 L170.2 659.7 L171.8 661.3 L172.5 660.6 L172.3 657.8 L173.2 657.0 L174.4 659.0 L175.2 658.4 L175.3 655.4 L176.2 654.8 L177.1 657.2 L177.9 656.7 L178.4 653.6 L179.4 653.1 L179.8 655.8 L180.6 655.5 L181.6 652.3 L182.5 652.0 L182.5 655.0 L183.3 654.8 L184.6 651.6 L185.5 651.5 L185.1 654.6 L185.9 654.6 L187.5 651.5 L188.4 651.6 L187.6 654.8 L188.3 655.0 L190.2 652.1 L191.0 652.4 L189.8 655.6Z" fill="#fff" stroke="#111" stroke-width="1.1" stroke-linejoin="round" />
<path d="M191.3 654.4 L190.0 653.8 L188.7 653.4 L187.3 653.1 L185.8 653.1 L184.3 653.2 L182.7 653.4 L181.1 653.9 L179.5 654.5 L177.9 655.3 L176.2 656.3 L174.6 657.4 L173.0 658.6 L171.5 660.0 L170.0 661.5 L168.6 663.2 L167.2 664.9 L166.0 666.7 L164.8 668.6 L163.8 670.6 L162.8 672.6 L162.0 674.6 L161.3 676.7 L160.7 678.7 L160.3 680.8 L160.0 682.7 L159.8 684.7 L159.8 686.6 L159.9 688.4 L160.2 690.1 L160.6 691.7 L161.2 693.2 L161.8 694.6 L162.6 695.9 L163.6 697.0 L164.6 697.9 L165.8 698.7 L171.0 701.7 L172.2 702.3 L173.5 702.7 L174.9 703.0 L176.4 703.0 L177.9 702.9 L179.5 702.7 L181.1 702.2 L182.8 701.6 L184.4 700.8 L186.0 699.8 L187.6 698.7 L189.2 697.5 L190.8 696.1 L192.2 694.6 L193.7 692.9 L195.0 691.2 L196.3 689.4 L197.4 687.5 L198.5 685.5 L199.4 683.5 L200.3 681.5 L201.0 679.4 L201.5 677.4 L202.0 675.3 L202.3 673.3 L202.4 671.4 L202.4 669.5 L202.3 667.7 L202.0 666.0 L201.6 664.4 L201.1 662.9 L200.4 661.5 L199.6 660.2 L198.7 659.1 L197.6 658.2 L196.5 657.4Z" fill="#fff" stroke="#111" stroke-width="1.1" stroke-linejoin="round" />
<path d="M169.0 700.2L163.8 697.2M168.2 699.3L163.0 696.3M167.5 698.3L162.3 695.3M166.8 697.2L161.6 694.2M166.3 696.1L161.1 693.1M165.8 694.8L160.6 691.8M165.5 693.5L160.3 690.5M165.2 692.1L160.0 689.1M165.1 690.6L159.9 687.6M165.0 689.1L159.8 686.1M165.0 687.5L159.8 684.5M165.2 685.9L160.0 682.9M165.4 684.2L160.2 681.2M165.7 682.5L160.5 679.5M166.1 680.8L160.9 677.8M166.6 679.1L161.4 676.1M167.2 677.4L162.0 674.4M167.9 675.8L162.7 672.8M168.7 674.1L163.5 671.1M169.6 672.4L164.4 669.4M170.5 670.8L165.3 667.8M171.5 669.3L166.3 666.3M172.5 667.8L167.3 664.8M173.7 666.3L168.5 663.3M174.8 665.0L169.6 662.0M176.0 663.7L170.8 660.7M177.3 662.5L172.1 659.5M178.6 661.3L173.4 658.3M179.9 660.3L174.7 657.3M181.3 659.4L176.1 656.4M182.6 658.6L177.4 655.6M184.0 657.9L178.8 654.9M185.3 657.3L180.1 654.3M186.7 656.8L181.5 653.8M188.0 656.4L182.8 653.4M189.3 656.2L184.1 653.2M190.6 656.1L185.4 653.1M191.8 656.1L186.6 653.1M193.0 656.2L187.8 653.2M194.2 656.5L189.0 653.5" fill="none" stroke="#111" stroke-width="1.0" stroke-linejoin="round" />
<path d="M195.6 658.9 L197.8 656.2 L198.4 656.7 L197.0 659.8 L197.5 660.3 L199.8 658.0 L200.4 658.6 L198.6 661.6 L199.0 662.2 L201.5 660.2 L201.9 661.0 L199.8 663.8 L200.1 664.5 L202.7 662.9 L203.0 663.8 L200.7 666.4 L200.9 667.2 L203.4 666.1 L203.6 667.1 L201.1 669.3 L201.2 670.2 L203.7 669.6 L203.7 670.7 L201.2 672.4 L201.1 673.4 L203.5 673.3 L203.3 674.4 L200.7 675.7 L200.5 676.8 L202.8 677.1 L202.4 678.3 L199.9 679.2 L199.6 680.2 L201.6 681.1 L201.1 682.3 L198.7 682.6 L198.2 683.6 L199.9 685.0 L199.4 686.1 L197.1 686.0 L196.5 686.9 L197.9 688.7 L197.2 689.8 L195.1 689.2 L194.5 690.1 L195.5 692.3 L194.8 693.3 L192.9 692.1 L192.2 693.0 L192.9 695.5 L192.0 696.4 L190.5 694.8 L189.7 695.5 L190.0 698.3 L189.1 699.1 L187.9 697.1 L187.1 697.7 L186.9 700.7 L186.0 701.3 L185.2 698.9 L184.3 699.4 L183.8 702.5 L182.9 703.0 L182.4 700.3 L181.6 700.6 L180.7 703.8 L179.8 704.1 L179.7 701.1 L178.9 701.3 L177.6 704.5 L176.7 704.6 L177.1 701.5 L176.3 701.5 L174.7 704.6 L173.9 704.5 L174.6 701.3 L174.0 701.1 L172.0 704.0 L171.3 703.7 L172.4 700.5 L171.8 700.2 L169.6 702.9 L169.0 702.4 L170.5 699.3 L169.9 698.8 L167.6 701.1 L167.1 700.5 L168.8 697.5 L168.4 696.9 L166.0 698.9 L165.5 698.1 L167.6 695.3 L167.3 694.6 L164.7 696.2 L164.5 695.2 L166.7 692.7 L166.6 691.9 L164.0 693.0 L163.9 692.0 L166.3 689.8 L166.2 688.9 L163.7 689.5 L163.8 688.4 L166.3 686.7 L166.4 685.7 L164.0 685.8 L164.1 684.7 L166.7 683.4 L166.9 682.3 L164.7 682.0 L165.0 680.8 L167.5 679.9 L167.9 678.9 L165.9 678.0 L166.3 676.8 L168.8 676.5 L169.2 675.5 L167.5 674.1 L168.1 673.0 L170.4 673.1 L170.9 672.2 L169.5 670.4 L170.2 669.3 L172.3 669.9 L172.9 669.0 L171.9 666.8 L172.7 665.8 L174.5 667.0 L175.2 666.1 L174.6 663.6 L175.4 662.7 L177.0 664.3 L177.7 663.6 L177.5 660.8 L178.4 660.0 L179.6 662.0 L180.4 661.4 L180.5 658.4 L181.4 657.8 L182.3 660.2 L183.1 659.7 L183.6 656.6 L184.6 656.1 L185.0 658.8 L185.8 658.5 L186.8 655.3 L187.7 655.0 L187.7 658.0 L188.5 657.8 L189.8 654.6 L190.7 654.5 L190.3 657.6 L191.1 657.6 L192.7 654.5 L193.5 654.6 L192.8 657.8 L193.5 658.0 L195.4 655.1 L196.1 655.4 L195.0 658.6Z" fill="#fff" stroke="#111" stroke-width="1.1" stroke-linejoin="round" />
<path d="M194.1 661.6 L195.4 662.6 L196.6 663.9 L197.5 665.4 L198.2 667.2 L198.7 669.2 L198.9 671.4 L198.8 673.7 L198.5 676.1 L197.9 678.6 L197.1 681.1 L196.1 683.6 L194.8 686.0 L193.4 688.3 L191.8 690.4 L190.0 692.3 L188.2 694.1 L186.2 695.6 L184.3 696.8 L182.3 697.7 L180.3 698.3 L178.4 698.6 L176.6 698.5 L174.9 698.2 L173.4 697.5 L172.0 696.5 L170.8 695.2 L169.9 693.7 L169.2 691.9 L168.7 689.9 L168.5 687.7 L168.6 685.4 L168.9 683.0 L169.5 680.5 L170.3 678.0 L171.4 675.5 L172.6 673.1 L174.1 670.8 L175.7 668.7 L177.4 666.8 L179.3 665.0 L181.2 663.5 L183.2 662.3 L185.2 661.4 L187.1 660.8 L189.0 660.5 L190.8 660.6 L192.5 660.9 L194.1 661.6Z" fill="none" stroke="#111" stroke-width="1.0" stroke-linejoin="round" />
<path d="M188.2 667.7 L187.6 667.4 L187.0 667.2 L186.3 667.1 L185.6 667.0 L184.8 667.1 L184.0 667.2 L183.3 667.4 L182.5 667.8 L181.7 668.1 L180.9 668.6 L180.1 669.2 L179.3 669.8 L178.5 670.5 L177.8 671.2 L177.1 672.0 L176.5 672.8 L175.8 673.7 L175.3 674.7 L174.7 675.6 L174.3 676.6 L173.9 677.6 L173.5 678.6 L173.3 679.6 L173.0 680.6 L172.9 681.6 L172.8 682.5 L172.8 683.5 L172.9 684.4 L173.0 685.2 L173.2 686.0 L173.5 686.7 L173.8 687.4 L174.2 688.0 L174.7 688.6 L175.2 689.0 L175.7 689.4 L180.9 692.4 L181.5 692.7 L182.2 692.9 L182.9 693.0 L183.6 693.1 L184.4 693.0 L185.1 692.9 L185.9 692.7 L186.7 692.3 L187.5 692.0 L188.3 691.5 L189.1 690.9 L189.9 690.3 L190.6 689.6 L191.4 688.9 L192.1 688.1 L192.7 687.3 L193.3 686.4 L193.9 685.4 L194.4 684.5 L194.9 683.5 L195.3 682.5 L195.6 681.5 L195.9 680.5 L196.1 679.5 L196.3 678.5 L196.4 677.6 L196.4 676.6 L196.3 675.7 L196.2 674.9 L196.0 674.1 L195.7 673.4 L195.4 672.7 L195.0 672.1 L194.5 671.5 L194.0 671.1 L193.4 670.7Z" fill="#fff" stroke="#111" stroke-width="1.0" stroke-linejoin="round" />
<path d="M194.0 669.8 L194.9 670.4 L195.7 671.3 L196.3 672.3 L196.7 673.4 L197.0 674.8 L197.2 676.2 L197.1 677.7 L196.9 679.3 L196.5 680.9 L196.0 682.6 L195.3 684.2 L194.5 685.8 L193.5 687.3 L192.5 688.7 L191.3 690.0 L190.1 691.1 L188.8 692.1 L187.5 692.9 L186.2 693.5 L184.9 693.9 L183.7 694.1 L182.5 694.0 L181.4 693.8 L180.4 693.3 L179.5 692.7 L178.7 691.8 L178.1 690.8 L177.6 689.7 L177.3 688.3 L177.2 686.9 L177.2 685.4 L177.4 683.8 L177.8 682.2 L178.4 680.5 L179.0 678.9 L179.9 677.3 L180.8 675.8 L181.9 674.4 L183.0 673.1 L184.3 672.0 L185.5 671.0 L186.8 670.2 L188.1 669.6 L189.4 669.2 L190.7 669.0 L191.9 669.1 L193.0 669.3 L194.0 669.8Z" fill="#fff" stroke="#111" stroke-width="1.0" stroke-linejoin="round" />
<path d="M192.6 672.1 L193.3 672.6 L194.0 673.3 L194.5 674.1 L194.8 675.1 L195.1 676.1 L195.2 677.3 L195.1 678.5 L195.0 679.8 L194.7 681.1 L194.2 682.4 L193.7 683.7 L193.0 684.9 L192.3 686.1 L191.4 687.3 L190.5 688.3 L189.5 689.2 L188.5 690.0 L187.5 690.6 L186.4 691.1 L185.4 691.4 L184.4 691.6 L183.4 691.5 L182.5 691.3 L181.7 691.0 L181.0 690.5 L180.4 689.8 L179.9 689.0 L179.5 688.0 L179.3 687.0 L179.2 685.8 L179.2 684.6 L179.4 683.3 L179.7 682.0 L180.1 680.7 L180.7 679.4 L181.3 678.2 L182.1 677.0 L182.9 675.8 L183.9 674.8 L184.8 673.9 L185.9 673.1 L186.9 672.5 L187.9 672.0 L189.0 671.7 L190.0 671.5 L190.9 671.6 L191.8 671.8 L192.6 672.1Z" fill="#888" stroke="#111" stroke-width="1.0" stroke-linejoin="round" />
<path d="M226.8 681.6 L225.9 681.1 L224.9 680.8 L223.8 680.6 L222.6 680.5 L221.5 680.6 L220.2 680.8 L219.0 681.1 L217.8 681.6 L216.5 682.2 L215.3 683.0 L214.0 683.8 L212.8 684.8 L211.6 685.9 L210.5 687.0 L209.4 688.3 L208.3 689.6 L207.4 691.0 L206.5 692.5 L205.7 694.0 L204.9 695.5 L204.3 697.1 L203.7 698.7 L203.3 700.2 L203.0 701.8 L202.7 703.3 L202.6 704.8 L202.6 706.3 L202.7 707.7 L202.9 709.0 L203.2 710.3 L203.7 711.4 L204.2 712.5 L204.8 713.4 L205.5 714.3 L206.3 715.0 L207.2 715.6 L213.9 719.4 L214.8 719.9 L215.8 720.2 L216.9 720.4 L218.1 720.5 L219.2 720.4 L220.5 720.2 L221.7 719.8 L222.9 719.4 L224.2 718.8 L225.5 718.0 L226.7 717.2 L227.9 716.2 L229.1 715.1 L230.2 714.0 L231.3 712.7 L232.4 711.4 L233.3 710.0 L234.2 708.5 L235.0 707.0 L235.8 705.5 L236.4 703.9 L237.0 702.3 L237.4 700.8 L237.7 699.2 L238.0 697.7 L238.1 696.2 L238.1 694.7 L238.0 693.3 L237.8 692.0 L237.5 690.7 L237.0 689.6 L236.5 688.5 L235.9 687.6 L235.2 686.7 L234.4 686.0 L233.5 685.4Z" fill="#fff" stroke="#111" stroke-width="1.3" stroke-linejoin="round" />
<path d="M234.1 684.5 L235.4 685.5 L236.6 686.7 L237.5 688.3 L238.2 690.1 L238.7 692.1 L238.9 694.3 L238.8 696.6 L238.5 699.0 L237.9 701.5 L237.1 704.0 L236.1 706.5 L234.8 708.9 L233.4 711.1 L231.8 713.3 L230.0 715.2 L228.1 717.0 L226.2 718.5 L224.2 719.7 L222.2 720.6 L220.3 721.2 L218.4 721.5 L216.6 721.4 L214.9 721.1 L213.3 720.4 L212.0 719.4 L210.8 718.1 L209.8 716.6 L209.1 714.8 L208.7 712.8 L208.5 710.6 L208.5 708.3 L208.9 705.8 L209.4 703.4 L210.2 700.9 L211.3 698.4 L212.5 696.0 L214.0 693.7 L215.6 691.6 L217.4 689.6 L219.2 687.9 L221.2 686.4 L223.1 685.2 L225.1 684.3 L227.1 683.7 L229.0 683.4 L230.8 683.4 L232.5 683.8 L234.1 684.5Z" fill="#fff" stroke="#111" stroke-width="1.3" stroke-linejoin="round" />
<path d="M233.2 685.9 L234.5 686.8 L235.6 688.0 L236.4 689.4 L237.1 691.1 L237.5 692.9 L237.7 694.9 L237.6 697.1 L237.3 699.3 L236.8 701.6 L236.1 703.9 L235.1 706.1 L233.9 708.3 L232.6 710.4 L231.1 712.4 L229.5 714.2 L227.8 715.8 L226.0 717.2 L224.2 718.3 L222.4 719.1 L220.5 719.7 L218.8 720.0 L217.1 719.9 L215.6 719.6 L214.1 718.9 L212.9 718.0 L211.8 716.9 L211.0 715.4 L210.3 713.8 L209.9 711.9 L209.7 709.9 L209.7 707.8 L210.0 705.6 L210.6 703.3 L211.3 701.0 L212.3 698.7 L213.4 696.5 L214.8 694.4 L216.3 692.4 L217.9 690.6 L219.6 689.0 L221.4 687.7 L223.2 686.6 L225.0 685.7 L226.8 685.2 L228.6 684.9 L230.2 684.9 L231.8 685.3 L233.2 685.9ZM232.0 688.1 L233.1 688.8 L234.0 689.9 L234.8 691.1 L235.3 692.6 L235.7 694.2 L235.9 695.9 L235.8 697.8 L235.5 699.7 L235.1 701.7 L234.4 703.7 L233.6 705.6 L232.6 707.6 L231.4 709.4 L230.1 711.1 L228.7 712.7 L227.3 714.1 L225.7 715.3 L224.1 716.2 L222.5 717.0 L221.0 717.4 L219.4 717.7 L218.0 717.6 L216.6 717.3 L215.4 716.8 L214.3 716.0 L213.4 715.0 L212.6 713.7 L212.0 712.3 L211.7 710.7 L211.5 708.9 L211.6 707.1 L211.8 705.2 L212.3 703.2 L212.9 701.2 L213.8 699.2 L214.8 697.3 L215.9 695.4 L217.2 693.7 L218.6 692.2 L220.1 690.8 L221.7 689.6 L223.3 688.6 L224.8 687.9 L226.4 687.4 L227.9 687.2 L229.4 687.2 L230.7 687.5 L232.0 688.1Z" fill="#555" stroke="#111" stroke-width="1.0" stroke-linejoin="round" fill-rule="evenodd"/>
<path d="M231.4 689.1 L232.4 689.9 L233.2 690.8 L233.9 692.0 L234.5 693.3 L234.8 694.8 L234.9 696.4 L234.9 698.1 L234.7 699.9 L234.2 701.7 L233.6 703.6 L232.9 705.4 L231.9 707.2 L230.9 708.9 L229.7 710.5 L228.4 711.9 L227.0 713.2 L225.6 714.3 L224.1 715.2 L222.6 715.9 L221.2 716.3 L219.7 716.5 L218.4 716.5 L217.2 716.2 L216.0 715.7 L215.0 715.0 L214.1 714.0 L213.4 712.9 L212.9 711.6 L212.6 710.1 L212.4 708.5 L212.5 706.7 L212.7 704.9 L213.1 703.1 L213.7 701.3 L214.5 699.4 L215.4 697.7 L216.5 696.0 L217.7 694.4 L219.0 692.9 L220.4 691.7 L221.8 690.6 L223.3 689.7 L224.8 689.0 L226.2 688.5 L227.6 688.3 L229.0 688.4 L230.2 688.6 L231.4 689.1Z" fill="none" stroke="#111" stroke-width="0.8" stroke-linejoin="round" />
<path d="M231.1 696.8 L231.3 697.8 L231.3 698.8 L231.2 699.8 L231.1 700.9 L230.8 702.0 L230.4 703.1 L230.0 704.2 L229.5 705.3 L228.8 706.3 L228.2 707.3 L227.4 708.2 L226.6 709.1 L225.8 709.8 L224.9 710.5 L224.0 711.0 L223.2 711.4 L222.3 711.7 L221.4 711.9 L220.6 712.0 L219.8 711.9 L219.1 711.7 L218.4 711.3 L217.8 710.9 L217.3 710.3 L216.9 709.7 L216.5 708.9 L216.3 708.0 L216.1 707.1 L216.1 706.1 L216.1 705.1 L216.3 704.0 L216.6 702.9 L216.9 701.8 L217.4 700.7 L217.9 699.6 L218.5 698.5 L219.2 697.6 L219.9 696.6 L220.7 695.8 L221.6 695.0 L222.4 694.4 L223.3 693.9 L224.2 693.4 L225.1 693.1 L225.9 692.9 L226.8 692.9 L227.6 693.0 L228.3 693.2" fill="none" stroke="#111" stroke-width="1.6" stroke-linejoin="round" />
<path d="M262.9 702.4 L264.1 703.3 L265.2 704.5 L266.1 705.9 L266.7 707.5 L267.1 709.3 L267.3 711.3 L267.2 713.4 L266.9 715.6 L266.4 717.8 L265.7 720.1 L264.7 722.3 L263.6 724.5 L262.3 726.6 L260.8 728.5 L259.2 730.3 L257.5 731.9 L255.8 733.2 L254.0 734.3 L252.2 735.2 L250.4 735.7 L248.7 736.0 L247.0 735.9 L245.5 735.6 L244.1 735.0 L242.8 734.1 L241.8 732.9 L240.9 731.5 L240.3 729.9 L239.9 728.1 L239.7 726.1 L239.7 724.0 L240.0 721.8 L240.6 719.5 L241.3 717.3 L242.2 715.0 L243.4 712.9 L244.7 710.8 L246.2 708.8 L247.8 707.1 L249.4 705.5 L251.2 704.1 L253.0 703.0 L254.8 702.2 L256.6 701.7 L258.3 701.4 L260.0 701.4 L261.5 701.8 L262.9 702.4Z" fill="none" stroke="#111" stroke-width="1.4" stroke-linejoin="round" />
<path d="M262.2 703.7 L263.3 704.5 L264.3 705.6 L265.0 706.9 L265.6 708.4 L266.0 710.1 L266.2 711.9 L266.1 713.8 L265.9 715.8 L265.4 717.9 L264.7 720.0 L263.8 722.1 L262.8 724.1 L261.6 726.0 L260.2 727.8 L258.8 729.4 L257.2 730.8 L255.6 732.1 L253.9 733.1 L252.3 733.9 L250.6 734.4 L249.1 734.6 L247.5 734.6 L246.1 734.3 L244.8 733.7 L243.7 732.9 L242.7 731.8 L241.9 730.5 L241.3 729.0 L241.0 727.3 L240.8 725.5 L240.8 723.6 L241.1 721.5 L241.6 719.5 L242.3 717.4 L243.1 715.3 L244.2 713.3 L245.4 711.4 L246.8 709.6 L248.2 708.0 L249.8 706.5 L251.4 705.3 L253.0 704.3 L254.7 703.5 L256.3 703.0 L257.9 702.8 L259.5 702.8 L260.9 703.1 L262.2 703.7Z" fill="none" stroke="#111" stroke-width="1.1199999999999999" stroke-linejoin="round" />
<path d="M290.2 719.4 L292.0 717.2 L292.6 717.6 L291.3 720.2 L291.8 720.6 L293.7 718.7 L294.2 719.3 L292.7 721.7 L293.0 722.3 L295.0 720.7 L295.4 721.4 L293.6 723.6 L293.8 724.3 L296.0 723.1 L296.1 723.9 L294.2 725.9 L294.3 726.6 L296.4 725.9 L296.5 726.8 L294.4 728.4 L294.4 729.2 L296.4 729.0 L296.3 729.9 L294.2 731.2 L294.1 732.0 L296.0 732.2 L295.7 733.2 L293.6 734.0 L293.4 734.9 L295.1 735.5 L294.7 736.5 L292.7 736.9 L292.3 737.7 L293.7 738.8 L293.3 739.8 L291.4 739.7 L290.9 740.5 L292.0 742.0 L291.5 742.9 L289.7 742.4 L289.2 743.1 L290.0 745.0 L289.3 745.8 L287.9 744.8 L287.3 745.5 L287.7 747.6 L287.0 748.3 L285.8 746.9 L285.1 747.5 L285.2 749.9 L284.4 750.5 L283.6 748.7 L282.9 749.2 L282.6 751.7 L281.8 752.2 L281.3 750.1 L280.6 750.4 L280.0 753.0 L279.2 753.3 L279.0 751.0 L278.3 751.2 L277.4 753.8 L276.6 753.9 L276.8 751.4 L276.2 751.4 L274.9 754.0 L274.2 753.9 L274.7 751.3 L274.1 751.2 L272.6 753.6 L271.9 753.4 L272.8 750.7 L272.3 750.5 L270.5 752.7 L270.0 752.3 L271.2 749.7 L270.8 749.3 L268.8 751.2 L268.4 750.6 L269.9 748.2 L269.6 747.6 L267.5 749.2 L267.2 748.5 L268.9 746.2 L268.7 745.6 L266.6 746.8 L266.4 746.0 L268.3 744.0 L268.2 743.3 L266.1 744.0 L266.1 743.1 L268.1 741.5 L268.2 740.7 L266.1 740.9 L266.2 740.0 L268.3 738.7 L268.5 737.9 L266.6 737.7 L266.8 736.7 L268.9 735.9 L269.2 735.0 L267.5 734.4 L267.9 733.4 L269.9 733.0 L270.2 732.2 L268.8 731.1 L269.3 730.1 L271.2 730.2 L271.7 729.4 L270.5 727.9 L271.1 727.0 L272.8 727.5 L273.4 726.8 L272.6 724.9 L273.2 724.1 L274.7 725.1 L275.3 724.4 L274.8 722.3 L275.6 721.5 L276.8 723.0 L277.4 722.4 L277.3 720.0 L278.1 719.4 L279.0 721.2 L279.7 720.7 L279.9 718.2 L280.7 717.7 L281.3 719.8 L282.0 719.5 L282.6 716.9 L283.4 716.6 L283.6 718.9 L284.2 718.7 L285.2 716.1 L286.0 716.0 L285.8 718.5 L286.4 718.5 L287.7 715.9 L288.4 716.0 L287.8 718.6 L288.4 718.7 L290.0 716.3 L290.6 716.5 L289.7 719.2Z" fill="#fff" stroke="#111" stroke-width="1.1" stroke-linejoin="round" />
<path d="M290.9 718.2 L290.0 717.8 L289.0 717.4 L287.9 717.2 L286.8 717.2 L285.6 717.3 L284.5 717.5 L283.2 717.8 L282.0 718.3 L280.8 718.9 L279.5 719.6 L278.3 720.5 L277.1 721.4 L276.0 722.5 L274.8 723.6 L273.8 724.8 L272.7 726.1 L271.8 727.5 L270.9 729.0 L270.1 730.4 L269.4 732.0 L268.8 733.5 L268.2 735.0 L267.8 736.6 L267.5 738.1 L267.2 739.6 L267.1 741.1 L267.1 742.5 L267.2 743.9 L267.4 745.2 L267.7 746.4 L268.1 747.6 L268.7 748.6 L269.3 749.6 L270.0 750.4 L270.8 751.1 L271.6 751.7 L278.5 755.7 L279.5 756.1 L280.5 756.5 L281.6 756.7 L282.7 756.7 L283.8 756.6 L285.0 756.4 L286.2 756.1 L287.5 755.6 L288.7 755.0 L289.9 754.3 L291.2 753.4 L292.4 752.5 L293.5 751.4 L294.6 750.3 L295.7 749.1 L296.7 747.7 L297.7 746.4 L298.6 744.9 L299.4 743.5 L300.1 741.9 L300.7 740.4 L301.3 738.9 L301.7 737.3 L302.0 735.8 L302.2 734.3 L302.4 732.8 L302.4 731.4 L302.3 730.0 L302.1 728.7 L301.8 727.5 L301.3 726.3 L300.8 725.3 L300.2 724.3 L299.5 723.5 L298.7 722.8 L297.9 722.2Z" fill="#fff" stroke="#111" stroke-width="1.1" stroke-linejoin="round" />
<path d="M275.5 752.4L267.6 745.8M274.9 751.2L267.3 744.4M274.5 749.9L267.1 742.9M274.2 748.5L267.1 741.4M274.1 747.0L267.2 739.7M274.0 745.5L267.5 738.1M274.1 743.9L267.9 736.4M274.4 742.2L268.4 734.7M274.8 740.5L269.0 732.9M275.2 738.8L269.7 731.3M275.9 737.1L270.6 729.6M276.6 735.4L271.5 728.0M277.4 733.7L272.5 726.4M278.3 732.1L273.6 725.0M279.4 730.6L274.8 723.6M280.5 729.1L276.1 722.3M281.7 727.7L277.4 721.2M282.9 726.4L278.7 720.2M284.2 725.3L280.0 719.3M285.5 724.3L281.4 718.6M286.9 723.4L282.8 718.0M288.2 722.6L284.1 717.6M289.6 722.0L285.5 717.3M291.0 721.6L286.7 717.2M292.3 721.3L288.0 717.2M293.6 721.2L289.1 717.5M294.8 721.2L290.2 717.9M296.0 721.5L291.3 718.4" fill="none" stroke="#111" stroke-width="1.0" stroke-linejoin="round" />
<path d="M297.2 723.4 L298.9 721.2 L299.5 721.6 L298.3 724.2 L298.7 724.6 L300.6 722.7 L301.1 723.3 L299.6 725.7 L299.9 726.3 L302.0 724.7 L302.3 725.4 L300.6 727.6 L300.8 728.3 L302.9 727.1 L303.1 727.9 L301.1 729.9 L301.2 730.6 L303.3 729.9 L303.4 730.8 L301.3 732.4 L301.3 733.2 L303.3 733.0 L303.3 733.9 L301.1 735.2 L301.0 736.0 L302.9 736.2 L302.7 737.2 L300.6 738.0 L300.3 738.9 L302.0 739.5 L301.6 740.5 L299.6 740.9 L299.2 741.7 L300.7 742.8 L300.2 743.8 L298.3 743.7 L297.8 744.5 L299.0 746.0 L298.4 746.9 L296.7 746.4 L296.1 747.1 L296.9 749.0 L296.3 749.8 L294.8 748.8 L294.2 749.5 L294.6 751.6 L293.9 752.3 L292.7 750.9 L292.1 751.5 L292.1 753.9 L291.4 754.5 L290.5 752.7 L289.8 753.2 L289.5 755.7 L288.7 756.2 L288.2 754.1 L287.5 754.4 L286.9 757.0 L286.1 757.3 L285.9 755.0 L285.3 755.2 L284.3 757.8 L283.5 757.9 L283.7 755.4 L283.1 755.4 L281.8 758.0 L281.1 757.9 L281.6 755.3 L281.1 755.2 L279.5 757.6 L278.9 757.4 L279.8 754.7 L279.2 754.5 L277.5 756.7 L276.9 756.3 L278.1 753.7 L277.7 753.3 L275.8 755.2 L275.3 754.6 L276.8 752.2 L276.5 751.6 L274.4 753.2 L274.1 752.5 L275.9 750.2 L275.6 749.6 L273.5 750.8 L273.3 750.0 L275.3 748.0 L275.2 747.3 L273.1 748.0 L273.0 747.1 L275.1 745.5 L275.1 744.7 L273.1 744.9 L273.2 744.0 L275.3 742.7 L275.4 741.9 L273.5 741.7 L273.7 740.7 L275.9 739.9 L276.1 739.0 L274.4 738.4 L274.8 737.4 L276.8 737.0 L277.2 736.2 L275.8 735.1 L276.2 734.1 L278.1 734.2 L278.6 733.4 L277.5 731.9 L278.0 731.0 L279.8 731.5 L280.3 730.8 L279.5 728.9 L280.1 728.1 L281.6 729.1 L282.2 728.4 L281.8 726.3 L282.5 725.5 L283.7 727.0 L284.4 726.4 L284.3 724.0 L285.0 723.4 L285.9 725.2 L286.6 724.7 L286.9 722.2 L287.7 721.7 L288.2 723.8 L288.9 723.5 L289.5 720.9 L290.3 720.6 L290.5 722.9 L291.2 722.7 L292.1 720.1 L292.9 720.0 L292.7 722.5 L293.3 722.5 L294.6 719.9 L295.3 720.0 L294.8 722.6 L295.4 722.7 L296.9 720.3 L297.6 720.5 L296.6 723.2Z" fill="#fff" stroke="#111" stroke-width="1.1" stroke-linejoin="round" />
<path d="M296.5 724.6 L297.6 725.4 L298.5 726.4 L299.3 727.7 L299.8 729.1 L300.2 730.7 L300.4 732.4 L300.3 734.3 L300.1 736.2 L299.6 738.2 L298.9 740.2 L298.1 742.2 L297.1 744.1 L295.9 745.9 L294.7 747.6 L293.3 749.2 L291.8 750.6 L290.2 751.8 L288.6 752.7 L287.0 753.5 L285.5 753.9 L284.0 754.2 L282.5 754.1 L281.2 753.8 L279.9 753.3 L278.8 752.5 L277.9 751.5 L277.1 750.2 L276.6 748.8 L276.2 747.2 L276.1 745.5 L276.1 743.6 L276.4 741.7 L276.8 739.7 L277.5 737.7 L278.3 735.7 L279.3 733.8 L280.5 732.0 L281.8 730.3 L283.2 728.7 L284.6 727.3 L286.2 726.1 L287.8 725.2 L289.4 724.4 L290.9 724.0 L292.5 723.7 L293.9 723.8 L295.3 724.1 L296.5 724.6Z" fill="none" stroke="#111" stroke-width="1.0" stroke-linejoin="round" />
<path d="M295.0 727.1 L295.9 727.8 L296.7 728.6 L297.3 729.6 L297.8 730.8 L298.1 732.1 L298.2 733.6 L298.2 735.1 L298.0 736.7 L297.6 738.3 L297.1 740.0 L296.4 741.6 L295.5 743.2 L294.6 744.7 L293.5 746.1 L292.4 747.4 L291.1 748.5 L289.9 749.5 L288.6 750.3 L287.3 750.9 L286.0 751.3 L284.7 751.5 L283.5 751.5 L282.4 751.2 L281.4 750.8 L280.5 750.1 L279.7 749.3 L279.1 748.3 L278.6 747.1 L278.3 745.8 L278.2 744.3 L278.2 742.8 L278.4 741.2 L278.8 739.6 L279.3 737.9 L280.0 736.3 L280.9 734.7 L281.8 733.2 L282.9 731.8 L284.0 730.5 L285.3 729.4 L286.5 728.4 L287.8 727.6 L289.2 727.0 L290.5 726.6 L291.7 726.4 L292.9 726.4 L294.0 726.7 L295.0 727.1Z" fill="none" stroke="#111" stroke-width="1.0" stroke-linejoin="round" />
<path d="M294.0 728.9 L294.8 729.5 L295.4 730.2 L295.9 731.0 L296.3 732.0 L296.6 733.2 L296.7 734.4 L296.7 735.7 L296.5 737.0 L296.2 738.4 L295.7 739.8 L295.1 741.2 L294.4 742.5 L293.6 743.8 L292.7 745.0 L291.7 746.1 L290.7 747.1 L289.6 747.9 L288.5 748.6 L287.4 749.1 L286.3 749.4 L285.2 749.6 L284.2 749.6 L283.3 749.4 L282.4 749.0 L281.6 748.4 L281.0 747.7 L280.5 746.9 L280.1 745.8 L279.8 744.7 L279.7 743.5 L279.7 742.2 L279.9 740.9 L280.2 739.5 L280.7 738.1 L281.3 736.7 L282.0 735.4 L282.8 734.1 L283.7 732.9 L284.7 731.8 L285.7 730.8 L286.8 730.0 L287.9 729.3 L289.0 728.8 L290.1 728.5 L291.2 728.3 L292.2 728.3 L293.1 728.5 L294.0 728.9Z" fill="#888" stroke="#111" stroke-width="1.2" stroke-linejoin="round" />
<path d="M320.4 743.8 L319.8 743.5 L319.2 743.3 L318.6 743.2 L317.9 743.2 L317.3 743.2 L316.6 743.3 L315.9 743.5 L315.1 743.8 L314.4 744.2 L313.7 744.6 L313.0 745.1 L312.3 745.6 L311.6 746.3 L311.0 746.9 L310.3 747.6 L309.7 748.4 L309.2 749.2 L308.7 750.1 L308.2 750.9 L307.8 751.8 L307.4 752.7 L307.1 753.6 L306.8 754.5 L306.6 755.4 L306.5 756.3 L306.4 757.2 L306.4 758.0 L306.5 758.8 L306.6 759.6 L306.8 760.3 L307.0 760.9 L307.3 761.5 L307.7 762.1 L308.1 762.6 L308.6 763.0 L309.1 763.3 L325.3 772.7 L325.8 772.9 L326.4 773.1 L327.0 773.3 L327.7 773.3 L328.4 773.2 L329.1 773.1 L329.8 772.9 L330.5 772.6 L331.2 772.3 L331.9 771.9 L332.6 771.4 L333.3 770.8 L334.0 770.2 L334.7 769.5 L335.3 768.8 L335.9 768.0 L336.5 767.2 L337.0 766.4 L337.4 765.5 L337.9 764.7 L338.2 763.8 L338.5 762.8 L338.8 761.9 L339.0 761.0 L339.1 760.2 L339.2 759.3 L339.2 758.5 L339.1 757.7 L339.0 756.9 L338.8 756.2 L338.6 755.5 L338.3 754.9 L337.9 754.4 L337.5 753.9 L337.1 753.5 L336.6 753.1Z" fill="#fff" stroke="#111" stroke-width="1.2" stroke-linejoin="round" />
<path d="M337.1 752.2 L337.9 752.8 L338.6 753.5 L339.2 754.5 L339.6 755.5 L339.9 756.7 L340.0 758.0 L340.0 759.4 L339.8 760.9 L339.4 762.3 L338.9 763.8 L338.3 765.3 L337.6 766.7 L336.7 768.1 L335.7 769.4 L334.7 770.6 L333.6 771.6 L332.4 772.5 L331.2 773.2 L330.0 773.8 L328.9 774.1 L327.7 774.3 L326.7 774.3 L325.6 774.0 L324.7 773.6 L323.9 773.0 L323.2 772.3 L322.6 771.3 L322.2 770.3 L321.9 769.1 L321.8 767.8 L321.9 766.4 L322.1 764.9 L322.4 763.5 L322.9 762.0 L323.5 760.5 L324.3 759.1 L325.1 757.7 L326.1 756.4 L327.1 755.3 L328.2 754.2 L329.4 753.3 L330.6 752.6 L331.8 752.1 L333.0 751.7 L334.1 751.5 L335.2 751.5 L336.2 751.8 L337.1 752.2Z" fill="#fff" stroke="#111" stroke-width="1.2" stroke-linejoin="round" />
<path d="M335.7 754.5 L336.4 755.0 L336.9 755.6 L337.4 756.3 L337.7 757.2 L337.9 758.1 L338.0 759.1 L338.0 760.2 L337.8 761.3 L337.6 762.5 L337.2 763.6 L336.7 764.8 L336.1 765.9 L335.4 767.0 L334.7 768.0 L333.9 768.9 L333.0 769.7 L332.1 770.4 L331.2 770.9 L330.2 771.4 L329.3 771.7 L328.4 771.8 L327.6 771.8 L326.8 771.6 L326.1 771.3 L325.4 770.8 L324.9 770.2 L324.5 769.5 L324.1 768.7 L323.9 767.7 L323.8 766.7 L323.9 765.6 L324.0 764.5 L324.3 763.3 L324.6 762.2 L325.1 761.0 L325.7 759.9 L326.4 758.8 L327.2 757.8 L328.0 756.9 L328.8 756.1 L329.7 755.4 L330.7 754.9 L331.6 754.4 L332.5 754.2 L333.4 754.0 L334.2 754.0 L335.0 754.2 L335.7 754.5Z" fill="none" stroke="#111" stroke-width="1.0" stroke-linejoin="round" />
<path d="M354.9 765.0 L354.4 764.7 L353.9 764.6 L353.3 764.5 L352.7 764.4 L352.1 764.5 L351.5 764.6 L350.8 764.8 L350.2 765.0 L349.5 765.3 L348.8 765.7 L348.2 766.2 L347.5 766.7 L346.9 767.3 L346.3 767.9 L345.7 768.5 L345.2 769.2 L344.7 770.0 L344.2 770.8 L343.8 771.5 L343.4 772.4 L343.1 773.2 L342.8 774.0 L342.5 774.8 L342.4 775.7 L342.2 776.5 L342.2 777.3 L342.2 778.0 L342.2 778.8 L342.3 779.5 L342.5 780.1 L342.7 780.7 L343.0 781.3 L343.3 781.8 L343.7 782.2 L344.1 782.6 L344.6 782.9 L348.9 785.4 L349.4 785.7 L350.0 785.9 L350.5 786.0 L351.1 786.0 L351.8 785.9 L352.4 785.8 L353.0 785.7 L353.7 785.4 L354.4 785.1 L355.0 784.7 L355.7 784.2 L356.3 783.7 L356.9 783.2 L357.5 782.5 L358.1 781.9 L358.7 781.2 L359.2 780.4 L359.7 779.7 L360.1 778.9 L360.5 778.1 L360.8 777.2 L361.1 776.4 L361.3 775.6 L361.5 774.8 L361.6 773.9 L361.7 773.2 L361.7 772.4 L361.6 771.7 L361.5 771.0 L361.4 770.3 L361.1 769.7 L360.9 769.1 L360.5 768.6 L360.2 768.2 L359.7 767.8 L359.3 767.5Z" fill="#fff" stroke="#111" stroke-width="1.3" stroke-linejoin="round" />
<path d="M359.8 766.5 L360.6 767.1 L361.2 767.8 L361.7 768.7 L362.1 769.6 L362.4 770.8 L362.5 772.0 L362.5 773.2 L362.3 774.6 L362.0 775.9 L361.5 777.3 L360.9 778.7 L360.2 780.0 L359.4 781.3 L358.6 782.5 L357.6 783.5 L356.6 784.5 L355.5 785.3 L354.4 786.0 L353.3 786.5 L352.2 786.8 L351.2 787.0 L350.2 787.0 L349.2 786.8 L348.4 786.4 L347.6 785.8 L347.0 785.1 L346.4 784.3 L346.1 783.3 L345.8 782.2 L345.7 781.0 L345.7 779.7 L345.9 778.3 L346.2 777.0 L346.7 775.6 L347.2 774.2 L347.9 772.9 L348.7 771.6 L349.6 770.5 L350.6 769.4 L351.6 768.4 L352.7 767.6 L353.8 766.9 L354.9 766.4 L356.0 766.1 L357.0 765.9 L358.0 766.0 L359.0 766.2 L359.8 766.5Z" fill="#fff" stroke="#111" stroke-width="1.3" stroke-linejoin="round" />
<path d="M358.0 769.7 L359.7 769.1 L360.7 770.9 L359.8 773.1 L359.7 775.2 L360.3 776.7 L359.1 779.4 L357.4 780.2 L355.8 781.9 L354.7 784.1 L352.5 785.0 L351.7 783.6 L350.2 783.2 L348.5 783.8 L347.5 782.1 L348.4 779.9 L348.5 777.7 L347.8 776.2 L349.1 773.5 L350.8 772.7 L352.4 771.0 L353.5 768.9 L355.6 768.0 L356.5 769.3Z" fill="#fff" stroke="#111" stroke-width="1.2" stroke-linejoin="round" />
<path d="M358.4 769.0 L358.0 768.8 L357.5 768.7 L357.1 768.6 L356.6 768.6 L356.0 768.6 L355.5 768.7 L355.0 768.8 L354.4 769.0 L353.9 769.3 L353.3 769.6 L352.8 770.0 L352.2 770.4 L351.7 770.9 L351.2 771.4 L350.8 772.0 L350.3 772.5 L349.9 773.2 L349.5 773.8 L349.1 774.5 L348.8 775.1 L348.5 775.8 L348.3 776.5 L348.1 777.2 L348.0 777.9 L347.9 778.5 L347.8 779.2 L347.8 779.8 L347.8 780.5 L347.9 781.0 L348.1 781.6 L348.3 782.1 L348.5 782.5 L348.8 783.0 L349.1 783.3 L349.4 783.6 L349.8 783.9 L352.4 785.4 L352.8 785.6 L353.3 785.8 L353.7 785.8 L354.2 785.9 L354.7 785.8 L355.3 785.7 L355.8 785.6 L356.4 785.4 L356.9 785.1 L357.5 784.8 L358.0 784.4 L358.5 784.0 L359.1 783.5 L359.6 783.0 L360.0 782.5 L360.5 781.9 L360.9 781.3 L361.3 780.6 L361.7 780.0 L362.0 779.3 L362.3 778.6 L362.5 777.9 L362.7 777.2 L362.8 776.5 L362.9 775.9 L363.0 775.2 L363.0 774.6 L363.0 774.0 L362.9 773.4 L362.7 772.8 L362.5 772.3 L362.3 771.9 L362.0 771.5 L361.7 771.1 L361.4 770.8 L361.0 770.5Z" fill="#fff" stroke="#111" stroke-width="1.2" stroke-linejoin="round" />
<path d="M351.0 784.0L348.4 782.5M350.4 780.9L347.8 779.4M351.2 777.2L348.6 775.7M353.2 773.6L350.6 772.1M356.1 771.0L353.5 769.5M359.1 770.1L356.5 768.6" fill="none" stroke="#111" stroke-width="0.9" stroke-linejoin="round" />
<path d="M360.6 771.2 L362.3 770.6 L363.3 772.4 L362.4 774.6 L362.3 776.7 L362.9 778.2 L361.7 780.9 L360.0 781.7 L358.4 783.4 L357.3 785.6 L355.1 786.5 L354.3 785.1 L352.8 784.7 L351.0 785.3 L350.1 783.6 L351.0 781.4 L351.1 779.2 L350.4 777.7 L351.6 775.0 L353.4 774.2 L355.0 772.5 L356.1 770.4 L358.2 769.5 L359.1 770.8Z" fill="#fff" stroke="#111" stroke-width="1.2" stroke-linejoin="round" />
<path d="M359.6 772.9 L360.0 773.2 L360.3 773.6 L360.6 774.0 L360.8 774.5 L360.9 775.1 L361.0 775.7 L360.9 776.3 L360.9 777.0 L360.7 777.7 L360.5 778.4 L360.2 779.1 L359.8 779.8 L359.4 780.4 L359.0 781.0 L358.5 781.6 L357.9 782.0 L357.4 782.5 L356.8 782.8 L356.3 783.1 L355.7 783.2 L355.2 783.3 L354.7 783.3 L354.2 783.2 L353.8 783.0 L353.4 782.7 L353.1 782.4 L352.8 781.9 L352.6 781.4 L352.5 780.9 L352.4 780.3 L352.4 779.6 L352.5 778.9 L352.7 778.2 L352.9 777.5 L353.2 776.8 L353.6 776.2 L354.0 775.5 L354.4 774.9 L354.9 774.4 L355.4 773.9 L356.0 773.5 L356.5 773.1 L357.1 772.9 L357.7 772.7 L358.2 772.6 L358.7 772.6 L359.2 772.7 L359.6 772.9Z" fill="none" stroke="#111" stroke-width="1.2" stroke-linejoin="round" />
<path d="M358.8 774.3 L359.1 774.5 L359.3 774.8 L359.5 775.1 L359.7 775.4 L359.8 775.9 L359.8 776.3 L359.8 776.8 L359.7 777.3 L359.6 777.8 L359.4 778.3 L359.2 778.8 L359.0 779.3 L358.7 779.7 L358.3 780.2 L358.0 780.6 L357.6 780.9 L357.2 781.2 L356.8 781.5 L356.4 781.7 L356.0 781.8 L355.6 781.8 L355.2 781.8 L354.9 781.8 L354.6 781.6 L354.3 781.4 L354.1 781.2 L353.9 780.8 L353.7 780.5 L353.6 780.1 L353.6 779.6 L353.6 779.2 L353.7 778.7 L353.8 778.2 L354.0 777.6 L354.2 777.1 L354.4 776.7 L354.7 776.2 L355.0 775.7 L355.4 775.4 L355.8 775.0 L356.2 774.7 L356.6 774.4 L357.0 774.3 L357.4 774.1 L357.8 774.1 L358.1 774.1 L358.5 774.2 L358.8 774.3Z" fill="none" stroke="#111" stroke-width="1.6" stroke-linejoin="round" />
<path d="M510.6 678.0 L511.4 678.6 L512.0 679.3 L512.6 680.2 L513.0 681.3 L513.3 682.4 L513.4 683.7 L513.4 685.1 L513.2 686.5 L512.8 688.0 L512.4 689.4 L511.7 690.9 L511.0 692.3 L510.2 693.6 L509.2 694.9 L508.2 696.0 L507.1 697.0 L506.0 697.9 L504.8 698.6 L503.6 699.2 L502.5 699.5 L501.4 699.7 L500.3 699.7 L499.3 699.4 L498.4 699.0 L497.6 698.5 L496.9 697.7 L496.4 696.8 L495.9 695.7 L495.7 694.6 L495.6 693.3 L495.6 691.9 L495.8 690.5 L496.1 689.1 L496.6 687.6 L497.2 686.1 L497.9 684.7 L498.8 683.4 L499.7 682.1 L500.8 681.0 L501.9 680.0 L503.0 679.1 L504.2 678.4 L505.3 677.9 L506.5 677.5 L507.6 677.3 L508.7 677.4 L509.7 677.6 L510.6 678.0Z" fill="none" stroke="#111" stroke-width="1.4" stroke-linejoin="round" />
<path d="M509.8 679.2 L510.5 679.7 L511.1 680.4 L511.6 681.2 L512.0 682.1 L512.2 683.2 L512.3 684.3 L512.3 685.5 L512.1 686.7 L511.8 688.0 L511.4 689.3 L510.9 690.6 L510.2 691.8 L509.5 693.0 L508.6 694.1 L507.7 695.1 L506.8 696.0 L505.8 696.8 L504.8 697.4 L503.7 697.9 L502.7 698.2 L501.7 698.3 L500.8 698.3 L499.9 698.1 L499.1 697.8 L498.4 697.3 L497.8 696.6 L497.3 695.8 L497.0 694.9 L496.7 693.8 L496.6 692.7 L496.7 691.5 L496.8 690.3 L497.1 689.0 L497.5 687.7 L498.1 686.4 L498.7 685.2 L499.5 684.0 L500.3 682.9 L501.2 681.9 L502.2 681.0 L503.2 680.2 L504.2 679.6 L505.2 679.1 L506.2 678.8 L507.2 678.7 L508.2 678.7 L509.0 678.9 L509.8 679.2Z" fill="none" stroke="#111" stroke-width="1.1199999999999999" stroke-linejoin="round" />
<path d="M541.5 686.6 L540.6 686.2 L539.5 685.8 L538.4 685.6 L537.3 685.6 L536.1 685.6 L534.9 685.9 L533.6 686.2 L532.3 686.7 L531.1 687.3 L529.8 688.1 L528.5 688.9 L527.3 689.9 L526.1 691.0 L525.0 692.2 L523.8 693.4 L522.8 694.8 L521.8 696.2 L520.9 697.7 L520.1 699.2 L519.3 700.8 L518.7 702.4 L518.2 704.0 L517.7 705.5 L517.4 707.1 L517.1 708.7 L517.0 710.2 L517.0 711.7 L517.1 713.1 L517.3 714.4 L517.6 715.7 L518.1 716.9 L518.6 717.9 L519.2 718.9 L519.9 719.7 L520.7 720.5 L521.6 721.1 L524.7 722.8 L525.6 723.3 L526.7 723.6 L527.8 723.8 L528.9 723.9 L530.1 723.8 L531.3 723.6 L532.6 723.2 L533.9 722.8 L535.1 722.1 L536.4 721.4 L537.7 720.5 L538.9 719.5 L540.1 718.5 L541.2 717.3 L542.3 716.0 L543.4 714.7 L544.4 713.2 L545.3 711.8 L546.1 710.2 L546.8 708.7 L547.5 707.1 L548.0 705.5 L548.5 703.9 L548.8 702.3 L549.1 700.8 L549.2 699.3 L549.2 697.8 L549.1 696.4 L548.9 695.0 L548.6 693.8 L548.1 692.6 L547.6 691.5 L547.0 690.6 L546.3 689.7 L545.4 689.0 L544.5 688.4Z" fill="#fff" stroke="#111" stroke-width="1.3" stroke-linejoin="round" />
<path d="M545.1 687.4 L546.5 688.4 L547.7 689.7 L548.6 691.3 L549.3 693.1 L549.8 695.2 L550.0 697.4 L549.9 699.7 L549.6 702.2 L549.0 704.7 L548.2 707.2 L547.1 709.7 L545.9 712.1 L544.4 714.4 L542.8 716.6 L541.0 718.6 L539.1 720.3 L537.2 721.8 L535.2 723.0 L533.1 724.0 L531.2 724.6 L529.2 724.9 L527.4 724.8 L525.7 724.5 L524.1 723.8 L522.7 722.8 L521.6 721.5 L520.6 719.9 L519.9 718.1 L519.4 716.1 L519.2 713.9 L519.3 711.5 L519.6 709.1 L520.2 706.5 L521.0 704.0 L522.1 701.5 L523.3 699.1 L524.8 696.8 L526.4 694.6 L528.2 692.6 L530.1 690.9 L532.1 689.4 L534.1 688.2 L536.1 687.2 L538.1 686.6 L540.0 686.3 L541.8 686.4 L543.5 686.7 L545.1 687.4Z" fill="#fff" stroke="#111" stroke-width="1.3" stroke-linejoin="round" />
<path d="M543.8 689.6 L545.1 690.5 L546.1 691.6 L546.9 693.0 L547.6 694.6 L548.0 696.4 L548.1 698.3 L548.1 700.4 L547.8 702.6 L547.3 704.8 L546.6 707.0 L545.6 709.2 L544.5 711.3 L543.2 713.4 L541.8 715.3 L540.2 717.0 L538.6 718.6 L536.9 719.9 L535.1 721.0 L533.3 721.8 L531.6 722.3 L529.9 722.6 L528.3 722.5 L526.8 722.2 L525.4 721.6 L524.2 720.7 L523.1 719.6 L522.3 718.2 L521.7 716.6 L521.3 714.8 L521.1 712.9 L521.1 710.8 L521.4 708.6 L521.9 706.4 L522.6 704.2 L523.6 702.0 L524.7 699.9 L526.0 697.8 L527.4 695.9 L529.0 694.2 L530.6 692.7 L532.4 691.3 L534.1 690.3 L535.9 689.4 L537.6 688.9 L539.3 688.6 L541.0 688.7 L542.5 689.0 L543.8 689.6Z" fill="none" stroke="#111" stroke-width="1.1" stroke-linejoin="round" />
<path d="M548.5 686.9 L548.6 687.0 L548.7 687.1 L548.8 687.3 L548.9 687.5 L549.0 687.7 L549.0 687.9 L549.0 688.1 L549.0 688.4 L548.9 688.7 L548.8 688.9 L548.7 689.2 L548.6 689.4 L548.4 689.7 L548.2 689.9 L548.0 690.1 L547.9 690.3 L547.6 690.5 L547.4 690.6 L547.2 690.7 L547.0 690.8 L546.8 690.8 L546.6 690.8 L546.4 690.7 L546.3 690.7 L546.1 690.6 L546.0 690.4 L545.9 690.3 L545.8 690.1 L545.8 689.9 L545.8 689.6 L545.8 689.4 L545.8 689.1 L545.9 688.9 L546.0 688.6 L546.1 688.3 L546.2 688.1 L546.4 687.8 L546.5 687.6 L546.7 687.4 L546.9 687.2 L547.1 687.1 L547.3 686.9 L547.5 686.8 L547.7 686.8 L547.9 686.7 L548.1 686.7 L548.3 686.8 L548.5 686.9Z" fill="#fff" stroke="#111" stroke-width="1.0" stroke-linejoin="round" />
<path d="M541.7 717.4 L541.9 717.5 L542.0 717.7 L542.1 717.8 L542.1 718.0 L542.2 718.3 L542.2 718.5 L542.2 718.7 L542.2 719.0 L542.1 719.2 L542.0 719.5 L541.9 719.8 L541.8 720.0 L541.6 720.3 L541.5 720.5 L541.3 720.7 L541.1 720.9 L540.9 721.0 L540.7 721.2 L540.5 721.3 L540.2 721.3 L540.0 721.4 L539.8 721.4 L539.7 721.3 L539.5 721.3 L539.4 721.1 L539.2 721.0 L539.1 720.8 L539.1 720.7 L539.0 720.4 L539.0 720.2 L539.0 720.0 L539.0 719.7 L539.1 719.4 L539.2 719.2 L539.3 718.9 L539.4 718.7 L539.6 718.4 L539.7 718.2 L539.9 718.0 L540.1 717.8 L540.3 717.6 L540.5 717.5 L540.8 717.4 L541.0 717.4 L541.2 717.3 L541.4 717.3 L541.5 717.4 L541.7 717.4Z" fill="#fff" stroke="#111" stroke-width="1.0" stroke-linejoin="round" />
<path d="M520.0 712.6 L520.2 712.7 L520.3 712.8 L520.4 713.0 L520.5 713.2 L520.5 713.4 L520.6 713.6 L520.6 713.9 L520.5 714.1 L520.5 714.4 L520.4 714.7 L520.3 714.9 L520.1 715.2 L520.0 715.4 L519.8 715.6 L519.6 715.9 L519.4 716.0 L519.2 716.2 L519.0 716.3 L518.8 716.4 L518.6 716.5 L518.4 716.5 L518.2 716.5 L518.0 716.5 L517.8 716.4 L517.7 716.3 L517.6 716.2 L517.5 716.0 L517.4 715.8 L517.4 715.6 L517.3 715.4 L517.3 715.1 L517.4 714.9 L517.4 714.6 L517.5 714.3 L517.6 714.1 L517.8 713.8 L517.9 713.6 L518.1 713.3 L518.3 713.1 L518.5 713.0 L518.7 712.8 L518.9 712.7 L519.1 712.6 L519.3 712.5 L519.5 712.5 L519.7 712.5 L519.9 712.5 L520.0 712.6Z" fill="#fff" stroke="#111" stroke-width="1.0" stroke-linejoin="round" />
<path d="M577.8 704.2 L579.5 702.1 L580.0 702.4 L578.8 704.9 L579.2 705.3 L581.1 703.4 L581.5 703.8 L580.2 706.2 L580.5 706.6 L582.4 704.9 L582.8 705.5 L581.3 707.8 L581.5 708.3 L583.5 706.8 L583.8 707.5 L582.1 709.6 L582.3 710.2 L584.4 709.0 L584.6 709.7 L582.8 711.6 L582.9 712.3 L584.9 711.4 L585.0 712.2 L583.1 713.9 L583.2 714.6 L585.2 714.0 L585.2 714.8 L583.2 716.3 L583.2 717.1 L585.1 716.8 L585.0 717.7 L583.0 718.9 L582.9 719.7 L584.8 719.7 L584.6 720.6 L582.6 721.5 L582.4 722.3 L584.1 722.7 L583.9 723.6 L581.9 724.2 L581.6 725.0 L583.2 725.7 L582.9 726.6 L580.9 726.9 L580.6 727.7 L582.0 728.6 L581.6 729.5 L579.7 729.5 L579.3 730.3 L580.6 731.5 L580.1 732.4 L578.3 732.1 L577.9 732.8 L578.9 734.3 L578.3 735.2 L576.7 734.5 L576.2 735.2 L577.0 737.0 L576.4 737.7 L575.0 736.8 L574.4 737.4 L575.0 739.4 L574.3 740.1 L573.1 738.9 L572.5 739.5 L572.8 741.6 L572.1 742.2 L571.1 740.7 L570.5 741.2 L570.5 743.6 L569.8 744.1 L569.0 742.3 L568.4 742.7 L568.1 745.2 L567.4 745.6 L566.9 743.6 L566.2 744.0 L565.7 746.5 L565.0 746.8 L564.7 744.6 L564.1 744.9 L563.4 747.4 L562.7 747.6 L562.6 745.3 L562.0 745.5 L561.0 748.0 L560.3 748.1 L560.5 745.7 L559.9 745.7 L558.8 748.2 L558.1 748.2 L558.6 745.7 L558.0 745.7 L556.6 748.1 L556.0 747.9 L556.7 745.4 L556.2 745.2 L554.6 747.5 L554.1 747.3 L555.0 744.7 L554.5 744.5 L552.8 746.6 L552.3 746.3 L553.5 743.8 L553.0 743.4 L551.2 745.4 L550.8 744.9 L552.1 742.5 L551.8 742.1 L549.9 743.8 L549.5 743.2 L551.0 740.9 L550.7 740.4 L548.8 741.9 L548.5 741.3 L550.2 739.1 L549.9 738.5 L547.9 739.7 L547.7 739.0 L549.5 737.1 L549.4 736.4 L547.4 737.3 L547.3 736.5 L549.2 734.8 L549.1 734.1 L547.1 734.7 L547.1 733.9 L549.1 732.4 L549.1 731.6 L547.2 731.9 L547.2 731.1 L549.3 729.8 L549.4 729.1 L547.5 729.0 L547.7 728.1 L549.7 727.2 L549.9 726.4 L548.2 726.0 L548.4 725.2 L550.4 724.5 L550.7 723.7 L549.1 723.1 L549.4 722.2 L551.4 721.8 L551.7 721.1 L550.3 720.1 L550.7 719.2 L552.6 719.2 L553.0 718.4 L551.7 717.2 L552.2 716.3 L554.0 716.6 L554.4 715.9 L553.4 714.4 L553.9 713.6 L555.6 714.2 L556.1 713.5 L555.3 711.7 L555.9 711.0 L557.3 711.9 L557.9 711.3 L557.3 709.3 L558.0 708.6 L559.2 709.8 L559.8 709.3 L559.5 707.1 L560.2 706.5 L561.2 708.0 L561.8 707.5 L561.8 705.2 L562.5 704.6 L563.3 706.4 L563.9 706.0 L564.2 703.5 L564.9 703.1 L565.4 705.1 L566.1 704.7 L566.5 702.2 L567.3 701.9 L567.6 704.1 L568.2 703.8 L568.9 701.3 L569.6 701.1 L569.7 703.4 L570.3 703.2 L571.3 700.7 L572.0 700.6 L571.8 703.0 L572.4 703.0 L573.5 700.5 L574.2 700.5 L573.7 703.0 L574.3 703.1 L575.7 700.7 L576.3 700.8 L575.6 703.3 L576.1 703.5 L577.7 701.2 L578.2 701.4 L577.3 704.0Z" fill="#fff" stroke="#111" stroke-width="1.2" stroke-linejoin="round" />
<path d="M577.8 704.1 L579.4 705.3 L580.7 706.7 L581.7 708.4 L582.5 710.5 L583.0 712.7 L583.3 715.2 L583.2 717.8 L582.8 720.5 L582.2 723.3 L581.3 726.1 L580.1 728.9 L578.7 731.6 L577.1 734.2 L575.2 736.6 L573.3 738.8 L571.2 740.7 L569.0 742.4 L566.8 743.8 L564.5 744.8 L562.3 745.5 L560.2 745.8 L558.1 745.8 L556.2 745.4 L554.5 744.6 L552.9 743.5 L551.6 742.0 L550.6 740.3 L549.8 738.3 L549.2 736.0 L549.0 733.5 L549.1 730.9 L549.4 728.2 L550.1 725.4 L551.0 722.6 L552.2 719.8 L553.6 717.1 L555.2 714.5 L557.1 712.1 L559.0 709.9 L561.1 708.0 L563.3 706.3 L565.5 704.9 L567.8 703.9 L570.0 703.2 L572.1 702.9 L574.2 702.9 L576.1 703.4 L577.8 704.1Z" fill="none" stroke="#111" stroke-width="1.0" stroke-linejoin="round" />
<clipPath id="c8"><path d="M577.0 705.5 L578.5 706.5 L579.7 707.9 L580.7 709.5 L581.4 711.4 L581.9 713.5 L582.1 715.8 L582.1 718.2 L581.7 720.8 L581.1 723.4 L580.3 726.0 L579.2 728.6 L577.8 731.1 L576.3 733.5 L574.6 735.8 L572.8 737.8 L570.8 739.6 L568.8 741.2 L566.7 742.5 L564.6 743.4 L562.6 744.1 L560.6 744.4 L558.6 744.3 L556.9 744.0 L555.2 743.2 L553.8 742.2 L552.6 740.8 L551.6 739.2 L550.9 737.3 L550.4 735.2 L550.2 732.9 L550.2 730.5 L550.6 727.9 L551.2 725.3 L552.0 722.7 L553.1 720.1 L554.4 717.6 L556.0 715.2 L557.7 712.9 L559.5 710.9 L561.5 709.1 L563.5 707.5 L565.6 706.2 L567.7 705.3 L569.7 704.6 L571.7 704.3 L573.6 704.4 L575.4 704.8 L577.0 705.5Z"/></clipPath>
<path d="M577.0 705.5 L578.5 706.5 L579.7 707.9 L580.7 709.5 L581.4 711.4 L581.9 713.5 L582.1 715.8 L582.1 718.2 L581.7 720.8 L581.1 723.4 L580.3 726.0 L579.2 728.6 L577.8 731.1 L576.3 733.5 L574.6 735.8 L572.8 737.8 L570.8 739.6 L568.8 741.2 L566.7 742.5 L564.6 743.4 L562.6 744.1 L560.6 744.4 L558.6 744.3 L556.9 744.0 L555.2 743.2 L553.8 742.2 L552.6 740.8 L551.6 739.2 L550.9 737.3 L550.4 735.2 L550.2 732.9 L550.2 730.5 L550.6 727.9 L551.2 725.3 L552.0 722.7 L553.1 720.1 L554.4 717.6 L556.0 715.2 L557.7 712.9 L559.5 710.9 L561.5 709.1 L563.5 707.5 L565.6 706.2 L567.7 705.3 L569.7 704.6 L571.7 704.3 L573.6 704.4 L575.4 704.8 L577.0 705.5Z" fill="none" stroke="#111" stroke-width="1.2" stroke-linejoin="round" />
<g clip-path="url(#c8)">
<path d="M572.2 703.9 L573.6 704.9 L574.7 706.2 L575.7 707.7 L576.4 709.5 L576.8 711.5 L577.0 713.7 L577.0 716.0 L576.7 718.4 L576.1 720.9 L575.3 723.4 L574.2 725.9 L573.0 728.3 L571.5 730.6 L569.9 732.7 L568.1 734.7 L566.3 736.4 L564.3 737.9 L562.4 739.1 L560.4 740.0 L558.4 740.6 L556.5 740.9 L554.7 740.9 L553.0 740.5 L551.4 739.8 L550.1 738.8 L548.9 737.6 L548.0 736.0 L547.3 734.2 L546.8 732.2 L546.6 730.0 L546.7 727.7 L547.0 725.3 L547.5 722.8 L548.4 720.3 L549.4 717.8 L550.7 715.4 L552.1 713.1 L553.7 711.0 L555.5 709.0 L557.4 707.3 L559.3 705.8 L561.3 704.6 L563.3 703.7 L565.2 703.1 L567.1 702.8 L569.0 702.8 L570.7 703.2 L572.2 703.9Z" fill="none" stroke="#111" stroke-width="1.2" stroke-linejoin="round" />
<path d="M582.1 716.1L577.0 713.9M575.7 734.4L570.9 731.4M562.8 744.0L558.7 740.6" fill="none" stroke="#111" stroke-width="1.0" stroke-linejoin="round" />
</g>
<path d="M606.4 726.6 L605.6 726.2 L604.6 725.9 L603.6 725.7 L602.6 725.6 L601.5 725.7 L600.4 725.9 L599.3 726.2 L598.2 726.7 L597.0 727.2 L595.9 727.9 L594.8 728.7 L593.7 729.5 L592.6 730.5 L591.5 731.6 L590.5 732.7 L589.6 733.9 L588.7 735.2 L587.9 736.5 L587.2 737.9 L586.5 739.3 L585.9 740.7 L585.4 742.2 L585.0 743.6 L584.7 745.0 L584.5 746.4 L584.4 747.8 L584.4 749.1 L584.5 750.4 L584.7 751.6 L585.0 752.7 L585.4 753.7 L585.8 754.7 L586.4 755.6 L587.0 756.3 L587.8 757.0 L588.6 757.5 L591.2 759.0 L592.0 759.5 L593.0 759.8 L594.0 759.9 L595.0 760.0 L596.1 759.9 L597.2 759.7 L598.3 759.4 L599.4 759.0 L600.6 758.4 L601.7 757.7 L602.8 757.0 L603.9 756.1 L605.0 755.1 L606.1 754.1 L607.0 752.9 L608.0 751.7 L608.9 750.4 L609.7 749.1 L610.4 747.7 L611.1 746.3 L611.7 744.9 L612.2 743.5 L612.6 742.0 L612.9 740.6 L613.1 739.2 L613.2 737.9 L613.2 736.5 L613.1 735.3 L612.9 734.1 L612.6 732.9 L612.2 731.9 L611.8 730.9 L611.2 730.1 L610.6 729.3 L609.8 728.6 L609.0 728.1Z" fill="#fff" stroke="#111" stroke-width="1.3" stroke-linejoin="round" />
<path d="M609.6 727.2 L610.8 728.1 L611.9 729.2 L612.7 730.6 L613.4 732.3 L613.8 734.1 L614.0 736.1 L613.9 738.2 L613.6 740.4 L613.1 742.7 L612.4 745.0 L611.4 747.2 L610.3 749.4 L608.9 751.5 L607.5 753.5 L605.9 755.3 L604.2 756.9 L602.4 758.2 L600.6 759.3 L598.8 760.2 L597.0 760.7 L595.2 761.0 L593.6 760.9 L592.0 760.6 L590.6 760.0 L589.4 759.1 L588.3 757.9 L587.4 756.5 L586.8 754.8 L586.4 753.0 L586.2 751.0 L586.3 748.9 L586.5 746.7 L587.1 744.4 L587.8 742.1 L588.8 739.9 L589.9 737.7 L591.2 735.6 L592.7 733.6 L594.3 731.9 L596.0 730.3 L597.8 728.9 L599.6 727.8 L601.4 727.0 L603.2 726.4 L605.0 726.2 L606.6 726.2 L608.2 726.5 L609.6 727.2Z" fill="#fff" stroke="#111" stroke-width="1.3" stroke-linejoin="round" />
<path d="M608.2 729.4 L609.3 730.2 L610.2 731.2 L611.0 732.5 L611.5 733.9 L611.9 735.4 L612.0 737.2 L612.0 739.0 L611.8 740.9 L611.3 742.8 L610.7 744.8 L609.8 746.7 L608.8 748.6 L607.7 750.4 L606.4 752.1 L605.1 753.6 L603.6 755.0 L602.1 756.2 L600.5 757.1 L599.0 757.8 L597.4 758.3 L595.9 758.5 L594.5 758.5 L593.2 758.2 L591.9 757.7 L590.9 756.9 L590.0 755.9 L589.2 754.7 L588.7 753.3 L588.3 751.7 L588.1 750.0 L588.2 748.2 L588.4 746.2 L588.9 744.3 L589.5 742.3 L590.4 740.4 L591.3 738.5 L592.5 736.7 L593.8 735.0 L595.1 733.5 L596.6 732.1 L598.1 731.0 L599.7 730.0 L601.2 729.3 L602.8 728.8 L604.3 728.6 L605.7 728.6 L607.0 728.9 L608.2 729.4Z" fill="none" stroke="#111" stroke-width="1.0" stroke-linejoin="round" />
<path d="M607.7 730.4 L608.7 731.2 L609.5 732.1 L610.2 733.2 L610.7 734.5 L611.1 736.0 L611.2 737.6 L611.2 739.3 L610.9 741.1 L610.5 742.9 L609.9 744.7 L609.2 746.5 L608.2 748.3 L607.2 749.9 L606.0 751.5 L604.7 752.9 L603.4 754.2 L601.9 755.3 L600.5 756.2 L599.0 756.8 L597.6 757.3 L596.2 757.5 L594.9 757.5 L593.6 757.2 L592.5 756.7 L591.5 756.0 L590.7 755.0 L590.0 753.9 L589.5 752.6 L589.1 751.1 L589.0 749.5 L589.0 747.8 L589.3 746.1 L589.7 744.2 L590.3 742.4 L591.0 740.6 L592.0 738.9 L593.0 737.2 L594.2 735.6 L595.5 734.2 L596.8 732.9 L598.3 731.8 L599.7 731.0 L601.2 730.3 L602.6 729.8 L604.0 729.6 L605.3 729.7 L606.5 729.9 L607.7 730.4Z" fill="none" stroke="#111" stroke-width="1.0" stroke-linejoin="round" />
<path d="M613.4 729.3 L613.5 729.4 L613.6 729.6 L613.8 729.7 L613.8 729.9 L613.9 730.2 L613.9 730.4 L613.9 730.7 L613.9 731.0 L613.8 731.3 L613.7 731.6 L613.6 731.8 L613.4 732.1 L613.3 732.4 L613.1 732.6 L612.9 732.9 L612.7 733.1 L612.4 733.2 L612.2 733.4 L612.0 733.5 L611.8 733.5 L611.5 733.6 L611.3 733.6 L611.1 733.5 L611.0 733.5 L610.8 733.3 L610.7 733.2 L610.6 733.0 L610.5 732.8 L610.4 732.6 L610.4 732.3 L610.4 732.1 L610.4 731.8 L610.5 731.5 L610.6 731.2 L610.7 730.9 L610.9 730.6 L611.0 730.4 L611.2 730.1 L611.4 729.9 L611.6 729.7 L611.9 729.5 L612.1 729.4 L612.3 729.3 L612.5 729.2 L612.8 729.2 L613.0 729.2 L613.2 729.2 L613.4 729.3Z" fill="#fff" stroke="#111" stroke-width="1.0" stroke-linejoin="round" />
<path d="M601.2 756.8 L601.3 756.9 L601.5 757.0 L601.6 757.2 L601.7 757.4 L601.7 757.6 L601.7 757.9 L601.7 758.2 L601.7 758.4 L601.6 758.7 L601.5 759.0 L601.4 759.3 L601.3 759.6 L601.1 759.8 L600.9 760.1 L600.7 760.3 L600.5 760.5 L600.3 760.7 L600.0 760.8 L599.8 760.9 L599.6 761.0 L599.4 761.0 L599.2 761.0 L599.0 761.0 L598.8 760.9 L598.6 760.8 L598.5 760.7 L598.4 760.5 L598.3 760.3 L598.3 760.0 L598.2 759.8 L598.2 759.5 L598.3 759.2 L598.3 758.9 L598.4 758.7 L598.6 758.4 L598.7 758.1 L598.9 757.8 L599.1 757.6 L599.3 757.4 L599.5 757.2 L599.7 757.0 L599.9 756.8 L600.2 756.7 L600.4 756.7 L600.6 756.6 L600.8 756.6 L601.0 756.7 L601.2 756.8Z" fill="#fff" stroke="#111" stroke-width="1.0" stroke-linejoin="round" />
<path d="M588.5 744.3 L588.6 744.4 L588.7 744.5 L588.9 744.7 L588.9 744.9 L589.0 745.2 L589.0 745.4 L589.0 745.7 L589.0 746.0 L588.9 746.2 L588.8 746.5 L588.7 746.8 L588.5 747.1 L588.4 747.4 L588.2 747.6 L588.0 747.8 L587.8 748.0 L587.5 748.2 L587.3 748.3 L587.1 748.4 L586.9 748.5 L586.6 748.6 L586.4 748.5 L586.2 748.5 L586.1 748.4 L585.9 748.3 L585.8 748.2 L585.7 748.0 L585.6 747.8 L585.5 747.5 L585.5 747.3 L585.5 747.0 L585.5 746.7 L585.6 746.5 L585.7 746.2 L585.8 745.9 L586.0 745.6 L586.1 745.3 L586.3 745.1 L586.5 744.9 L586.7 744.7 L587.0 744.5 L587.2 744.4 L587.4 744.2 L587.7 744.2 L587.9 744.1 L588.1 744.1 L588.3 744.2 L588.5 744.3Z" fill="#fff" stroke="#111" stroke-width="1.0" stroke-linejoin="round" />
<path d="M64.7 731.9 L67.4 728.7 L68.3 729.4 L66.4 733.3 L67.0 734.0 L70.1 731.5 L70.7 732.6 L68.2 736.1 L68.5 737.1 L71.7 735.5 L72.0 736.9 L69.1 739.8 L69.2 741.0 L72.2 740.4 L72.2 742.0 L69.0 744.0 L68.8 745.4 L71.6 745.8 L71.2 747.5 L68.0 748.6 L67.5 750.0 L69.8 751.4 L69.1 753.1 L66.1 753.2 L65.4 754.5 L67.0 756.9 L66.0 758.4 L63.5 757.4 L62.5 758.6 L63.4 761.7 L62.2 763.0 L60.2 761.1 L59.2 762.0 L59.2 765.7 L57.9 766.7 L56.7 763.9 L55.6 764.5 L54.8 768.5 L53.4 769.1 L53.0 765.7 L51.9 766.0 L50.3 769.9 L49.1 770.1 L49.4 766.2 L48.4 766.2 L46.2 769.9 L45.1 769.6 L46.3 765.6 L45.4 765.2 L42.7 768.4 L41.8 767.7 L43.7 763.8 L43.1 763.1 L40.0 765.6 L39.4 764.5 L41.9 761.0 L41.6 760.0 L38.4 761.6 L38.1 760.2 L41.0 757.3 L41.0 756.1 L37.9 756.7 L38.0 755.1 L41.1 753.1 L41.3 751.7 L38.5 751.3 L39.0 749.6 L42.1 748.5 L42.6 747.1 L40.3 745.7 L41.1 744.0 L44.0 743.9 L44.7 742.6 L43.1 740.2 L44.1 738.7 L46.7 739.7 L47.6 738.5 L46.7 735.4 L47.9 734.1 L49.9 736.0 L50.9 735.1 L50.9 731.4 L52.2 730.4 L53.5 733.2 L54.6 732.6 L55.3 728.6 L56.7 728.0 L57.1 731.5 L58.2 731.2 L59.8 727.2 L61.1 727.0 L60.7 730.9 L61.7 730.9 L63.9 727.2 L65.0 727.5 L63.8 731.5Z" fill="#fff" stroke="#111" stroke-width="1.1" stroke-linejoin="round" />
<path d="M65.7 730.1 L64.7 729.6 L63.6 729.2 L62.4 729.0 L61.2 728.9 L59.9 729.0 L58.6 729.3 L57.2 729.6 L55.9 730.2 L54.5 730.8 L53.1 731.6 L51.8 732.5 L50.5 733.6 L49.2 734.8 L47.9 736.0 L46.8 737.4 L45.6 738.8 L44.6 740.4 L43.6 741.9 L42.7 743.6 L41.9 745.3 L41.2 746.9 L40.7 748.7 L40.2 750.4 L39.8 752.1 L39.6 753.7 L39.4 755.4 L39.4 756.9 L39.5 758.5 L39.8 759.9 L40.1 761.2 L40.6 762.5 L41.1 763.6 L41.8 764.7 L42.6 765.6 L43.4 766.4 L44.4 767.0 L55.7 773.5 L56.7 774.0 L57.8 774.4 L59.0 774.6 L60.2 774.7 L61.5 774.6 L62.8 774.4 L64.2 774.0 L65.5 773.5 L66.9 772.8 L68.2 772.0 L69.6 771.1 L70.9 770.0 L72.2 768.9 L73.4 767.6 L74.6 766.2 L75.7 764.8 L76.8 763.2 L77.8 761.7 L78.7 760.0 L79.4 758.4 L80.1 756.7 L80.7 755.0 L81.2 753.2 L81.6 751.5 L81.8 749.9 L81.9 748.2 L82.0 746.7 L81.8 745.2 L81.6 743.7 L81.3 742.4 L80.8 741.1 L80.3 740.0 L79.6 738.9 L78.8 738.0 L77.9 737.2 L77.0 736.6Z" fill="#ccc" stroke="#111" stroke-width="1.1" stroke-linejoin="round" />
<path d="M53.8 772.0L42.5 765.5M52.7 770.7L41.5 764.2M51.9 769.2L40.6 762.7M51.3 767.4L40.0 760.9M50.9 765.5L39.6 759.0M50.7 763.4L39.4 756.9M50.7 761.2L39.5 754.7M51.0 759.0L39.7 752.5M51.5 756.6L40.2 750.1M52.2 754.2L41.0 747.7M53.1 751.9L41.9 745.4M54.2 749.6L43.0 743.1M55.5 747.3L44.3 740.8M57.0 745.2L45.7 738.7M58.6 743.2L47.3 736.7M60.3 741.4L49.0 734.9M62.0 739.8L50.8 733.3M63.9 738.5L52.6 732.0M65.8 737.3L54.5 730.8M67.7 736.4L56.4 729.9M69.5 735.8L58.3 729.3M71.3 735.5L60.1 729.0M73.1 735.5L61.8 729.0M74.8 735.7L63.5 729.2" fill="none" stroke="#111" stroke-width="1.3" stroke-linejoin="round" />
<path d="M75.9 738.4 L78.7 735.2 L79.6 735.9 L77.6 739.8 L78.3 740.5 L81.3 738.0 L81.9 739.1 L79.4 742.6 L79.8 743.6 L83.0 742.0 L83.3 743.4 L80.3 746.3 L80.4 747.5 L83.5 746.9 L83.4 748.5 L80.3 750.5 L80.1 751.9 L82.8 752.3 L82.4 754.0 L79.3 755.1 L78.8 756.5 L81.1 757.9 L80.3 759.6 L77.4 759.7 L76.6 761.0 L78.3 763.4 L77.3 764.9 L74.7 763.9 L73.8 765.1 L74.7 768.2 L73.5 769.5 L71.5 767.6 L70.4 768.5 L70.5 772.2 L69.2 773.2 L67.9 770.4 L66.8 771.0 L66.0 775.0 L64.7 775.6 L64.2 772.2 L63.2 772.5 L61.6 776.4 L60.3 776.6 L60.7 772.7 L59.7 772.7 L57.5 776.4 L56.3 776.1 L57.5 772.1 L56.7 771.7 L54.0 774.9 L53.1 774.2 L55.0 770.3 L54.4 769.6 L51.3 772.1 L50.7 771.0 L53.2 767.5 L52.8 766.5 L49.6 768.1 L49.4 766.7 L52.3 763.8 L52.2 762.6 L49.1 763.2 L49.2 761.6 L52.4 759.6 L52.6 758.2 L49.8 757.8 L50.2 756.1 L53.4 755.0 L53.9 753.6 L51.6 752.2 L52.3 750.5 L55.3 750.4 L56.0 749.1 L54.4 746.7 L55.4 745.2 L57.9 746.2 L58.8 745.0 L58.0 741.9 L59.2 740.6 L61.1 742.5 L62.2 741.6 L62.1 737.9 L63.5 736.9 L64.7 739.7 L65.8 739.1 L66.6 735.1 L68.0 734.5 L68.4 738.0 L69.5 737.7 L71.0 733.7 L72.3 733.5 L71.9 737.4 L72.9 737.4 L75.2 733.7 L76.3 734.0 L75.1 738.0Z" fill="#fff" stroke="#111" stroke-width="1.1" stroke-linejoin="round" />
<path d="M74.5 740.9 L75.6 741.6 L76.5 742.7 L77.3 743.9 L77.8 745.3 L78.2 746.9 L78.3 748.6 L78.3 750.4 L78.0 752.4 L77.6 754.3 L76.9 756.3 L76.1 758.2 L75.1 760.1 L74.0 761.9 L72.7 763.6 L71.3 765.2 L69.8 766.6 L68.3 767.7 L66.7 768.7 L65.2 769.4 L63.6 769.9 L62.1 770.1 L60.7 770.1 L59.3 769.8 L58.1 769.3 L57.0 768.5 L56.1 767.5 L55.4 766.2 L54.8 764.8 L54.5 763.2 L54.3 761.5 L54.3 759.7 L54.6 757.8 L55.0 755.8 L55.7 753.8 L56.5 751.9 L57.5 750.0 L58.7 748.2 L59.9 746.5 L61.3 744.9 L62.8 743.6 L64.3 742.4 L65.9 741.4 L67.5 740.7 L69.0 740.2 L70.5 740.0 L72.0 740.0 L73.3 740.3 L74.5 740.9Z" fill="none" stroke="#111" stroke-width="1.0" stroke-linejoin="round" />
<path d="M73.3 742.9 L74.3 743.6 L75.1 744.4 L75.7 745.5 L76.2 746.7 L76.5 748.1 L76.6 749.5 L76.6 751.1 L76.4 752.7 L76.0 754.4 L75.4 756.1 L74.7 757.8 L73.9 759.4 L72.9 761.0 L71.8 762.4 L70.6 763.7 L69.3 764.9 L68.0 765.9 L66.7 766.7 L65.3 767.4 L64.0 767.8 L62.7 768.0 L61.5 767.9 L60.3 767.7 L59.3 767.2 L58.4 766.6 L57.6 765.7 L56.9 764.6 L56.5 763.4 L56.1 762.1 L56.0 760.6 L56.1 759.0 L56.3 757.4 L56.7 755.7 L57.2 754.0 L57.9 752.3 L58.8 750.7 L59.8 749.1 L60.8 747.7 L62.0 746.4 L63.3 745.2 L64.6 744.2 L65.9 743.4 L67.3 742.7 L68.6 742.3 L69.9 742.1 L71.2 742.2 L72.3 742.4 L73.3 742.9Z" fill="none" stroke="#111" stroke-width="1.0" stroke-linejoin="round" />
<path d="M68.0 748.1 L67.7 747.9 L67.3 747.8 L66.9 747.8 L66.5 747.7 L66.1 747.8 L65.7 747.8 L65.3 748.0 L64.8 748.1 L64.4 748.3 L64.0 748.6 L63.5 748.9 L63.1 749.2 L62.7 749.6 L62.3 750.0 L61.9 750.5 L61.6 750.9 L61.2 751.4 L60.9 751.9 L60.6 752.5 L60.4 753.0 L60.1 753.5 L59.9 754.1 L59.8 754.6 L59.7 755.2 L59.6 755.7 L59.6 756.2 L59.6 756.8 L59.6 757.2 L59.7 757.7 L59.8 758.1 L59.9 758.5 L60.1 758.9 L60.3 759.2 L60.6 759.5 L60.8 759.8 L61.2 760.0 L64.6 762.0 L65.0 762.2 L65.3 762.3 L65.7 762.3 L66.1 762.4 L66.5 762.3 L66.9 762.3 L67.4 762.1 L67.8 762.0 L68.2 761.8 L68.7 761.5 L69.1 761.2 L69.5 760.9 L69.9 760.5 L70.3 760.1 L70.7 759.6 L71.1 759.2 L71.4 758.7 L71.7 758.2 L72.0 757.7 L72.3 757.1 L72.5 756.6 L72.7 756.0 L72.8 755.5 L73.0 754.9 L73.0 754.4 L73.1 753.9 L73.1 753.4 L73.0 752.9 L73.0 752.4 L72.9 752.0 L72.7 751.6 L72.5 751.2 L72.3 750.9 L72.1 750.6 L71.8 750.3 L71.5 750.1Z" fill="#fff" stroke="#111" stroke-width="1.2" stroke-linejoin="round" />
<path d="M72.0 749.2 L72.6 749.5 L73.0 750.0 L73.4 750.6 L73.6 751.3 L73.8 752.1 L73.9 752.9 L73.9 753.8 L73.7 754.7 L73.5 755.7 L73.2 756.7 L72.8 757.6 L72.3 758.5 L71.8 759.4 L71.1 760.2 L70.5 761.0 L69.8 761.6 L69.0 762.2 L68.3 762.7 L67.5 763.0 L66.7 763.3 L66.0 763.4 L65.3 763.4 L64.7 763.2 L64.1 763.0 L63.5 762.6 L63.1 762.1 L62.7 761.5 L62.5 760.8 L62.3 760.0 L62.2 759.2 L62.2 758.3 L62.4 757.4 L62.6 756.4 L62.9 755.5 L63.3 754.5 L63.8 753.6 L64.3 752.7 L64.9 751.9 L65.6 751.1 L66.3 750.5 L67.1 749.9 L67.8 749.4 L68.6 749.1 L69.4 748.8 L70.1 748.7 L70.8 748.8 L71.4 748.9 L72.0 749.2Z" fill="#fff" stroke="#111" stroke-width="1.2" stroke-linejoin="round" />
<path d="M70.8 751.2 L71.2 751.5 L71.5 751.8 L71.8 752.3 L72.0 752.7 L72.1 753.3 L72.1 753.9 L72.1 754.5 L72.0 755.1 L71.9 755.8 L71.7 756.5 L71.4 757.1 L71.0 757.8 L70.7 758.4 L70.2 759.0 L69.7 759.5 L69.2 760.0 L68.7 760.4 L68.2 760.7 L67.7 760.9 L67.1 761.1 L66.6 761.2 L66.1 761.2 L65.7 761.1 L65.3 760.9 L64.9 760.6 L64.6 760.3 L64.3 759.9 L64.1 759.4 L64.0 758.8 L64.0 758.2 L64.0 757.6 L64.1 757.0 L64.2 756.3 L64.4 755.6 L64.7 755.0 L65.1 754.3 L65.4 753.7 L65.9 753.1 L66.3 752.6 L66.9 752.1 L67.4 751.7 L67.9 751.4 L68.4 751.2 L69.0 751.0 L69.5 750.9 L70.0 750.9 L70.4 751.0 L70.8 751.2Z" fill="none" stroke="#111" stroke-width="1.2" stroke-linejoin="round" />
<path d="M89.6 761.1 L89.3 761.0 L89.1 760.9 L88.9 760.9 L88.6 760.9 L88.3 760.9 L88.0 760.9 L87.8 761.0 L87.5 761.1 L87.2 761.3 L86.9 761.4 L86.6 761.6 L86.3 761.8 L86.1 762.1 L85.8 762.4 L85.6 762.6 L85.3 762.9 L85.1 763.3 L84.9 763.6 L84.7 763.9 L84.5 764.3 L84.4 764.7 L84.3 765.0 L84.2 765.4 L84.1 765.7 L84.0 766.1 L84.0 766.4 L84.0 766.8 L84.0 767.1 L84.1 767.4 L84.1 767.7 L84.2 767.9 L84.4 768.2 L84.5 768.4 L84.7 768.6 L84.9 768.8 L85.1 768.9 L138.8 799.9 L139.0 800.0 L139.2 800.1 L139.5 800.1 L139.7 800.1 L140.0 800.1 L140.3 800.1 L140.5 800.0 L140.8 799.9 L141.1 799.7 L141.4 799.6 L141.7 799.4 L142.0 799.2 L142.2 798.9 L142.5 798.6 L142.8 798.4 L143.0 798.1 L143.2 797.7 L143.4 797.4 L143.6 797.1 L143.8 796.7 L143.9 796.3 L144.0 796.0 L144.1 795.6 L144.2 795.3 L144.3 794.9 L144.3 794.6 L144.3 794.2 L144.3 793.9 L144.2 793.6 L144.2 793.3 L144.1 793.1 L143.9 792.8 L143.8 792.6 L143.6 792.4 L143.5 792.2 L143.2 792.1Z" fill="#fff" stroke="#111" stroke-width="1.3" stroke-linejoin="round" />
<path d="M143.8 791.2 L144.2 791.4 L144.5 791.8 L144.7 792.2 L144.9 792.7 L145.1 793.2 L145.1 793.8 L145.1 794.4 L145.0 795.1 L144.8 795.7 L144.6 796.4 L144.3 797.1 L144.0 797.7 L143.6 798.4 L143.2 798.9 L142.7 799.5 L142.2 799.9 L141.7 800.3 L141.1 800.7 L140.6 800.9 L140.1 801.1 L139.6 801.1 L139.1 801.1 L138.6 801.0 L138.2 800.8 L137.8 800.6 L137.5 800.2 L137.3 799.8 L137.1 799.3 L136.9 798.8 L136.9 798.2 L136.9 797.6 L137.0 796.9 L137.2 796.3 L137.4 795.6 L137.7 794.9 L138.0 794.3 L138.4 793.6 L138.8 793.1 L139.3 792.5 L139.8 792.1 L140.3 791.7 L140.9 791.3 L141.4 791.1 L141.9 790.9 L142.4 790.9 L142.9 790.9 L143.4 791.0 L143.8 791.2Z" fill="#fff" stroke="#111" stroke-width="1.3" stroke-linejoin="round" />
<path d="M142.4 792.0 L147.0 789.5 L152.0 790.5 L157.5 795.0 L159.0 801.0 L157.5 808.0 L153.0 812.0 L148.5 813.0 L148.0 817.0 L146.0 820.0 L142.5 820.0 L137.0 815.5 L132.5 811.0 L131.5 807.0 L134.5 804.5 L137.4 801.7 L139.0 797.0Z" fill="#fff" stroke="#111" stroke-width="1.5" stroke-linejoin="round" />
<path d="M156.2 798.4 L156.6 798.7 L156.9 799.1 L157.2 799.5 L157.4 800.0 L157.5 800.6 L157.6 801.2 L157.6 801.9 L157.5 802.6 L157.3 803.3 L157.1 804.1 L156.8 804.8 L156.4 805.5 L156.0 806.1 L155.5 806.7 L155.0 807.3 L154.5 807.8 L153.9 808.2 L153.4 808.6 L152.8 808.9 L152.2 809.0 L151.7 809.1 L151.1 809.1 L150.6 809.0 L150.2 808.8 L149.8 808.5 L149.5 808.1 L149.2 807.7 L149.0 807.2 L148.9 806.6 L148.8 806.0 L148.8 805.3 L148.9 804.6 L149.1 803.9 L149.3 803.1 L149.6 802.4 L150.0 801.7 L150.4 801.1 L150.9 800.5 L151.4 799.9 L151.9 799.4 L152.5 799.0 L153.0 798.6 L153.6 798.3 L154.2 798.2 L154.7 798.1 L155.3 798.1 L155.8 798.2 L156.2 798.4Z" fill="#fff" stroke="#111" stroke-width="1.6" stroke-linejoin="round" />
<path d="M139 797L147.5 801.5L149 798M137.4 801.7L146 806.5M134.5 804.5L143 809L148.5 813M143 809L143 820" fill="none" stroke="#111" stroke-width="1.1" stroke-linejoin="round" />
<path d="M144.6 794.1 L144.7 794.2 L144.9 794.3 L145.0 794.5 L145.0 794.7 L145.1 794.9 L145.1 795.1 L145.1 795.4 L145.1 795.6 L145.0 795.9 L144.9 796.2 L144.8 796.4 L144.7 796.7 L144.5 796.9 L144.4 797.2 L144.2 797.4 L144.0 797.5 L143.8 797.7 L143.6 797.8 L143.3 797.9 L143.1 798.0 L142.9 798.0 L142.7 798.0 L142.6 798.0 L142.4 797.9 L142.3 797.8 L142.1 797.7 L142.0 797.5 L142.0 797.3 L141.9 797.1 L141.9 796.9 L141.9 796.6 L141.9 796.4 L142.0 796.1 L142.1 795.8 L142.2 795.6 L142.3 795.3 L142.5 795.1 L142.6 794.8 L142.8 794.6 L143.0 794.5 L143.2 794.3 L143.4 794.2 L143.7 794.1 L143.9 794.0 L144.1 794.0 L144.3 794.0 L144.4 794.0 L144.6 794.1Z" fill="none" stroke="#111" stroke-width="0.9" stroke-linejoin="round" />
<text transform="translate(69.7 80.4) scale(0.93 1)" x="0" y="0" text-anchor="middle" font-size="19.4">1</text>
<text transform="translate(102.0 97.8) scale(0.93 1)" x="0" y="0" text-anchor="middle" font-size="19.4">4</text>
<text transform="translate(210.5 166.8) scale(0.93 1)" x="0" y="0" text-anchor="middle" font-size="19.4">5</text>
<text transform="translate(321.8 233.7) scale(0.93 1)" x="0" y="0" text-anchor="middle" font-size="19.4">8</text>
<text transform="translate(357.5 255.8) scale(0.93 1)" x="0" y="0" text-anchor="middle" font-size="19.4">20</text>
<text transform="translate(443.0 151.0) scale(0.93 1)" x="0" y="0" text-anchor="middle" font-size="19.4">9</text>
<text transform="translate(454.0 187.0) scale(0.93 1)" x="0" y="0" text-anchor="middle" font-size="19.4">12</text>
<text transform="translate(479.0 219.5) scale(0.93 1)" x="0" y="0" text-anchor="middle" font-size="19.4">12</text>
<text transform="translate(501.0 223.0) scale(0.93 1)" x="0" y="0" text-anchor="middle" font-size="19.4">11</text>
<text transform="translate(539.6 246.5) scale(0.93 1)" x="0" y="0" text-anchor="middle" font-size="19.4">17</text>
<text transform="translate(405.7 288.5) scale(0.93 1)" x="0" y="0" text-anchor="middle" font-size="19.4">17</text>
<text transform="translate(449.0 307.0) scale(0.93 1)" x="0" y="0" text-anchor="middle" font-size="19.4">10</text>
<text transform="translate(425.0 315.2) scale(0.93 1)" x="0" y="0" text-anchor="middle" font-size="19.4">12</text>
<text transform="translate(610.6 292.4) scale(0.93 1)" x="0" y="0" text-anchor="middle" font-size="19.4">20</text>
<text transform="translate(575.5 369.4) scale(0.93 1)" x="0" y="0" text-anchor="middle" font-size="19.4">31</text>
<text transform="translate(57.5 309.7) scale(0.93 1)" x="0" y="0" text-anchor="middle" font-size="19.4">7</text>
<text transform="translate(94.0 328.2) scale(0.93 1)" x="0" y="0" text-anchor="middle" font-size="19.4">3</text>
<text transform="translate(128.0 344.0) scale(0.93 1)" x="0" y="0" text-anchor="middle" font-size="19.4">44</text>
<text transform="translate(157.5 360.0) scale(0.93 1)" x="0" y="0" text-anchor="middle" font-size="19.4">6</text>
<text transform="translate(187.4 373.2) scale(0.93 1)" x="0" y="0" text-anchor="middle" font-size="19.4">36</text>
<text transform="translate(225.8 407.9) scale(0.93 1)" x="0" y="0" text-anchor="middle" font-size="19.4">35</text>
<text transform="translate(264.2 426.8) scale(0.93 1)" x="0" y="0" text-anchor="middle" font-size="19.4">19</text>
<text transform="translate(349.7 323.8) scale(0.93 1)" x="0" y="0" text-anchor="middle" font-size="19.4">38</text>
<text transform="translate(359.7 359.4) scale(0.93 1)" x="0" y="0" text-anchor="middle" font-size="19.4">12</text>
<text transform="translate(385.3 392.3) scale(0.93 1)" x="0" y="0" text-anchor="middle" font-size="19.4">12</text>
<text transform="translate(406.6 396.0) scale(0.93 1)" x="0" y="0" text-anchor="middle" font-size="19.4">40</text>
<text transform="translate(446.0 418.6) scale(0.93 1)" x="0" y="0" text-anchor="middle" font-size="19.4">18</text>
<text transform="translate(312.0 460.4) scale(0.93 1)" x="0" y="0" text-anchor="middle" font-size="19.4">18</text>
<text transform="translate(353.5 479.0) scale(0.93 1)" x="0" y="0" text-anchor="middle" font-size="19.4">39</text>
<text transform="translate(330.6 488.2) scale(0.93 1)" x="0" y="0" text-anchor="middle" font-size="19.4">12</text>
<text transform="translate(34.9 379.0) scale(0.93 1)" x="0" y="0" text-anchor="middle" font-size="19.4">33</text>
<text transform="translate(68.4 389.1) scale(0.93 1)" x="0" y="0" text-anchor="middle" font-size="19.4">25</text>
<text transform="translate(152.7 447.0) scale(0.93 1)" x="0" y="0" text-anchor="middle" font-size="19.4">26</text>
<text transform="translate(247.6 480.1) scale(0.93 1)" x="0" y="0" text-anchor="middle" font-size="19.4">23</text>
<text transform="translate(289.8 515.9) scale(0.93 1)" x="0" y="0" text-anchor="middle" font-size="19.4">21</text>
<text transform="translate(490.0 444.0) scale(0.93 1)" x="0" y="0" text-anchor="middle" font-size="19.4">22</text>
<text transform="translate(514.3 444.0) scale(0.93 1)" x="0" y="0" text-anchor="middle" font-size="19.4">45</text>
<text transform="translate(541.8 478.6) scale(0.93 1)" x="0" y="0" text-anchor="middle" font-size="19.4">43</text>
<text transform="translate(579.5 513.7) scale(0.93 1)" x="0" y="0" text-anchor="middle" font-size="19.4">34</text>
<text transform="translate(605.8 531.0) scale(0.93 1)" x="0" y="0" text-anchor="middle" font-size="19.4">41</text>
<text transform="translate(64.6 673.0) scale(0.93 1)" x="0" y="0" text-anchor="middle" font-size="19.4">13</text>
<text transform="translate(109.7 695.2) scale(0.93 1)" x="0" y="0" text-anchor="middle" font-size="19.4">28</text>
<text transform="translate(142.0 703.0) scale(0.93 1)" x="0" y="0" text-anchor="middle" font-size="19.4">31</text>
<text transform="translate(183.7 627.1) scale(0.93 1)" x="0" y="0" text-anchor="middle" font-size="19.4">27</text>
<text transform="translate(224.0 654.9) scale(0.93 1)" x="0" y="0" text-anchor="middle" font-size="19.4">3</text>
<text transform="translate(252.3 677.8) scale(0.93 1)" x="0" y="0" text-anchor="middle" font-size="19.4">44</text>
<text transform="translate(285.6 795.7) scale(0.93 1)" x="0" y="0" text-anchor="middle" font-size="19.4">29</text>
<text transform="translate(318.3 809.7) scale(0.93 1)" x="0" y="0" text-anchor="middle" font-size="19.4">37</text>
<text transform="translate(350.6 823.3) scale(0.93 1)" x="0" y="0" text-anchor="middle" font-size="19.4">42</text>
<text transform="translate(64.5 816.4) scale(0.93 1)" x="0" y="0" text-anchor="middle" font-size="19.4">30</text>
<text transform="translate(119.4 833.1) scale(0.93 1)" x="0" y="0" text-anchor="middle" font-size="19.4">2</text>
<text transform="translate(380.3 554.7) scale(0.93 1)" x="0" y="0" text-anchor="middle" font-size="19.4">16</text>
<text transform="translate(405.5 587.3) scale(0.93 1)" x="0" y="0" text-anchor="middle" font-size="19.4">16</text>
<text transform="translate(434.9 588.7) scale(0.93 1)" x="0" y="0" text-anchor="middle" font-size="19.4">24</text>
<text transform="translate(468.4 613.5) scale(0.93 1)" x="0" y="0" text-anchor="middle" font-size="19.4">17</text>
<text transform="translate(512.4 642.6) scale(0.93 1)" x="0" y="0" text-anchor="middle" font-size="19.4">14</text>
<text transform="translate(334.8 655.4) scale(0.93 1)" x="0" y="0" text-anchor="middle" font-size="19.4">17</text>
<text transform="translate(377.0 671.4) scale(0.93 1)" x="0" y="0" text-anchor="middle" font-size="19.4">15</text>
<text transform="translate(351.8 681.6) scale(0.93 1)" x="0" y="0" text-anchor="middle" font-size="19.4">16</text>
<text transform="translate(533.6 661.6) scale(0.93 1)" x="0" y="0" text-anchor="middle" font-size="19.4">46</text>
<text transform="translate(568.5 676.6) scale(0.93 1)" x="0" y="0" text-anchor="middle" font-size="19.4">20</text>
<text transform="translate(504.4 735.7) scale(0.93 1)" x="0" y="0" text-anchor="middle" font-size="19.4">32</text>
<text transform="translate(598.9 701.7) scale(0.93 1)" x="0" y="0" text-anchor="middle" font-size="19.4">47</text>
<line x1="71.5" y1="42.0" x2="71.5" y2="63.0" stroke="#222" stroke-width="1.0"/>
<line x1="101.5" y1="62.0" x2="101.5" y2="81.7" stroke="#222" stroke-width="1.0"/>
<line x1="211.5" y1="127.8" x2="211.5" y2="148.9" stroke="#222" stroke-width="1.0"/>
<line x1="321.5" y1="197.5" x2="321.5" y2="217.6" stroke="#222" stroke-width="1.0"/>
<line x1="357.5" y1="218.6" x2="357.5" y2="238.7" stroke="#222" stroke-width="1.0"/>
<line x1="443.5" y1="155.0" x2="443.5" y2="167.0" stroke="#222" stroke-width="1.0"/>
<line x1="454.5" y1="191.0" x2="454.5" y2="211.0" stroke="#222" stroke-width="1.0"/>
<line x1="479.5" y1="223.8" x2="479.5" y2="243.0" stroke="#222" stroke-width="1.0"/>
<line x1="501.5" y1="223.8" x2="501.5" y2="247.3" stroke="#222" stroke-width="1.0"/>
<line x1="539.5" y1="248.0" x2="539.5" y2="270.0" stroke="#222" stroke-width="1.0"/>
<line x1="406.5" y1="249.4" x2="406.5" y2="272.0" stroke="#222" stroke-width="1.0"/>
<line x1="448.5" y1="268.0" x2="448.5" y2="292.6" stroke="#222" stroke-width="1.0"/>
<line x1="424.5" y1="274.0" x2="424.5" y2="298.7" stroke="#222" stroke-width="1.0"/>
<line x1="610.5" y1="295.3" x2="610.5" y2="316.7" stroke="#222" stroke-width="1.0"/>
<line x1="576.5" y1="332.3" x2="576.5" y2="353.0" stroke="#222" stroke-width="1.0"/>
<line x1="59.5" y1="273.0" x2="59.5" y2="291.8" stroke="#222" stroke-width="1.0"/>
<line x1="92.5" y1="287.6" x2="92.5" y2="310.6" stroke="#222" stroke-width="1.0"/>
<line x1="127.5" y1="304.4" x2="127.5" y2="327.4" stroke="#222" stroke-width="1.0"/>
<line x1="158.5" y1="323.2" x2="158.5" y2="344.0" stroke="#222" stroke-width="1.0"/>
<line x1="187.5" y1="331.6" x2="187.5" y2="359.2" stroke="#222" stroke-width="1.0"/>
<line x1="225.5" y1="371.0" x2="225.5" y2="392.1" stroke="#222" stroke-width="1.0"/>
<line x1="264.5" y1="389.5" x2="264.5" y2="410.5" stroke="#222" stroke-width="1.0"/>
<line x1="349.5" y1="327.9" x2="349.5" y2="339.6" stroke="#222" stroke-width="1.0"/>
<line x1="359.5" y1="363.5" x2="359.5" y2="383.6" stroke="#222" stroke-width="1.0"/>
<line x1="384.5" y1="396.6" x2="384.5" y2="416.0" stroke="#222" stroke-width="1.0"/>
<line x1="407.5" y1="400.6" x2="407.5" y2="419.2" stroke="#222" stroke-width="1.0"/>
<line x1="445.5" y1="421.4" x2="445.5" y2="442.4" stroke="#222" stroke-width="1.0"/>
<line x1="311.5" y1="422.3" x2="311.5" y2="444.9" stroke="#222" stroke-width="1.0"/>
<line x1="353.5" y1="442.4" x2="353.5" y2="462.5" stroke="#222" stroke-width="1.0"/>
<line x1="329.5" y1="448.6" x2="329.5" y2="471.8" stroke="#222" stroke-width="1.0"/>
<line x1="34.5" y1="381.3" x2="34.5" y2="402.8" stroke="#222" stroke-width="1.0"/>
<line x1="68.5" y1="391.5" x2="68.5" y2="413.0" stroke="#222" stroke-width="1.0"/>
<line x1="153.5" y1="449.3" x2="153.5" y2="472.4" stroke="#222" stroke-width="1.0"/>
<line x1="247.5" y1="484.5" x2="247.5" y2="505.1" stroke="#222" stroke-width="1.0"/>
<line x1="290.5" y1="520.3" x2="290.5" y2="539.8" stroke="#222" stroke-width="1.0"/>
<line x1="542.5" y1="483.5" x2="542.5" y2="502.8" stroke="#222" stroke-width="1.0"/>
<line x1="579.5" y1="518.0" x2="579.5" y2="536.8" stroke="#222" stroke-width="1.0"/>
<line x1="606.5" y1="535.4" x2="606.5" y2="555.5" stroke="#222" stroke-width="1.0"/>
<line x1="64.5" y1="637.3" x2="64.5" y2="657.8" stroke="#222" stroke-width="1.0"/>
<line x1="109.5" y1="657.8" x2="109.5" y2="677.1" stroke="#222" stroke-width="1.0"/>
<line x1="142.5" y1="664.6" x2="142.5" y2="686.7" stroke="#222" stroke-width="1.0"/>
<line x1="183.5" y1="629.5" x2="183.5" y2="651.0" stroke="#222" stroke-width="1.0"/>
<line x1="223.5" y1="658.6" x2="223.5" y2="678.7" stroke="#222" stroke-width="1.0"/>
<line x1="252.5" y1="682.7" x2="252.5" y2="700.4" stroke="#222" stroke-width="1.0"/>
<line x1="285.5" y1="757.0" x2="285.5" y2="778.7" stroke="#222" stroke-width="1.0"/>
<line x1="318.5" y1="772.5" x2="318.5" y2="792.3" stroke="#222" stroke-width="1.0"/>
<line x1="350.5" y1="788.0" x2="350.5" y2="807.2" stroke="#222" stroke-width="1.0"/>
<line x1="64.5" y1="773.8" x2="64.5" y2="798.9" stroke="#222" stroke-width="1.0"/>
<line x1="118.5" y1="794.7" x2="118.5" y2="817.5" stroke="#222" stroke-width="1.0"/>
<line x1="381.5" y1="559.1" x2="381.5" y2="579.5" stroke="#222" stroke-width="1.0"/>
<line x1="407.5" y1="590.7" x2="407.5" y2="611.2" stroke="#222" stroke-width="1.0"/>
<line x1="435.5" y1="592.1" x2="435.5" y2="613.5" stroke="#222" stroke-width="1.0"/>
<line x1="468.5" y1="617.0" x2="468.5" y2="639.0" stroke="#222" stroke-width="1.0"/>
<line x1="334.5" y1="618.0" x2="334.5" y2="639.0" stroke="#222" stroke-width="1.0"/>
<line x1="376.5" y1="639.0" x2="376.5" y2="655.4" stroke="#222" stroke-width="1.0"/>
<line x1="352.5" y1="644.2" x2="352.5" y2="666.3" stroke="#222" stroke-width="1.0"/>
<line x1="533.5" y1="665.8" x2="533.5" y2="685.6" stroke="#222" stroke-width="1.0"/>
<line x1="568.5" y1="680.4" x2="568.5" y2="701.0" stroke="#222" stroke-width="1.0"/>
<line x1="504.5" y1="699.7" x2="504.5" y2="719.0" stroke="#222" stroke-width="1.0"/>
<line x1="598.5" y1="704.3" x2="598.5" y2="725.4" stroke="#222" stroke-width="1.0"/>
<path d="M491.7 450L491.7 460.4L512.7 460.4L512.7 450" fill="none" stroke="#333" stroke-width="1.1" stroke-linejoin="round" />
<path d="M502.6 460.4L502.6 480.6" fill="none" stroke="#333" stroke-width="1.1" stroke-linejoin="round" />
<path d="M486.6 636.3L499 636.3" fill="none" stroke="#333" stroke-width="1.1" stroke-linejoin="round" />
</svg></body></html>
